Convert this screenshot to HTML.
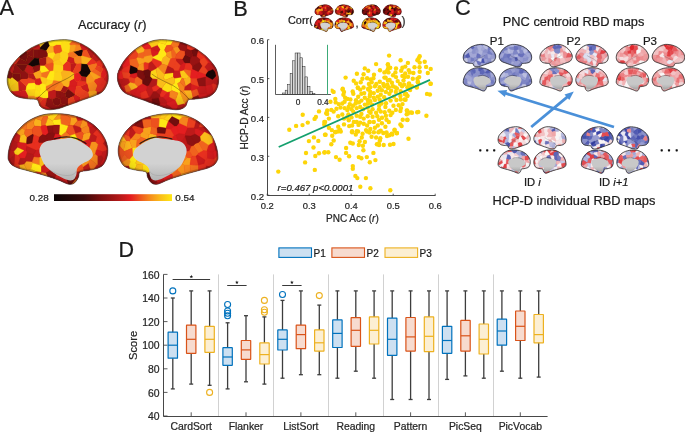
<!DOCTYPE html>
<html><head><meta charset="utf-8"><style>
html,body{margin:0;padding:0;background:#fff;}
svg{display:block;}
text{font-family:"Liberation Sans", sans-serif;stroke-width:0.22px;}
svg{will-change:transform;}
</style></head><body>
<svg width="685" height="432" viewBox="0 0 685 432">
<defs><clipPath id="k1"><path d="M14.4,162.0C14.3,158.7 14.3,156.3 15.2,152.0C16.1,147.7 17.5,140.9 20.0,136.0C22.5,131.1 26.9,126.4 30.2,122.4C33.5,118.4 36.6,115.1 40.0,112.0C43.4,108.9 46.7,106.7 50.4,104.0C54.1,101.3 57.5,98.5 62.0,96.0C66.5,93.5 72.2,90.8 77.2,88.8C82.2,86.8 86.4,85.4 92.0,84.0C97.6,82.6 103.7,81.2 110.8,80.4C117.9,79.6 126.6,78.6 134.4,79.4C142.2,80.2 150.0,82.2 157.8,85.4C165.6,88.6 174.1,93.2 181.4,98.8C188.7,104.4 196.1,112.3 201.4,119.0C206.7,125.7 210.7,133.7 213.2,139.2C215.7,144.7 216.3,147.4 216.6,152.0C216.9,156.6 216.8,161.5 214.8,166.8C212.8,172.1 209.3,179.4 204.8,183.6C200.3,187.8 194.1,189.4 188.0,192.0C181.9,194.6 174.2,196.8 168.0,199.0C161.8,201.2 157.0,203.2 151.0,205.4C145.0,207.6 137.6,210.0 132.0,212.0C126.4,214.0 122.9,215.9 117.6,217.2C112.3,218.5 104.9,219.5 100.0,219.6C95.1,219.7 91.3,218.9 88.0,217.6C84.7,216.3 81.9,214.4 80.0,212.0C78.1,209.6 77.8,205.1 76.6,203.0C75.4,200.9 75.8,200.0 73.0,199.2C70.2,198.4 64.8,198.5 60.0,198.0C55.2,197.5 48.8,197.0 44.0,196.0C39.2,195.0 34.8,194.2 31.0,192.0C27.2,189.8 23.5,186.3 21.0,183.0C18.5,179.7 17.1,175.5 16.0,172.0C14.9,168.5 14.5,165.3 14.4,162.0Z"/></clipPath><radialGradient id="r2" cx="0.5" cy="0.42" r="0.62"><stop offset="0.62" stop-color="#000" stop-opacity="0"/><stop offset="1" stop-color="#000" stop-opacity="0.18"/></radialGradient><clipPath id="k3"><path d="M437.2,162.0C437.3,158.7 437.3,156.3 436.4,152.0C435.5,147.7 434.1,140.9 431.6,136.0C429.1,131.1 424.7,126.4 421.4,122.4C418.1,118.4 415.0,115.1 411.6,112.0C408.2,108.9 404.9,106.7 401.2,104.0C397.5,101.3 394.1,98.5 389.6,96.0C385.1,93.5 379.4,90.8 374.4,88.8C369.4,86.8 365.2,85.4 359.6,84.0C354.0,82.6 347.9,81.2 340.8,80.4C333.7,79.6 325.0,78.6 317.2,79.4C309.4,80.2 301.6,82.2 293.8,85.4C286.0,88.6 277.5,93.2 270.2,98.8C262.9,104.4 255.5,112.3 250.2,119.0C244.9,125.7 240.9,133.7 238.4,139.2C235.9,144.7 235.3,147.4 235.0,152.0C234.7,156.6 234.8,161.5 236.8,166.8C238.8,172.1 242.3,179.4 246.8,183.6C251.3,187.8 257.5,189.4 263.6,192.0C269.7,194.6 277.4,196.8 283.6,199.0C289.8,201.2 294.6,203.2 300.6,205.4C306.6,207.6 314.0,210.0 319.6,212.0C325.2,214.0 328.7,215.9 334.0,217.2C339.3,218.5 346.7,219.5 351.6,219.6C356.5,219.7 360.3,218.9 363.6,217.6C366.9,216.3 369.7,214.4 371.6,212.0C373.5,209.6 373.8,205.1 375.0,203.0C376.2,200.9 375.8,200.0 378.6,199.2C381.4,198.4 386.8,198.5 391.6,198.0C396.4,197.5 402.8,197.0 407.6,196.0C412.4,195.0 416.8,194.2 420.6,192.0C424.4,189.8 428.1,186.3 430.6,183.0C433.1,179.7 434.5,175.5 435.6,172.0C436.7,168.5 437.1,165.3 437.2,162.0Z"/></clipPath><radialGradient id="r4" cx="0.5" cy="0.42" r="0.62"><stop offset="0.62" stop-color="#000" stop-opacity="0"/><stop offset="1" stop-color="#000" stop-opacity="0.18"/></radialGradient><clipPath id="k5"><path d="M16.0,314.0C16.2,309.3 17.0,301.0 19.0,294.0C21.0,287.0 24.2,278.7 28.0,272.0C31.8,265.3 36.7,259.3 42.0,254.0C47.3,248.7 53.0,244.0 60.0,240.0C67.0,236.0 75.7,232.1 84.0,230.0C92.3,227.9 101.3,227.4 110.0,227.2C118.7,227.0 127.7,227.7 136.0,229.0C144.3,230.3 152.3,232.2 160.0,235.0C167.7,237.8 175.7,241.8 182.0,246.0C188.3,250.2 193.3,254.7 198.0,260.0C202.7,265.3 207.1,272.0 210.0,278.0C212.9,284.0 214.7,290.0 215.4,296.0C216.1,302.0 215.6,308.3 214.0,314.0C212.4,319.7 209.3,326.2 206.0,330.0C202.7,333.8 199.0,335.2 194.0,337.0C189.0,338.8 181.7,339.8 176.0,341.0C170.3,342.2 163.2,341.8 160.0,344.0C156.8,346.2 158.7,350.5 157.0,354.0C155.3,357.5 152.8,362.5 150.0,365.0C147.2,367.5 143.7,369.0 140.0,369.0C136.3,369.0 132.3,366.7 128.0,365.0C123.7,363.3 119.3,361.0 114.0,359.0C108.7,357.0 102.3,355.0 96.0,353.0C89.7,351.0 83.0,349.0 76.0,347.0C69.0,345.0 60.7,342.8 54.0,341.0C47.3,339.2 41.0,337.8 36.0,336.0C31.0,334.2 27.0,332.3 24.0,330.0C21.0,327.7 19.3,324.7 18.0,322.0C16.7,319.3 15.8,318.7 16.0,314.0Z"/></clipPath><radialGradient id="r6" cx="0.5" cy="0.42" r="0.62"><stop offset="0.62" stop-color="#000" stop-opacity="0"/><stop offset="1" stop-color="#000" stop-opacity="0.18"/></radialGradient><linearGradient id="g7" x1="0" y1="0" x2="0" y2="1"><stop offset="0" stop-color="#d2d2d2"/><stop offset="0.6" stop-color="#d2d2d2"/><stop offset="1" stop-color="#b4b4b4"/></linearGradient><clipPath id="k8"><path d="M436.0,314.0C435.8,309.3 435.0,301.0 433.0,294.0C431.0,287.0 427.8,278.7 424.0,272.0C420.2,265.3 415.3,259.3 410.0,254.0C404.7,248.7 399.0,244.0 392.0,240.0C385.0,236.0 376.3,232.1 368.0,230.0C359.7,227.9 350.7,227.4 342.0,227.2C333.3,227.0 324.3,227.7 316.0,229.0C307.7,230.3 299.7,232.2 292.0,235.0C284.3,237.8 276.3,241.8 270.0,246.0C263.7,250.2 258.7,254.7 254.0,260.0C249.3,265.3 244.9,272.0 242.0,278.0C239.1,284.0 237.3,290.0 236.6,296.0C235.9,302.0 236.4,308.3 238.0,314.0C239.6,319.7 242.7,326.2 246.0,330.0C249.3,333.8 253.0,335.2 258.0,337.0C263.0,338.8 270.3,339.8 276.0,341.0C281.7,342.2 288.8,341.8 292.0,344.0C295.2,346.2 293.3,350.5 295.0,354.0C296.7,357.5 299.2,362.5 302.0,365.0C304.8,367.5 308.3,369.0 312.0,369.0C315.7,369.0 319.7,366.7 324.0,365.0C328.3,363.3 332.7,361.0 338.0,359.0C343.3,357.0 349.7,355.0 356.0,353.0C362.3,351.0 369.0,349.0 376.0,347.0C383.0,345.0 391.3,342.8 398.0,341.0C404.7,339.2 411.0,337.8 416.0,336.0C421.0,334.2 425.0,332.3 428.0,330.0C431.0,327.7 432.7,324.7 434.0,322.0C435.3,319.3 436.2,318.7 436.0,314.0Z"/></clipPath><radialGradient id="r9" cx="0.5" cy="0.42" r="0.62"><stop offset="0.62" stop-color="#000" stop-opacity="0"/><stop offset="1" stop-color="#000" stop-opacity="0.18"/></radialGradient><linearGradient id="g10" x1="0" y1="0" x2="0" y2="1"><stop offset="0" stop-color="#d2d2d2"/><stop offset="0.6" stop-color="#d2d2d2"/><stop offset="1" stop-color="#b4b4b4"/></linearGradient><linearGradient id="hotbar" x1="0" x2="1" y1="0" y2="0"><stop offset="0.00" stop-color="#0c0505"/><stop offset="0.05" stop-color="#150606"/><stop offset="0.10" stop-color="#1f0707"/><stop offset="0.15" stop-color="#280808"/><stop offset="0.20" stop-color="#320909"/><stop offset="0.25" stop-color="#3c0a0a"/><stop offset="0.30" stop-color="#510b0b"/><stop offset="0.35" stop-color="#670d0d"/><stop offset="0.40" stop-color="#7d0f0f"/><stop offset="0.45" stop-color="#8e1212"/><stop offset="0.50" stop-color="#a01515"/><stop offset="0.55" stop-color="#b21919"/><stop offset="0.60" stop-color="#ca1b1c"/><stop offset="0.65" stop-color="#e41e20"/><stop offset="0.70" stop-color="#ea401f"/><stop offset="0.75" stop-color="#f0631e"/><stop offset="0.80" stop-color="#f5841d"/><stop offset="0.85" stop-color="#f8a11c"/><stop offset="0.90" stop-color="#fabc1a"/><stop offset="0.95" stop-color="#fcd217"/><stop offset="1.00" stop-color="#ffe814"/></linearGradient><clipPath id="k11"><path d="M629.6,23.6C629.6,23.0 629.6,22.6 629.7,21.8C629.9,21.1 630.2,19.9 630.6,19.1C631.1,18.2 631.9,17.4 632.5,16.7C633.1,16.0 633.7,15.4 634.3,14.9C634.9,14.3 635.5,13.9 636.2,13.5C636.9,13.0 637.5,12.5 638.3,12.1C639.1,11.6 640.2,11.2 641.1,10.8C642.0,10.5 642.8,10.2 643.8,10.0C644.8,9.8 645.9,9.5 647.2,9.4C648.5,9.2 650.1,9.1 651.6,9.2C653.0,9.3 654.4,9.7 655.8,10.2C657.3,10.8 658.8,11.6 660.2,12.6C661.5,13.6 662.8,14.9 663.8,16.1C664.8,17.3 665.5,18.7 666.0,19.6C666.4,20.6 666.6,21.0 666.6,21.8C666.6,22.6 666.6,23.5 666.3,24.4C665.9,25.3 665.3,26.6 664.4,27.3C663.6,28.1 662.5,28.3 661.4,28.8C660.2,29.2 658.8,29.6 657.7,30.0C656.6,30.4 655.7,30.8 654.6,31.1C653.5,31.5 652.1,31.9 651.1,32.3C650.1,32.6 649.5,33.0 648.5,33.2C647.5,33.4 646.2,33.6 645.3,33.6C644.4,33.6 643.7,33.5 643.1,33.3C642.5,33.0 642.0,32.7 641.6,32.3C641.3,31.9 641.2,31.1 641.0,30.7C640.8,30.3 640.8,30.2 640.3,30.0C639.8,29.9 638.8,29.9 637.9,29.8C637.1,29.7 635.9,29.7 635.0,29.5C634.1,29.3 633.3,29.2 632.6,28.8C631.9,28.4 631.3,27.8 630.8,27.2C630.4,26.7 630.1,25.9 629.9,25.3C629.7,24.7 629.6,24.2 629.6,23.6Z"/></clipPath><radialGradient id="r12" cx="0.5" cy="0.42" r="0.62"><stop offset="0.62" stop-color="#000" stop-opacity="0"/><stop offset="1" stop-color="#000" stop-opacity="0.12"/></radialGradient><clipPath id="k13"><path d="M628.8,52.3C628.8,51.4 629.0,49.8 629.4,48.4C629.7,47.0 630.3,45.4 631.1,44.0C631.8,42.7 632.7,41.5 633.7,40.5C634.7,39.4 635.8,38.5 637.1,37.7C638.5,36.9 640.1,36.2 641.7,35.8C643.3,35.3 645.0,35.2 646.6,35.2C648.3,35.2 650.0,35.3 651.5,35.6C653.1,35.8 654.6,36.2 656.1,36.7C657.6,37.3 659.1,38.1 660.3,38.9C661.5,39.7 662.4,40.6 663.3,41.7C664.2,42.7 665.0,44.0 665.6,45.2C666.1,46.4 666.5,47.6 666.6,48.8C666.7,50.0 666.6,51.2 666.3,52.3C666.0,53.5 665.4,54.7 664.8,55.5C664.2,56.3 663.5,56.5 662.5,56.9C661.6,57.2 660.2,57.4 659.1,57.7C658.1,57.9 656.7,57.8 656.1,58.3C655.5,58.7 655.8,59.5 655.5,60.2C655.2,60.9 654.7,61.9 654.2,62.4C653.7,62.9 653.0,63.2 652.3,63.2C651.6,63.2 650.9,62.7 650.0,62.4C649.2,62.1 648.4,61.6 647.4,61.2C646.4,60.8 645.2,60.4 644.0,60.0C642.8,59.6 641.5,59.3 640.2,58.9C638.8,58.5 637.3,58.0 636.0,57.7C634.7,57.3 633.5,57.0 632.6,56.7C631.6,56.3 630.9,56.0 630.3,55.5C629.7,55.0 629.4,54.4 629.2,53.9C628.9,53.4 628.8,53.3 628.8,52.3Z"/></clipPath><radialGradient id="r14" cx="0.5" cy="0.42" r="0.62"><stop offset="0.62" stop-color="#000" stop-opacity="0"/><stop offset="1" stop-color="#000" stop-opacity="0.1"/></radialGradient><linearGradient id="g15" x1="0" y1="0" x2="0" y2="1"><stop offset="0" stop-color="#d2d2d2"/><stop offset="0.6" stop-color="#d2d2d2"/><stop offset="1" stop-color="#b4b4b4"/></linearGradient><clipPath id="k16"><path d="M707.2,23.6C707.2,23.0 707.2,22.6 707.1,21.8C706.9,21.1 706.6,19.9 706.2,19.1C705.7,18.2 704.9,17.4 704.3,16.7C703.7,16.0 703.1,15.4 702.5,14.9C701.9,14.3 701.3,13.9 700.6,13.5C699.9,13.0 699.3,12.5 698.5,12.1C697.7,11.6 696.6,11.2 695.7,10.8C694.8,10.5 694.0,10.2 693.0,10.0C692.0,9.8 690.9,9.5 689.6,9.4C688.3,9.2 686.7,9.1 685.2,9.2C683.8,9.3 682.4,9.7 681.0,10.2C679.5,10.8 678.0,11.6 676.6,12.6C675.3,13.6 674.0,14.9 673.0,16.1C672.0,17.3 671.3,18.7 670.8,19.6C670.4,20.6 670.2,21.0 670.2,21.8C670.2,22.6 670.2,23.5 670.5,24.4C670.9,25.3 671.5,26.6 672.4,27.3C673.2,28.1 674.3,28.3 675.4,28.8C676.6,29.2 678.0,29.6 679.1,30.0C680.2,30.4 681.1,30.8 682.2,31.1C683.3,31.5 684.7,31.9 685.7,32.3C686.7,32.6 687.3,33.0 688.3,33.2C689.3,33.4 690.6,33.6 691.5,33.6C692.4,33.6 693.1,33.5 693.7,33.3C694.3,33.0 694.8,32.7 695.2,32.3C695.5,31.9 695.6,31.1 695.8,30.7C696.0,30.3 696.0,30.2 696.5,30.0C697.0,29.9 698.0,29.9 698.9,29.8C699.7,29.7 700.9,29.7 701.8,29.5C702.7,29.3 703.5,29.2 704.2,28.8C704.9,28.4 705.5,27.8 706.0,27.2C706.4,26.7 706.7,25.9 706.9,25.3C707.1,24.7 707.2,24.2 707.2,23.6Z"/></clipPath><radialGradient id="r17" cx="0.5" cy="0.42" r="0.62"><stop offset="0.62" stop-color="#000" stop-opacity="0"/><stop offset="1" stop-color="#000" stop-opacity="0.12"/></radialGradient><clipPath id="k18"><path d="M707.2,52.3C707.2,51.4 707.0,49.8 706.6,48.4C706.3,47.0 705.7,45.4 704.9,44.0C704.2,42.7 703.3,41.5 702.3,40.5C701.3,39.4 700.2,38.5 698.9,37.7C697.5,36.9 695.9,36.2 694.3,35.8C692.7,35.3 691.0,35.2 689.4,35.2C687.7,35.2 686.0,35.3 684.5,35.6C682.9,35.8 681.4,36.2 679.9,36.7C678.4,37.3 676.9,38.1 675.7,38.9C674.5,39.7 673.6,40.6 672.7,41.7C671.8,42.7 671.0,44.0 670.4,45.2C669.9,46.4 669.5,47.6 669.4,48.8C669.3,50.0 669.4,51.2 669.7,52.3C670.0,53.5 670.6,54.7 671.2,55.5C671.8,56.3 672.5,56.5 673.5,56.9C674.4,57.2 675.8,57.4 676.9,57.7C677.9,57.9 679.3,57.8 679.9,58.3C680.5,58.7 680.2,59.5 680.5,60.2C680.8,60.9 681.3,61.9 681.8,62.4C682.3,62.9 683.0,63.2 683.7,63.2C684.4,63.2 685.1,62.7 686.0,62.4C686.8,62.1 687.6,61.6 688.6,61.2C689.6,60.8 690.8,60.4 692.0,60.0C693.2,59.6 694.5,59.3 695.8,58.9C697.2,58.5 698.7,58.0 700.0,57.7C701.3,57.3 702.5,57.0 703.4,56.7C704.4,56.3 705.1,56.0 705.7,55.5C706.3,55.0 706.6,54.4 706.8,53.9C707.1,53.4 707.2,53.3 707.2,52.3Z"/></clipPath><radialGradient id="r19" cx="0.5" cy="0.42" r="0.62"><stop offset="0.62" stop-color="#000" stop-opacity="0"/><stop offset="1" stop-color="#000" stop-opacity="0.1"/></radialGradient><linearGradient id="g20" x1="0" y1="0" x2="0" y2="1"><stop offset="0" stop-color="#d2d2d2"/><stop offset="0.6" stop-color="#d2d2d2"/><stop offset="1" stop-color="#b4b4b4"/></linearGradient><clipPath id="k21"><path d="M724.0,23.6C724.0,23.0 724.0,22.6 724.1,21.8C724.3,21.1 724.6,19.9 725.0,19.1C725.5,18.2 726.3,17.4 726.9,16.7C727.5,16.0 728.1,15.4 728.7,14.9C729.3,14.3 729.9,13.9 730.6,13.5C731.3,13.0 731.9,12.5 732.7,12.1C733.5,11.6 734.6,11.2 735.5,10.8C736.4,10.5 737.2,10.2 738.2,10.0C739.2,9.8 740.3,9.5 741.6,9.4C742.9,9.2 744.5,9.1 746.0,9.2C747.4,9.3 748.8,9.7 750.2,10.2C751.7,10.8 753.2,11.6 754.6,12.6C755.9,13.6 757.2,14.9 758.2,16.1C759.2,17.3 759.9,18.7 760.4,19.6C760.8,20.6 761.0,21.0 761.0,21.8C761.0,22.6 761.0,23.5 760.7,24.4C760.3,25.3 759.7,26.6 758.8,27.3C758.0,28.1 756.9,28.3 755.8,28.8C754.6,29.2 753.2,29.6 752.1,30.0C751.0,30.4 750.1,30.8 749.0,31.1C747.9,31.5 746.5,31.9 745.5,32.3C744.5,32.6 743.9,33.0 742.9,33.2C741.9,33.4 740.6,33.6 739.7,33.6C738.8,33.6 738.1,33.5 737.5,33.3C736.9,33.0 736.4,32.7 736.0,32.3C735.7,31.9 735.6,31.1 735.4,30.7C735.2,30.3 735.2,30.2 734.7,30.0C734.2,29.9 733.2,29.9 732.3,29.8C731.5,29.7 730.3,29.7 729.4,29.5C728.5,29.3 727.7,29.2 727.0,28.8C726.3,28.4 725.7,27.8 725.2,27.2C724.8,26.7 724.5,25.9 724.3,25.3C724.1,24.7 724.0,24.2 724.0,23.6Z"/></clipPath><radialGradient id="r22" cx="0.5" cy="0.42" r="0.62"><stop offset="0.62" stop-color="#000" stop-opacity="0"/><stop offset="1" stop-color="#000" stop-opacity="0.12"/></radialGradient><clipPath id="k23"><path d="M723.2,52.3C723.2,51.4 723.4,49.8 723.8,48.4C724.1,47.0 724.7,45.4 725.5,44.0C726.2,42.7 727.1,41.5 728.1,40.5C729.1,39.4 730.2,38.5 731.5,37.7C732.9,36.9 734.5,36.2 736.1,35.8C737.7,35.3 739.4,35.2 741.0,35.2C742.7,35.2 744.4,35.3 745.9,35.6C747.5,35.8 749.0,36.2 750.5,36.7C752.0,37.3 753.5,38.1 754.7,38.9C755.9,39.7 756.8,40.6 757.7,41.7C758.6,42.7 759.4,44.0 760.0,45.2C760.5,46.4 760.9,47.6 761.0,48.8C761.1,50.0 761.0,51.2 760.7,52.3C760.4,53.5 759.8,54.7 759.2,55.5C758.6,56.3 757.9,56.5 756.9,56.9C756.0,57.2 754.6,57.4 753.5,57.7C752.5,57.9 751.1,57.8 750.5,58.3C749.9,58.7 750.2,59.5 749.9,60.2C749.6,60.9 749.1,61.9 748.6,62.4C748.1,62.9 747.4,63.2 746.7,63.2C746.0,63.2 745.3,62.7 744.4,62.4C743.6,62.1 742.8,61.6 741.8,61.2C740.8,60.8 739.6,60.4 738.4,60.0C737.2,59.6 735.9,59.3 734.6,58.9C733.2,58.5 731.7,58.0 730.4,57.7C729.1,57.3 727.9,57.0 727.0,56.7C726.0,56.3 725.3,56.0 724.7,55.5C724.1,55.0 723.8,54.4 723.6,53.9C723.3,53.4 723.2,53.3 723.2,52.3Z"/></clipPath><radialGradient id="r24" cx="0.5" cy="0.42" r="0.62"><stop offset="0.62" stop-color="#000" stop-opacity="0"/><stop offset="1" stop-color="#000" stop-opacity="0.1"/></radialGradient><linearGradient id="g25" x1="0" y1="0" x2="0" y2="1"><stop offset="0" stop-color="#d2d2d2"/><stop offset="0.6" stop-color="#d2d2d2"/><stop offset="1" stop-color="#b4b4b4"/></linearGradient><clipPath id="k26"><path d="M803.0,23.6C803.0,23.0 803.0,22.6 802.9,21.8C802.7,21.1 802.4,19.9 802.0,19.1C801.5,18.2 800.7,17.4 800.1,16.7C799.5,16.0 798.9,15.4 798.3,14.9C797.7,14.3 797.1,13.9 796.4,13.5C795.7,13.0 795.1,12.5 794.3,12.1C793.5,11.6 792.4,11.2 791.5,10.8C790.6,10.5 789.8,10.2 788.8,10.0C787.8,9.8 786.7,9.5 785.4,9.4C784.1,9.2 782.5,9.1 781.0,9.2C779.6,9.3 778.2,9.7 776.8,10.2C775.3,10.8 773.8,11.6 772.4,12.6C771.1,13.6 769.8,14.9 768.8,16.1C767.8,17.3 767.1,18.7 766.6,19.6C766.2,20.6 766.0,21.0 766.0,21.8C766.0,22.6 766.0,23.5 766.3,24.4C766.7,25.3 767.3,26.6 768.2,27.3C769.0,28.1 770.1,28.3 771.2,28.8C772.4,29.2 773.8,29.6 774.9,30.0C776.0,30.4 776.9,30.8 778.0,31.1C779.1,31.5 780.5,31.9 781.5,32.3C782.5,32.6 783.1,33.0 784.1,33.2C785.1,33.4 786.4,33.6 787.3,33.6C788.2,33.6 788.9,33.5 789.5,33.3C790.1,33.0 790.6,32.7 791.0,32.3C791.3,31.9 791.4,31.1 791.6,30.7C791.8,30.3 791.8,30.2 792.3,30.0C792.8,29.9 793.8,29.9 794.7,29.8C795.5,29.7 796.7,29.7 797.6,29.5C798.5,29.3 799.3,29.2 800.0,28.8C800.7,28.4 801.3,27.8 801.8,27.2C802.2,26.7 802.5,25.9 802.7,25.3C802.9,24.7 803.0,24.2 803.0,23.6Z"/></clipPath><radialGradient id="r27" cx="0.5" cy="0.42" r="0.62"><stop offset="0.62" stop-color="#000" stop-opacity="0"/><stop offset="1" stop-color="#000" stop-opacity="0.12"/></radialGradient><clipPath id="k28"><path d="M803.0,52.3C803.0,51.4 802.8,49.8 802.4,48.4C802.1,47.0 801.5,45.4 800.7,44.0C800.0,42.7 799.1,41.5 798.1,40.5C797.1,39.4 796.0,38.5 794.7,37.7C793.3,36.9 791.7,36.2 790.1,35.8C788.5,35.3 786.8,35.2 785.2,35.2C783.5,35.2 781.8,35.3 780.3,35.6C778.7,35.8 777.2,36.2 775.7,36.7C774.2,37.3 772.7,38.1 771.5,38.9C770.3,39.7 769.4,40.6 768.5,41.7C767.6,42.7 766.8,44.0 766.2,45.2C765.7,46.4 765.3,47.6 765.2,48.8C765.1,50.0 765.2,51.2 765.5,52.3C765.8,53.5 766.4,54.7 767.0,55.5C767.6,56.3 768.3,56.5 769.3,56.9C770.2,57.2 771.6,57.4 772.7,57.7C773.7,57.9 775.1,57.8 775.7,58.3C776.3,58.7 776.0,59.5 776.3,60.2C776.6,60.9 777.1,61.9 777.6,62.4C778.1,62.9 778.8,63.2 779.5,63.2C780.2,63.2 780.9,62.7 781.8,62.4C782.6,62.1 783.4,61.6 784.4,61.2C785.4,60.8 786.6,60.4 787.8,60.0C789.0,59.6 790.3,59.3 791.6,58.9C793.0,58.5 794.5,58.0 795.8,57.7C797.1,57.3 798.3,57.0 799.2,56.7C800.2,56.3 800.9,56.0 801.5,55.5C802.1,55.0 802.4,54.4 802.6,53.9C802.9,53.4 803.0,53.3 803.0,52.3Z"/></clipPath><radialGradient id="r29" cx="0.5" cy="0.42" r="0.62"><stop offset="0.62" stop-color="#000" stop-opacity="0"/><stop offset="1" stop-color="#000" stop-opacity="0.1"/></radialGradient><linearGradient id="g30" x1="0" y1="0" x2="0" y2="1"><stop offset="0" stop-color="#d2d2d2"/><stop offset="0.6" stop-color="#d2d2d2"/><stop offset="1" stop-color="#b4b4b4"/></linearGradient><clipPath id="k31"><path d="M926.4,115.2C926.4,114.1 926.4,113.4 926.7,112.0C927.0,110.6 927.4,108.5 928.2,106.9C929.0,105.3 930.4,103.8 931.5,102.5C932.6,101.3 933.5,100.2 934.6,99.2C935.7,98.2 936.8,97.5 938.0,96.7C939.2,95.8 940.3,94.9 941.7,94.1C943.1,93.3 945.0,92.4 946.6,91.8C948.2,91.2 949.5,90.7 951.3,90.3C953.1,89.8 955.1,89.4 957.4,89.1C959.7,88.9 962.5,88.5 965.0,88.8C967.5,89.1 970.0,89.7 972.5,90.7C975.0,91.8 977.7,93.2 980.1,95.0C982.4,96.8 984.8,99.3 986.5,101.5C988.2,103.6 989.5,106.2 990.3,107.9C991.1,109.7 991.3,110.5 991.4,112.0C991.5,113.5 991.5,115.0 990.8,116.7C990.2,118.4 989.0,120.8 987.6,122.1C986.2,123.4 984.2,124.0 982.2,124.8C980.2,125.6 977.8,126.3 975.8,127.0C973.8,127.7 972.2,128.4 970.3,129.1C968.4,129.8 966.0,130.5 964.2,131.2C962.4,131.8 961.3,132.4 959.6,132.8C957.9,133.2 955.5,133.6 953.9,133.6C952.3,133.6 951.1,133.4 950.1,133.0C949.0,132.6 948.1,131.9 947.5,131.2C946.9,130.4 946.8,129.0 946.4,128.3C946.0,127.6 946.1,127.3 945.2,127.1C944.3,126.8 942.6,126.9 941.1,126.7C939.5,126.5 937.5,126.4 935.9,126.1C934.4,125.7 933.0,125.5 931.7,124.8C930.5,124.1 929.3,123.0 928.5,121.9C927.7,120.8 927.3,119.5 926.9,118.4C926.6,117.3 926.4,116.3 926.4,115.2Z"/></clipPath><radialGradient id="r32" cx="0.5" cy="0.42" r="0.62"><stop offset="0.62" stop-color="#000" stop-opacity="0"/><stop offset="1" stop-color="#000" stop-opacity="0.08"/></radialGradient><clipPath id="k33"><path d="M1063.4,115.2C1063.4,114.1 1063.4,113.4 1063.1,112.0C1062.8,110.6 1062.4,108.5 1061.6,106.9C1060.8,105.3 1059.4,103.8 1058.3,102.5C1057.2,101.3 1056.3,100.2 1055.2,99.2C1054.1,98.2 1053.0,97.5 1051.8,96.7C1050.6,95.8 1049.5,94.9 1048.1,94.1C1046.7,93.3 1044.8,92.4 1043.2,91.8C1041.6,91.2 1040.3,90.7 1038.5,90.3C1036.7,89.8 1034.7,89.4 1032.4,89.1C1030.1,88.9 1027.3,88.5 1024.8,88.8C1022.3,89.1 1019.8,89.7 1017.3,90.7C1014.8,91.8 1012.1,93.2 1009.7,95.0C1007.4,96.8 1005.0,99.3 1003.3,101.5C1001.6,103.6 1000.3,106.2 999.5,107.9C998.7,109.7 998.5,110.5 998.4,112.0C998.3,113.5 998.3,115.0 999.0,116.7C999.6,118.4 1000.8,120.8 1002.2,122.1C1003.6,123.4 1005.6,124.0 1007.6,124.8C1009.6,125.6 1012.0,126.3 1014.0,127.0C1016.0,127.7 1017.6,128.4 1019.5,129.1C1021.4,129.8 1023.8,130.5 1025.6,131.2C1027.4,131.8 1028.5,132.4 1030.2,132.8C1031.9,133.2 1034.3,133.6 1035.9,133.6C1037.5,133.6 1038.7,133.4 1039.7,133.0C1040.8,132.6 1041.7,131.9 1042.3,131.2C1042.9,130.4 1043.0,129.0 1043.4,128.3C1043.8,127.6 1043.7,127.3 1044.6,127.1C1045.5,126.8 1047.2,126.9 1048.7,126.7C1050.3,126.5 1052.3,126.4 1053.9,126.1C1055.4,125.7 1056.8,125.5 1058.1,124.8C1059.3,124.1 1060.5,123.0 1061.3,121.9C1062.1,120.8 1062.5,119.5 1062.9,118.4C1063.2,117.3 1063.4,116.3 1063.4,115.2Z"/></clipPath><radialGradient id="r34" cx="0.5" cy="0.42" r="0.62"><stop offset="0.62" stop-color="#000" stop-opacity="0"/><stop offset="1" stop-color="#000" stop-opacity="0.08"/></radialGradient><clipPath id="k35"><path d="M926.4,164.0C926.5,162.5 926.7,159.8 927.4,157.4C928.0,155.1 929.1,152.4 930.3,150.2C931.6,148.0 933.1,146.0 934.9,144.2C936.6,142.5 938.5,140.9 940.7,139.6C943.0,138.3 945.9,137.0 948.6,136.3C951.3,135.6 954.2,135.5 957.0,135.4C959.9,135.3 962.8,135.6 965.5,136.0C968.2,136.4 970.8,137.0 973.3,138.0C975.8,138.9 978.4,140.2 980.5,141.6C982.6,143.0 984.2,144.5 985.7,146.2C987.2,148.0 988.7,150.2 989.6,152.2C990.6,154.1 991.2,156.1 991.4,158.1C991.6,160.1 991.5,162.2 990.9,164.0C990.4,165.9 989.4,168.1 988.3,169.3C987.2,170.6 986.1,171.0 984.4,171.6C982.8,172.2 980.4,172.6 978.6,173.0C976.7,173.3 974.4,173.2 973.3,173.9C972.3,174.7 972.9,176.1 972.4,177.2C971.8,178.4 971.0,180.1 970.1,180.9C969.2,181.7 968.0,182.2 966.8,182.2C965.6,182.2 964.3,181.4 962.9,180.9C961.5,180.3 960.1,179.6 958.3,178.9C956.6,178.2 954.5,177.6 952.5,176.9C950.4,176.3 948.2,175.6 946.0,174.9C943.7,174.3 941.0,173.6 938.8,173.0C936.6,172.4 934.5,171.9 932.9,171.3C931.3,170.7 930.0,170.1 929.0,169.3C928.0,168.6 927.5,167.6 927.1,166.7C926.6,165.8 926.3,165.6 926.4,164.0Z"/></clipPath><radialGradient id="r36" cx="0.5" cy="0.42" r="0.62"><stop offset="0.62" stop-color="#000" stop-opacity="0"/><stop offset="1" stop-color="#000" stop-opacity="0.08"/></radialGradient><linearGradient id="g37" x1="0" y1="0" x2="0" y2="1"><stop offset="0" stop-color="#c8c8c8"/><stop offset="0.6" stop-color="#c8c8c8"/><stop offset="1" stop-color="#a8a8a8"/></linearGradient><clipPath id="k38"><path d="M1063.4,164.0C1063.3,162.5 1063.1,159.8 1062.4,157.4C1061.8,155.1 1060.7,152.4 1059.5,150.2C1058.2,148.0 1056.7,146.0 1054.9,144.2C1053.2,142.5 1051.3,140.9 1049.1,139.6C1046.8,138.3 1043.9,137.0 1041.2,136.3C1038.5,135.6 1035.6,135.5 1032.8,135.4C1029.9,135.3 1027.0,135.6 1024.3,136.0C1021.6,136.4 1019.0,137.0 1016.5,138.0C1014.0,138.9 1011.4,140.2 1009.3,141.6C1007.2,143.0 1005.6,144.5 1004.1,146.2C1002.6,148.0 1001.1,150.2 1000.2,152.2C999.2,154.1 998.6,156.1 998.4,158.1C998.2,160.1 998.3,162.2 998.9,164.0C999.4,165.9 1000.4,168.1 1001.5,169.3C1002.6,170.6 1003.7,171.0 1005.4,171.6C1007.0,172.2 1009.4,172.6 1011.2,173.0C1013.1,173.3 1015.4,173.2 1016.5,173.9C1017.5,174.7 1016.9,176.1 1017.4,177.2C1018.0,178.4 1018.8,180.1 1019.7,180.9C1020.6,181.7 1021.8,182.2 1023.0,182.2C1024.2,182.2 1025.5,181.4 1026.9,180.9C1028.3,180.3 1029.7,179.6 1031.5,178.9C1033.2,178.2 1035.3,177.6 1037.3,176.9C1039.4,176.3 1041.6,175.6 1043.8,174.9C1046.1,174.3 1048.8,173.6 1051.0,173.0C1053.2,172.4 1055.3,171.9 1056.9,171.3C1058.5,170.7 1059.8,170.1 1060.8,169.3C1061.8,168.6 1062.3,167.6 1062.7,166.7C1063.2,165.8 1063.5,165.6 1063.4,164.0Z"/></clipPath><radialGradient id="r39" cx="0.5" cy="0.42" r="0.62"><stop offset="0.62" stop-color="#000" stop-opacity="0"/><stop offset="1" stop-color="#000" stop-opacity="0.08"/></radialGradient><linearGradient id="g40" x1="0" y1="0" x2="0" y2="1"><stop offset="0" stop-color="#c8c8c8"/><stop offset="0.6" stop-color="#c8c8c8"/><stop offset="1" stop-color="#a8a8a8"/></linearGradient><clipPath id="k41"><path d="M1079.6,115.2C1079.6,114.1 1079.6,113.4 1079.9,112.0C1080.2,110.6 1080.6,108.5 1081.4,106.9C1082.2,105.3 1083.6,103.8 1084.7,102.5C1085.8,101.3 1086.7,100.2 1087.8,99.2C1088.9,98.2 1090.0,97.5 1091.2,96.7C1092.4,95.8 1093.5,94.9 1094.9,94.1C1096.3,93.3 1098.2,92.4 1099.8,91.8C1101.4,91.2 1102.7,90.7 1104.5,90.3C1106.3,89.8 1108.3,89.4 1110.6,89.1C1112.9,88.9 1115.7,88.5 1118.2,88.8C1120.7,89.1 1123.2,89.7 1125.7,90.7C1128.2,91.8 1130.9,93.2 1133.3,95.0C1135.6,96.8 1138.0,99.3 1139.7,101.5C1141.4,103.6 1142.7,106.2 1143.5,107.9C1144.3,109.7 1144.5,110.5 1144.6,112.0C1144.7,113.5 1144.7,115.0 1144.0,116.7C1143.4,118.4 1142.2,120.8 1140.8,122.1C1139.4,123.4 1137.4,124.0 1135.4,124.8C1133.4,125.6 1131.0,126.3 1129.0,127.0C1127.0,127.7 1125.4,128.4 1123.5,129.1C1121.6,129.8 1119.2,130.5 1117.4,131.2C1115.6,131.8 1114.5,132.4 1112.8,132.8C1111.1,133.2 1108.7,133.6 1107.1,133.6C1105.5,133.6 1104.3,133.4 1103.3,133.0C1102.2,132.6 1101.3,131.9 1100.7,131.2C1100.1,130.4 1100.0,129.0 1099.6,128.3C1099.2,127.6 1099.3,127.3 1098.4,127.1C1097.5,126.8 1095.8,126.9 1094.3,126.7C1092.7,126.5 1090.7,126.4 1089.1,126.1C1087.6,125.7 1086.2,125.5 1084.9,124.8C1083.7,124.1 1082.5,123.0 1081.7,121.9C1080.9,120.8 1080.5,119.5 1080.1,118.4C1079.8,117.3 1079.6,116.3 1079.6,115.2Z"/></clipPath><radialGradient id="r42" cx="0.5" cy="0.42" r="0.62"><stop offset="0.62" stop-color="#000" stop-opacity="0"/><stop offset="1" stop-color="#000" stop-opacity="0.08"/></radialGradient><clipPath id="k43"><path d="M1216.6,115.2C1216.6,114.1 1216.6,113.4 1216.3,112.0C1216.0,110.6 1215.6,108.5 1214.8,106.9C1214.0,105.3 1212.6,103.8 1211.5,102.5C1210.4,101.3 1209.5,100.2 1208.4,99.2C1207.3,98.2 1206.2,97.5 1205.0,96.7C1203.8,95.8 1202.7,94.9 1201.3,94.1C1199.9,93.3 1198.0,92.4 1196.4,91.8C1194.8,91.2 1193.5,90.7 1191.7,90.3C1189.9,89.8 1187.9,89.4 1185.6,89.1C1183.3,88.9 1180.5,88.5 1178.0,88.8C1175.5,89.1 1173.0,89.7 1170.5,90.7C1168.0,91.8 1165.3,93.2 1162.9,95.0C1160.6,96.8 1158.2,99.3 1156.5,101.5C1154.8,103.6 1153.5,106.2 1152.7,107.9C1151.9,109.7 1151.7,110.5 1151.6,112.0C1151.5,113.5 1151.5,115.0 1152.2,116.7C1152.8,118.4 1154.0,120.8 1155.4,122.1C1156.8,123.4 1158.8,124.0 1160.8,124.8C1162.8,125.6 1165.2,126.3 1167.2,127.0C1169.2,127.7 1170.8,128.4 1172.7,129.1C1174.6,129.8 1177.0,130.5 1178.8,131.2C1180.6,131.8 1181.7,132.4 1183.4,132.8C1185.1,133.2 1187.5,133.6 1189.1,133.6C1190.7,133.6 1191.9,133.4 1192.9,133.0C1194.0,132.6 1194.9,131.9 1195.5,131.2C1196.1,130.4 1196.2,129.0 1196.6,128.3C1197.0,127.6 1196.9,127.3 1197.8,127.1C1198.7,126.8 1200.4,126.9 1201.9,126.7C1203.5,126.5 1205.5,126.4 1207.1,126.1C1208.6,125.7 1210.0,125.5 1211.3,124.8C1212.5,124.1 1213.7,123.0 1214.5,121.9C1215.3,120.8 1215.7,119.5 1216.1,118.4C1216.4,117.3 1216.6,116.3 1216.6,115.2Z"/></clipPath><radialGradient id="r44" cx="0.5" cy="0.42" r="0.62"><stop offset="0.62" stop-color="#000" stop-opacity="0"/><stop offset="1" stop-color="#000" stop-opacity="0.08"/></radialGradient><clipPath id="k45"><path d="M1079.6,164.0C1079.7,162.5 1079.9,159.8 1080.6,157.4C1081.2,155.1 1082.3,152.4 1083.5,150.2C1084.8,148.0 1086.3,146.0 1088.1,144.2C1089.8,142.5 1091.7,140.9 1093.9,139.6C1096.2,138.3 1099.1,137.0 1101.8,136.3C1104.5,135.6 1107.4,135.5 1110.2,135.4C1113.1,135.3 1116.0,135.6 1118.7,136.0C1121.4,136.4 1124.0,137.0 1126.5,138.0C1129.0,138.9 1131.6,140.2 1133.7,141.6C1135.8,143.0 1137.4,144.5 1138.9,146.2C1140.4,148.0 1141.9,150.2 1142.8,152.2C1143.8,154.1 1144.4,156.1 1144.6,158.1C1144.8,160.1 1144.7,162.2 1144.1,164.0C1143.6,165.9 1142.6,168.1 1141.5,169.3C1140.4,170.6 1139.3,171.0 1137.6,171.6C1136.0,172.2 1133.6,172.6 1131.8,173.0C1129.9,173.3 1127.6,173.2 1126.5,173.9C1125.5,174.7 1126.1,176.1 1125.6,177.2C1125.0,178.4 1124.2,180.1 1123.3,180.9C1122.4,181.7 1121.2,182.2 1120.0,182.2C1118.8,182.2 1117.5,181.4 1116.1,180.9C1114.7,180.3 1113.3,179.6 1111.5,178.9C1109.8,178.2 1107.7,177.6 1105.7,176.9C1103.6,176.3 1101.4,175.6 1099.2,174.9C1096.9,174.3 1094.2,173.6 1092.0,173.0C1089.8,172.4 1087.7,171.9 1086.1,171.3C1084.5,170.7 1083.2,170.1 1082.2,169.3C1081.2,168.6 1080.7,167.6 1080.3,166.7C1079.8,165.8 1079.5,165.6 1079.6,164.0Z"/></clipPath><radialGradient id="r46" cx="0.5" cy="0.42" r="0.62"><stop offset="0.62" stop-color="#000" stop-opacity="0"/><stop offset="1" stop-color="#000" stop-opacity="0.08"/></radialGradient><linearGradient id="g47" x1="0" y1="0" x2="0" y2="1"><stop offset="0" stop-color="#c8c8c8"/><stop offset="0.6" stop-color="#c8c8c8"/><stop offset="1" stop-color="#a8a8a8"/></linearGradient><clipPath id="k48"><path d="M1216.6,164.0C1216.5,162.5 1216.3,159.8 1215.6,157.4C1215.0,155.1 1213.9,152.4 1212.7,150.2C1211.4,148.0 1209.9,146.0 1208.1,144.2C1206.4,142.5 1204.5,140.9 1202.3,139.6C1200.0,138.3 1197.1,137.0 1194.4,136.3C1191.7,135.6 1188.8,135.5 1186.0,135.4C1183.1,135.3 1180.2,135.6 1177.5,136.0C1174.8,136.4 1172.2,137.0 1169.7,138.0C1167.2,138.9 1164.6,140.2 1162.5,141.6C1160.4,143.0 1158.8,144.5 1157.3,146.2C1155.8,148.0 1154.3,150.2 1153.4,152.2C1152.4,154.1 1151.8,156.1 1151.6,158.1C1151.4,160.1 1151.5,162.2 1152.1,164.0C1152.6,165.9 1153.6,168.1 1154.7,169.3C1155.8,170.6 1156.9,171.0 1158.6,171.6C1160.2,172.2 1162.6,172.6 1164.4,173.0C1166.3,173.3 1168.6,173.2 1169.7,173.9C1170.7,174.7 1170.1,176.1 1170.6,177.2C1171.2,178.4 1172.0,180.1 1172.9,180.9C1173.8,181.7 1175.0,182.2 1176.2,182.2C1177.4,182.2 1178.7,181.4 1180.1,180.9C1181.5,180.3 1182.9,179.6 1184.7,178.9C1186.4,178.2 1188.5,177.6 1190.5,176.9C1192.6,176.3 1194.8,175.6 1197.0,174.9C1199.3,174.3 1202.0,173.6 1204.2,173.0C1206.4,172.4 1208.5,171.9 1210.1,171.3C1211.7,170.7 1213.0,170.1 1214.0,169.3C1215.0,168.6 1215.5,167.6 1215.9,166.7C1216.4,165.8 1216.7,165.6 1216.6,164.0Z"/></clipPath><radialGradient id="r49" cx="0.5" cy="0.42" r="0.62"><stop offset="0.62" stop-color="#000" stop-opacity="0"/><stop offset="1" stop-color="#000" stop-opacity="0.08"/></radialGradient><linearGradient id="g50" x1="0" y1="0" x2="0" y2="1"><stop offset="0" stop-color="#c8c8c8"/><stop offset="0.6" stop-color="#c8c8c8"/><stop offset="1" stop-color="#a8a8a8"/></linearGradient><clipPath id="k51"><path d="M1232.4,115.2C1232.4,114.1 1232.4,113.4 1232.7,112.0C1233.0,110.6 1233.4,108.5 1234.2,106.9C1235.0,105.3 1236.4,103.8 1237.5,102.5C1238.6,101.3 1239.5,100.2 1240.6,99.2C1241.7,98.2 1242.8,97.5 1244.0,96.7C1245.2,95.8 1246.3,94.9 1247.7,94.1C1249.1,93.3 1251.0,92.4 1252.6,91.8C1254.2,91.2 1255.5,90.7 1257.3,90.3C1259.1,89.8 1261.1,89.4 1263.4,89.1C1265.7,88.9 1268.5,88.5 1271.0,88.8C1273.5,89.1 1276.0,89.7 1278.5,90.7C1281.0,91.8 1283.7,93.2 1286.1,95.0C1288.4,96.8 1290.8,99.3 1292.5,101.5C1294.2,103.6 1295.5,106.2 1296.3,107.9C1297.1,109.7 1297.3,110.5 1297.4,112.0C1297.5,113.5 1297.5,115.0 1296.8,116.7C1296.2,118.4 1295.0,120.8 1293.6,122.1C1292.2,123.4 1290.2,124.0 1288.2,124.8C1286.2,125.6 1283.8,126.3 1281.8,127.0C1279.8,127.7 1278.2,128.4 1276.3,129.1C1274.4,129.8 1272.0,130.5 1270.2,131.2C1268.4,131.8 1267.3,132.4 1265.6,132.8C1263.9,133.2 1261.5,133.6 1259.9,133.6C1258.3,133.6 1257.1,133.4 1256.1,133.0C1255.0,132.6 1254.1,131.9 1253.5,131.2C1252.9,130.4 1252.8,129.0 1252.4,128.3C1252.0,127.6 1252.1,127.3 1251.2,127.1C1250.3,126.8 1248.6,126.9 1247.1,126.7C1245.5,126.5 1243.5,126.4 1241.9,126.1C1240.4,125.7 1239.0,125.5 1237.7,124.8C1236.5,124.1 1235.3,123.0 1234.5,121.9C1233.7,120.8 1233.3,119.5 1232.9,118.4C1232.6,117.3 1232.4,116.3 1232.4,115.2Z"/></clipPath><radialGradient id="r52" cx="0.5" cy="0.42" r="0.62"><stop offset="0.62" stop-color="#000" stop-opacity="0"/><stop offset="1" stop-color="#000" stop-opacity="0.08"/></radialGradient><clipPath id="k53"><path d="M1369.4,115.2C1369.4,114.1 1369.4,113.4 1369.1,112.0C1368.8,110.6 1368.4,108.5 1367.6,106.9C1366.8,105.3 1365.4,103.8 1364.3,102.5C1363.2,101.3 1362.3,100.2 1361.2,99.2C1360.1,98.2 1359.0,97.5 1357.8,96.7C1356.6,95.8 1355.5,94.9 1354.1,94.1C1352.7,93.3 1350.8,92.4 1349.2,91.8C1347.6,91.2 1346.3,90.7 1344.5,90.3C1342.7,89.8 1340.7,89.4 1338.4,89.1C1336.1,88.9 1333.3,88.5 1330.8,88.8C1328.3,89.1 1325.8,89.7 1323.3,90.7C1320.8,91.8 1318.1,93.2 1315.7,95.0C1313.4,96.8 1311.0,99.3 1309.3,101.5C1307.6,103.6 1306.3,106.2 1305.5,107.9C1304.7,109.7 1304.5,110.5 1304.4,112.0C1304.3,113.5 1304.3,115.0 1305.0,116.7C1305.6,118.4 1306.8,120.8 1308.2,122.1C1309.6,123.4 1311.6,124.0 1313.6,124.8C1315.6,125.6 1318.0,126.3 1320.0,127.0C1322.0,127.7 1323.6,128.4 1325.5,129.1C1327.4,129.8 1329.8,130.5 1331.6,131.2C1333.4,131.8 1334.5,132.4 1336.2,132.8C1337.9,133.2 1340.3,133.6 1341.9,133.6C1343.5,133.6 1344.7,133.4 1345.7,133.0C1346.8,132.6 1347.7,131.9 1348.3,131.2C1348.9,130.4 1349.0,129.0 1349.4,128.3C1349.8,127.6 1349.7,127.3 1350.6,127.1C1351.5,126.8 1353.2,126.9 1354.7,126.7C1356.3,126.5 1358.3,126.4 1359.9,126.1C1361.4,125.7 1362.8,125.5 1364.1,124.8C1365.3,124.1 1366.5,123.0 1367.3,121.9C1368.1,120.8 1368.5,119.5 1368.9,118.4C1369.2,117.3 1369.4,116.3 1369.4,115.2Z"/></clipPath><radialGradient id="r54" cx="0.5" cy="0.42" r="0.62"><stop offset="0.62" stop-color="#000" stop-opacity="0"/><stop offset="1" stop-color="#000" stop-opacity="0.08"/></radialGradient><clipPath id="k55"><path d="M1232.4,164.0C1232.5,162.5 1232.7,159.8 1233.4,157.4C1234.0,155.1 1235.1,152.4 1236.3,150.2C1237.6,148.0 1239.1,146.0 1240.9,144.2C1242.6,142.5 1244.5,140.9 1246.7,139.6C1249.0,138.3 1251.9,137.0 1254.6,136.3C1257.3,135.6 1260.2,135.5 1263.0,135.4C1265.9,135.3 1268.8,135.6 1271.5,136.0C1274.2,136.4 1276.8,137.0 1279.3,138.0C1281.8,138.9 1284.4,140.2 1286.5,141.6C1288.6,143.0 1290.2,144.5 1291.7,146.2C1293.2,148.0 1294.7,150.2 1295.6,152.2C1296.6,154.1 1297.2,156.1 1297.4,158.1C1297.6,160.1 1297.5,162.2 1296.9,164.0C1296.4,165.9 1295.4,168.1 1294.3,169.3C1293.2,170.6 1292.1,171.0 1290.4,171.6C1288.8,172.2 1286.4,172.6 1284.6,173.0C1282.7,173.3 1280.4,173.2 1279.3,173.9C1278.3,174.7 1278.9,176.1 1278.4,177.2C1277.8,178.4 1277.0,180.1 1276.1,180.9C1275.2,181.7 1274.0,182.2 1272.8,182.2C1271.6,182.2 1270.3,181.4 1268.9,180.9C1267.5,180.3 1266.1,179.6 1264.3,178.9C1262.6,178.2 1260.5,177.6 1258.5,176.9C1256.4,176.3 1254.2,175.6 1252.0,174.9C1249.7,174.3 1247.0,173.6 1244.8,173.0C1242.6,172.4 1240.5,171.9 1238.9,171.3C1237.3,170.7 1236.0,170.1 1235.0,169.3C1234.0,168.6 1233.5,167.6 1233.1,166.7C1232.6,165.8 1232.3,165.6 1232.4,164.0Z"/></clipPath><radialGradient id="r56" cx="0.5" cy="0.42" r="0.62"><stop offset="0.62" stop-color="#000" stop-opacity="0"/><stop offset="1" stop-color="#000" stop-opacity="0.08"/></radialGradient><linearGradient id="g57" x1="0" y1="0" x2="0" y2="1"><stop offset="0" stop-color="#c8c8c8"/><stop offset="0.6" stop-color="#c8c8c8"/><stop offset="1" stop-color="#a8a8a8"/></linearGradient><clipPath id="k58"><path d="M1369.4,164.0C1369.3,162.5 1369.1,159.8 1368.4,157.4C1367.8,155.1 1366.7,152.4 1365.5,150.2C1364.2,148.0 1362.7,146.0 1360.9,144.2C1359.2,142.5 1357.3,140.9 1355.1,139.6C1352.8,138.3 1349.9,137.0 1347.2,136.3C1344.5,135.6 1341.6,135.5 1338.8,135.4C1335.9,135.3 1333.0,135.6 1330.3,136.0C1327.6,136.4 1325.0,137.0 1322.5,138.0C1320.0,138.9 1317.4,140.2 1315.3,141.6C1313.2,143.0 1311.6,144.5 1310.1,146.2C1308.6,148.0 1307.1,150.2 1306.2,152.2C1305.2,154.1 1304.6,156.1 1304.4,158.1C1304.2,160.1 1304.3,162.2 1304.9,164.0C1305.4,165.9 1306.4,168.1 1307.5,169.3C1308.6,170.6 1309.7,171.0 1311.4,171.6C1313.0,172.2 1315.4,172.6 1317.2,173.0C1319.1,173.3 1321.4,173.2 1322.5,173.9C1323.5,174.7 1322.9,176.1 1323.4,177.2C1324.0,178.4 1324.8,180.1 1325.7,180.9C1326.6,181.7 1327.8,182.2 1329.0,182.2C1330.2,182.2 1331.5,181.4 1332.9,180.9C1334.3,180.3 1335.7,179.6 1337.5,178.9C1339.2,178.2 1341.3,177.6 1343.3,176.9C1345.4,176.3 1347.6,175.6 1349.8,174.9C1352.1,174.3 1354.8,173.6 1357.0,173.0C1359.2,172.4 1361.3,171.9 1362.9,171.3C1364.5,170.7 1365.8,170.1 1366.8,169.3C1367.8,168.6 1368.3,167.6 1368.7,166.7C1369.2,165.8 1369.5,165.6 1369.4,164.0Z"/></clipPath><radialGradient id="r59" cx="0.5" cy="0.42" r="0.62"><stop offset="0.62" stop-color="#000" stop-opacity="0"/><stop offset="1" stop-color="#000" stop-opacity="0.08"/></radialGradient><linearGradient id="g60" x1="0" y1="0" x2="0" y2="1"><stop offset="0" stop-color="#c8c8c8"/><stop offset="0.6" stop-color="#c8c8c8"/><stop offset="1" stop-color="#a8a8a8"/></linearGradient><clipPath id="k61"><path d="M996.0,279.7C996.0,278.6 996.0,277.9 996.3,276.5C996.6,275.1 997.0,273.0 997.8,271.4C998.6,269.8 1000.0,268.4 1001.0,267.1C1002.1,265.8 1003.1,264.7 1004.2,263.8C1005.3,262.8 1006.3,262.1 1007.5,261.2C1008.7,260.4 1009.8,259.5 1011.2,258.7C1012.6,257.9 1014.5,257.0 1016.1,256.4C1017.7,255.8 1019.0,255.3 1020.8,254.9C1022.6,254.4 1024.5,254.0 1026.8,253.7C1029.1,253.5 1031.8,253.1 1034.3,253.4C1036.8,253.7 1039.3,254.3 1041.8,255.3C1044.3,256.3 1047.0,257.8 1049.4,259.6C1051.7,261.4 1054.1,263.9 1055.7,266.0C1057.4,268.1 1058.7,270.7 1059.5,272.4C1060.3,274.2 1060.5,275.0 1060.6,276.5C1060.7,278.0 1060.7,279.5 1060.0,281.2C1059.4,282.9 1058.3,285.2 1056.8,286.5C1055.4,287.9 1053.4,288.4 1051.5,289.2C1049.5,290.0 1047.0,290.7 1045.1,291.4C1043.1,292.2 1041.6,292.8 1039.6,293.5C1037.7,294.2 1035.3,295.0 1033.6,295.6C1031.8,296.2 1030.7,296.8 1029.0,297.2C1027.3,297.6 1024.9,298.0 1023.3,298.0C1021.8,298.0 1020.6,297.8 1019.5,297.4C1018.4,297.0 1017.6,296.4 1017.0,295.6C1016.4,294.8 1016.2,293.4 1015.9,292.7C1015.5,292.0 1015.6,291.8 1014.7,291.5C1013.8,291.2 1012.1,291.3 1010.6,291.1C1009.0,291.0 1007.0,290.8 1005.5,290.5C1003.9,290.2 1002.5,289.9 1001.3,289.2C1000.1,288.5 998.9,287.4 998.1,286.4C997.3,285.3 996.9,284.0 996.5,282.9C996.2,281.7 996.0,280.7 996.0,279.7Z"/></clipPath><radialGradient id="r62" cx="0.5" cy="0.42" r="0.62"><stop offset="0.62" stop-color="#000" stop-opacity="0"/><stop offset="1" stop-color="#000" stop-opacity="0.08"/></radialGradient><clipPath id="k63"><path d="M1132.2,279.7C1132.2,278.6 1132.2,277.9 1131.9,276.5C1131.6,275.1 1131.2,273.0 1130.4,271.4C1129.6,269.8 1128.2,268.4 1127.2,267.1C1126.1,265.8 1125.1,264.7 1124.0,263.8C1122.9,262.8 1121.9,262.1 1120.7,261.2C1119.5,260.4 1118.4,259.5 1117.0,258.7C1115.6,257.9 1113.7,257.0 1112.1,256.4C1110.5,255.8 1109.2,255.3 1107.4,254.9C1105.6,254.4 1103.7,254.0 1101.4,253.7C1099.1,253.5 1096.4,253.1 1093.9,253.4C1091.4,253.7 1088.9,254.3 1086.4,255.3C1083.9,256.3 1081.2,257.8 1078.8,259.6C1076.5,261.4 1074.1,263.9 1072.5,266.0C1070.8,268.1 1069.5,270.7 1068.7,272.4C1067.9,274.2 1067.7,275.0 1067.6,276.5C1067.5,278.0 1067.5,279.5 1068.2,281.2C1068.8,282.9 1069.9,285.2 1071.4,286.5C1072.8,287.9 1074.8,288.4 1076.7,289.2C1078.7,290.0 1081.2,290.7 1083.1,291.4C1085.1,292.2 1086.6,292.8 1088.6,293.5C1090.5,294.2 1092.9,295.0 1094.6,295.6C1096.4,296.2 1097.5,296.8 1099.2,297.2C1100.9,297.6 1103.3,298.0 1104.9,298.0C1106.4,298.0 1107.6,297.8 1108.7,297.4C1109.8,297.0 1110.6,296.4 1111.2,295.6C1111.8,294.8 1112.0,293.4 1112.3,292.7C1112.7,292.0 1112.6,291.8 1113.5,291.5C1114.4,291.2 1116.1,291.3 1117.6,291.1C1119.2,291.0 1121.2,290.8 1122.7,290.5C1124.3,290.2 1125.7,289.9 1126.9,289.2C1128.1,288.5 1129.3,287.4 1130.1,286.4C1130.9,285.3 1131.3,284.0 1131.7,282.9C1132.0,281.7 1132.2,280.7 1132.2,279.7Z"/></clipPath><radialGradient id="r64" cx="0.5" cy="0.42" r="0.62"><stop offset="0.62" stop-color="#000" stop-opacity="0"/><stop offset="1" stop-color="#000" stop-opacity="0.08"/></radialGradient><clipPath id="k65"><path d="M996.0,328.4C996.1,326.9 996.3,324.2 997.0,321.8C997.6,319.5 998.6,316.8 999.9,314.6C1001.1,312.4 1002.7,310.4 1004.4,308.6C1006.2,306.9 1008.0,305.3 1010.3,304.0C1012.5,302.7 1015.3,301.4 1018.0,300.7C1020.7,300.0 1023.6,299.9 1026.5,299.8C1029.3,299.7 1032.2,300.0 1034.9,300.4C1037.6,300.8 1040.2,301.4 1042.7,302.4C1045.1,303.3 1047.7,304.6 1049.8,306.0C1051.8,307.4 1053.5,308.9 1055.0,310.6C1056.5,312.4 1057.9,314.6 1058.9,316.6C1059.8,318.5 1060.4,320.5 1060.6,322.5C1060.8,324.5 1060.7,326.6 1060.1,328.4C1059.6,330.3 1058.6,332.5 1057.6,333.7C1056.5,335.0 1055.3,335.4 1053.7,336.0C1052.0,336.6 1049.7,337.0 1047.8,337.4C1046.0,337.7 1043.7,337.6 1042.7,338.3C1041.6,339.1 1042.2,340.5 1041.7,341.6C1041.1,342.8 1040.3,344.5 1039.4,345.3C1038.5,346.1 1037.4,346.6 1036.2,346.6C1035.0,346.6 1033.7,345.8 1032.3,345.3C1030.9,344.7 1029.5,344.0 1027.7,343.3C1026.0,342.6 1024.0,342.0 1021.9,341.3C1019.9,340.7 1017.7,340.0 1015.4,339.3C1013.2,338.7 1010.5,338.0 1008.3,337.4C1006.2,336.8 1004.1,336.3 1002.5,335.7C1000.9,335.1 999.6,334.5 998.6,333.7C997.6,333.0 997.1,332.0 996.6,331.1C996.2,330.2 995.9,330.0 996.0,328.4Z"/></clipPath><radialGradient id="r66" cx="0.5" cy="0.42" r="0.62"><stop offset="0.62" stop-color="#000" stop-opacity="0"/><stop offset="1" stop-color="#000" stop-opacity="0.08"/></radialGradient><linearGradient id="g67" x1="0" y1="0" x2="0" y2="1"><stop offset="0" stop-color="#c8c8c8"/><stop offset="0.6" stop-color="#c8c8c8"/><stop offset="1" stop-color="#a8a8a8"/></linearGradient><clipPath id="k68"><path d="M1132.2,328.4C1132.1,326.9 1131.9,324.2 1131.2,321.8C1130.6,319.5 1129.6,316.8 1128.3,314.6C1127.1,312.4 1125.5,310.4 1123.8,308.6C1122.0,306.9 1120.2,305.3 1117.9,304.0C1115.7,302.7 1112.9,301.4 1110.2,300.7C1107.5,300.0 1104.6,299.9 1101.7,299.8C1098.9,299.7 1096.0,300.0 1093.3,300.4C1090.6,300.8 1088.0,301.4 1085.5,302.4C1083.1,303.3 1080.5,304.6 1078.4,306.0C1076.4,307.4 1074.7,308.9 1073.2,310.6C1071.7,312.4 1070.3,314.6 1069.3,316.6C1068.4,318.5 1067.8,320.5 1067.6,322.5C1067.4,324.5 1067.5,326.6 1068.1,328.4C1068.6,330.3 1069.6,332.5 1070.6,333.7C1071.7,335.0 1072.9,335.4 1074.5,336.0C1076.2,336.6 1078.5,337.0 1080.4,337.4C1082.2,337.7 1084.5,337.6 1085.5,338.3C1086.6,339.1 1086.0,340.5 1086.5,341.6C1087.1,342.8 1087.9,344.5 1088.8,345.3C1089.7,346.1 1090.8,346.6 1092.0,346.6C1093.2,346.6 1094.5,345.8 1095.9,345.3C1097.3,344.7 1098.7,344.0 1100.5,343.3C1102.2,342.6 1104.2,342.0 1106.3,341.3C1108.3,340.7 1110.5,340.0 1112.8,339.3C1115.0,338.7 1117.7,338.0 1119.9,337.4C1122.0,336.8 1124.1,336.3 1125.7,335.7C1127.3,335.1 1128.6,334.5 1129.6,333.7C1130.6,333.0 1131.1,332.0 1131.6,331.1C1132.0,330.2 1132.3,330.0 1132.2,328.4Z"/></clipPath><radialGradient id="r69" cx="0.5" cy="0.42" r="0.62"><stop offset="0.62" stop-color="#000" stop-opacity="0"/><stop offset="1" stop-color="#000" stop-opacity="0.08"/></radialGradient><linearGradient id="g70" x1="0" y1="0" x2="0" y2="1"><stop offset="0" stop-color="#c8c8c8"/><stop offset="0.6" stop-color="#c8c8c8"/><stop offset="1" stop-color="#a8a8a8"/></linearGradient><clipPath id="k71"><path d="M1162.6,279.9C1162.6,278.8 1162.6,278.1 1162.9,276.7C1163.1,275.3 1163.6,273.2 1164.4,271.6C1165.2,270.0 1166.5,268.6 1167.6,267.3C1168.7,266.0 1169.6,264.9 1170.7,264.0C1171.8,263.0 1172.8,262.3 1174.0,261.4C1175.2,260.6 1176.3,259.7 1177.7,258.9C1179.1,258.1 1180.9,257.2 1182.5,256.6C1184.1,256.0 1185.4,255.5 1187.2,255.1C1188.9,254.6 1190.9,254.2 1193.1,253.9C1195.3,253.7 1198.1,253.3 1200.6,253.6C1203.1,253.9 1205.5,254.5 1208.0,255.5C1210.5,256.5 1213.2,258.0 1215.5,259.8C1217.8,261.6 1220.1,264.1 1221.8,266.2C1223.5,268.3 1224.7,270.9 1225.5,272.6C1226.3,274.4 1226.5,275.2 1226.6,276.7C1226.7,278.2 1226.7,279.7 1226.0,281.4C1225.4,283.1 1224.3,285.4 1222.9,286.7C1221.5,288.1 1219.5,288.6 1217.5,289.4C1215.6,290.2 1213.2,290.9 1211.2,291.6C1209.3,292.4 1207.7,293.0 1205.8,293.7C1203.9,294.4 1201.6,295.2 1199.8,295.8C1198.1,296.4 1197.0,297.0 1195.3,297.4C1193.6,297.8 1191.3,298.2 1189.7,298.2C1188.1,298.2 1187.0,298.0 1185.9,297.6C1184.8,297.2 1184.0,296.6 1183.4,295.8C1182.8,295.0 1182.7,293.6 1182.3,292.9C1181.9,292.2 1182.0,292.0 1181.1,291.7C1180.3,291.4 1178.6,291.5 1177.0,291.3C1175.5,291.2 1173.5,291.0 1172.0,290.7C1170.4,290.4 1169.1,290.1 1167.9,289.4C1166.6,288.7 1165.5,287.6 1164.7,286.6C1163.9,285.5 1163.5,284.2 1163.1,283.1C1162.8,281.9 1162.6,280.9 1162.6,279.9Z"/></clipPath><radialGradient id="r72" cx="0.5" cy="0.42" r="0.62"><stop offset="0.62" stop-color="#000" stop-opacity="0"/><stop offset="1" stop-color="#000" stop-opacity="0.08"/></radialGradient><clipPath id="k73"><path d="M1297.6,279.9C1297.6,278.8 1297.6,278.1 1297.3,276.7C1297.1,275.3 1296.6,273.2 1295.8,271.6C1295.0,270.0 1293.7,268.6 1292.6,267.3C1291.5,266.0 1290.6,264.9 1289.5,264.0C1288.4,263.0 1287.4,262.3 1286.2,261.4C1285.0,260.6 1283.9,259.7 1282.5,258.9C1281.1,258.1 1279.3,257.2 1277.7,256.6C1276.1,256.0 1274.8,255.5 1273.0,255.1C1271.3,254.6 1269.3,254.2 1267.1,253.9C1264.9,253.7 1262.1,253.3 1259.6,253.6C1257.1,253.9 1254.7,254.5 1252.2,255.5C1249.7,256.5 1247.0,258.0 1244.7,259.8C1242.4,261.6 1240.1,264.1 1238.4,266.2C1236.7,268.3 1235.5,270.9 1234.7,272.6C1233.9,274.4 1233.7,275.2 1233.6,276.7C1233.5,278.2 1233.5,279.7 1234.2,281.4C1234.8,283.1 1235.9,285.4 1237.3,286.7C1238.7,288.1 1240.7,288.6 1242.7,289.4C1244.6,290.2 1247.0,290.9 1249.0,291.6C1250.9,292.4 1252.5,293.0 1254.4,293.7C1256.3,294.4 1258.6,295.2 1260.4,295.8C1262.1,296.4 1263.2,297.0 1264.9,297.4C1266.6,297.8 1268.9,298.2 1270.5,298.2C1272.1,298.2 1273.2,298.0 1274.3,297.6C1275.4,297.2 1276.2,296.6 1276.8,295.8C1277.4,295.0 1277.5,293.6 1277.9,292.9C1278.3,292.2 1278.2,292.0 1279.1,291.7C1279.9,291.4 1281.6,291.5 1283.2,291.3C1284.7,291.2 1286.7,291.0 1288.2,290.7C1289.8,290.4 1291.1,290.1 1292.3,289.4C1293.6,288.7 1294.7,287.6 1295.5,286.6C1296.3,285.5 1296.7,284.2 1297.1,283.1C1297.4,281.9 1297.6,280.9 1297.6,279.9Z"/></clipPath><radialGradient id="r74" cx="0.5" cy="0.42" r="0.62"><stop offset="0.62" stop-color="#000" stop-opacity="0"/><stop offset="1" stop-color="#000" stop-opacity="0.08"/></radialGradient><clipPath id="k75"><path d="M1162.6,328.6C1162.7,327.1 1162.9,324.4 1163.6,322.0C1164.2,319.7 1165.2,317.0 1166.5,314.8C1167.7,312.6 1169.2,310.6 1170.9,308.8C1172.7,307.1 1174.5,305.5 1176.7,304.2C1179.0,302.9 1181.8,301.6 1184.4,300.9C1187.1,300.2 1190.0,300.1 1192.8,300.0C1195.6,299.9 1198.4,300.2 1201.1,300.6C1203.8,301.0 1206.4,301.6 1208.8,302.6C1211.3,303.5 1213.8,304.8 1215.9,306.2C1217.9,307.6 1219.5,309.1 1221.0,310.8C1222.5,312.6 1223.9,314.8 1224.9,316.8C1225.8,318.7 1226.4,320.7 1226.6,322.7C1226.8,324.7 1226.7,326.8 1226.2,328.6C1225.6,330.5 1224.7,332.7 1223.6,333.9C1222.5,335.2 1221.3,335.6 1219.7,336.2C1218.1,336.8 1215.8,337.2 1214.0,337.6C1212.1,337.9 1209.8,337.8 1208.8,338.5C1207.8,339.3 1208.4,340.7 1207.9,341.8C1207.3,343.0 1206.5,344.7 1205.6,345.5C1204.7,346.3 1203.6,346.8 1202.4,346.8C1201.2,346.8 1199.9,346.0 1198.5,345.5C1197.2,344.9 1195.8,344.2 1194.1,343.5C1192.3,342.8 1190.3,342.2 1188.3,341.5C1186.2,340.9 1184.1,340.2 1181.9,339.5C1179.6,338.9 1176.9,338.2 1174.8,337.6C1172.7,337.0 1170.6,336.5 1169.0,335.9C1167.4,335.3 1166.1,334.7 1165.2,333.9C1164.2,333.2 1163.7,332.2 1163.2,331.3C1162.8,330.4 1162.5,330.2 1162.6,328.6Z"/></clipPath><radialGradient id="r76" cx="0.5" cy="0.42" r="0.62"><stop offset="0.62" stop-color="#000" stop-opacity="0"/><stop offset="1" stop-color="#000" stop-opacity="0.08"/></radialGradient><linearGradient id="g77" x1="0" y1="0" x2="0" y2="1"><stop offset="0" stop-color="#c8c8c8"/><stop offset="0.6" stop-color="#c8c8c8"/><stop offset="1" stop-color="#a8a8a8"/></linearGradient><clipPath id="k78"><path d="M1297.6,328.6C1297.5,327.1 1297.3,324.4 1296.6,322.0C1296.0,319.7 1295.0,317.0 1293.7,314.8C1292.5,312.6 1291.0,310.6 1289.3,308.8C1287.5,307.1 1285.7,305.5 1283.5,304.2C1281.2,302.9 1278.4,301.6 1275.8,300.9C1273.1,300.2 1270.2,300.1 1267.4,300.0C1264.6,299.9 1261.8,300.2 1259.1,300.6C1256.4,301.0 1253.8,301.6 1251.4,302.6C1248.9,303.5 1246.4,304.8 1244.3,306.2C1242.3,307.6 1240.7,309.1 1239.2,310.8C1237.7,312.6 1236.3,314.8 1235.3,316.8C1234.4,318.7 1233.8,320.7 1233.6,322.7C1233.4,324.7 1233.5,326.8 1234.0,328.6C1234.6,330.5 1235.5,332.7 1236.6,333.9C1237.7,335.2 1238.9,335.6 1240.5,336.2C1242.1,336.8 1244.4,337.2 1246.2,337.6C1248.1,337.9 1250.4,337.8 1251.4,338.5C1252.4,339.3 1251.8,340.7 1252.3,341.8C1252.9,343.0 1253.7,344.7 1254.6,345.5C1255.5,346.3 1256.6,346.8 1257.8,346.8C1259.0,346.8 1260.3,346.0 1261.7,345.5C1263.0,344.9 1264.4,344.2 1266.1,343.5C1267.9,342.8 1269.9,342.2 1271.9,341.5C1274.0,340.9 1276.1,340.2 1278.3,339.5C1280.6,338.9 1283.3,338.2 1285.4,337.6C1287.5,337.0 1289.6,336.5 1291.2,335.9C1292.8,335.3 1294.1,334.7 1295.0,333.9C1296.0,333.2 1296.5,332.2 1297.0,331.3C1297.4,330.4 1297.7,330.2 1297.6,328.6Z"/></clipPath><radialGradient id="r79" cx="0.5" cy="0.42" r="0.62"><stop offset="0.62" stop-color="#000" stop-opacity="0"/><stop offset="1" stop-color="#000" stop-opacity="0.08"/></radialGradient><linearGradient id="g80" x1="0" y1="0" x2="0" y2="1"><stop offset="0" stop-color="#c8c8c8"/><stop offset="0.6" stop-color="#c8c8c8"/><stop offset="1" stop-color="#a8a8a8"/></linearGradient></defs>
<rect width="685" height="432" fill="#fff"/>
<text x="-0.4" y="15.4" font-size="21.8" text-anchor="start" fill="#1a1a1a" stroke="#1a1a1a" >A</text>
<text x="112.2" y="28.6" font-size="12.7" text-anchor="middle" fill="#1a1a1a" stroke="#1a1a1a" >Accuracy (<tspan font-style="italic">r</tspan>)</text>
<g transform="scale(.5)"><g clip-path="url(#k1)"><rect x="12" y="77" width="206" height="144" fill="#f9b11c"/><path fill="#ca1b1c" stroke="#ca1b1c" stroke-width=".6" d="M23 88l2-6-15-7 0 0 0 54 0 2 0-6 0-6zM23 191l-13 16 0 17 0 0 13-44 3 3zM44 75l-34 0 15 7 14 10 2 0zM54 86l3-11-13 0-3 17 6 1zM40 161l-4 2 1 19 2 1 12-3 1 0 1-7zM41 207l0-8 15-5 1 12-9 5-7-3zM66 98l3-16-12-7-3 11 11 12zM150 126l-9 1-7-5 0-1 3-9 11 4zM163 210l6 14-4 0-21-10 8-4zM166 102l7-2 4-2-3-13-12 0-3 5 4 9zM174 167l-13 6 4 6 9 5 3 0 2-2-4-15zM221 105l0-30 0 0-13 14-3 6-1 7 17 6zM203 103l1-1 17 6-14 13-4-3zM207 123l-4 12 3 3 15-2z"/><path fill="#e72f1f" stroke="#e72f1f" stroke-width=".6" d="M24 99l-1-11-13 31 0-12zM22 113l-12-6 0 12 0 6 0 7 14-6 0-2zM35 108l3 1 2 8-9 12 0 0-2 0-5-3 0-2zM94 196l-3 16-9 4-4-8 9-12zM141 127l-7-5-8 8 0 1 0 10 16 2zM173 164l1 3-13 6-7-1 0-8 6-3zM180 98l8-13 10 17-7 2zM183 117l1 0 9 7 0 3-17 4-3-3zM193 124l10-6 4 3 0 2-4 12-10-4 0-4zM188 163l6 8 10-2 4-9-1-3-5-3 0 0-13 5zM204 169l5 10-3 5-13-1-3-2 4-10zM192 203l1-1 8-5 17 10-5 2-20-4zM221 75l0 0-25 0 12 14zM207 123l0-2 14-13 0-3 0 34 0-3zM208 160l13 13-12 6-5-10z"/><path fill="#be1a1a" stroke="#be1a1a" stroke-width=".6" d="M32 105l-1-2-7-4-14 8 12 6zM29 129l-5-3-14 6 15 15 0 0zM24 213l-14-6 0 17 75 0-5 0-18 0-29 0zM41 207l-14 3-1-13 15 1 0 1zM65 98l-11-12-7 7 3 10 5 2zM67 147l-10 1-8-7 6-12 1 0 9 4 3 13zM67 99l-1-1 3-16 8 3 4 9-1 4-2 1zM78 208l-7-5-8 5 8 16 11-8zM112 195l-7 4-9-4 0-12 13-4 3 2zM154 127l-9 18-1 0-2-2-1-16 9-1zM162 85l-8-10-3 0-11 0 8 0 73 0-25 0-8 0-14 10zM173 154l0 10-13-3 3-9zM191 104l7-2 5 1 0 15-10 6-9-7zM193 202l0-19 13 1 2 5-7 8zM193 205l-1 5 8 12 13-13z"/><path fill="#851010" stroke="#851010" stroke-width=".6" d="M21 158l3-3 1-8-15-15 0-7 0 6 0 24zM67 99l-1-1-1 0-10 7 1 5 11 5zM119 197l2 1 0 9-5 5-9-3-2-10 7-4z"/><path fill="#fddd15" stroke="#fddd15" stroke-width=".6" d="M21 158l-11-3 10 15zM79 170l3 10-2 2-10-3 0-1 1-9zM70 179l-2 13 4 3 7-2 1-11zM111 108l-3-4-13 2 0 7 10 6zM151 75l-11 0-29 0 13 10 15 3zM139 105l2-15-2-2-15-3-3 5 3 12 12 5z"/><path fill="#fbc718" stroke="#fbc718" stroke-width=".6" d="M20 170l2 2 1 8-13 44 0-75 0-20 0 2 0 24zM26 183l-3-3-1-8 12-9 2 0 1 19zM95 81l-14 13-4-9 18-10zM95 159l-2-3-10-3-3 3 4 11 7 2zM126 130l-8-11-11 3-1 3 1 3 19 3z"/><path fill="#d71c1e" stroke="#d71c1e" stroke-width=".6" d="M27 210l-1-13-3-6-13 16 14 6zM31 103l8-11-14-10-2 6 1 11zM26 197l15 1-2-15-2-1-11 1-3 8zM41 199l0-1-2-15 12-3 6 12-1 2zM48 211l18 13 5 0-8-16-6-2zM72 157l8-1 4 11-5 3-8-1-2-3 1-6zM154 164l0 8-1 0-15 0 1-10 9-5zM153 172l-3 17-14-11-1-4 3-2zM136 211l-15 13-6 0-4 0-31 0 5 0 31 0 69 0-20 0-21-10-8-3zM163 209l-3-15-7-4-3-1-4 4 6 17 11 0zM192 203l-12-5-3 2-5 5 12 10 8-5 1-5zM190 77l15 18 3-6-12-14-8 0zM207 157l14-18 0-34 0-30 0 74 0 75 0-51-13-13zM221 204l0 20 0 0 0-51-12 6-3 5 2 5zM218 207l3-3-13-15-7 8z"/><path fill="#670d0d" stroke="#670d0d" stroke-width=".6" d="M32 105l-10 8 2 11 11-16z"/><path fill="#8e1212" stroke="#8e1212" stroke-width=".6" d="M41 147l-16 0 4-18 2 0 14 14zM55 158l-13 1-1-12 4-4 4-2 8 7 0 7zM81 131l-1 10-12 5-3-13 15-4zM121 182l-9-1 0 14 7 2 2-15zM121 182l9 4 2 8-11 4-2-1zM121 198l0 9 15 4 0 0 1-14-5-3z"/><path fill="#7d0f0f" stroke="#7d0f0f" stroke-width=".6" d="M40 161l-4 2-2 0-10-8 1-8 0 0 16 0 1 12zM52 123l-12-6-9 12 24 0zM67 115l-11-5-4 13 3 6 0 0 1 0 13-13zM111 75l-16 0 0 0-18 10-8-3-12-7-13 0-34 0 0 0 105 0 33 0-8 0zM67 99l0 16 2 1 9 1 0-18zM93 114l2-1 0-7-2-5-13-3-2 1 0 18 0 1z"/><path fill="#fcd217" stroke="#fcd217" stroke-width=".6" d="M21 158l3-3 10 8-12 9-2-2zM70 179l-2 13-11 0-6-12 1 0 18-2zM107 161l-12-2-4 10 1 4 13-6zM126 141l-4 4-13-1-3-3 1-13 19 3zM122 145l-13-1-2 17 15 2 3-6zM137 112l-3 9-14-6-1-9 5-4 12 5zM134 122l-8 8-8-11 2-4 14 6z"/><path fill="#e41e20" stroke="#e41e20" stroke-width=".6" d="M41 207l-14 3-3 3 9 11 8-16zM111 224l-31 0-18 0 4 0 5 0 11-8 9-4 3 1zM158 145l5 7-3 9-6 3-6-7 0-10zM163 209l9-4 12 10-15 9-6-14zM198 102l-10-17 2-8 15 18-1 7-1 1zM221 136l0 3-14 18-5-3 0-8 4-8zM218 207l3-3 0 20 0 0-21-2 13-13z"/><path fill="#971313" stroke="#971313" stroke-width=".6" d="M32 105l-1-2 8-11 2 0 6 1 3 10-12 6-3-1zM105 199l2 10-5 5-8-1-3-1 3-16 2-1zM115 224l-13-10-8-1 17 11zM115 224l6 0-5-12-9-3-5 5zM136 211l-15 13-5-12 5-5z"/><path fill="#720e0e" stroke="#720e0e" stroke-width=".6" d="M55 105l-5-2-12 6 2 8 12 6 4-13zM55 129l0 0-24 0 0 0 14 14 4-2zM150 189l0 0-4 4-9 4-5-3-2-8 6-8z"/><path fill="#ea401f" stroke="#ea401f" stroke-width=".6" d="M55 158l-13 1-2 2 13 12 4-6zM41 208l-8 16 29 0 4 0-18-13zM70 160l-13-5-2 3 2 9 12-1zM87 196l-8-3-7 2-1 8 7 5zM152 210l-8 4-8-3 1-14 9-4zM154 127l-9 18 3 2 10-2 4-4 1-14 0-1zM154 172l7 1 4 6-12 11-3-1 0 0 3-17zM165 179l-12 11 7 4 4-2 10-8zM174 184l-10 8 13 8 3-2-3-14zM163 209l9-4 5-5-13-8-4 2zM193 131l10 4 3 3-4 8-13-8z"/><path fill="#b21919" stroke="#b21919" stroke-width=".6" d="M72 157l-5-10-10 1 0 7 13 5zM177 98l3 0 8-13 2-8-2-2-14 10zM181 116l-8-16 4-2 3 0 11 6-7 13-1 0z"/><path fill="#ffe814" stroke="#ffe814" stroke-width=".6" d="M71 169l-1 9-18 2 1-7 4-6 12-1zM81 131l-1 10 3 5 16-4-10-11zM92 173l0 6-10 1-3-10 5-3 7 2zM92 179l-10 1-2 2-1 11 8 3 7 0 2-1 0-12zM107 93l6-3-18-15 0 0 0 6 4 11zM109 144l-3-3-6 1-7 14 2 3 12 2 0 0zM124 85l-13-10-16 0 18 15 8 0z"/><path fill="#f6921d" stroke="#f6921d" stroke-width=".6" d="M57 206l6 2 8-5 1-8-4-3-11 0-1 2zM173 154l0 10 1 3 1 0 13-4 1-4-9-13-1 1z"/><path fill="#150606" stroke="#150606" stroke-width=".6" d="M80 129l-15 4-9-4 13-13 9 1 0 1zM163 127l10 1 3 3 6 12-2 3-1 1-17-6zM162 141l17 6-6 7-10-2-5-7z"/><path fill="#f8a11c" stroke="#f8a11c" stroke-width=".6" d="M72 157l-5-10 1-1 12-5 3 5 0 7-3 3zM147 104l-8 1 2-15 7-1 4 1-3 13zM180 146l2-3 1 0 19 11-13 5zM179 182l-2 2 3 14 12 5 1-1 0-19-3-2zM184 215l8-5 8 12 21 2-36 0-20 0 4 0z"/><path fill="#1a0606" stroke="#1a0606" stroke-width=".6" d="M93 101l-13-3 1-4 14-13 4 11zM156 112l-9-8 2-1 14-4 3 3-2 9-2 2z"/><path fill="#a01515" stroke="#a01515" stroke-width=".6" d="M81 131l8 0 4-3 0-14-15 4 2 11zM127 171l-6 11 0 0 9 4 6-8-1-4z"/><path fill="#f3741e" stroke="#f3741e" stroke-width=".6" d="M83 146l16-4 1 0-7 14-10-3zM107 122l-1 3-13 3 0-14 2-1 10 6zM105 167l-13 6 0 6 4 4 13-4 0 0zM122 163l0 1-13 15-4-12 2-6 0 0zM148 116l-11-4-1-5 3-2 8-1 9 8zM176 131l6 12 1 0 6-5 4-7 0-4z"/><path fill="#f9b11c" stroke="#f9b11c" stroke-width=".6" d="M95 106l13-2-1-11-8-1-6 9zM144 145l-13 13-6-1-3-12 4-4 16 2zM125 157l-3 6 0 1 5 7 8 3 3-2 1-10-8-4zM163 126l0 1 10 1 10-11-2-1-17-5-2 2z"/><path fill="#ed511e" stroke="#ed511e" stroke-width=".6" d="M107 128l-1 13-6 1-1 0-10-11 4-3 13-3zM119 106l-8 2-3-4-1-11 6-3 8 0 3 12zM164 111l17 5-8-16-7 2z"/><path fill="#fabc1a" stroke="#fabc1a" stroke-width=".6" d="M120 115l-1-9-8 2-6 11 2 3 11-3zM145 145l3 2 0 10-9 5-8-4 13-13z"/><path fill="#f5841d" stroke="#f5841d" stroke-width=".6" d="M122 164l-13 15 0 0 3 2 9 1 6-11zM163 99l-4-9-7 0-3 13zM154 127l9-1-1-13-6-1-8 4 2 10zM188 163l6 8-4 10-11 1-4-15z"/><path fill="#f0631e" stroke="#f0631e" stroke-width=".6" d="M148 89l6-14-3 0-12 13 2 2zM159 90l-7 0-4-1 6-14 8 10zM183 143l19 11 0 0 0-8-13-8z"/><rect x="12" y="77" width="206" height="144" fill="url(#r2)"/><path d="M14.4,162.0C14.3,158.7 14.3,156.3 15.2,152.0C16.1,147.7 17.5,140.9 20.0,136.0C22.5,131.1 26.9,126.4 30.2,122.4C33.5,118.4 36.6,115.1 40.0,112.0C43.4,108.9 46.7,106.7 50.4,104.0C54.1,101.3 57.5,98.5 62.0,96.0C66.5,93.5 72.2,90.8 77.2,88.8C82.2,86.8 86.4,85.4 92.0,84.0C97.6,82.6 103.7,81.2 110.8,80.4C117.9,79.6 126.6,78.6 134.4,79.4C142.2,80.2 150.0,82.2 157.8,85.4C165.6,88.6 174.1,93.2 181.4,98.8C188.7,104.4 196.1,112.3 201.4,119.0C206.7,125.7 210.7,133.7 213.2,139.2C215.7,144.7 216.3,147.4 216.6,152.0C216.9,156.6 216.8,161.5 214.8,166.8C212.8,172.1 209.3,179.4 204.8,183.6C200.3,187.8 194.1,189.4 188.0,192.0C181.9,194.6 174.2,196.8 168.0,199.0C161.8,201.2 157.0,203.2 151.0,205.4C145.0,207.6 137.6,210.0 132.0,212.0C126.4,214.0 122.9,215.9 117.6,217.2C112.3,218.5 104.9,219.5 100.0,219.6C95.1,219.7 91.3,218.9 88.0,217.6C84.7,216.3 81.9,214.4 80.0,212.0C78.1,209.6 77.8,205.1 76.6,203.0C75.4,200.9 75.8,200.0 73.0,199.2C70.2,198.4 64.8,198.5 60.0,198.0C55.2,197.5 48.8,197.0 44.0,196.0C39.2,195.0 34.8,194.2 31.0,192.0C27.2,189.8 23.5,186.3 21.0,183.0C18.5,179.7 17.1,175.5 16.0,172.0C14.9,168.5 14.5,165.3 14.4,162.0Z" fill="none" stroke="#000" stroke-opacity="0.18" stroke-width="6.74"/><path d="M74.0,198.0C76.3,195.7 83.0,188.3 88.0,184.0C93.0,179.7 98.7,175.3 104.0,172.0C109.3,168.7 114.7,166.7 120.0,164.0C125.3,161.3 131.3,158.7 136.0,156.0C140.7,153.3 146.0,149.3 148.0,148.0" fill="none" stroke="#000" stroke-opacity="0.35" stroke-width="1.84"/></g><path d="M14.4,162.0C14.3,158.7 14.3,156.3 15.2,152.0C16.1,147.7 17.5,140.9 20.0,136.0C22.5,131.1 26.9,126.4 30.2,122.4C33.5,118.4 36.6,115.1 40.0,112.0C43.4,108.9 46.7,106.7 50.4,104.0C54.1,101.3 57.5,98.5 62.0,96.0C66.5,93.5 72.2,90.8 77.2,88.8C82.2,86.8 86.4,85.4 92.0,84.0C97.6,82.6 103.7,81.2 110.8,80.4C117.9,79.6 126.6,78.6 134.4,79.4C142.2,80.2 150.0,82.2 157.8,85.4C165.6,88.6 174.1,93.2 181.4,98.8C188.7,104.4 196.1,112.3 201.4,119.0C206.7,125.7 210.7,133.7 213.2,139.2C215.7,144.7 216.3,147.4 216.6,152.0C216.9,156.6 216.8,161.5 214.8,166.8C212.8,172.1 209.3,179.4 204.8,183.6C200.3,187.8 194.1,189.4 188.0,192.0C181.9,194.6 174.2,196.8 168.0,199.0C161.8,201.2 157.0,203.2 151.0,205.4C145.0,207.6 137.6,210.0 132.0,212.0C126.4,214.0 122.9,215.9 117.6,217.2C112.3,218.5 104.9,219.5 100.0,219.6C95.1,219.7 91.3,218.9 88.0,217.6C84.7,216.3 81.9,214.4 80.0,212.0C78.1,209.6 77.8,205.1 76.6,203.0C75.4,200.9 75.8,200.0 73.0,199.2C70.2,198.4 64.8,198.5 60.0,198.0C55.2,197.5 48.8,197.0 44.0,196.0C39.2,195.0 34.8,194.2 31.0,192.0C27.2,189.8 23.5,186.3 21.0,183.0C18.5,179.7 17.1,175.5 16.0,172.0C14.9,168.5 14.5,165.3 14.4,162.0Z" fill="none" stroke="#3a3a3a" stroke-width="1.2"/></g>
<g transform="scale(.5)"><g clip-path="url(#k3)"><rect x="233" y="77" width="206" height="144" fill="#ca1b1c"/><path fill="#ca1b1c" stroke="#ca1b1c" stroke-width=".6" d="M254 76l-15 12-8-3 0-10 105 0 4 0-19 0zM245 98l0-4-6-6-8-3 10 20zM249 172l3 12-5 5-14-14 12-5zM245 210l-14 14 89 0-28 0-37 0zM258 212l-3 12-10-14 1-2 8 1zM303 95l12-5 6 9-3 5-17-6zM334 206l-14 1-1 1-1 16 16-15 0-3zM349 157l-3-3 0-8 3-5 8 0 3 2 3 12zM387 90l2 2 9-11-8-6-5 0zM398 81l3 5 0 12-5 2-6-2-1-6zM391 224l8-12-4-5-8-4-4 13zM411 172l1 0 2 15-16 2-4-11 3-5 1-1zM415 196l14 7 4-3-2-14-3 0-14 2z"/><path fill="#be1a1a" stroke="#be1a1a" stroke-width=".6" d="M231 178l0 8 0-36 0-75 0 10 10 20-1 9zM231 156l0 11 2 8 12-5-1-12zM231 172l14 23 2-6-14-14-2-8zM260 165l-3-8-10-1-3 2 1 12 4 2 7-3zM297 171l7 4 3 8-7 12-2 0-6-14 2-9zM296 139l1-13 6-4 11 14-2 2-10 5zM320 193l-3 3 3 11 14-1-1-5-7-7zM361 131l8-6-4-7-13-1 0 5zM356 210l-5 14 8 0 11-13-2-4zM368 181l14 0 1-13-2-3-10 7-2 2zM391 224l-25 0-8 0 83 0-8 0-22-13-1-2-11 3zM409 134l7 9 10-4 4-9-1-1-13-4zM411 172l1 0 12-3 2-2-1-8-13-7-1 2zM411 211l17-2 0 2 5 13zM441 75l0 0 0 0-16 17 0-2zM429 129l1 1 11-33 0-22 0 0 0 31-12 17zM430 130l11-33 0 39-11 8-4-5zM441 173l-15-6-1-8 7-7 9 18zM429 203l-1 6 0 2 13 0-8-11z"/><path fill="#d71c1e" stroke="#d71c1e" stroke-width=".6" d="M231 140l11-14 2-10-4-2-9 64 0-6 0-5 0-11zM257 81l-2 11-10 2-6-6 15-12zM274 145l-13 3-2 6 11 3 5-4zM274 175l0 0-7 22-8-14 4-3zM275 173l10-6 9 5-2 9-11 5-7-11 0 0zM281 186l1 11-15 0 0 0 7-22zM301 98l0 0 2 12 3 4 10-5 2-5zM326 194l7 7 6-7 1-11-5 1zM333 201l1 5 0 0 17-6-12-6zM369 139l-2 2-7 2-3-2 4-10 8-6 2 1zM383 182l11-4 3-5-14-5-1 13zM396 191l4 7 11 4 4-6-1-8 0-1-16 2zM399 212l11-3 1-7-11-4-5 9zM412 172l12-3 4 17-14 2 0-1z"/><path fill="#b21919" stroke="#b21919" stroke-width=".6" d="M243 142l-12-2 11-14 5 10zM271 88l-14-7-2 11 7 8 7-3 3-5zM297 171l7 4 10-5 1-12-10-1zM320 190l-9-7 9-8 4 1 1 3zM349 141l-3 5-17 2 6-17 12 6zM318 224l16-15 7 4 10 11 8 0 7 0-8 0-22 0-16 0-28 0 1 0 12 0z"/><path fill="#e41e20" stroke="#e41e20" stroke-width=".6" d="M244 144l3 12-3 2-13-2 0-16 12 2zM260 130l-1-11-3-4-12 1-2 10 5 10zM282 197l2 2 0 3-2 5-15 5 0-1 0-13 0-1zM303 95l-2-4-11-11-7 12 6 7 12-1 0 0zM351 200l0 0 4 9-14 4-7-4 0-3zM355 209l-14 4 10 11 5-14zM382 141l-2 14 1 2 13 0 2-14-11-5zM411 154l1-2 0-3-15-6-1 0-2 14 0 1zM441 75l-16 15-12-3 28-12zM425 94l0-2 0-2-12-3-1 0-2 16 1 1zM425 113l4 10 0 6-13-4-7-10 3-5zM410 209l1 2 17-2 1-6-14-7-4 6zM432 106l9 0 0-31-16 17 0 2zM425 113l4 10 12-17-9 0zM441 173l-10 13 2 14 8 11 0 13 0-69 0 15zM441 224l0 0 0-13-13 0 5 13z"/><path fill="#e72f1f" stroke="#e72f1f" stroke-width=".6" d="M231 172l14 23 1 2 0 11-1 2-14 14 0-38 0-8zM244 116l12-1 2-8-13-9-4 7-1 9zM244 144l15 1 2-14-1-1-13 6-4 6zM247 189l-2 6 1 2 20 1 1 0 0-1 0 0-8-14-7 1zM246 197l0 11 8 1 12-11zM271 88l-14-7-3-5 67-1-2 0-33 0zM258 212l-3 12 37 0 1 0-15 0-11-12 0-1zM267 212l11 12 4-17zM288 141l-1-15 3-2 7 2-1 13zM281 186l11-5 6 14-14 4-2-2zM305 224l-12 0-15 0 4-17 2-5 18 18zM306 116l17 7 1 5-8 7-2 1-11-14zM307 183l-3-8 10-5 6 5-9 8zM320 193l6 1 9-10-10-5-5 11zM374 90l13 0-2-15-12 14zM374 98l0-8 13 0 2 2 1 6-8 3zM382 141l-13-2 2-13 9 0 5 6 0 6zM384 198l3 5-4 13-13-5-2-4 1 0 9-8zM391 224l-25 0-7 0 11-13 13 5zM398 81l3 5 11 1 1 0 28-12 0 0-51 0zM412 87l-2 16-9-5 0-12zM400 119l9-4 3-5-1-6-1-1-9-5-5 2-3 13zM441 170l0-15 0-5 0-14-11 8 2 8zM441 173l-10 13-3 0-4-17 2-2z"/><path fill="#ea401f" stroke="#ea401f" stroke-width=".6" d="M262 100l-4 7-13-9 0-4 10-2zM244 144l3 12 10 1 2-3 2-6-2-3zM275 115l-2 2-14 2-3-4 2-8 4-7 7-3 7 10zM260 165l-3-8 2-3 11 3-1 10zM266 198l-12 11 4 3 9-1 0-13zM352 122l0-5-1-1-7 0-3 1-6 14 0 0 12 6zM361 131l-4 10-8 0-2-4 5-15zM398 172l-1 1-14-5-2-3 0-8 13 0 0 1zM399 124l5 8 5 2 7-9-7-10-9 4zM404 132l-7 11 15 6 4-6-7-9zM425 113l-13-3-1-6 14-10 7 12z"/><path fill="#f0631e" stroke="#f0631e" stroke-width=".6" d="M256 169l-7 3 3 12 7-1 4-3zM261 131l14 6 3-7-5-13-14 2 1 11zM287 117l-12-2 1-8 11-3 2 9zM275 153l-5 4-1 10 6 6 10-6 0-7zM301 98l-12 1-2 5 2 9 14-3zM346 97l7 11-2 8-7 0-2-15zM382 141l-2 14-1 0-12-14 2-2z"/><path fill="#1a0606" stroke="#1a0606" stroke-width=".6" d="M276 140l-1-3-14-6-2 14 2 3 13-3zM412 152l13 7 7-7-2-8-4-5-10 4-4 6z"/><path fill="#f9b11c" stroke="#f9b11c" stroke-width=".6" d="M275 173l-6-6-9-2-4 4 7 11 11-5zM272 92l-3 5 7 10 11-3 2-5-6-7zM332 111l9 6-6 14-11-3-1-5 3-8zM379 155l1 0 1 2 0 8-10 7-4-15zM367 182l11 17 6-1 2-3-3-13-1-1-14 0z"/><path fill="#f6921d" stroke="#f6921d" stroke-width=".6" d="M271 88l15-13 4 5-7 12-11 0zM276 140l-1-3 3-7 9-4 1 15-2 1zM342 101l2 15-3 1-9-6 0-6zM346 97l7 11 8-7-5-8-10 2zM367 182l11 17-9 8-9-22 1-1z"/><path fill="#f8a11c" stroke="#f8a11c" stroke-width=".6" d="M287 126l-9 4-5-13 2-2 12 2 3 7zM306 114l0 2-3 6-6 4-7-2-3-7 2-4 14-3z"/><path fill="#7d0f0f" stroke="#7d0f0f" stroke-width=".6" d="M276 140l10 2 4 13-5 5-10-7-1-8zM318 224l1-16-14 0-3 12 3 4z"/><path fill="#fbc718" stroke="#fbc718" stroke-width=".6" d="M315 75l11 0-7 0-33 0 4 5 11 11zM303 95l-2-4 14-16 2 10-2 5zM363 155l-3-12 7-2 12 14-12 2-3-1zM360 185l-4 1-5 14 4 9 1 1 12-3 1 0z"/><path fill="#670d0d" stroke="#670d0d" stroke-width=".6" d="M286 142l2-1 8-2 6 4-1 10-11 2zM290 155l11-2 4 4-8 14-3 1-9-5 0-7zM370 109l-5 9 4 7 2 1 9 0 2-11z"/><path fill="#a01515" stroke="#a01515" stroke-width=".6" d="M300 195l-2 0-14 4 0 3 18 18 3-12-1-10z"/><path fill="#fcd217" stroke="#fcd217" stroke-width=".6" d="M302 143l10-5 4 19-1 1-10-1-4-4z"/><path fill="#971313" stroke="#971313" stroke-width=".6" d="M320 193l-3 3-13 2-4-3 7-12 4 0 9 7zM370 103l-9-2-5-8 4-9 13 5 1 1 0 8zM382 115l-2 11 5 6 14-8 1-5-7-6-7-1z"/><path fill="#720e0e" stroke="#720e0e" stroke-width=".6" d="M304 198l1 10 14 0 1-1-3-11zM326 75l-7 0 2 0 19 0 101 0-51 0-5 0-12 14-13-5-10-9-14 0zM382 101l8-3 6 2-3 13-7-1z"/><path fill="#fddd15" stroke="#fddd15" stroke-width=".6" d="M317 85l14 4 5-14-10 0-11 0zM346 154l-15 6-4-4 2-7 0-1 17-2zM335 184l5-1 4-2-1-10-11-6-8 11 1 3z"/><path fill="#ffe814" stroke="#ffe814" stroke-width=".6" d="M315 90l2-5 14 4 2 2-4 9-8-1zM318 104l-2 5 10 6 6-4 0-6-3-5-8-1zM306 114l0 2 17 7 3-8-10-6zM342 90l8-15-14 0-5 14 2 2zM349 157l14-2 1 1-4 8-5 3-6-1zM349 166l-6 5 1 10 12 5 4-1 1-1-6-17z"/><path fill="#f5841d" stroke="#f5841d" stroke-width=".6" d="M329 149l-13-14 8-7 11 3 0 0-6 17zM339 194l12 6 0 0 5-14-12-5-4 2zM355 167l6 17 6-2 1-1 1-7-9-10z"/><path fill="#fabc1a" stroke="#fabc1a" stroke-width=".6" d="M329 149l-13-14-2 1-2 2 4 19 11-1zM314 170l1-12 1-1 11-1 4 4 1 5-8 11-4-1zM349 157l-3-3-15 6 1 5 11 6 6-5z"/><path fill="#ed511e" stroke="#ed511e" stroke-width=".6" d="M346 97l-4 4-10 4-3-5 4-9 9-1 4 5zM370 109l-5 9-13-1-1-1 2-8 8-7 9 2zM386 195l10-4 2-2-4-11-11 4z"/><path fill="#f3741e" stroke="#f3741e" stroke-width=".6" d="M346 95l10-2 4-9-10-9-8 15zM364 156l3 1 4 15-2 2-9-10z"/><path fill="#851010" stroke="#851010" stroke-width=".6" d="M370 109l12 6 4-3-4-11-8-3-4 5zM385 138l11 5 1 0 7-11-5-8-14 8z"/><path fill="#8e1212" stroke="#8e1212" stroke-width=".6" d="M386 195l10-4 4 7-5 9-8-4-3-5zM411 172l0-18-17 4 4 14z"/><rect x="233" y="77" width="206" height="144" fill="url(#r4)"/><path d="M437.2,162.0C437.3,158.7 437.3,156.3 436.4,152.0C435.5,147.7 434.1,140.9 431.6,136.0C429.1,131.1 424.7,126.4 421.4,122.4C418.1,118.4 415.0,115.1 411.6,112.0C408.2,108.9 404.9,106.7 401.2,104.0C397.5,101.3 394.1,98.5 389.6,96.0C385.1,93.5 379.4,90.8 374.4,88.8C369.4,86.8 365.2,85.4 359.6,84.0C354.0,82.6 347.9,81.2 340.8,80.4C333.7,79.6 325.0,78.6 317.2,79.4C309.4,80.2 301.6,82.2 293.8,85.4C286.0,88.6 277.5,93.2 270.2,98.8C262.9,104.4 255.5,112.3 250.2,119.0C244.9,125.7 240.9,133.7 238.4,139.2C235.9,144.7 235.3,147.4 235.0,152.0C234.7,156.6 234.8,161.5 236.8,166.8C238.8,172.1 242.3,179.4 246.8,183.6C251.3,187.8 257.5,189.4 263.6,192.0C269.7,194.6 277.4,196.8 283.6,199.0C289.8,201.2 294.6,203.2 300.6,205.4C306.6,207.6 314.0,210.0 319.6,212.0C325.2,214.0 328.7,215.9 334.0,217.2C339.3,218.5 346.7,219.5 351.6,219.6C356.5,219.7 360.3,218.9 363.6,217.6C366.9,216.3 369.7,214.4 371.6,212.0C373.5,209.6 373.8,205.1 375.0,203.0C376.2,200.9 375.8,200.0 378.6,199.2C381.4,198.4 386.8,198.5 391.6,198.0C396.4,197.5 402.8,197.0 407.6,196.0C412.4,195.0 416.8,194.2 420.6,192.0C424.4,189.8 428.1,186.3 430.6,183.0C433.1,179.7 434.5,175.5 435.6,172.0C436.7,168.5 437.1,165.3 437.2,162.0Z" fill="none" stroke="#000" stroke-opacity="0.18" stroke-width="6.74"/><path d="M377.6,198.0C375.3,195.7 368.6,188.3 363.6,184.0C358.6,179.7 352.9,175.3 347.6,172.0C342.3,168.7 336.9,166.7 331.6,164.0C326.3,161.3 320.3,158.7 315.6,156.0C310.9,153.3 305.6,149.3 303.6,148.0" fill="none" stroke="#000" stroke-opacity="0.35" stroke-width="1.84"/></g><path d="M437.2,162.0C437.3,158.7 437.3,156.3 436.4,152.0C435.5,147.7 434.1,140.9 431.6,136.0C429.1,131.1 424.7,126.4 421.4,122.4C418.1,118.4 415.0,115.1 411.6,112.0C408.2,108.9 404.9,106.7 401.2,104.0C397.5,101.3 394.1,98.5 389.6,96.0C385.1,93.5 379.4,90.8 374.4,88.8C369.4,86.8 365.2,85.4 359.6,84.0C354.0,82.6 347.9,81.2 340.8,80.4C333.7,79.6 325.0,78.6 317.2,79.4C309.4,80.2 301.6,82.2 293.8,85.4C286.0,88.6 277.5,93.2 270.2,98.8C262.9,104.4 255.5,112.3 250.2,119.0C244.9,125.7 240.9,133.7 238.4,139.2C235.9,144.7 235.3,147.4 235.0,152.0C234.7,156.6 234.8,161.5 236.8,166.8C238.8,172.1 242.3,179.4 246.8,183.6C251.3,187.8 257.5,189.4 263.6,192.0C269.7,194.6 277.4,196.8 283.6,199.0C289.8,201.2 294.6,203.2 300.6,205.4C306.6,207.6 314.0,210.0 319.6,212.0C325.2,214.0 328.7,215.9 334.0,217.2C339.3,218.5 346.7,219.5 351.6,219.6C356.5,219.7 360.3,218.9 363.6,217.6C366.9,216.3 369.7,214.4 371.6,212.0C373.5,209.6 373.8,205.1 375.0,203.0C376.2,200.9 375.8,200.0 378.6,199.2C381.4,198.4 386.8,198.5 391.6,198.0C396.4,197.5 402.8,197.0 407.6,196.0C412.4,195.0 416.8,194.2 420.6,192.0C424.4,189.8 428.1,186.3 430.6,183.0C433.1,179.7 434.5,175.5 435.6,172.0C436.7,168.5 437.1,165.3 437.2,162.0Z" fill="none" stroke="#3a3a3a" stroke-width="1.2"/></g>
<g transform="scale(.5)"><g clip-path="url(#k5)"><rect x="14" y="225" width="203" height="146" fill="#971313"/><path fill="#b21919" stroke="#b21919" stroke-width=".6" d="M36 223l16 0-32 0-8 0 0 0 8 12zM27 264l-3-8-12-33 0 0 0 0 13 47zM28 329l1 0 1-20-18 15zM25 346l-6 8-7 19 0-13 0-47 0 11zM28 303l7-8 0-10-8-4-7 18zM36 328l4-12 10 0 3 7-5 6-9 1zM67 309l1 5-4 10-11-1-3-7 4-11zM151 343l-2 2 2 13 9 2 4-4 2-13zM192 242l-12-3 1-16 12 19zM183 344l-1 0-1 9 10 15 8-15-2-2-13-8zM195 329l6 0 6-11-4-7-8 1zM219 270l-13 17 10 12 3 7 0 4 0-11 0-1 0-29zM219 310l0-11 0 74-7-29-6-10 0-2z"/><path fill="#ea401f" stroke="#ea401f" stroke-width=".6" d="M26 243l-6-8-8-12 12 33 2-4zM28 345l6 2 7-6-2-11-3-2-7 1-1 0zM110 326l2-7-7-6-12 2-1 9 13 6zM129 343l-5-7-4 0-9 10 1 5 12 3zM123 297l12 3 7-14-5-5-8-1zM153 301l-18 0 0-1 7-14 12 0 0 14zM152 315l-15-1 0-1-2-12 18 0 4 12zM148 333l-2-2-7-1-4 13 6 4 8-2 2-2zM162 325l-14 8-2-2 6-16 5-2 5 2zM166 343l-2 13 10 7 7-10 1-9-15-2z"/><path fill="#ca1b1c" stroke="#ca1b1c" stroke-width=".6" d="M12 302l13-23 0-9-13-47 0 75 0 62 0-47zM28 345l0-16-16-5 0 0 13 22zM28 345l6 2 7 11-9 4-13-8 6-8zM72 300l7-1 4 14-4 2-11-1-1-5zM102 340l-10 6-9-1-1-1 0-11 6-4 14 9zM113 373l-4-18 3-4 12 3 0 1zM113 373l11-18 10 5 5 13-4 0-23 0zM152 315l-15-1-2 12 4 4 7 1zM165 241l-10 1-3-7 10-12 4 17zM219 269l0 29 0 0 0-75-11 17-1 12zM207 318l12-12-3-7-10 4-3 8z"/><path fill="#d71c1e" stroke="#d71c1e" stroke-width=".6" d="M12 302l13-23 2 2-7 18zM54 292l0-4-1-2-14-2-4 1 0 10 13 6 4 0zM123 275l-12 11-6-4 5-15 8 1 4 3zM120 314l1-16 2-1 12 3 0 1 2 12zM174 244l6-5 1-16-1 0-11 0-7 0 4 17zM183 284l-4 12-9-3-7-10 15-5zM175 251l-1-7 6-5 12 3-1 10-13 3zM206 239l-26-16 1 0 12 19zM203 259l-8-1-4-6 1-10 1 0 13-3 2 1-1 12zM195 312l8-1 3-8-13-4-1 1-2 8zM191 368l8-15 4 1 16 19 0 0-9 0-23 0zM201 329l5 3 13-22 0-4-12 12z"/><path fill="#be1a1a" stroke="#be1a1a" stroke-width=".6" d="M12 324l18-15 0-1-2-5-8-4-8 3 0 11 0 11zM41 271l-10-7-4 0-2 6 0 9 2 2 8 4 4-1zM41 358l2 1-31 14 0 0 20-11zM72 300l-18-8-2 9 2 4 13 4 5-9zM117 318l-5 1-2 7 10 10 4 0 5-9zM135 343l4-13-4-4-6 1-5 9 5 7zM163 257l-3-3-12-4-3 1 6 16 12-4zM177 326l6 18-1 0-15-2-1-8zM179 265l2 3 5 0 9-10-4-6-13 3zM191 284l3-11-8-5-5 0-3 10 5 6zM195 329l6 0 5 3 0 2-9 17-13-8 10-14zM197 351l9-17 6 10-5 9-4 1-4-1zM206 239l-26-16-11 0-18 0 26 0 42 0-11 17zM207 353l12 20 0 0-7-29z"/><path fill="#e41e20" stroke="#e41e20" stroke-width=".6" d="M32 362l-20 11 0 0 7-19zM45 240l-3-3-16 6 0 9 16-4zM67 223l-15 0-16 0 6 14 3 3 6 0zM54 305l-4 11-10 0-4-6 12-9 4 0zM49 357l13 16-26 0-24 0 31-14zM85 269l6 2 6-5-3-14-3-2-8 1-2 2zM79 299l4 14 9 2-1-18-10 0zM111 286l4 10-8 5-13-6 2-10 1-2 8-1zM91 297l3-2 13 6-2 12-12 2-1 0zM219 270l-12 0-4-11 4-7 12 17zM203 354l16 19 0 0-12-20z"/><path fill="#e72f1f" stroke="#e72f1f" stroke-width=".6" d="M42 237l-6-14-16 12 6 8zM29 329l7-1 4-12-4-6-6-2 0 1zM72 300l-6-14-2 0-10 2 0 4zM67 269l-3 17 2 0 11-3 2-9zM72 300l-6-14 11-3 1 2 3 12-2 2-7 1zM60 355l8 6 11-3 4-13-1-1-10-1zM81 297l-3-12 18 0-2 10-3 2zM117 318l-5 1-7-6 2-12 8-5 6 2-1 16zM135 326l-6 1-12-9 3-4 17-1 0 1zM124 355l0-1 5-11 6 0 6 4-3 8-4 5zM187 373l23 0-50-13 4-4 10 7zM207 270l-1 1-12 2-8-5 9-10 8 1zM205 287l1-16-12 2-3 11 5 5zM206 303l-13-4 3-10 9-2 1 0 10 12zM219 270l-13 17-1 0 1-16 1-1z"/><path fill="#f3741e" stroke="#f3741e" stroke-width=".6" d="M42 248l-16 4-2 4 3 8 4 0 13-7zM53 241l-2-1-6 0-3 8 2 9 6 3 4-1zM65 326l-1-2 4-10 11 1 0 15zM68 361l-6 12-26 0 80 0 20 0-53-9-4-6zM123 275l6 5 8 1 4-10-9-8-10 8zM162 223l7 0-18 0-28 0 18 13 11-1zM135 373l84 0 0 0-9 0-50-13-9-2-1 1-11 14zM194 329l-10 14-1 1-6-18 3-8z"/><path fill="#fcd217" stroke="#fcd217" stroke-width=".6" d="M28 303l7-8 13 6-12 9-6-2zM121 223l-26 9 1 4 9 6 3-3z"/><path fill="#f8a11c" stroke="#f8a11c" stroke-width=".6" d="M49 268l1-8-6-3-13 7 10 7zM55 342l-7-13 5-6 11 1 1 2-3 12zM60 355l8 6-6 12-13-16 5-4zM140 250l5 1 3-1 7-8-3-7-11 1-1 11zM167 267l-4 16 0 0 15-5 3-10-2-3z"/><path fill="#fabc1a" stroke="#fabc1a" stroke-width=".6" d="M49 268l5 7-1 11-14-2 2-13zM92 315l1 0-1 9-4 5-6 4-3-3 0-15 4-2z"/><path fill="#f9b11c" stroke="#f9b11c" stroke-width=".6" d="M55 342l-7-13-9 1 2 11 13 3zM81 253l2-2 0-10-13-4-3 9 2 6zM123 223l0 0 28 0 26 0-61 0-96 0 32 0 15 0 3 0 17 10 8-1 26-9zM110 326l10 10-9 10-9-6 0-2 3-8zM191 368l-10-15-7 10 13 10z"/><path fill="#f5841d" stroke="#f5841d" stroke-width=".6" d="M54 353l-5 4-6 2-2-1-7-11 7-6 13 3zM67 246l3-9 0-14-3 0-16 17 2 1zM64 259l-10 0-1-18 14 5 2 6zM70 223l17 10-4 8-13-4zM99 357l-7-11-9-1-4 13 4 6 13-2zM167 314l0-17-13 3-1 1 4 12 5 2zM163 257l12-6 3 4 1 10-12 2-4-4zM195 329l0-17-5-4-12 8 2 2 14 11z"/><path fill="#f0631e" stroke="#f0631e" stroke-width=".6" d="M66 268l-12 7-5-7 1-8 4-1 10 0zM91 250l-8 1 0-10 4-8 8-1 1 4zM123 223l0 0 18 13-1 11-18-20zM122 227l18 20 0 3-4 2-14-4-1-10zM160 254l-12-4 7-8 10-1z"/><path fill="#670d0d" stroke="#670d0d" stroke-width=".6" d="M66 268l-12 7-1 11 1 2 10-2 3-17zM105 330l-3 8-14-9 4-5z"/><path fill="#fbc718" stroke="#fbc718" stroke-width=".6" d="M60 355l12-12-10-5-7 4-1 2 0 9zM94 252l13-1 1-1-3-8-9-6-5 14z"/><path fill="#ed511e" stroke="#ed511e" stroke-width=".6" d="M66 268l-2-9 5-7 12 1 4 16-6 5-12-5zM112 373l-16-11-13 2 53 9 83 0-84 0zM140 250l5 1 6 16-1 1-9 3-9-8 4-11zM163 263l-12 4-1 1 7 15 6 0 4-16zM154 300l0-14 3-3 6 0 0 0 7 10-3 4zM162 325l-14 8 3 10 15 0 1-1-1-8z"/><path fill="#ffe814" stroke="#ffe814" stroke-width=".6" d="M72 343l10 1 0-11-3-3-14-4-3 12zM121 238l1 10-3 2-11 0-3-8 3-3zM122 271l10-8 4-11-14-4-3 2-1 18zM154 286l-12 0-5-5 4-10 9-3 7 15z"/><path fill="#851010" stroke="#851010" stroke-width=".6" d="M79 274l-2 9 1 2 18 0 1-2-6-12-6-2zM110 267l-4-3-9 2-6 5 6 12 8-1zM113 373l-4-18-10 2-3 5 16 11z"/><path fill="#8e1212" stroke="#8e1212" stroke-width=".6" d="M94 252l3 14 9-2 1-13z"/><path fill="#971313" stroke="#971313" stroke-width=".6" d="M109 355l-10 2-7-11 10-6 9 6 1 5zM118 268l1-18-11 0-1 1-1 13 4 3z"/><path fill="#f6921d" stroke="#f6921d" stroke-width=".6" d="M123 223l-1 4-1 11-13 1 13-16zM123 275l6 5-6 17-2 1-6-2-4-10zM163 257l-3-3 5-13 1-1 8 4 1 7zM174 313l5-17 0 0-9-3-3 4 0 17zM180 318l-3 8-11 8-4-9 0-10 5-1 7-1 4 3zM193 299l-1 1-13-4 0 0 4-12 8 0 5 5zM178 316l-4-3 5-17 13 4-2 8z"/><path fill="#720e0e" stroke="#720e0e" stroke-width=".6" d="M141 347l8-2 2 13-1 1-12-4zM139 373l11-14-12-4-4 5z"/><rect x="14" y="225" width="203" height="146" fill="url(#r6)"/><path d="M16.0,314.0C16.2,309.3 17.0,301.0 19.0,294.0C21.0,287.0 24.2,278.7 28.0,272.0C31.8,265.3 36.7,259.3 42.0,254.0C47.3,248.7 53.0,244.0 60.0,240.0C67.0,236.0 75.7,232.1 84.0,230.0C92.3,227.9 101.3,227.4 110.0,227.2C118.7,227.0 127.7,227.7 136.0,229.0C144.3,230.3 152.3,232.2 160.0,235.0C167.7,237.8 175.7,241.8 182.0,246.0C188.3,250.2 193.3,254.7 198.0,260.0C202.7,265.3 207.1,272.0 210.0,278.0C212.9,284.0 214.7,290.0 215.4,296.0C216.1,302.0 215.6,308.3 214.0,314.0C212.4,319.7 209.3,326.2 206.0,330.0C202.7,333.8 199.0,335.2 194.0,337.0C189.0,338.8 181.7,339.8 176.0,341.0C170.3,342.2 163.2,341.8 160.0,344.0C156.8,346.2 158.7,350.5 157.0,354.0C155.3,357.5 152.8,362.5 150.0,365.0C147.2,367.5 143.7,369.0 140.0,369.0C136.3,369.0 132.3,366.7 128.0,365.0C123.7,363.3 119.3,361.0 114.0,359.0C108.7,357.0 102.3,355.0 96.0,353.0C89.7,351.0 83.0,349.0 76.0,347.0C69.0,345.0 60.7,342.8 54.0,341.0C47.3,339.2 41.0,337.8 36.0,336.0C31.0,334.2 27.0,332.3 24.0,330.0C21.0,327.7 19.3,324.7 18.0,322.0C16.7,319.3 15.8,318.7 16.0,314.0Z" fill="none" stroke="#000" stroke-opacity="0.18" stroke-width="6.65"/></g><path d="M78.8,303.0C78.6,299.0 79.6,295.3 81.4,292.2C83.2,289.1 85.6,286.2 89.6,284.2C93.6,282.2 99.3,281.3 105.6,280.2C111.9,279.1 121.4,278.1 127.2,277.4C133.0,276.7 136.1,275.7 140.6,276.2C145.1,276.7 149.5,278.4 154.0,280.2C158.5,282.0 162.9,283.9 167.4,286.8C171.9,289.7 177.9,293.6 181.0,297.6C184.1,301.6 186.3,307.2 185.8,311.0C185.3,314.8 181.3,317.9 178.2,320.4C175.1,322.9 170.5,324.0 167.4,325.8C164.3,327.6 161.6,329.2 159.4,331.2C157.2,333.2 155.1,335.1 154.0,338.0C152.9,340.9 153.7,345.3 152.8,348.6C151.9,351.9 150.6,356.0 148.6,358.0C146.6,360.0 144.2,361.0 140.6,360.8C137.0,360.6 131.7,358.6 127.2,356.8C122.7,355.0 118.3,352.7 113.8,350.0C109.3,347.3 104.4,344.0 100.4,340.6C96.4,337.2 92.5,333.8 89.6,329.8C86.7,325.8 84.6,320.9 82.8,316.4C81.0,311.9 79.0,307.0 78.8,303.0Z" fill="url(#g7)"/><path d="M108.0,278.0C110.0,277.5 115.3,275.7 120.0,275.0C124.7,274.3 131.0,273.8 136.0,274.0C141.0,274.2 145.7,275.2 150.0,276.4C154.3,277.6 158.3,279.2 162.0,281.0C165.7,282.8 170.3,286.0 172.0,287.0" fill="none" stroke="#111" stroke-opacity="0.85" stroke-width="2.49" stroke-linecap="round"/><path d="M100.4,340.6C103.0,341.8 110.7,346.3 116.0,348.0C121.3,349.7 127.0,350.8 132.0,351.0C137.0,351.2 142.5,350.5 146.0,349.0C149.5,347.5 151.8,343.2 153.0,342.0" fill="none" stroke="#888" stroke-opacity="0.6" stroke-width="1.00"/><path d="M16.0,314.0C16.2,309.3 17.0,301.0 19.0,294.0C21.0,287.0 24.2,278.7 28.0,272.0C31.8,265.3 36.7,259.3 42.0,254.0C47.3,248.7 53.0,244.0 60.0,240.0C67.0,236.0 75.7,232.1 84.0,230.0C92.3,227.9 101.3,227.4 110.0,227.2C118.7,227.0 127.7,227.7 136.0,229.0C144.3,230.3 152.3,232.2 160.0,235.0C167.7,237.8 175.7,241.8 182.0,246.0C188.3,250.2 193.3,254.7 198.0,260.0C202.7,265.3 207.1,272.0 210.0,278.0C212.9,284.0 214.7,290.0 215.4,296.0C216.1,302.0 215.6,308.3 214.0,314.0C212.4,319.7 209.3,326.2 206.0,330.0C202.7,333.8 199.0,335.2 194.0,337.0C189.0,338.8 181.7,339.8 176.0,341.0C170.3,342.2 163.2,341.8 160.0,344.0C156.8,346.2 158.7,350.5 157.0,354.0C155.3,357.5 152.8,362.5 150.0,365.0C147.2,367.5 143.7,369.0 140.0,369.0C136.3,369.0 132.3,366.7 128.0,365.0C123.7,363.3 119.3,361.0 114.0,359.0C108.7,357.0 102.3,355.0 96.0,353.0C89.7,351.0 83.0,349.0 76.0,347.0C69.0,345.0 60.7,342.8 54.0,341.0C47.3,339.2 41.0,337.8 36.0,336.0C31.0,334.2 27.0,332.3 24.0,330.0C21.0,327.7 19.3,324.7 18.0,322.0C16.7,319.3 15.8,318.7 16.0,314.0Z" fill="none" stroke="#3a3a3a" stroke-width="1.2"/></g>
<g transform="scale(.5)"><g clip-path="url(#k8)"><rect x="235" y="225" width="203" height="146" fill="#d71c1e"/><path fill="#be1a1a" stroke="#be1a1a" stroke-width=".6" d="M316 223l-66 12-2 1-15-13 82 0 4 0zM262 343l-12-1-3-9 11-2zM257 237l18-3-1-11-19 13zM264 254l4-2 9-14-2-4-18 3 6 17zM264 254l8 12-10 12-1 0-3-6 1-16 4-2zM297 223l-9 16 14 0 1-2zM329 314l4-5 14 0 2 5-14 10zM358 288l12-16 5 16-11 6-3-1-3-5zM390 268l0-11-2-2-13 0-6 14 2 2 10 1zM373 303l6-1 4-10-8-4-11 6zM409 264l1-11-11 1-6 3 15 8zM392 363l15 10 6-12-2-5-11-5zM409 264l16 8 1 0 1-2 1-10-16-9-2 2zM411 338l1-7 15 3-5 11-6 2zM426 233l14-3 0-7-5 0-18 0zM440 373l0-16-12-23 4-4z"/><path fill="#d71c1e" stroke="#d71c1e" stroke-width=".6" d="M247 249l1-13-15-13 0 0 0 9 0 41 0-2zM316 223l-66 12 5 1 19-13 17 0 24 0zM264 344l-2 13-15 2-2-8 5-9 12 1zM262 357l-15 2 0 0 7 14 10-14zM319 317l-2 13 12 6 6-8 0-4-6-10-5 0zM328 363l0 0-13 2-22 8 0 0-4 0 47 0 34 0-15 0-5 0zM332 258l-1-2 5-14 1 0 12 10-8 7zM345 274l-1 13 14 1 0 0-6-18-4 1zM364 310l-6-10 3-7 3 1 9 9-5 6zM392 223l14 12 0 4-5 1-9 0-5-4zM390 268l0-11 3 0 15 8-8 9zM390 363l-13 10-22 0 15 0 65 0-24 0-4 0-15-10zM413 302l4-12 8-5 5 4 1 12-4 3-13-2zM414 302l13 2 2 14-1 1-14-2z"/><path fill="#b21919" stroke="#b21919" stroke-width=".6" d="M254 256l-10 10-1 0-10 5 14-22zM291 223l-17 0 1 11 2 4 7 2 4-1 9-16zM330 288l1 13-15-2-1-1 5-13 2-1zM333 303l-2-2-1-13 12 0 1 8zM393 257l-3 0-2-2 4-15 9 0-2 14zM412 251l0-6 10-3 11 10-5 8zM431 301l-1-12 10-6 0 5 0 18z"/><path fill="#f9b11c" stroke="#f9b11c" stroke-width=".6" d="M233 271l0 2 0 12 18-2 2-1-10-16zM253 282l6 0 6 14 0 0-17 7-1-2 4-18zM319 237l-16 0-6-14-6 0 24 0 11 0zM313 270l2 10-17 2-1-1 0-1 0-10 4-3zM335 328l7 2 2 18-15-7 0-5zM326 223l-11 0 1 0 3 0 63 0-7 12-11-1-20-11zM362 347l-3 8 5 6 8-2-3-12z"/><path fill="#f8a11c" stroke="#f8a11c" stroke-width=".6" d="M251 283l-4 18-14-16zM261 278l-2 4 6 14 8-1 1-15-12-2zM301 267l-4 3-11-7 0-6 1-1 16-3zM297 280l-16-6-1-6 6-5 11 7zM368 330l-4-2 10-13 8 1-2 14 0 0zM370 346l-1 1 3 12 1 1 8-4 3-9-3-3z"/><path fill="#ed511e" stroke="#ed511e" stroke-width=".6" d="M233 285l14 16 1 2 1 6-16 21 0-98 0 41zM243 266l10 16 6 0 2-4-3-6-14-6zM259 319l-3-2-7-8-1-6 17-7 1 15zM319 237l-16 0-1 2 1 14 11 3 4-2 1-17zM368 309l6 6 8 1 3-4-6-10-6 1z"/><path fill="#f0631e" stroke="#f0631e" stroke-width=".6" d="M233 330l4 0 19-13-7-8-16 21zM297 281l-13 6-5-10 2-3 16 6zM280 296l4-9-5-10-5 3-1 15 6 2zM303 253l-1-14-14 0-4 1 3 16 16-3zM315 266l-1-10-11-3 0 0-2 14 12 3zM355 340l-10 9 0 5 14 1 3-8zM364 361l-10 12-10-16 1-3 14 1zM364 361l8-2 1 1 4 13-22 0-5 0 4 0zM395 310l-3 2-7 0-6-10 4-10 4-1 10 15zM401 281l4 1 12 8-4 12-7-1-9-16z"/><path fill="#e72f1f" stroke="#e72f1f" stroke-width=".6" d="M233 330l12 21 5-9-3-9-10-3zM233 330l12 21 2 8 0 0-14 14 0-75 0-75 0 9 0 98zM254 256l5 0 4-2-6-17-2-1-5-1-2 1-1 13zM254 256l5 0-1 16-14-6zM287 317l7-6 8-1 4 5-2 9-9 5-8-1zM319 317l-13-2-4-5 4-9 9-3 1 1 8 15zM307 343l-4-1-8-13 9-5 8 8zM317 330l-5 2-5 11 2 3 5 2 10 0 5-7 0-5zM390 363l-13 10-4-13 8-4zM396 346l-12 1-3 9 9 7 2 0 8-12-3-4zM395 310l15 10 4-3 0-15-1 0-7-1-9 5zM396 346l0-15 1-1 11-3 4 4-1 7-14 9zM426 233l-4 9-10 3-6-6 0-4 11-12zM410 320l-2 7 4 4 15 3 1 0 4-4-4-11-14-2zM413 361l18-2-20 14-4 0zM427 270l13 13 0 5 0-15 0-50 0 7-7 22-5 8zM440 373l0-16-5 0-4 2-20 14 24 0 5 0z"/><path fill="#e41e20" stroke="#e41e20" stroke-width=".6" d="M247 359l-14 14 6 0 15 0zM324 314l-8-15 15 2 2 2 0 6-4 5zM333 309l14 0 2-6-6-7-10 7zM324 348l4 15 0 0 16-6 1-3 0-5-1-1-15-7zM348 271l4-1 6-3-5-15-4 0-8 7zM347 309l2 5 8 6 7-10-6-10-9 3zM358 246l-5 6 5 15 11 2 6-14-1-2zM411 356l2 5 18-2 4-2-13-12-6 2zM426 233l14-3-7 22-11-10zM430 289l10-6-13-13-1 2-1 13zM427 304l2 14 11-12-9-5zM427 334l1 0 12 23-5 0-13-12z"/><path fill="#f6921d" stroke="#f6921d" stroke-width=".6" d="M259 319l-3-2-19 13 10 3 11-2 3-8zM354 373l-4 0-22-10 16-6zM368 330l-4-2-5-1-3 4-1 9 7 7 7 0 1-1z"/><path fill="#f5841d" stroke="#f5841d" stroke-width=".6" d="M262 278l12 2 5-3 2-3-1-6-8-2zM358 240l6-6 11 1 2 2-3 16-16-7zM359 327l-2-7 7-10 4-1 6 6-10 13zM375 235l7-12 10 0-5 13-10 1zM368 330l2 16 11-2-1-14z"/><path fill="#ffe814" stroke="#ffe814" stroke-width=".6" d="M278 312l0 0 1-15-6-2-8 1 0 0 1 15zM259 319l7-8 12 1-7 14-10-3zM261 323l-3 8 4 12 2 1 4-2 6-13-3-3zM285 298l13-6 8 9-4 9-8 1zM319 237l-1 17 13 2 5-14-9-4z"/><path fill="#670d0d" stroke="#670d0d" stroke-width=".6" d="M280 345l-6 14-7 1-3-1-2-2 2-13 4-2zM282 362l10 11 1 0 0 0-26-13 7-1zM309 346l-8 14-2 1-8-10-1-4 13-5 4 1z"/><path fill="#851010" stroke="#851010" stroke-width=".6" d="M264 359l-10 14-15 0 50 0 4 0-26-13zM284 240l-7-2-9 14 18 5 1-1zM286 343l4 4 1 4-9 11-8-3 6-14z"/><path fill="#ea401f" stroke="#ea401f" stroke-width=".6" d="M264 254l4-2 18 5 0 6-6 5-8-2zM331 271l-9 13-2 1-5-5-2-10 2-4 15 1zM345 274l-14-3-1-4 2-9 9 1 7 12zM345 274l-1 13-2 1-12 0-8-4 9-13zM335 324l14-10 8 6 2 7-3 4-14-1-7-2zM377 237l10-1 5 4-4 15-13 0-1-2zM392 312l5 18-1 1-16-1 2-14 3-4zM399 254l2-14 5-1 6 6 0 6-2 2zM397 347l14-9 5 9-5 9-11-5zM429 318l-1 1 4 11 8 43 0 0 0-75 0-25 0 15 0 18z"/><path fill="#fbc718" stroke="#fbc718" stroke-width=".6" d="M278 312l1-15 1-1 5 2 9 13-7 6zM271 326l3 3 11 1 2-2 0-11-9-5 0 0zM297 281l-13 6-4 9 5 2 13-6 0-10zM319 237l7-14 18 0-2 0-15 15-8-1z"/><path fill="#fabc1a" stroke="#fabc1a" stroke-width=".6" d="M274 329l-6 13 12 3 6-2-1-13zM400 274l8-9 1-1 16 8-20 10-4-1zM405 282l12 8 8-5 1-13-1 0z"/><path fill="#fddd15" stroke="#fddd15" stroke-width=".6" d="M285 330l1 13 4 4 13-5-8-13-8-1zM344 223l20 11-6 6-14-7-2-10z"/><path fill="#7d0f0f" stroke="#7d0f0f" stroke-width=".6" d="M291 351l8 10-7 12-10-11z"/><path fill="#ca1b1c" stroke="#ca1b1c" stroke-width=".6" d="M298 282l0 10 8 9 9-3 5-13-5-5zM314 348l-1 14 2 3 13-2-4-15zM358 288l3 5-3 7-9 3-6-7-1-8 2-1zM352 270l6-3 11 2 2 2-1 1-12 16zM382 223l-63 0-4 0 21 0 99 0-18 0-11 12-14-12zM395 310l15 10-2 7-11 3-5-18z"/><path fill="#fcd217" stroke="#fcd217" stroke-width=".6" d="M319 317l-13-2-2 9 8 8 5-2zM327 238l9 4 1 0 7-9-2-10z"/><path fill="#a01515" stroke="#a01515" stroke-width=".6" d="M309 346l-8 14 12 2 1-14z"/><path fill="#971313" stroke="#971313" stroke-width=".6" d="M313 362l2 3-22 8-1 0 7-12 2-1z"/><path fill="#720e0e" stroke="#720e0e" stroke-width=".6" d="M332 258l-1-2-13-2-4 2 1 10 15 1zM358 240l-14-7-7 9 12 10 4 0 5-6z"/><path fill="#f3741e" stroke="#f3741e" stroke-width=".6" d="M356 331l-14-1 2 18 1 1 10-9zM397 285l9 16-9 5-10-15 4-4zM380 330l0 0 16 1 0 15-12 1-3-3z"/><path fill="#8e1212" stroke="#8e1212" stroke-width=".6" d="M381 272l-10-1-1 1 5 16 8 4 4-1 4-4zM390 268l10 6 1 7-4 4-6 2-10-15z"/><rect x="235" y="225" width="203" height="146" fill="url(#r9)"/><path d="M436.0,314.0C435.8,309.3 435.0,301.0 433.0,294.0C431.0,287.0 427.8,278.7 424.0,272.0C420.2,265.3 415.3,259.3 410.0,254.0C404.7,248.7 399.0,244.0 392.0,240.0C385.0,236.0 376.3,232.1 368.0,230.0C359.7,227.9 350.7,227.4 342.0,227.2C333.3,227.0 324.3,227.7 316.0,229.0C307.7,230.3 299.7,232.2 292.0,235.0C284.3,237.8 276.3,241.8 270.0,246.0C263.7,250.2 258.7,254.7 254.0,260.0C249.3,265.3 244.9,272.0 242.0,278.0C239.1,284.0 237.3,290.0 236.6,296.0C235.9,302.0 236.4,308.3 238.0,314.0C239.6,319.7 242.7,326.2 246.0,330.0C249.3,333.8 253.0,335.2 258.0,337.0C263.0,338.8 270.3,339.8 276.0,341.0C281.7,342.2 288.8,341.8 292.0,344.0C295.2,346.2 293.3,350.5 295.0,354.0C296.7,357.5 299.2,362.5 302.0,365.0C304.8,367.5 308.3,369.0 312.0,369.0C315.7,369.0 319.7,366.7 324.0,365.0C328.3,363.3 332.7,361.0 338.0,359.0C343.3,357.0 349.7,355.0 356.0,353.0C362.3,351.0 369.0,349.0 376.0,347.0C383.0,345.0 391.3,342.8 398.0,341.0C404.7,339.2 411.0,337.8 416.0,336.0C421.0,334.2 425.0,332.3 428.0,330.0C431.0,327.7 432.7,324.7 434.0,322.0C435.3,319.3 436.2,318.7 436.0,314.0Z" fill="none" stroke="#000" stroke-opacity="0.18" stroke-width="6.65"/></g><path d="M373.2,303.0C373.4,299.0 372.4,295.3 370.6,292.2C368.8,289.1 366.4,286.2 362.4,284.2C358.4,282.2 352.7,281.3 346.4,280.2C340.1,279.1 330.6,278.1 324.8,277.4C319.0,276.7 315.9,275.7 311.4,276.2C306.9,276.7 302.5,278.4 298.0,280.2C293.5,282.0 289.1,283.9 284.6,286.8C280.1,289.7 274.1,293.6 271.0,297.6C267.9,301.6 265.7,307.2 266.2,311.0C266.7,314.8 270.7,317.9 273.8,320.4C276.9,322.9 281.5,324.0 284.6,325.8C287.7,327.6 290.4,329.2 292.6,331.2C294.8,333.2 296.9,335.1 298.0,338.0C299.1,340.9 298.3,345.3 299.2,348.6C300.1,351.9 301.4,356.0 303.4,358.0C305.4,360.0 307.8,361.0 311.4,360.8C315.0,360.6 320.3,358.6 324.8,356.8C329.3,355.0 333.7,352.7 338.2,350.0C342.7,347.3 347.6,344.0 351.6,340.6C355.6,337.2 359.5,333.8 362.4,329.8C365.3,325.8 367.4,320.9 369.2,316.4C371.0,311.9 373.0,307.0 373.2,303.0Z" fill="url(#g10)"/><path d="M344.0,278.0C342.0,277.5 336.7,275.7 332.0,275.0C327.3,274.3 321.0,273.8 316.0,274.0C311.0,274.2 306.3,275.2 302.0,276.4C297.7,277.6 293.7,279.2 290.0,281.0C286.3,282.8 281.7,286.0 280.0,287.0" fill="none" stroke="#111" stroke-opacity="0.85" stroke-width="2.49" stroke-linecap="round"/><path d="M351.6,340.6C349.0,341.8 341.3,346.3 336.0,348.0C330.7,349.7 325.0,350.8 320.0,351.0C315.0,351.2 309.5,350.5 306.0,349.0C302.5,347.5 300.2,343.2 299.0,342.0" fill="none" stroke="#888" stroke-opacity="0.6" stroke-width="1.00"/><path d="M436.0,314.0C435.8,309.3 435.0,301.0 433.0,294.0C431.0,287.0 427.8,278.7 424.0,272.0C420.2,265.3 415.3,259.3 410.0,254.0C404.7,248.7 399.0,244.0 392.0,240.0C385.0,236.0 376.3,232.1 368.0,230.0C359.7,227.9 350.7,227.4 342.0,227.2C333.3,227.0 324.3,227.7 316.0,229.0C307.7,230.3 299.7,232.2 292.0,235.0C284.3,237.8 276.3,241.8 270.0,246.0C263.7,250.2 258.7,254.7 254.0,260.0C249.3,265.3 244.9,272.0 242.0,278.0C239.1,284.0 237.3,290.0 236.6,296.0C235.9,302.0 236.4,308.3 238.0,314.0C239.6,319.7 242.7,326.2 246.0,330.0C249.3,333.8 253.0,335.2 258.0,337.0C263.0,338.8 270.3,339.8 276.0,341.0C281.7,342.2 288.8,341.8 292.0,344.0C295.2,346.2 293.3,350.5 295.0,354.0C296.7,357.5 299.2,362.5 302.0,365.0C304.8,367.5 308.3,369.0 312.0,369.0C315.7,369.0 319.7,366.7 324.0,365.0C328.3,363.3 332.7,361.0 338.0,359.0C343.3,357.0 349.7,355.0 356.0,353.0C362.3,351.0 369.0,349.0 376.0,347.0C383.0,345.0 391.3,342.8 398.0,341.0C404.7,339.2 411.0,337.8 416.0,336.0C421.0,334.2 425.0,332.3 428.0,330.0C431.0,327.7 432.7,324.7 434.0,322.0C435.3,319.3 436.2,318.7 436.0,314.0Z" fill="none" stroke="#3a3a3a" stroke-width="1.2"/></g>
<rect x="54" y="194.2" width="118" height="6.8" fill="url(#hotbar)"/>
<text x="29.5" y="200.6" font-size="9.9" text-anchor="start" fill="#1a1a1a" stroke="#1a1a1a" >0.28</text>
<text x="175.3" y="201" font-size="9.9" text-anchor="start" fill="#1a1a1a" stroke="#1a1a1a" >0.54</text>
<text x="233.3" y="15.5" font-size="21.8" text-anchor="start" fill="#1a1a1a" stroke="#1a1a1a" >B</text>
<text x="288" y="24.4" font-size="10.9" text-anchor="start" fill="#1a1a1a" stroke="#1a1a1a" >Corr(</text>
<g transform="scale(.5)"><g clip-path="url(#k11)"><rect x="628" y="7" width="41" height="28" fill="#ca1b1c"/><path fill="#670d0d" stroke="#670d0d" stroke-width=".6" d="M632 6l0-1-3 0-3 0 2 3zM626 32l4 4 11 2-4 0-11-17 0-15 0 21zM638 31l3 0 0 1 0 0-2 3-2-2z"/><path fill="#8e1212" stroke="#8e1212" stroke-width=".6" d="M628 8l-2-3 0 1 0 9 1-2 3-2zM640 5l-4 3-3 0-1-2 0-1 7 0 2 0zM643 22l-1 3 4 1 1 0 0-5-1 0zM645 17l4-1 1 2-2 3-1 0-1 0zM647 21l0 5 2 1 2-1-1-4-2-1zM655 24l0 0-2 2-2 0-1-4 4-1zM655 24l4-3-2-3-3 1 0 2zM661 10l3-2 3 1-1 3-4 1z"/><path fill="#460a0a" stroke="#460a0a" stroke-width=".6" d="M629 19l1-4-3-2-1 2 3 4zM633 33l5 5 4 0 1 0-2 0-11-2 2-3 1 0zM638 17l0-3 0-1-4 0-1 2 0 2 2 2zM652 32l3-2 3 1 0 0-2 4z"/><path fill="#510b0b" stroke="#510b0b" stroke-width=".6" d="M629 19l-3-4 0-9 0 0 0 21 0-2 4-5zM630 20l-4 5 3 1 2-5zM643 13l-1-4 0-1 4 1 1 4-2 1zM641 32l4 1 1-3-1-1-3 0-1 2z"/><path fill="#851010" stroke="#851010" stroke-width=".6" d="M629 26l-3-1 0 2 0 5 2-1 2-2-1-3zM633 8l-1 3-2 0-2-3 4-2zM632 11l2 2-1 2-3 0-3-2 3-2zM643 17l-2-3-3 0 0 3 0 1 3 1zM654 38l-11 0-1 0 3 0 1-4 4-1 1 0zM661 15l1-2-1-3-3 0 1 5 0 0 1 0zM659 25l-1 1 1 4 2 0 2-3zM669 33l-3 5-3-2 1-4 2 0zM670 32l-3-4-2 0 1 4 3 1z"/><path fill="#f0631e" stroke="#f0631e" stroke-width=".6" d="M626 32l4 4 2-3-4-2zM638 12l-2-4-3 0-1 3 2 2 4 0zM649 16l0-3 4 1 0 4-3 0z"/><path fill="#f3741e" stroke="#f3741e" stroke-width=".6" d="M629 19l1-4 3 0 0 2zM634 29l-1-3 1-1 3 0 1 1-1 3zM633 33l4 0 1-2-1-2-3 0-1 1 0 3zM655 24l0 0 3 2 1-1 2-3-1-1 0 0-1 0zM667 12l-1 0 1-3 0 0 4-3 0 11 0 0z"/><path fill="#5c0c0c" stroke="#5c0c0c" stroke-width=".6" d="M635 19l-2-2-4 2 0 0 1 1 1 1 1 0 2-2z"/><path fill="#d71c1e" stroke="#d71c1e" stroke-width=".6" d="M631 21l-2 5 0 0 4 0 1-1-2-4zM633 30l-3-1-1-3 4 0 1 3zM642 21l-4 1 0 1-1 2 1 1 3 0 1-1 1-3zM645 17l0-3-2-1-2 1 2 3zM641 32l4 1 1 1-1 4-4-6zM649 13l4 1 1-1 0-3-2-1 0 0-3 4zM658 10l0-1 1-4 5 3-3 2zM661 22l3 3-1 2 0 0-4-2zM667 23l2 3 2 4 0-1 0-8 0-15 0 0 0 11-4 5z"/><path fill="#e41e20" stroke="#e41e20" stroke-width=".6" d="M633 33l-1 0-4-2 2-2 3 1zM646 9l2-1-7-3-1 0 2 3zM645 17l0-3 2-1 2 0 0 0 0 3-4 1zM655 38l1-3-4-3-1 1 3 5zM659 15l-5-2 0-3 4-1 0 1zM655 24l3 2 1 4-1 1-3-1-1-2-1-2zM655 38l5-4-2-3-2 4zM665 16l2-4-1 0-4 1-1 2zM665 16l2-4 4 5-6 0z"/><path fill="#f6921d" stroke="#f6921d" stroke-width=".6" d="M638 18l0 4 0 1-4-4 1 0 3-2zM634 19l-2 2 2 4 3 0 1-2zM643 13l-1-4-4 3 0 1 0 1 3 0zM642 21l-1-2 2-2 2 0 0 0 1 4-3 1z"/><path fill="#f5841d" stroke="#f5841d" stroke-width=".6" d="M633 33l5 5 1-3-2-2zM642 9l-4 3-2-4 4-3 2 3zM645 33l1 1 4-1 0-3-1-1-3 1z"/><path fill="#fbc718" stroke="#fbc718" stroke-width=".6" d="M642 21l-4 1 0-4 3 1zM665 18l1 3-6 0 0 0 2-2zM665 17l6 0 0 0-4 5-1-1-1-3z"/><path fill="#ca1b1c" stroke="#ca1b1c" stroke-width=".6" d="M638 31l3 0 1-2-1-3-3 0-1 3zM642 29l-1-3 1-1 4 1-1 3zM648 21l2 1 4-1 0-2-1-1-3 0zM658 9l1-4-2 0-5 4 2 1z"/><path fill="#370909" stroke="#370909" stroke-width=".6" d="M641 32l4 6-3 0-4 0 1-3zM667 9l0 0 4-4-13 0-1 0 2 0 5 3z"/><path fill="#a01515" stroke="#a01515" stroke-width=".6" d="M641 5l-2 0 11 3-2 0zM647 13l2 0 3-4-2-1-2 0-2 1zM653 26l1 2-4 2-1-1 0-2 2-1zM663 27l2 1 1 4-2 0-3-2 2-3z"/><path fill="#7d0f0f" stroke="#7d0f0f" stroke-width=".6" d="M645 29l1-3 1 0 2 1 0 2-3 1zM652 32l3-2-1-2-4 2 0 3 1 0zM665 16l-4-1-1 0 2 4 3-1 0-1zM663 27l2 1 2 0 2-2-2-3-3 2z"/><path fill="#fabc1a" stroke="#fabc1a" stroke-width=".6" d="M650 8l2 1 0 0 5-4 1 0-10 0-19 0 3 0 7 0z"/><path fill="#971313" stroke="#971313" stroke-width=".6" d="M659 15l-5-2-1 1 0 4 1 1 3-1 2-3zM660 15l-1 0-2 3 2 3 1 0 2-2zM661 22l-1-1 6 0 1 1 0 1-3 2z"/><path fill="#320909" stroke="#320909" stroke-width=".6" d="M658 31l0 0 1-1 2 0 3 2-1 4-3-2z"/><path fill="#e72f1f" stroke="#e72f1f" stroke-width=".6" d="M655 38l5-4 3 2 3 2 5 0-23 0-11 0 4 0 2 0 11 0zM670 32l1-2-2-4-2 2zM670 32l1-2 0-1 0 9-5 0 3-5z"/><path fill="#fcd217" stroke="#fcd217" stroke-width=".6" d="M671 6l0 0 0-1-4 4z"/><rect x="628" y="7" width="41" height="28" fill="url(#r12)"/><path d="M629.6,23.6C629.6,23.0 629.6,22.6 629.7,21.8C629.9,21.1 630.2,19.9 630.6,19.1C631.1,18.2 631.9,17.4 632.5,16.7C633.1,16.0 633.7,15.4 634.3,14.9C634.9,14.3 635.5,13.9 636.2,13.5C636.9,13.0 637.5,12.5 638.3,12.1C639.1,11.6 640.2,11.2 641.1,10.8C642.0,10.5 642.8,10.2 643.8,10.0C644.8,9.8 645.9,9.5 647.2,9.4C648.5,9.2 650.1,9.1 651.6,9.2C653.0,9.3 654.4,9.7 655.8,10.2C657.3,10.8 658.8,11.6 660.2,12.6C661.5,13.6 662.8,14.9 663.8,16.1C664.8,17.3 665.5,18.7 666.0,19.6C666.4,20.6 666.6,21.0 666.6,21.8C666.6,22.6 666.6,23.5 666.3,24.4C665.9,25.3 665.3,26.6 664.4,27.3C663.6,28.1 662.5,28.3 661.4,28.8C660.2,29.2 658.8,29.6 657.7,30.0C656.6,30.4 655.7,30.8 654.6,31.1C653.5,31.5 652.1,31.9 651.1,32.3C650.1,32.6 649.5,33.0 648.5,33.2C647.5,33.4 646.2,33.6 645.3,33.6C644.4,33.6 643.7,33.5 643.1,33.3C642.5,33.0 642.0,32.7 641.6,32.3C641.3,31.9 641.2,31.1 641.0,30.7C640.8,30.3 640.8,30.2 640.3,30.0C639.8,29.9 638.8,29.9 637.9,29.8C637.1,29.7 635.9,29.7 635.0,29.5C634.1,29.3 633.3,29.2 632.6,28.8C631.9,28.4 631.3,27.8 630.8,27.2C630.4,26.7 630.1,25.9 629.9,25.3C629.7,24.7 629.6,24.2 629.6,23.6Z" fill="none" stroke="#000" stroke-opacity="0.18" stroke-width="2.40"/></g><path d="M629.6,23.6C629.6,23.0 629.6,22.6 629.7,21.8C629.9,21.1 630.2,19.9 630.6,19.1C631.1,18.2 631.9,17.4 632.5,16.7C633.1,16.0 633.7,15.4 634.3,14.9C634.9,14.3 635.5,13.9 636.2,13.5C636.9,13.0 637.5,12.5 638.3,12.1C639.1,11.6 640.2,11.2 641.1,10.8C642.0,10.5 642.8,10.2 643.8,10.0C644.8,9.8 645.9,9.5 647.2,9.4C648.5,9.2 650.1,9.1 651.6,9.2C653.0,9.3 654.4,9.7 655.8,10.2C657.3,10.8 658.8,11.6 660.2,12.6C661.5,13.6 662.8,14.9 663.8,16.1C664.8,17.3 665.5,18.7 666.0,19.6C666.4,20.6 666.6,21.0 666.6,21.8C666.6,22.6 666.6,23.5 666.3,24.4C665.9,25.3 665.3,26.6 664.4,27.3C663.6,28.1 662.5,28.3 661.4,28.8C660.2,29.2 658.8,29.6 657.7,30.0C656.6,30.4 655.7,30.8 654.6,31.1C653.5,31.5 652.1,31.9 651.1,32.3C650.1,32.6 649.5,33.0 648.5,33.2C647.5,33.4 646.2,33.6 645.3,33.6C644.4,33.6 643.7,33.5 643.1,33.3C642.5,33.0 642.0,32.7 641.6,32.3C641.3,31.9 641.2,31.1 641.0,30.7C640.8,30.3 640.8,30.2 640.3,30.0C639.8,29.9 638.8,29.9 637.9,29.8C637.1,29.7 635.9,29.7 635.0,29.5C634.1,29.3 633.3,29.2 632.6,28.8C631.9,28.4 631.3,27.8 630.8,27.2C630.4,26.7 630.1,25.9 629.9,25.3C629.7,24.7 629.6,24.2 629.6,23.6Z" fill="none" stroke="#3a3a3a" stroke-width="0.7"/></g>
<g transform="scale(.5)"><g clip-path="url(#k13)"><rect x="627" y="33" width="42" height="32" fill="#460a0a"/><path fill="#d71c1e" stroke="#d71c1e" stroke-width=".6" d="M625 36l0-5 3 3-3 5zM629 43l-2-3-2-1 0-3 0 13 0 4 0-3 0-2zM629 43l-4 5 4 1 0 0 1-5zM629 56l0-2 0-1-4-3 0 3 1 5zM637 35l-4 1 1 3 2 0zM633 43l-1 1 2 4 2 0 2-2-1-2zM635 53l3-3-2-2-2 0 0 2 0 1zM633 62l5-1 0 1 1 5-2 0-4-5zM663 59l-1 1 1 4 4-2-2-3-1 0z"/><path fill="#370909" stroke="#370909" stroke-width=".6" d="M627 40l-2-1 3-5 2 1-3 5zM634 51l0-1-5-1 0 0 0 4 0 1zM666 55l5 0 0 0 0-2-5-3-2 3z"/><path fill="#510b0b" stroke="#510b0b" stroke-width=".6" d="M629 49l0 4-4-3 0-2zM666 31l5 0 0 17 0 1 0-5 0-2-3-6zM671 44l0 5 0 4-5-3-1-2 1-3z"/><path fill="#8e1212" stroke="#8e1212" stroke-width=".6" d="M627 61l-1-3-1-5 0-4 0 0 0 18 0 0zM635 31l10 0 4 0-1 0-23 0 3 3 2 1 2 0zM639 59l-1 2-5 1 0-3 4-2zM651 36l2-5-5 0-1 0-2 5 1 0zM656 50l2-2 0-2-4-2-2 4 2 2z"/><path fill="#ca1b1c" stroke="#ca1b1c" stroke-width=".6" d="M631 63l-6 4 2-6zM634 39l0 0-7 1 3-5 2 0 1 1zM631 63l2-1 0 0 0-3-1-2-3-1-3 2 1 3zM639 59l-2-2-1-3 5-1 0 5zM650 53l-2-2 0 0-4 2 1 1 4 0zM646 63l2 1 4 3-22 0-5 0 13 0 8-4zM653 54l1 4 4-1 1-2-2-2z"/><path fill="#e41e20" stroke="#e41e20" stroke-width=".6" d="M633 43l-1 1-2 0-1-1-2-3 0 0 7-1zM634 50l-5-1 1-5 2 0 2 4zM637 35l-4 1-1-1 3-4 3 4zM639 40l-2 4-4-1 1-4 0 0 2 0zM639 40l3 4-2 2-2 0-1-2 2-4zM645 49l3 2 0 0 2-4-1-2-3 0zM651 36l-1 4 3 2 1-5zM655 63l-2 2-1 2-22 0 18 0 23 0-14-3-1-1zM668 62l3-7 0-2 0-4 0-1 0 1 0 18-3 0z"/><path fill="#f5841d" stroke="#f5841d" stroke-width=".6" d="M629 56l0-2 5-3 1 2 1 0-4 4z"/><path fill="#460a0a" stroke="#460a0a" stroke-width=".6" d="M631 63l2-1 4 5 1 0-13 0 0 0 0 0zM655 31l0 6 2 0 2-2zM664 59l1 0 6-4-5 0z"/><path fill="#5c0c0c" stroke="#5c0c0c" stroke-width=".6" d="M636 54l0-1-4 4 1 2 4-2zM641 58l0 0 5-1-1-3-1-1-2-1-1 1zM651 36l0 0-5 0-1 3 3 2 2-1zM650 64l3 1-1 2-4-3zM667 62l-2-3 6-4 0 0-3 7z"/><path fill="#971313" stroke="#971313" stroke-width=".6" d="M638 35l-3-4 10 0 3 0-1 0-7 4zM641 50l-3 0-2-2 2-2 2 0zM641 53l1-1 0-2-1 0-3 0-3 3 1 0 0 1zM640 36l5 0 1 0-1 3 0 1-5-1zM639 40l3 4 2-1 1-3-5-1zM654 44l-1-1-4 2 0 0 1 2 2 1zM668 67l3 0 0 0-14-3 5 1zM663 38l3 3-1 2-5-2z"/><path fill="#3c0a0a" stroke="#3c0a0a" stroke-width=".6" d="M639 40l1-1 0-3 0-1-2 0-1 0-1 4 3 1z"/><path fill="#f6921d" stroke="#f6921d" stroke-width=".6" d="M639 59l-1 2 0 1 3 2 2-2-2-4 0 0zM640 36l5 0 2-5-7 4zM644 43l2 2-1 4-3 1-1 0-1-4 2-2zM651 59l-1 5-2 0-2-1 2-4 1-1zM651 59l-1 5 3 1 2-2-2-4zM663 59l-3-4 2-2 2 0 2 2-2 4zM666 41l0 0 5 1 0 2-5 1-1-1 0-1z"/><path fill="#ed511e" stroke="#ed511e" stroke-width=".6" d="M639 67l-1-5 3 2z"/><path fill="#f3741e" stroke="#f3741e" stroke-width=".6" d="M642 50l0 2 2 1 4-2-3-2zM652 53l-2 0-2-2 2-4 2 1 2 2zM663 37l0 1-3 3 0 0-1 0-2-4 2-2 2-1z"/><path fill="#ffe814" stroke="#ffe814" stroke-width=".6" d="M646 63l2-4-2-2-5 1 2 4 3 1zM648 41l1 4 0 0-3 0-2-2 1-3 0-1z"/><path fill="#e72f1f" stroke="#e72f1f" stroke-width=".6" d="M646 63l-8 4-1 0 2 0 2-3 2-2zM654 37l1 0 2 0 2 4-6 1 0 0z"/><path fill="#851010" stroke="#851010" stroke-width=".6" d="M649 54l-4 0 1 3 2 2 1-1zM653 54l1 4-1 1-2 0-2-1 0-4 1-1 2 0zM661 34l-2 1-4-4-2 0-5 0-3 0 4 0 22 0-5 0z"/><path fill="#670d0d" stroke="#670d0d" stroke-width=".6" d="M651 36l0 0 2-5 2 0 0 6-1 0zM663 37l4 0 1-1-2-5-5 3z"/><path fill="#fabc1a" stroke="#fabc1a" stroke-width=".6" d="M650 40l-2 1 1 4 4-2 0-1 0 0zM663 37l0 1 3 3 0 0 1-4zM667 62l-4 2-1 1 6 2 0-5z"/><path fill="#f8a11c" stroke="#f8a11c" stroke-width=".6" d="M658 46l1-4 1-1-1 0-6 1 0 1 1 1zM658 48l2 1 1-1 1-3-3-3-1 4zM656 63l1 1 5 1 1-1-1-4-3 0zM666 45l-1 3-4 0 1-3 3-1zM665 48l1 2-2 3-2 0-2-4 1-1z"/><path fill="#fcd217" stroke="#fcd217" stroke-width=".6" d="M653 54l4-1-1-3-2 0-2 3zM658 57l1 3-3 3-1 0-2-4 1-1z"/><path fill="#7d0f0f" stroke="#7d0f0f" stroke-width=".6" d="M660 41l0 0-1 1 3 3 3-1 0-1zM667 37l-1 4 5 1-3-6z"/><path fill="#f0631e" stroke="#f0631e" stroke-width=".6" d="M656 50l2-2 2 1 2 4-2 2-1 0-2-2z"/><path fill="#f9b11c" stroke="#f9b11c" stroke-width=".6" d="M658 57l1 3 3 0 1-1-3-4-1 0z"/><rect x="627" y="33" width="42" height="32" fill="url(#r14)"/><path d="M628.8,52.3C628.8,51.4 629.0,49.8 629.4,48.4C629.7,47.0 630.3,45.4 631.1,44.0C631.8,42.7 632.7,41.5 633.7,40.5C634.7,39.4 635.8,38.5 637.1,37.7C638.5,36.9 640.1,36.2 641.7,35.8C643.3,35.3 645.0,35.2 646.6,35.2C648.3,35.2 650.0,35.3 651.5,35.6C653.1,35.8 654.6,36.2 656.1,36.7C657.6,37.3 659.1,38.1 660.3,38.9C661.5,39.7 662.4,40.6 663.3,41.7C664.2,42.7 665.0,44.0 665.6,45.2C666.1,46.4 666.5,47.6 666.6,48.8C666.7,50.0 666.6,51.2 666.3,52.3C666.0,53.5 665.4,54.7 664.8,55.5C664.2,56.3 663.5,56.5 662.5,56.9C661.6,57.2 660.2,57.4 659.1,57.7C658.1,57.9 656.7,57.8 656.1,58.3C655.5,58.7 655.8,59.5 655.5,60.2C655.2,60.9 654.7,61.9 654.2,62.4C653.7,62.9 653.0,63.2 652.3,63.2C651.6,63.2 650.9,62.7 650.0,62.4C649.2,62.1 648.4,61.6 647.4,61.2C646.4,60.8 645.2,60.4 644.0,60.0C642.8,59.6 641.5,59.3 640.2,58.9C638.8,58.5 637.3,58.0 636.0,57.7C634.7,57.3 633.5,57.0 632.6,56.7C631.6,56.3 630.9,56.0 630.3,55.5C629.7,55.0 629.4,54.4 629.2,53.9C628.9,53.4 628.8,53.3 628.8,52.3Z" fill="none" stroke="#000" stroke-opacity="0.18" stroke-width="2.40"/></g><path d="M640.7,50.2C640.7,49.4 640.9,48.7 641.2,48.0C641.5,47.4 642.0,46.9 642.8,46.5C643.5,46.1 644.6,45.9 645.8,45.7C647.0,45.4 648.8,45.2 649.9,45.1C651.0,45.0 651.6,44.8 652.4,44.9C653.3,45.0 654.1,45.3 655.0,45.7C655.8,46.0 656.6,46.4 657.5,47.0C658.4,47.5 659.5,48.3 660.1,49.1C660.7,49.9 661.1,51.0 661.0,51.7C660.9,52.5 660.1,53.1 659.5,53.6C659.0,54.1 658.1,54.3 657.5,54.7C656.9,55.0 656.4,55.3 656.0,55.7C655.6,56.1 655.2,56.5 655.0,57.1C654.8,57.7 654.9,58.5 654.7,59.2C654.6,59.8 654.3,60.6 653.9,61.0C653.6,61.4 653.1,61.6 652.4,61.6C651.7,61.5 650.7,61.1 649.9,60.8C649.0,60.4 648.2,60.0 647.3,59.4C646.5,58.9 645.6,58.3 644.8,57.6C644.0,56.9 643.3,56.3 642.8,55.5C642.2,54.7 641.8,53.7 641.5,52.8C641.1,51.9 640.7,51.0 640.7,50.2Z" fill="url(#g15)"/><path d="M646.2,45.2C646.6,45.1 647.6,44.8 648.5,44.6C649.4,44.5 650.6,44.4 651.5,44.4C652.5,44.5 653.4,44.7 654.2,44.9C655.0,45.1 655.8,45.5 656.5,45.8C657.2,46.2 658.1,46.8 658.4,47.0" fill="none" stroke="#111" stroke-opacity="0.85" stroke-width="0.80" stroke-linecap="round"/><path d="M644.8,57.6C645.3,57.8 646.8,58.7 647.8,59.1C648.8,59.4 649.8,59.6 650.8,59.6C651.7,59.7 652.8,59.5 653.4,59.3C654.1,59.0 654.5,58.1 654.8,57.9" fill="none" stroke="#888" stroke-opacity="0.6" stroke-width="0.60"/><path d="M628.8,52.3C628.8,51.4 629.0,49.8 629.4,48.4C629.7,47.0 630.3,45.4 631.1,44.0C631.8,42.7 632.7,41.5 633.7,40.5C634.7,39.4 635.8,38.5 637.1,37.7C638.5,36.9 640.1,36.2 641.7,35.8C643.3,35.3 645.0,35.2 646.6,35.2C648.3,35.2 650.0,35.3 651.5,35.6C653.1,35.8 654.6,36.2 656.1,36.7C657.6,37.3 659.1,38.1 660.3,38.9C661.5,39.7 662.4,40.6 663.3,41.7C664.2,42.7 665.0,44.0 665.6,45.2C666.1,46.4 666.5,47.6 666.6,48.8C666.7,50.0 666.6,51.2 666.3,52.3C666.0,53.5 665.4,54.7 664.8,55.5C664.2,56.3 663.5,56.5 662.5,56.9C661.6,57.2 660.2,57.4 659.1,57.7C658.1,57.9 656.7,57.8 656.1,58.3C655.5,58.7 655.8,59.5 655.5,60.2C655.2,60.9 654.7,61.9 654.2,62.4C653.7,62.9 653.0,63.2 652.3,63.2C651.6,63.2 650.9,62.7 650.0,62.4C649.2,62.1 648.4,61.6 647.4,61.2C646.4,60.8 645.2,60.4 644.0,60.0C642.8,59.6 641.5,59.3 640.2,58.9C638.8,58.5 637.3,58.0 636.0,57.7C634.7,57.3 633.5,57.0 632.6,56.7C631.6,56.3 630.9,56.0 630.3,55.5C629.7,55.0 629.4,54.4 629.2,53.9C628.9,53.4 628.8,53.3 628.8,52.3Z" fill="none" stroke="#3a3a3a" stroke-width="0.7"/></g>
<g transform="scale(.5)"><g clip-path="url(#k16)"><rect x="668" y="7" width="41" height="28" fill="#f3741e"/><path fill="#510b0b" stroke="#510b0b" stroke-width=".6" d="M689 5l-2 0-14 0-3 5-4-5 0 0 23 0 1 0zM670 10l1 2-1 2-4-9 4 5zM677 34l2 4 4 0-17 0 7-4 2 0zM683 12l-1 0 0-1-1-6 3 0 2 1-3 6zM711 5l0 0-3 5-1-2z"/><path fill="#370909" stroke="#370909" stroke-width=".6" d="M666 5l0 0 0 16 0 7 0-4 0-5 3-3 1-2zM674 21l-1 1-2 0 0-5 2 1zM694 29l-2-1-2 2 2 4 1 0 1-1 0-4zM705 17l1-1 1-2-4-2-2 2z"/><path fill="#e41e20" stroke="#e41e20" stroke-width=".6" d="M671 17l-2-1-3 3 4 3 1 0zM676 8l-6 2 0 0 3-5 3 3zM688 16l2 1 1 2-2 3-3 0-2-1 2-4zM687 27l-1-1 0-4 3 0 2 3zM700 15l-3-3-2 0-1 1 2 3 2 1 2-2zM706 17l0-1 1-2 0 0 4 3 0 2zM706 21l0-4 5 2-4 2z"/><path fill="#d71c1e" stroke="#d71c1e" stroke-width=".6" d="M666 27l0-3 0-5 4 3-1 3zM669 30l2-2 0-1-2-2-3 2zM676 27l0-1 2-1 2 1-2 4zM681 17l3-1-1-4-1 0-1 0-2 4zM687 30l0 1-5-2 0-2 0 0 4-1 1 1zM682 32l0-3 5 2-1 3-1 0zM711 38l-6 0-7 0-8-3-3 0 15 3zM694 5l-4 4 0 0 4 0 1-1z"/><path fill="#7d0f0f" stroke="#7d0f0f" stroke-width=".6" d="M669 30l1 3-4 5 0-10 0-4 0 3zM678 33l4-1 0-3 0-2-4 4zM686 12l2-4-2-2-3 6zM688 16l2 1 1 0 2-3-3-2-3 1zM703 18l0 3 1 0 2 0 0-4 0-1-1 1z"/><path fill="#971313" stroke="#971313" stroke-width=".6" d="M670 33l-4 5 0 0 6-4zM674 29l-3-1 0-1 3-3 2 2 0 1zM679 12l-2-4-1 0 0 0 0 5zM682 21l-5-1 0-3 2-1 2 1 1 4zM693 34l4 4 2-2-2-3-3 0zM703 18l0 3-3 0-1-1-1-3 2-2zM700 21l3 0 1 0 0 5-2 1-2-2zM707 31l4-5 0-6 0-2-3 17z"/><path fill="#a01515" stroke="#a01515" stroke-width=".6" d="M676 13l-1 0-4-1-1-2 6-2zM694 9l1 3-1 1-1 1-3-2 0-3zM707 14l-4-2 0-2 1-2 3 0 1 2-1 4z"/><path fill="#f6921d" stroke="#f6921d" stroke-width=".6" d="M673 18l-2-1-2-1 1-2 1-2 4 1 0 3zM694 20l-3-1-1-2 1 0 4 0z"/><path fill="#8e1212" stroke="#8e1212" stroke-width=".6" d="M669 25l1-3 1 0 2 0 1 2-3 3zM673 34l-7 4 0 0 6-4zM694 5l-7 0 0 0 2 0 11 3 0 0-5 0zM699 20l-1-3-2-1-1 1-1 3 1 1zM707 31l-1-1-4 0 0 4 1 0 4 1 1 0zM708 35l-1 0 4 3 0-17 0-9 0 6z"/><path fill="#f5841d" stroke="#f5841d" stroke-width=".6" d="M674 29l-3-1-2 2 1 3 2 1 1 0 2 0zM685 34l1 0 1 1 15 3-13 0-6 0-4 0zM694 5l-7 0-3 0 2 1 2 2 2 1zM697 26l-3-2-2 1 0 3 2 1z"/><path fill="#851010" stroke="#851010" stroke-width=".6" d="M687 5l0 0-14 0 3 3 1 0 1-1 3-2 3 0zM682 11l-1-6-3 2zM687 30l3 0 2-2 0-3-1 0-4 2zM695 21l-1-1-3-1-2 3 2 3 1 0 2-1zM700 8l-11-3 1 0 21 0-7 3-1 2zM701 14l2-2 0-2-3-2 0 0-3 4 3 3zM702 30l0 0 0 4-3 2-2-3 2-3zM711 20l0-3-4-3 1-4 3-5 0 7 0 6z"/><path fill="#ed511e" stroke="#ed511e" stroke-width=".6" d="M677 17l-2-1 0-3 1 0 3-1 2 0-2 4z"/><path fill="#fbc718" stroke="#fbc718" stroke-width=".6" d="M677 20l0 0-3 1-1-3 2-2 2 1zM688 16l-1-3-1-1-3 0 0 0 1 4 2 1zM698 38l-1 0-4-4-1 0-2 1z"/><path fill="#ca1b1c" stroke="#ca1b1c" stroke-width=".6" d="M677 20l1 5-2 1-2-2-1-2 1-1zM682 21l-2 5 0 0-2-1-1-5 0 0zM707 21l2 4 2 1 0-6 0-3 0 2z"/><path fill="#f3741e" stroke="#f3741e" stroke-width=".6" d="M674 29l1 5 2 0 1-1 0-2 0-1-2-3zM678 30l2-4 0 0 2 1 0 0-4 4zM695 17l-4 0 2-3 1-1 2 3z"/><path fill="#5c0c0c" stroke="#5c0c0c" stroke-width=".6" d="M682 11l0 1-1 0-2 0-2-4 1-1zM682 21l-2 5 2 1 4-1 0-4-2-1-2 0z"/><path fill="#fabc1a" stroke="#fabc1a" stroke-width=".6" d="M677 34l2 4 6-4-3-2-4 1zM702 34l-3 2-2 2 1 0 7 0-2-4zM707 31l-1-1 0-4 3-1 2 1z"/><path fill="#e72f1f" stroke="#e72f1f" stroke-width=".6" d="M682 21l2 0 2-4-2-1-3 1zM690 9l-2-1-2 4 1 1 3-1 0-3zM695 8l5 0-3 4-2 0-1-3zM703 34l2 4 6 0 0 0-4-3z"/><path fill="#f0631e" stroke="#f0631e" stroke-width=".6" d="M687 30l0 1-1 3 1 1 3 0 2-1-2-4z"/><path fill="#3c0a0a" stroke="#3c0a0a" stroke-width=".6" d="M698 26l2-1 0-4-1-1-4 1-1 3 3 2zM711 5l-7 3 3 0 4-3zM706 21l-2 0 0 5 2 0 3-1-2-4z"/><path fill="#fcd217" stroke="#fcd217" stroke-width=".6" d="M698 26l0 3-4 0 0 0 3-3zM703 18l-3-3 0 0 1-1 4 3z"/><path fill="#320909" stroke="#320909" stroke-width=".6" d="M694 29l0 4 3 0 2-3-1-1zM702 27l2-1 2 0 0 4-4 0 0 0z"/><path fill="#f9b11c" stroke="#f9b11c" stroke-width=".6" d="M698 26l2-1 2 2 0 3-3 0-1-1z"/><rect x="668" y="7" width="41" height="28" fill="url(#r17)"/><path d="M707.2,23.6C707.2,23.0 707.2,22.6 707.1,21.8C706.9,21.1 706.6,19.9 706.2,19.1C705.7,18.2 704.9,17.4 704.3,16.7C703.7,16.0 703.1,15.4 702.5,14.9C701.9,14.3 701.3,13.9 700.6,13.5C699.9,13.0 699.3,12.5 698.5,12.1C697.7,11.6 696.6,11.2 695.7,10.8C694.8,10.5 694.0,10.2 693.0,10.0C692.0,9.8 690.9,9.5 689.6,9.4C688.3,9.2 686.7,9.1 685.2,9.2C683.8,9.3 682.4,9.7 681.0,10.2C679.5,10.8 678.0,11.6 676.6,12.6C675.3,13.6 674.0,14.9 673.0,16.1C672.0,17.3 671.3,18.7 670.8,19.6C670.4,20.6 670.2,21.0 670.2,21.8C670.2,22.6 670.2,23.5 670.5,24.4C670.9,25.3 671.5,26.6 672.4,27.3C673.2,28.1 674.3,28.3 675.4,28.8C676.6,29.2 678.0,29.6 679.1,30.0C680.2,30.4 681.1,30.8 682.2,31.1C683.3,31.5 684.7,31.9 685.7,32.3C686.7,32.6 687.3,33.0 688.3,33.2C689.3,33.4 690.6,33.6 691.5,33.6C692.4,33.6 693.1,33.5 693.7,33.3C694.3,33.0 694.8,32.7 695.2,32.3C695.5,31.9 695.6,31.1 695.8,30.7C696.0,30.3 696.0,30.2 696.5,30.0C697.0,29.9 698.0,29.9 698.9,29.8C699.7,29.7 700.9,29.7 701.8,29.5C702.7,29.3 703.5,29.2 704.2,28.8C704.9,28.4 705.5,27.8 706.0,27.2C706.4,26.7 706.7,25.9 706.9,25.3C707.1,24.7 707.2,24.2 707.2,23.6Z" fill="none" stroke="#000" stroke-opacity="0.18" stroke-width="2.40"/></g><path d="M707.2,23.6C707.2,23.0 707.2,22.6 707.1,21.8C706.9,21.1 706.6,19.9 706.2,19.1C705.7,18.2 704.9,17.4 704.3,16.7C703.7,16.0 703.1,15.4 702.5,14.9C701.9,14.3 701.3,13.9 700.6,13.5C699.9,13.0 699.3,12.5 698.5,12.1C697.7,11.6 696.6,11.2 695.7,10.8C694.8,10.5 694.0,10.2 693.0,10.0C692.0,9.8 690.9,9.5 689.6,9.4C688.3,9.2 686.7,9.1 685.2,9.2C683.8,9.3 682.4,9.7 681.0,10.2C679.5,10.8 678.0,11.6 676.6,12.6C675.3,13.6 674.0,14.9 673.0,16.1C672.0,17.3 671.3,18.7 670.8,19.6C670.4,20.6 670.2,21.0 670.2,21.8C670.2,22.6 670.2,23.5 670.5,24.4C670.9,25.3 671.5,26.6 672.4,27.3C673.2,28.1 674.3,28.3 675.4,28.8C676.6,29.2 678.0,29.6 679.1,30.0C680.2,30.4 681.1,30.8 682.2,31.1C683.3,31.5 684.7,31.9 685.7,32.3C686.7,32.6 687.3,33.0 688.3,33.2C689.3,33.4 690.6,33.6 691.5,33.6C692.4,33.6 693.1,33.5 693.7,33.3C694.3,33.0 694.8,32.7 695.2,32.3C695.5,31.9 695.6,31.1 695.8,30.7C696.0,30.3 696.0,30.2 696.5,30.0C697.0,29.9 698.0,29.9 698.9,29.8C699.7,29.7 700.9,29.7 701.8,29.5C702.7,29.3 703.5,29.2 704.2,28.8C704.9,28.4 705.5,27.8 706.0,27.2C706.4,26.7 706.7,25.9 706.9,25.3C707.1,24.7 707.2,24.2 707.2,23.6Z" fill="none" stroke="#3a3a3a" stroke-width="0.7"/></g>
<g transform="scale(.5)"><g clip-path="url(#k18)"><rect x="667" y="33" width="42" height="32" fill="#e41e20"/><path fill="#d71c1e" stroke="#d71c1e" stroke-width=".6" d="M677 31l5 0-5 0-12 0 0 5 3 0 2-1zM692 43l-1 0-4 4 0 1 0 0 4-1 1-3zM704 59l2 1 3-2-1-4-1-1-2 1z"/><path fill="#f3741e" stroke="#f3741e" stroke-width=".6" d="M669 42l-4-6 3 0 2 4zM691 58l-2-3 0-1-3 2 1 4 3-1z"/><path fill="#fbc718" stroke="#fbc718" stroke-width=".6" d="M669 42l-4-6 0-5 0 0 0 15 3-2 2-1zM690 36l-1-5-1 0-3 5 2 1z"/><path fill="#510b0b" stroke="#510b0b" stroke-width=".6" d="M671 50l-3-6-3 2 4 5zM689 54l-1-1-7 1 2 2 3 0zM693 67l-5 0-3-4-1-1-3 2-4 3-12 0 23 0 6 0 0 0zM700 37l3-3 1 1-2 4-1 0z"/><path fill="#ca1b1c" stroke="#ca1b1c" stroke-width=".6" d="M665 58l0 0 0 3 0-12 0-18 0 15 4 5 0 1zM670 58l2 4-3 2-4-6 0 0zM676 67l-3-5-1 0-3 2-4 3 0 0 12 0zM691 58l4 0 1-3-3-2-4 2zM697 35l1 0 4-4 2 0 7 0-23 0-11 0 5 0 2 0 4 0 1 0 6 3zM697 35l1 0 2 2 1 2-1 2-2 1-2-1-1-2zM697 62l-2 0 0 0 0-4 5 2-1 1zM701 67l-7 0 0 0 17 0-4-3-5 0 0 0zM711 61l-2-3-1-4 3-11 0 6 0 18z"/><path fill="#971313" stroke="#971313" stroke-width=".6" d="M670 53l-1-1-4 6 5 0 0-1zM675 35l2-4-7 4 2 0zM674 40l-4 0-1 2 1 1 1 1 2-1 1-3zM687 48l0 1-5 1-1-1 2-5 3-1 1 4zM695 34l-6-3 1 5 2 1zM706 36l-2-1-2 4 4 1 0 0z"/><path fill="#a01515" stroke="#a01515" stroke-width=".6" d="M669 64l-4 3 0-6 0-3zM678 36l-3-1 2-4 5 0 2 0-4 0zM683 36l-1-1-2-4 4 0 4 0-3 5zM692 44l-1 3 2 2 2 0 1-3z"/><path fill="#5c0c0c" stroke="#5c0c0c" stroke-width=".6" d="M674 40l-4 0-2-4 2-1 2 0zM696 46l-1 3 4 3 0-4-2-2zM698 35l4-4 1 3-3 3zM698 42l0 1 6 4 0-2-4-4zM707 48l1 0 3-3-4-3zM707 63l4-2-2-3-3 2z"/><path fill="#370909" stroke="#370909" stroke-width=".6" d="M670 43l-2 1 3 6 2-1-2-5zM676 67l-3-5 2-1 3 0zM690 59l2 3-1 1-4-2 0-1zM704 59l2 1 1 3 0 1-5 0 2-5z"/><path fill="#f6921d" stroke="#f6921d" stroke-width=".6" d="M674 54l1-1 0-3 0-1-2 0-2 1-2 1 0 1 1 1zM678 61l-3 0 0-3 2-1 2 2-1 2zM682 43l-1-4-3 0 0 5zM695 58l0 0-4 0-1 1 2 3 3 0zM698 43l6 4 0 0 0 0-5 1-2-2z"/><path fill="#f9b11c" stroke="#f9b11c" stroke-width=".6" d="M674 54l-1 3-3 0 0-4zM696 41l-4 2 0 1 4 2 1 0 1-3 0-1zM699 52l0 1 0 1-3 1-3-2 0-1 0-3 2 0z"/><path fill="#fabc1a" stroke="#fabc1a" stroke-width=".6" d="M673 57l2 1 0 3-2 1-1 0-2-4 0-1zM673 43l5 2 0 1-3 3-2 0-2-5zM681 49l-3-3 0-1 0-1 4-1 1 1zM699 48l5-1-1 6-4 0 0-1z"/><path fill="#851010" stroke="#851010" stroke-width=".6" d="M678 37l0 1-4 2 0 0-2-5 3 0 3 1zM677 57l2-2 2-1 0 0 2 2-1 3-3 0zM687 37l-2-1-2 0-1 3 5 2 0 0zM687 49l1 4-7 1 0 0 0-2 1-2zM692 39l-2 2-3 0 0-4 3-1 2 1zM687 48l6 4 0 1-4 2 0-1-1-1-1-4 0-1zM695 62l-2 5-5 0 3-4 1-1 3 0zM701 67l-7 0-1 0 2-5 2 0zM701 59l3 0 0 0 1-5-2-1-4 0 0 1zM701 67l-4-5 2-1 3 3z"/><path fill="#e41e20" stroke="#e41e20" stroke-width=".6" d="M678 44l0 1-5-2 1-3 4-2 0 1zM678 37l4-2-2-4-2 5zM697 35l-2 4-3 0 0-2 3-3zM687 48l6 4 0-3-2-2zM703 34l1 1 2 1 1-1-3-4-2 0zM704 47l0 0 3 1 0-6-1 0-2 3z"/><path fill="#670d0d" stroke="#670d0d" stroke-width=".6" d="M679 55l-4-2 0-3 6 2 0 2zM706 36l0 4 5-4-4-1z"/><path fill="#f8a11c" stroke="#f8a11c" stroke-width=".6" d="M674 54l1-1 4 2-2 2-2 1-2-1zM682 39l-1 0 1 4 1 1 3-1 1-2z"/><path fill="#3c0a0a" stroke="#3c0a0a" stroke-width=".6" d="M682 39l-1 0-3 0 0-1 0-1 4-2 1 1z"/><path fill="#460a0a" stroke="#460a0a" stroke-width=".6" d="M682 50l-1 2-6-2 0-1 3-3 3 3zM681 64l3-2-2-3-3 0-1 2zM676 67l2-6 0 0 3 3-4 3zM701 39l1 0 4 1 0 2-2 3-4-4zM711 45l0-14 0 0 0 12-3 11-1-1 1-5zM707 64l4 3 0 0 0-6-4 2z"/><path fill="#7d0f0f" stroke="#7d0f0f" stroke-width=".6" d="M687 60l0 1-2 2-1-1-2-3 1-3 3 0zM707 35l-3-4 7 0 0 0 0 0 0 5z"/><path fill="#ffe814" stroke="#ffe814" stroke-width=".6" d="M690 41l1 2-4 4-1-4 1-2 0 0zM700 60l1-1-2-5-3 1-1 3 0 0z"/><path fill="#fddd15" stroke="#fddd15" stroke-width=".6" d="M685 63l3 4 3-4-4-2z"/><path fill="#8e1212" stroke="#8e1212" stroke-width=".6" d="M692 39l-2 2 1 2 1 0 4-2-1-2z"/><path fill="#f0631e" stroke="#f0631e" stroke-width=".6" d="M702 64l0 0 2-5-3 0-1 1-1 1zM703 53l2 1 2-1 1-5-1 0-3-1 0 0z"/><path fill="#f5841d" stroke="#f5841d" stroke-width=".6" d="M707 42l4 3 0-14 0 5-5 4 0 0 0 2z"/><rect x="667" y="33" width="42" height="32" fill="url(#r19)"/><path d="M707.2,52.3C707.2,51.4 707.0,49.8 706.6,48.4C706.3,47.0 705.7,45.4 704.9,44.0C704.2,42.7 703.3,41.5 702.3,40.5C701.3,39.4 700.2,38.5 698.9,37.7C697.5,36.9 695.9,36.2 694.3,35.8C692.7,35.3 691.0,35.2 689.4,35.2C687.7,35.2 686.0,35.3 684.5,35.6C682.9,35.8 681.4,36.2 679.9,36.7C678.4,37.3 676.9,38.1 675.7,38.9C674.5,39.7 673.6,40.6 672.7,41.7C671.8,42.7 671.0,44.0 670.4,45.2C669.9,46.4 669.5,47.6 669.4,48.8C669.3,50.0 669.4,51.2 669.7,52.3C670.0,53.5 670.6,54.7 671.2,55.5C671.8,56.3 672.5,56.5 673.5,56.9C674.4,57.2 675.8,57.4 676.9,57.7C677.9,57.9 679.3,57.8 679.9,58.3C680.5,58.7 680.2,59.5 680.5,60.2C680.8,60.9 681.3,61.9 681.8,62.4C682.3,62.9 683.0,63.2 683.7,63.2C684.4,63.2 685.1,62.7 686.0,62.4C686.8,62.1 687.6,61.6 688.6,61.2C689.6,60.8 690.8,60.4 692.0,60.0C693.2,59.6 694.5,59.3 695.8,58.9C697.2,58.5 698.7,58.0 700.0,57.7C701.3,57.3 702.5,57.0 703.4,56.7C704.4,56.3 705.1,56.0 705.7,55.5C706.3,55.0 706.6,54.4 706.8,53.9C707.1,53.4 707.2,53.3 707.2,52.3Z" fill="none" stroke="#000" stroke-opacity="0.18" stroke-width="2.40"/></g><path d="M695.3,50.2C695.3,49.4 695.1,48.7 694.8,48.0C694.5,47.4 694.0,46.9 693.2,46.5C692.5,46.1 691.4,45.9 690.2,45.7C689.0,45.4 687.2,45.2 686.1,45.1C685.0,45.0 684.4,44.8 683.6,44.9C682.7,45.0 681.9,45.3 681.0,45.7C680.2,46.0 679.4,46.4 678.5,47.0C677.6,47.5 676.5,48.3 675.9,49.1C675.3,49.9 674.9,51.0 675.0,51.7C675.1,52.5 675.9,53.1 676.5,53.6C677.0,54.1 677.9,54.3 678.5,54.7C679.1,55.0 679.6,55.3 680.0,55.7C680.4,56.1 680.8,56.5 681.0,57.1C681.2,57.7 681.1,58.5 681.3,59.2C681.4,59.8 681.7,60.6 682.1,61.0C682.4,61.4 682.9,61.6 683.6,61.6C684.3,61.5 685.3,61.1 686.1,60.8C687.0,60.4 687.8,60.0 688.7,59.4C689.5,58.9 690.4,58.3 691.2,57.6C692.0,56.9 692.7,56.3 693.2,55.5C693.8,54.7 694.2,53.7 694.5,52.8C694.9,51.9 695.3,51.0 695.3,50.2Z" fill="url(#g20)"/><path d="M689.8,45.2C689.4,45.1 688.4,44.8 687.5,44.6C686.6,44.5 685.4,44.4 684.5,44.4C683.5,44.5 682.6,44.7 681.8,44.9C681.0,45.1 680.2,45.5 679.5,45.8C678.8,46.2 677.9,46.8 677.6,47.0" fill="none" stroke="#111" stroke-opacity="0.85" stroke-width="0.80" stroke-linecap="round"/><path d="M691.2,57.6C690.7,57.8 689.2,58.7 688.2,59.1C687.2,59.4 686.2,59.6 685.2,59.6C684.3,59.7 683.2,59.5 682.6,59.3C681.9,59.0 681.5,58.1 681.2,57.9" fill="none" stroke="#888" stroke-opacity="0.6" stroke-width="0.60"/><path d="M707.2,52.3C707.2,51.4 707.0,49.8 706.6,48.4C706.3,47.0 705.7,45.4 704.9,44.0C704.2,42.7 703.3,41.5 702.3,40.5C701.3,39.4 700.2,38.5 698.9,37.7C697.5,36.9 695.9,36.2 694.3,35.8C692.7,35.3 691.0,35.2 689.4,35.2C687.7,35.2 686.0,35.3 684.5,35.6C682.9,35.8 681.4,36.2 679.9,36.7C678.4,37.3 676.9,38.1 675.7,38.9C674.5,39.7 673.6,40.6 672.7,41.7C671.8,42.7 671.0,44.0 670.4,45.2C669.9,46.4 669.5,47.6 669.4,48.8C669.3,50.0 669.4,51.2 669.7,52.3C670.0,53.5 670.6,54.7 671.2,55.5C671.8,56.3 672.5,56.5 673.5,56.9C674.4,57.2 675.8,57.4 676.9,57.7C677.9,57.9 679.3,57.8 679.9,58.3C680.5,58.7 680.2,59.5 680.5,60.2C680.8,60.9 681.3,61.9 681.8,62.4C682.3,62.9 683.0,63.2 683.7,63.2C684.4,63.2 685.1,62.7 686.0,62.4C686.8,62.1 687.6,61.6 688.6,61.2C689.6,60.8 690.8,60.4 692.0,60.0C693.2,59.6 694.5,59.3 695.8,58.9C697.2,58.5 698.7,58.0 700.0,57.7C701.3,57.3 702.5,57.0 703.4,56.7C704.4,56.3 705.1,56.0 705.7,55.5C706.3,55.0 706.6,54.4 706.8,53.9C707.1,53.4 707.2,53.3 707.2,52.3Z" fill="none" stroke="#3a3a3a" stroke-width="0.7"/></g>
<g transform="scale(.5)"><g clip-path="url(#k21)"><rect x="722" y="7" width="41" height="28" fill="#670d0d"/><path fill="#670d0d" stroke="#670d0d" stroke-width=".6" d="M720 13l0-8 7 0-4 3zM727 22l-4 2 0 0 5 3zM744 11l0 0-2-1-4 2 0 1 3 2 3-2 1 0zM753 12l0 1 5 0 0 0-1-3-1 0-2 1z"/><path fill="#8e1212" stroke="#8e1212" stroke-width=".6" d="M725 10l-2-2-3 5 0 3 4-5zM724 11l-4 5 0 2 4-1 1-2zM728 29l1-1-1-1-5-3 0 1 0 3 2 2zM744 18l-3 0 0-3 3-2 2 3zM750 12l-1 1 1 4 1 1 3-1-1-4 0-1zM747 34l2 1 3-2-1-3-4 1zM751 21l0-3 3-1 2 1 0 3-5 1zM756 18l0 3 0 1 5 0-2-4-2-1z"/><path fill="#d71c1e" stroke="#d71c1e" stroke-width=".6" d="M725 18l-1-1-4 1 3 6zM736 18l-3-1 0-1 4-4 0 0 1 0 0 1zM742 10l2 1 1-6-1 0-5 1 1 2zM744 29l3 2 0 3-2 1-3-1zM749 9l0 0-4-4-1 0 3 0 7 0-3 4zM747 24l-2 2 0 0 6 3 1-4 0-1zM756 10l1 0 3-2 0 0 5-3-17 0-1 0 7 0zM760 29l0 0 0 3-1 1-2 0-2-3 2-2zM765 13l0 1 0-8 0-1-5 3z"/><path fill="#fabc1a" stroke="#fabc1a" stroke-width=".6" d="M723 24l0 0-3-6 0-2 0-3 0-8 0 16 0 17 3-13 0-1zM720 35l3-7 0-3-3 13 0 0zM747 20l0 2 4-1 0-3-1-1-1 1z"/><path fill="#851010" stroke="#851010" stroke-width=".6" d="M724 33l0 1-4 1 3-7 2 2zM727 20l2-3 3-1 1 0 0 1-1 5-4-1zM747 20l2-2-3-2-2 2 1 2zM747 20l0 2 0 2-2 2-3-4 0 0 3-2zM765 38l0 0 0 0-6-5 1-1z"/><path fill="#e72f1f" stroke="#e72f1f" stroke-width=".6" d="M731 38l-4 0-3-4-4 1 0 3 15 0 0 0-2 0z"/><path fill="#f5841d" stroke="#f5841d" stroke-width=".6" d="M726 10l5-5 16 0-5 0-15 0-4 3 2 2zM727 15l2 2-2 3-2-2-1-1 1-2zM741 15l-3-2-2 5 2 1 2-1 1 0z"/><path fill="#a01515" stroke="#a01515" stroke-width=".6" d="M726 10l2 0 0 4-1 1-2 0-1-4 1-1zM737 33l-5 1 0 0 0-3 2-1 1 0zM752 24l0 1 4-1 0-2 0-1-5 1zM761 24l-1 5 0 0 5-2-4-3z"/><path fill="#370909" stroke="#370909" stroke-width=".6" d="M727 22l1-1-1-1-2-2-2 6 0 0z"/><path fill="#e41e20" stroke="#e41e20" stroke-width=".6" d="M729 30l0 3-5 0 1-3 3-1zM726 10l5-5 2 4-2 2-3-1zM728 10l3 1 0 3-3 0zM728 14l3 0 1 2-3 1-2-2zM732 34l-3 0-2 4 4 0 2 0-1-4zM739 29l0 5-2-1 0 0-2-3 3-2 1 0zM745 20l-3 2-2-4 1 0 3 0zM745 26l-3-4-3 1 2 3 4 1 0-1zM739 29l5 0 1-2-4-1-2 2zM739 29l5 0 0 0-2 5-2 0-1 0zM733 38l2 0 13 0-3-3-3-1-2 0zM746 16l-2-3 1 0 4 0 1 4-1 1zM747 34l2 1 2 3-3 0-3-3zM747 22l4-1 0 1 1 2-5 0zM760 18l3-5 0 0 2 0 0 1-1 5z"/><path fill="#ca1b1c" stroke="#ca1b1c" stroke-width=".6" d="M724 33l0 1 3 4 2-4 0-1zM738 28l-1-1-3-2-1 0 1 5 1 0zM738 19l0 1 0 3 1 0 0 0 3-1 0 0-2-4zM749 9l0 0-5 2 1 2 4 0 1-1zM754 17l2 1 1-1 1-4-5 0zM763 13l-3-5 0 0 5 5zM765 38l-5-6 0-3 5-2 0 11z"/><path fill="#7d0f0f" stroke="#7d0f0f" stroke-width=".6" d="M729 28l-1-1-1-5 1-1 4 1 0 0 1 3zM754 35l-3 3-2-3 3-2z"/><path fill="#3c0a0a" stroke="#3c0a0a" stroke-width=".6" d="M734 30l-1-5 0 0-4 3-1 1 1 1 3 1zM757 10l3-2 3 5 0 0-5 0z"/><path fill="#5c0c0c" stroke="#5c0c0c" stroke-width=".6" d="M732 31l-3-1 0 3 0 1 3 0zM733 25l0 0-1-3 6-2 0 3-4 2zM756 24l1 2 0 2-2 2-3-1-1 0 1-4zM754 35l-2-2-1-3 1-1 3 1 2 3-2 2zM761 24l-1 5-3-1 0-2zM761 22l-2-4 1 0 4 1-3 4z"/><path fill="#971313" stroke="#971313" stroke-width=".6" d="M739 6l-5 4-1-1-2-4 16 0 1 0-1 0-3 0zM738 19l0 1-6 2 0 0 1-5 3 1zM734 25l4-2 1 0-2 4zM737 33l-4 5-2 0 2 0 7-4-1 0zM751 9l3-4 2 5-2 1zM756 22l5 0 0 1 0 1 0 0-4 2-1-2z"/><path fill="#f3741e" stroke="#f3741e" stroke-width=".6" d="M731 11l0 3 1 2 1 0 4-4-3-2-1-1zM737 12l0 0-3-2 5-4 1 2z"/><path fill="#320909" stroke="#320909" stroke-width=".6" d="M737 33l-5 1 1 4 4-5zM749 9l1 3 3 0 1-1-3-2z"/><path fill="#ed511e" stroke="#ed511e" stroke-width=".6" d="M738 12l4-2-2-2-3 4z"/><path fill="#f6921d" stroke="#f6921d" stroke-width=".6" d="M739 28l2-2-2-3 0 0-2 4 1 1zM754 35l-3 3-3 0-13 0 0 0 7 0 23 0 0 0-10-3z"/><path fill="#fddd15" stroke="#fddd15" stroke-width=".6" d="M749 9l-4-4-1 6 0 0z"/><path fill="#510b0b" stroke="#510b0b" stroke-width=".6" d="M744 29l1-2 0-1 6 3 1 0-1 1-4 1-3-2z"/><path fill="#f0631e" stroke="#f0631e" stroke-width=".6" d="M757 17l2 1 1 0 3-5-5 0 0 0zM761 24l4 3 0 11 0-17 0-15 0 8-1 5-3 4z"/><path fill="#fcd217" stroke="#fcd217" stroke-width=".6" d="M755 35l10 3-6-5-2 0z"/><rect x="722" y="7" width="41" height="28" fill="url(#r22)"/><path d="M724.0,23.6C724.0,23.0 724.0,22.6 724.1,21.8C724.3,21.1 724.6,19.9 725.0,19.1C725.5,18.2 726.3,17.4 726.9,16.7C727.5,16.0 728.1,15.4 728.7,14.9C729.3,14.3 729.9,13.9 730.6,13.5C731.3,13.0 731.9,12.5 732.7,12.1C733.5,11.6 734.6,11.2 735.5,10.8C736.4,10.5 737.2,10.2 738.2,10.0C739.2,9.8 740.3,9.5 741.6,9.4C742.9,9.2 744.5,9.1 746.0,9.2C747.4,9.3 748.8,9.7 750.2,10.2C751.7,10.8 753.2,11.6 754.6,12.6C755.9,13.6 757.2,14.9 758.2,16.1C759.2,17.3 759.9,18.7 760.4,19.6C760.8,20.6 761.0,21.0 761.0,21.8C761.0,22.6 761.0,23.5 760.7,24.4C760.3,25.3 759.7,26.6 758.8,27.3C758.0,28.1 756.9,28.3 755.8,28.8C754.6,29.2 753.2,29.6 752.1,30.0C751.0,30.4 750.1,30.8 749.0,31.1C747.9,31.5 746.5,31.9 745.5,32.3C744.5,32.6 743.9,33.0 742.9,33.2C741.9,33.4 740.6,33.6 739.7,33.6C738.8,33.6 738.1,33.5 737.5,33.3C736.9,33.0 736.4,32.7 736.0,32.3C735.7,31.9 735.6,31.1 735.4,30.7C735.2,30.3 735.2,30.2 734.7,30.0C734.2,29.9 733.2,29.9 732.3,29.8C731.5,29.7 730.3,29.7 729.4,29.5C728.5,29.3 727.7,29.2 727.0,28.8C726.3,28.4 725.7,27.8 725.2,27.2C724.8,26.7 724.5,25.9 724.3,25.3C724.1,24.7 724.0,24.2 724.0,23.6Z" fill="none" stroke="#000" stroke-opacity="0.18" stroke-width="2.40"/></g><path d="M724.0,23.6C724.0,23.0 724.0,22.6 724.1,21.8C724.3,21.1 724.6,19.9 725.0,19.1C725.5,18.2 726.3,17.4 726.9,16.7C727.5,16.0 728.1,15.4 728.7,14.9C729.3,14.3 729.9,13.9 730.6,13.5C731.3,13.0 731.9,12.5 732.7,12.1C733.5,11.6 734.6,11.2 735.5,10.8C736.4,10.5 737.2,10.2 738.2,10.0C739.2,9.8 740.3,9.5 741.6,9.4C742.9,9.2 744.5,9.1 746.0,9.2C747.4,9.3 748.8,9.7 750.2,10.2C751.7,10.8 753.2,11.6 754.6,12.6C755.9,13.6 757.2,14.9 758.2,16.1C759.2,17.3 759.9,18.7 760.4,19.6C760.8,20.6 761.0,21.0 761.0,21.8C761.0,22.6 761.0,23.5 760.7,24.4C760.3,25.3 759.7,26.6 758.8,27.3C758.0,28.1 756.9,28.3 755.8,28.8C754.6,29.2 753.2,29.6 752.1,30.0C751.0,30.4 750.1,30.8 749.0,31.1C747.9,31.5 746.5,31.9 745.5,32.3C744.5,32.6 743.9,33.0 742.9,33.2C741.9,33.4 740.6,33.6 739.7,33.6C738.8,33.6 738.1,33.5 737.5,33.3C736.9,33.0 736.4,32.7 736.0,32.3C735.7,31.9 735.6,31.1 735.4,30.7C735.2,30.3 735.2,30.2 734.7,30.0C734.2,29.9 733.2,29.9 732.3,29.8C731.5,29.7 730.3,29.7 729.4,29.5C728.5,29.3 727.7,29.2 727.0,28.8C726.3,28.4 725.7,27.8 725.2,27.2C724.8,26.7 724.5,25.9 724.3,25.3C724.1,24.7 724.0,24.2 724.0,23.6Z" fill="none" stroke="#3a3a3a" stroke-width="0.7"/></g>
<g transform="scale(.5)"><g clip-path="url(#k23)"><rect x="721" y="33" width="42" height="32" fill="#370909"/><path fill="#851010" stroke="#851010" stroke-width=".6" d="M722 36l0 1-3 3 0-3 0-6 7 0 0 0zM727 36l-5 0 4-5 2 2zM732 38l5-2 0 5-1 0-4 0 0-1zM747 37l1-1-3-5-1 4zM761 45l-1 3 1 2 4 4 0 1 0 0-3-11z"/><path fill="#7d0f0f" stroke="#7d0f0f" stroke-width=".6" d="M724 40l-2-3-3 3 0 3 3-1zM733 57l-2 2 1 4 2-1 2-4 0 0zM758 53l2 0 5 1 0 1-4 3-3-3z"/><path fill="#f3741e" stroke="#f3741e" stroke-width=".6" d="M723 47l0 0-4-4 3-1 3 3zM725 49l-2 4-4-1 4-5 0 0zM730 49l-1 0-4 0-2 4 1 1 5 0zM728 33l4 4 2-6-8 0 0 0zM732 38l5-2 0-1-3-4-2 6z"/><path fill="#e41e20" stroke="#e41e20" stroke-width=".6" d="M719 37l0 3 0 3 4 4-4 5 0 3 0 12 0-18zM722 59l-3-4 0 12 0 0 4-6zM724 40l-2-3 0-1 5 0 0 3-1 1zM724 63l-5 4 0 0 10 0-3-4zM744 51l0-5-3-1-1 0 0 4 4 2zM748 50l-4 1 0-5 2 0 2 1 1 1zM747 39l2 2 2 0 1-1 0-5-4 1-1 1zM753 53l-4-1-1-2 1-2 4 0 0 0 1 5zM760 36l2-5-8 4 1 0zM765 54l-4-4-1 3zM761 62l4 5 0 0-4 0z"/><path fill="#d71c1e" stroke="#d71c1e" stroke-width=".6" d="M724 58l0-4-1-1-4-1 0 3 3 4zM728 63l3 1 2 3-4 0-3-4zM735 63l4 4 0 0-6 0-2-3 1-1 2-1zM735 63l4 4 2-4zM762 44l3 11 0 12 0-18 0-18-1 7-3 4z"/><path fill="#510b0b" stroke="#510b0b" stroke-width=".6" d="M723 61l-4 6 0 0 5-4zM755 43l1-2 1-1 2 0 2 2 1 2-1 1-4 0z"/><path fill="#fddd15" stroke="#fddd15" stroke-width=".6" d="M725 45l-3-3 2-2 2 0 0 4z"/><path fill="#fbc718" stroke="#fbc718" stroke-width=".6" d="M729 49l-4 0-2-2 2-2 1-1 2 1zM728 45l-2-1 0-4 1-1 5 1 0 1 0 1zM730 49l3-4 2 1 0 3-3 1zM732 50l3-1 2 1-1 3-3 0zM744 40l2 5 0 1-2 0-3-1-1-3 1-2 2 0zM753 48l2 0 2-3-2-2-2 1 0 4zM755 48l3 2 2-2 1-3-4 0zM760 37l4 1-3 4-2-2z"/><path fill="#8e1212" stroke="#8e1212" stroke-width=".6" d="M729 55l-1 3-4 0 0-4 5 0zM728 59l0 4 3 1 1-1-1-4zM744 36l-4-1 0 1 1 4 2 0zM743 53l5 1 0 4 0 1-1-1-3-2z"/><path fill="#460a0a" stroke="#460a0a" stroke-width=".6" d="M728 59l0 4-2 0-2 0-1-2-1-2 2-1 4 0zM737 35l-3-4-8 0-7 0 10 0 17 0-1 0-5 4 0 1z"/><path fill="#fcd217" stroke="#fcd217" stroke-width=".6" d="M727 36l0 3 5 1 0-2 0-1-4-4zM737 50l1 0 2-1 0-4-4 1-1 0 0 3zM737 55l-1 3 0 0 4 3 1-4-3-2zM749 48l-1-1 3-4 2 1 0 4zM753 35l-7-4-17 0 13 0 23 0-3 0-8 4zM753 44l-2-1 0-2 1-1 4 1-1 2z"/><path fill="#320909" stroke="#320909" stroke-width=".6" d="M730 49l3-4-1-3-4 3 1 4 1 0z"/><path fill="#f6921d" stroke="#f6921d" stroke-width=".6" d="M730 49l2 1 1 3-2 2-2 0 0-1 1-5zM738 50l2-1 4 2-1 2-2 0zM748 58l3 0 3 5 0 1-1 1-5-5 0-1z"/><path fill="#ca1b1c" stroke="#ca1b1c" stroke-width=".6" d="M731 55l2 2-2 2-3 0 0-1 1-3zM736 53l1 2 1 0 3-2-3-3-1 0zM741 53l2 0 0 0 1 3-3 1-3-2zM757 64l4 3 0-5-2-1zM760 60l-1 1 2 1 4 5 0 0 0-12 0 0-4 3z"/><path fill="#f8a11c" stroke="#f8a11c" stroke-width=".6" d="M733 45l2 1 1 0 0-5-4 0 0 1zM747 58l-6 4 5 2 2-4 0-1zM748 60l-2 4 0 0 6 3 1-2zM755 57l1 2 4 1 1-2-3-3z"/><path fill="#fabc1a" stroke="#fabc1a" stroke-width=".6" d="M731 55l2 2 3 1 1-3-1-2-3 0zM751 43l-3 4-2-1 0-1 3-4 2 0zM758 52l0-2-3-2-2 0 1 5zM754 64l3 0 4 3 4 0-15 0 2 0 1-2z"/><path fill="#f5841d" stroke="#f5841d" stroke-width=".6" d="M741 40l-1-4-3-1 0 1 0 5 3 1zM752 35l1 0-7-4-1 0 0 0 3 5zM760 37l-1 3-2 0-2-5 5 1zM758 52l0-2 2-2 1 2-1 3-2 0z"/><path fill="#f9b11c" stroke="#f9b11c" stroke-width=".6" d="M740 42l-3-1-1 0 0 5 4-1 1 0zM747 39l2 2-3 4-2-5z"/><path fill="#971313" stroke="#971313" stroke-width=".6" d="M735 63l6 0 0-1-1-1-4-3-2 4zM747 39l-3 1-1 0 1-4 0-1 3 2zM748 54l1-2 4 1 0 3-2 2-3 0zM760 37l4 1 1-7 0 0-3 0-2 5z"/><path fill="#a01515" stroke="#a01515" stroke-width=".6" d="M744 36l-4-1 5-4 0 0-1 4zM746 64l-7 3-6 0-4 0-10 0 23 0 8 0 2 0z"/><path fill="#3c0a0a" stroke="#3c0a0a" stroke-width=".6" d="M744 56l-3 1-1 4 1 1 0 0 6-4z"/><path fill="#e72f1f" stroke="#e72f1f" stroke-width=".6" d="M741 63l-2 4 0 0 7-3 0 0-5-2 0 0z"/><path fill="#5c0c0c" stroke="#5c0c0c" stroke-width=".6" d="M743 53l0 0 1-2 0 0 4-1 1 2-1 2z"/><path fill="#370909" stroke="#370909" stroke-width=".6" d="M752 40l0-5 1 0 1 0 1 0 2 5-1 1z"/><path fill="#ffe814" stroke="#ffe814" stroke-width=".6" d="M758 52l-4 1-1 0 0 3 2 1 3-2 0-2zM753 56l-2 2 3 5 2-4-1-2z"/><path fill="#f0631e" stroke="#f0631e" stroke-width=".6" d="M756 59l-2 4 0 1 3 0 2-3 1-1z"/><rect x="721" y="33" width="42" height="32" fill="url(#r24)"/><path d="M723.2,52.3C723.2,51.4 723.4,49.8 723.8,48.4C724.1,47.0 724.7,45.4 725.5,44.0C726.2,42.7 727.1,41.5 728.1,40.5C729.1,39.4 730.2,38.5 731.5,37.7C732.9,36.9 734.5,36.2 736.1,35.8C737.7,35.3 739.4,35.2 741.0,35.2C742.7,35.2 744.4,35.3 745.9,35.6C747.5,35.8 749.0,36.2 750.5,36.7C752.0,37.3 753.5,38.1 754.7,38.9C755.9,39.7 756.8,40.6 757.7,41.7C758.6,42.7 759.4,44.0 760.0,45.2C760.5,46.4 760.9,47.6 761.0,48.8C761.1,50.0 761.0,51.2 760.7,52.3C760.4,53.5 759.8,54.7 759.2,55.5C758.6,56.3 757.9,56.5 756.9,56.9C756.0,57.2 754.6,57.4 753.5,57.7C752.5,57.9 751.1,57.8 750.5,58.3C749.9,58.7 750.2,59.5 749.9,60.2C749.6,60.9 749.1,61.9 748.6,62.4C748.1,62.9 747.4,63.2 746.7,63.2C746.0,63.2 745.3,62.7 744.4,62.4C743.6,62.1 742.8,61.6 741.8,61.2C740.8,60.8 739.6,60.4 738.4,60.0C737.2,59.6 735.9,59.3 734.6,58.9C733.2,58.5 731.7,58.0 730.4,57.7C729.1,57.3 727.9,57.0 727.0,56.7C726.0,56.3 725.3,56.0 724.7,55.5C724.1,55.0 723.8,54.4 723.6,53.9C723.3,53.4 723.2,53.3 723.2,52.3Z" fill="none" stroke="#000" stroke-opacity="0.18" stroke-width="2.40"/></g><path d="M735.1,50.2C735.1,49.4 735.3,48.7 735.6,48.0C735.9,47.4 736.4,46.9 737.2,46.5C737.9,46.1 739.0,45.9 740.2,45.7C741.4,45.4 743.2,45.2 744.3,45.1C745.4,45.0 746.0,44.8 746.8,44.9C747.7,45.0 748.5,45.3 749.4,45.7C750.2,46.0 751.0,46.4 751.9,47.0C752.8,47.5 753.9,48.3 754.5,49.1C755.1,49.9 755.5,51.0 755.4,51.7C755.3,52.5 754.5,53.1 753.9,53.6C753.4,54.1 752.5,54.3 751.9,54.7C751.3,55.0 750.8,55.3 750.4,55.7C750.0,56.1 749.6,56.5 749.4,57.1C749.2,57.7 749.3,58.5 749.1,59.2C749.0,59.8 748.7,60.6 748.3,61.0C748.0,61.4 747.5,61.6 746.8,61.6C746.1,61.5 745.1,61.1 744.3,60.8C743.4,60.4 742.6,60.0 741.7,59.4C740.9,58.9 740.0,58.3 739.2,57.6C738.4,56.9 737.7,56.3 737.2,55.5C736.6,54.7 736.2,53.7 735.9,52.8C735.5,51.9 735.1,51.0 735.1,50.2Z" fill="url(#g25)"/><path d="M740.6,45.2C741.0,45.1 742.0,44.8 742.9,44.6C743.8,44.5 745.0,44.4 745.9,44.4C746.9,44.5 747.8,44.7 748.6,44.9C749.4,45.1 750.2,45.5 750.9,45.8C751.6,46.2 752.5,46.8 752.8,47.0" fill="none" stroke="#111" stroke-opacity="0.85" stroke-width="0.80" stroke-linecap="round"/><path d="M739.2,57.6C739.7,57.8 741.2,58.7 742.2,59.1C743.2,59.4 744.2,59.6 745.2,59.6C746.1,59.7 747.2,59.5 747.8,59.3C748.5,59.0 748.9,58.1 749.2,57.9" fill="none" stroke="#888" stroke-opacity="0.6" stroke-width="0.60"/><path d="M723.2,52.3C723.2,51.4 723.4,49.8 723.8,48.4C724.1,47.0 724.7,45.4 725.5,44.0C726.2,42.7 727.1,41.5 728.1,40.5C729.1,39.4 730.2,38.5 731.5,37.7C732.9,36.9 734.5,36.2 736.1,35.8C737.7,35.3 739.4,35.2 741.0,35.2C742.7,35.2 744.4,35.3 745.9,35.6C747.5,35.8 749.0,36.2 750.5,36.7C752.0,37.3 753.5,38.1 754.7,38.9C755.9,39.7 756.8,40.6 757.7,41.7C758.6,42.7 759.4,44.0 760.0,45.2C760.5,46.4 760.9,47.6 761.0,48.8C761.1,50.0 761.0,51.2 760.7,52.3C760.4,53.5 759.8,54.7 759.2,55.5C758.6,56.3 757.9,56.5 756.9,56.9C756.0,57.2 754.6,57.4 753.5,57.7C752.5,57.9 751.1,57.8 750.5,58.3C749.9,58.7 750.2,59.5 749.9,60.2C749.6,60.9 749.1,61.9 748.6,62.4C748.1,62.9 747.4,63.2 746.7,63.2C746.0,63.2 745.3,62.7 744.4,62.4C743.6,62.1 742.8,61.6 741.8,61.2C740.8,60.8 739.6,60.4 738.4,60.0C737.2,59.6 735.9,59.3 734.6,58.9C733.2,58.5 731.7,58.0 730.4,57.7C729.1,57.3 727.9,57.0 727.0,56.7C726.0,56.3 725.3,56.0 724.7,55.5C724.1,55.0 723.8,54.4 723.6,53.9C723.3,53.4 723.2,53.3 723.2,52.3Z" fill="none" stroke="#3a3a3a" stroke-width="0.7"/></g>
<g transform="scale(.5)"><g clip-path="url(#k26)"><rect x="764" y="7" width="41" height="28" fill="#e41e20"/><path fill="#851010" stroke="#851010" stroke-width=".6" d="M767 9l-3 1-2-5 0 0 6 0zM773 14l2-1-1-5-2 0-2 2 0 2zM774 21l0-4 0-1-4 3 2 2zM778 24l0-4 0 0-4 1 2 3zM799 38l-8-5-3 2-3 3 21 0zM794 29l1-4-3 0-1 1 1 4zM799 38l-1-6 0 0-3 1-1 1zM799 38l0 0 5-4 0-1 3 5 0 0-1 0z"/><path fill="#e41e20" stroke="#e41e20" stroke-width=".6" d="M762 19l0 1 0 1 0-16 2 5 0 0-2 8zM765 27l1 1-4 3 0 7 0-17 0 0 0-1zM766 33l-4-2 4-3 0 0 1 0zM772 8l-4-3-1 4 3 1zM767 18l6-3 0-1-3-2-3 3-1 2zM780 32l0-1-2-3-3 2 2 3 0 0zM788 22l-1 5 0 0-5-2 0 0 0-2 5-2zM791 33l0 0 0-2-3-1-2 3 2 2zM791 8l-2 2 2 3 0 1 2 0 1-4 0-1zM799 30l-1 2-3 1 0-4zM802 29l-2 0-1 1-1 2 0 0 6 2 0-1 0-3z"/><path fill="#ed511e" stroke="#ed511e" stroke-width=".6" d="M766 17l1-2-3-5-2 8z"/><path fill="#460a0a" stroke="#460a0a" stroke-width=".6" d="M767 18l-1-1-4 1 0 1 3 4 2-1 0-4zM762 38l0 0 0 0 0-7 4 2 1 1zM774 29l-4 2 0 2 1 2 4 0 2-2-2-3zM774 21l0-4 4 1 0 2-4 1zM779 25l3 0 0-2 0-2-4-1 0 4z"/><path fill="#f3741e" stroke="#f3741e" stroke-width=".6" d="M762 19l0 1 3 7 0-4zM778 18l0 0 4-1 1 1-1 3-4-1 0 0zM783 11l4-2-2-4-3 3zM790 16l1-2 0-1-5 0-1 1 2 3zM807 27l-3 3-2-1 3-4z"/><path fill="#971313" stroke="#971313" stroke-width=".6" d="M767 15l-3-5 0 0 3-1 3 1 0 2zM774 17l4 1 0 0 0-5-3 0-2 1 0 1 1 1zM782 8l-2 0-3-3 28 0 0 0-17 0-3 0zM783 11l0 3 0 0-4-2 0 0 1-4 2 0zM787 9l1 1 1 0 2-2-3-3-3 0zM792 20l-2 2 2 3 3 0 0-1 1-1-3-3zM795 18l1-1 0 0 3 4 0 0-3 2-3-3z"/><path fill="#370909" stroke="#370909" stroke-width=".6" d="M772 21l-2-2-3-1 0 4 2 2 1-1zM779 25l-1 3-3 2-1-1-1-3 3-2 2 0zM787 19l-4-1-1-1 1-3 0 0 2 0 2 3zM792 30l-1 1-3-1-1-1 0-2 0 0 4-1z"/><path fill="#5c0c0c" stroke="#5c0c0c" stroke-width=".6" d="M767 22l2 2-3 4 0 0-1-1 0-4zM799 21l2 0 1-3-6-1 0 0z"/><path fill="#510b0b" stroke="#510b0b" stroke-width=".6" d="M770 23l-1 1-3 4 1 0 1 0 4-2zM791 17l-1-1 1-2 2 0 0 0 3 3-1 1zM794 29l1 0 0 4-1 1-3-1 0-2 1-1zM799 38l-1-6 6 2-5 4z"/><path fill="#a01515" stroke="#a01515" stroke-width=".6" d="M767 34l-1-1 1-5 1 0 2 3 0 2zM783 11l0 3 2 0 1-1 2-3-1-1z"/><path fill="#f6921d" stroke="#f6921d" stroke-width=".6" d="M762 38l9-3-1-2-3 1zM796 17l0 0 3-4-1-1-5 2 3 3zM799 21l0 6-4-3 1-1zM796 17l6 1 1-1-1-3-3-1z"/><path fill="#fcd217" stroke="#fcd217" stroke-width=".6" d="M777 5l28 0-21 0-22 0 6 0 4 3 2 0 1-1zM779 12l-1 1 0 5 4-1 1-3zM799 38l0 0 0 0-5-4-3-1 0 0z"/><path fill="#3c0a0a" stroke="#3c0a0a" stroke-width=".6" d="M767 18l6-3 1 1-4 3-3-1zM783 33l1-3 3-1 1 1-2 3-3 0zM791 17l-1-1-3 1 0 2 0 2 1 1 2 0 2-2z"/><path fill="#7d0f0f" stroke="#7d0f0f" stroke-width=".6" d="M776 24l-2-3 0 0-2 0-2 2 2 3 1 0zM791 17l4 1-2 2-1 0zM802 14l2-3 3 7-4-1z"/><path fill="#8e1212" stroke="#8e1212" stroke-width=".6" d="M774 29l-4 2-2-3 4-2 1 0zM762 38l0 0 20 0-7-3-4 0zM783 33l-3-1-3 1 6 5 0-5zM792 25l-2-3-2 0-1 5 4-1zM798 5l0 6 0 1-4-2 0-1zM793 14l1-4 4 2 0 0-5 2z"/><path fill="#f0631e" stroke="#f0631e" stroke-width=".6" d="M777 5l3 3-1 4-4-5zM788 10l-2 3 5 0-2-3z"/><path fill="#670d0d" stroke="#670d0d" stroke-width=".6" d="M775 7l-1 1 1 5 3 0 1-1 0 0zM805 25l-3 4-2 0-1-1 3-5 1 0z"/><path fill="#d71c1e" stroke="#d71c1e" stroke-width=".6" d="M777 33l0 0-2 2 7 3 2 0 23 0-1 0-21 0-2 0zM787 21l-5 2 0-2 1-3 4 1zM783 33l3 0 2 2-3 3-2 0zM807 18l0 0-4-1-1 1-1 3 1 2 1 0zM807 30l0-3-2-2-2-2 4-5 0 8z"/><path fill="#ca1b1c" stroke="#ca1b1c" stroke-width=".6" d="M780 31l-2-3 1-3 3 0 0 0 0 3zM784 30l-2-2 0-3 5 2 0 2zM805 5l-17 0 3 3 3 1 4-4 2 0 7 0zM794 29l1 0 4 1 1-1-1-1 0-1-4-3 0 1zM798 5l0 6 5-3-3-3zM799 21l0 6 0 1 3-5-1-2-2 0z"/><path fill="#fddd15" stroke="#fddd15" stroke-width=".6" d="M783 33l1-3-2-2-2 3 0 1z"/><path fill="#e72f1f" stroke="#e72f1f" stroke-width=".6" d="M799 13l-1-1 0 0 0-1 5-3 1 2 0 1-2 3z"/><path fill="#fabc1a" stroke="#fabc1a" stroke-width=".6" d="M807 5l0 0-3 5-1-2-3-3zM807 30l0 8-3-5 0-3 3-3z"/><path fill="#320909" stroke="#320909" stroke-width=".6" d="M807 26l0-5 0-16-3 5 0 1 3 7 0 0z"/><rect x="764" y="7" width="41" height="28" fill="url(#r27)"/><path d="M803.0,23.6C803.0,23.0 803.0,22.6 802.9,21.8C802.7,21.1 802.4,19.9 802.0,19.1C801.5,18.2 800.7,17.4 800.1,16.7C799.5,16.0 798.9,15.4 798.3,14.9C797.7,14.3 797.1,13.9 796.4,13.5C795.7,13.0 795.1,12.5 794.3,12.1C793.5,11.6 792.4,11.2 791.5,10.8C790.6,10.5 789.8,10.2 788.8,10.0C787.8,9.8 786.7,9.5 785.4,9.4C784.1,9.2 782.5,9.1 781.0,9.2C779.6,9.3 778.2,9.7 776.8,10.2C775.3,10.8 773.8,11.6 772.4,12.6C771.1,13.6 769.8,14.9 768.8,16.1C767.8,17.3 767.1,18.7 766.6,19.6C766.2,20.6 766.0,21.0 766.0,21.8C766.0,22.6 766.0,23.5 766.3,24.4C766.7,25.3 767.3,26.6 768.2,27.3C769.0,28.1 770.1,28.3 771.2,28.8C772.4,29.2 773.8,29.6 774.9,30.0C776.0,30.4 776.9,30.8 778.0,31.1C779.1,31.5 780.5,31.9 781.5,32.3C782.5,32.6 783.1,33.0 784.1,33.2C785.1,33.4 786.4,33.6 787.3,33.6C788.2,33.6 788.9,33.5 789.5,33.3C790.1,33.0 790.6,32.7 791.0,32.3C791.3,31.9 791.4,31.1 791.6,30.7C791.8,30.3 791.8,30.2 792.3,30.0C792.8,29.9 793.8,29.9 794.7,29.8C795.5,29.7 796.7,29.7 797.6,29.5C798.5,29.3 799.3,29.2 800.0,28.8C800.7,28.4 801.3,27.8 801.8,27.2C802.2,26.7 802.5,25.9 802.7,25.3C802.9,24.7 803.0,24.2 803.0,23.6Z" fill="none" stroke="#000" stroke-opacity="0.18" stroke-width="2.40"/></g><path d="M803.0,23.6C803.0,23.0 803.0,22.6 802.9,21.8C802.7,21.1 802.4,19.9 802.0,19.1C801.5,18.2 800.7,17.4 800.1,16.7C799.5,16.0 798.9,15.4 798.3,14.9C797.7,14.3 797.1,13.9 796.4,13.5C795.7,13.0 795.1,12.5 794.3,12.1C793.5,11.6 792.4,11.2 791.5,10.8C790.6,10.5 789.8,10.2 788.8,10.0C787.8,9.8 786.7,9.5 785.4,9.4C784.1,9.2 782.5,9.1 781.0,9.2C779.6,9.3 778.2,9.7 776.8,10.2C775.3,10.8 773.8,11.6 772.4,12.6C771.1,13.6 769.8,14.9 768.8,16.1C767.8,17.3 767.1,18.7 766.6,19.6C766.2,20.6 766.0,21.0 766.0,21.8C766.0,22.6 766.0,23.5 766.3,24.4C766.7,25.3 767.3,26.6 768.2,27.3C769.0,28.1 770.1,28.3 771.2,28.8C772.4,29.2 773.8,29.6 774.9,30.0C776.0,30.4 776.9,30.8 778.0,31.1C779.1,31.5 780.5,31.9 781.5,32.3C782.5,32.6 783.1,33.0 784.1,33.2C785.1,33.4 786.4,33.6 787.3,33.6C788.2,33.6 788.9,33.5 789.5,33.3C790.1,33.0 790.6,32.7 791.0,32.3C791.3,31.9 791.4,31.1 791.6,30.7C791.8,30.3 791.8,30.2 792.3,30.0C792.8,29.9 793.8,29.9 794.7,29.8C795.5,29.7 796.7,29.7 797.6,29.5C798.5,29.3 799.3,29.2 800.0,28.8C800.7,28.4 801.3,27.8 801.8,27.2C802.2,26.7 802.5,25.9 802.7,25.3C802.9,24.7 803.0,24.2 803.0,23.6Z" fill="none" stroke="#3a3a3a" stroke-width="0.7"/></g>
<g transform="scale(.5)"><g clip-path="url(#k28)"><rect x="763" y="33" width="42" height="32" fill="#e41e20"/><path fill="#e41e20" stroke="#e41e20" stroke-width=".6" d="M779 31l-12 0-3 4-1 1-2 1 0 5 0-2 17-9 1 0zM766 53l0-4-5-2 0 1 4 6zM771 62l-1-3-4 1-1 3 1 1 2 0zM777 59l4-1 1-2 0-1-3-1-3 5zM781 34l1 2 5 0 0 0 0-5-4 0-2 0zM786 61l5 2 0 0 1 4-1 0-6-4zM794 34l-2 0-1 3 1 3 2 0 1-1zM796 34l-17-3-1 0 6 0 23 0-7 3 0 1-1 0zM796 64l-4 3-1 0 5 0 11 0 0 0-3 0-7-3zM801 62l2-4 1 0 3-1-4 7-2-1z"/><path fill="#460a0a" stroke="#460a0a" stroke-width=".6" d="M763 36l3 5-1 1-4-5zM766 60l-1 3-4 4 4-10zM769 41l5-2 1 5 0 0-4 0-1-2zM779 49l0-5 0 0 1 0 3 2-2 2-1 1z"/><path fill="#fddd15" stroke="#fddd15" stroke-width=".6" d="M761 37l0 5 0 6 0-1 3-3 1-2zM771 44l-1 4 1 1 2-1 1 0 1-4zM788 59l4 1-1 3-5-2 0 0 1-2z"/><path fill="#851010" stroke="#851010" stroke-width=".6" d="M761 47l3-3 3 2 0 2-1 1zM791 37l1-3-5-3 0 5zM802 45l1-4-4 0-3 3 3 2 2-1z"/><path fill="#e72f1f" stroke="#e72f1f" stroke-width=".6" d="M765 54l-4-6 0-6 0-2 0 9 0 18 0 0 4-10z"/><path fill="#971313" stroke="#971313" stroke-width=".6" d="M761 67l0 0 0 0 4-4 1 1zM785 46l-2 0-2 2 4 1zM781 63l4 0 6 4 5 0-15-4zM796 64l-4 3-1-4 5-1zM802 37l5-6 0 0-7 3 0 1zM802 45l1-4 0 0 4 5 0 2zM802 45l5 3-4 2-2-5zM807 48l0-2 0 1 0 10-5-5 0 0 1-2zM802 52l5 5 0 0-3 1-2-6z"/><path fill="#510b0b" stroke="#510b0b" stroke-width=".6" d="M771 35l-4-4-3 4 4 2zM774 67l-6-3 3-2 2 1 2 4zM779 36l0 4-5-1 0-2 2-2zM786 53l4 2 2-1 0-5-1-1-5 3zM801 45l-2 1-1 2 4 4 1-2z"/><path fill="#8e1212" stroke="#8e1212" stroke-width=".6" d="M768 41l-2 0-3-5 1-1 4 2zM786 44l-2-2 0-1 3-3 3 4-1 2zM794 34l-2 0-5-3-4 0-1 0-3 0 0 0 17 3zM795 39l-1 1 2 4 0 0 3-3-2-2z"/><path fill="#ca1b1c" stroke="#ca1b1c" stroke-width=".6" d="M769 41l-1 0-2 0-1 1-1 2 3 2 3-4zM770 54l-4-1 0-4 1-1 3 0 1 1-1 5zM775 54l3-1 0-4-4-1-1 0 2 6zM781 63l4 0 1-2 0 0-4-5-1 2zM786 51l-1-2 0-3 1-2 3 0 2 1 0 3zM797 49l0 3-3 2 1-5zM797 52l3 1-1 3-3 2 0 0-1 0-1-3 0-1z"/><path fill="#f9b11c" stroke="#f9b11c" stroke-width=".6" d="M770 42l-3 4 0 2 3 0 1-4zM775 44l4 0 0 0 0-4 0 0-5-1 0 0zM790 55l-2 4 4 1 3-2-1-3-2-1z"/><path fill="#fbc718" stroke="#fbc718" stroke-width=".6" d="M770 58l0 1-4 1-1-3 0-3 1-1 4 1zM791 48l0-3 4 0 0 4-3 0zM797 49l1-1 1-2-3-2 0 0-1 1 0 4 0 0zM801 62l-5-4 3-2 4 2z"/><path fill="#fcd217" stroke="#fcd217" stroke-width=".6" d="M774 67l-13 0 0 0 5-3 2 0zM778 63l-1-4-1 0-1 0-2 3zM778 63l1 1 2-1 0 0 0-5-4 1z"/><path fill="#f6921d" stroke="#f6921d" stroke-width=".6" d="M773 36l9-5-3 0-12 0 4 4zM786 44l-2-2-4 2 3 2 2 0zM786 53l-1 0-1 0-4-4 1-1 4 1 1 2z"/><path fill="#370909" stroke="#370909" stroke-width=".6" d="M769 41l-1 0 0-4 3-2 2 1 1 1 0 2 0 0zM787 59l-1 2-4-5 0-1 2-2 1 0z"/><path fill="#a01515" stroke="#a01515" stroke-width=".6" d="M775 54l-2-6-2 1-1 5zM775 54l3-1 1 1-3 5-1 0 0 0zM807 46l-4-5-1-4 5-6 0 7 0 9z"/><path fill="#fabc1a" stroke="#fabc1a" stroke-width=".6" d="M775 54l0 5-5-1 0-4 0 0 5 0zM775 59l0 0-2 3 0 1-2-1-1-3 0-1zM775 67l4-3-1-1-5-1 0 1zM784 41l-3-2-2 1 0 4 1 0 4-2z"/><path fill="#f5841d" stroke="#f5841d" stroke-width=".6" d="M781 31l2 0-1 0-9 5 1 1 2-2zM781 34l-2 2-3-1 5-4zM779 49l-1 0 0 4 1 1 3 1 2-2-4-4z"/><path fill="#670d0d" stroke="#670d0d" stroke-width=".6" d="M775 44l4 0 0 5-1 0-4-1 1-4zM796 58l-1 0-3 2-1 3 0 0 5-1zM807 47l0-9 0 11 0 18-3 0-1-3 4-7 0 0z"/><path fill="#3c0a0a" stroke="#3c0a0a" stroke-width=".6" d="M781 34l1 2-1 3-2 1 0 0 0-4zM794 34l1 5 2 0 2-4-3-1z"/><path fill="#f3741e" stroke="#f3741e" stroke-width=".6" d="M774 67l-13 0 23 0 23 0-11 0-15-4-2 1-4 3z"/><path fill="#d71c1e" stroke="#d71c1e" stroke-width=".6" d="M787 38l-3 3-3-2 1-3 5 0zM790 42l-3-4 0-2 0 0 4 1 1 3zM801 62l-5-4 0 0 0 4 0 2 1 0 4-1zM800 34l7-3 0 0zM801 63l-4 1 7 3-1-3z"/><path fill="#5c0c0c" stroke="#5c0c0c" stroke-width=".6" d="M786 53l-1 0 2 6 1 0 2-4zM791 45l-2-1 1-2 2-2 2 0 2 4-1 1z"/><path fill="#ffe814" stroke="#ffe814" stroke-width=".6" d="M792 54l2 1 0-1 1-5 0 0-3 0z"/><path fill="#7d0f0f" stroke="#7d0f0f" stroke-width=".6" d="M799 35l1 0 2 2 1 4 0 0-4 0-2-2zM797 49l1-1 4 4 0 0 0 0-2 1-3-1zM802 52l2 6-1 0-4-2 1-3z"/><rect x="763" y="33" width="42" height="32" fill="url(#r29)"/><path d="M803.0,52.3C803.0,51.4 802.8,49.8 802.4,48.4C802.1,47.0 801.5,45.4 800.7,44.0C800.0,42.7 799.1,41.5 798.1,40.5C797.1,39.4 796.0,38.5 794.7,37.7C793.3,36.9 791.7,36.2 790.1,35.8C788.5,35.3 786.8,35.2 785.2,35.2C783.5,35.2 781.8,35.3 780.3,35.6C778.7,35.8 777.2,36.2 775.7,36.7C774.2,37.3 772.7,38.1 771.5,38.9C770.3,39.7 769.4,40.6 768.5,41.7C767.6,42.7 766.8,44.0 766.2,45.2C765.7,46.4 765.3,47.6 765.2,48.8C765.1,50.0 765.2,51.2 765.5,52.3C765.8,53.5 766.4,54.7 767.0,55.5C767.6,56.3 768.3,56.5 769.3,56.9C770.2,57.2 771.6,57.4 772.7,57.7C773.7,57.9 775.1,57.8 775.7,58.3C776.3,58.7 776.0,59.5 776.3,60.2C776.6,60.9 777.1,61.9 777.6,62.4C778.1,62.9 778.8,63.2 779.5,63.2C780.2,63.2 780.9,62.7 781.8,62.4C782.6,62.1 783.4,61.6 784.4,61.2C785.4,60.8 786.6,60.4 787.8,60.0C789.0,59.6 790.3,59.3 791.6,58.9C793.0,58.5 794.5,58.0 795.8,57.7C797.1,57.3 798.3,57.0 799.2,56.7C800.2,56.3 800.9,56.0 801.5,55.5C802.1,55.0 802.4,54.4 802.6,53.9C802.9,53.4 803.0,53.3 803.0,52.3Z" fill="none" stroke="#000" stroke-opacity="0.18" stroke-width="2.40"/></g><path d="M791.1,50.2C791.1,49.4 790.9,48.7 790.6,48.0C790.3,47.4 789.8,46.9 789.0,46.5C788.3,46.1 787.2,45.9 786.0,45.7C784.8,45.4 783.0,45.2 781.9,45.1C780.8,45.0 780.2,44.8 779.4,44.9C778.5,45.0 777.7,45.3 776.8,45.7C776.0,46.0 775.2,46.4 774.3,47.0C773.4,47.5 772.3,48.3 771.7,49.1C771.1,49.9 770.7,51.0 770.8,51.7C770.9,52.5 771.7,53.1 772.3,53.6C772.8,54.1 773.7,54.3 774.3,54.7C774.9,55.0 775.4,55.3 775.8,55.7C776.2,56.1 776.6,56.5 776.8,57.1C777.0,57.7 776.9,58.5 777.1,59.2C777.2,59.8 777.5,60.6 777.9,61.0C778.2,61.4 778.7,61.6 779.4,61.6C780.1,61.5 781.1,61.1 781.9,60.8C782.8,60.4 783.6,60.0 784.5,59.4C785.3,58.9 786.2,58.3 787.0,57.6C787.8,56.9 788.5,56.3 789.0,55.5C789.6,54.7 790.0,53.7 790.3,52.8C790.7,51.9 791.1,51.0 791.1,50.2Z" fill="url(#g30)"/><path d="M785.6,45.2C785.2,45.1 784.2,44.8 783.3,44.6C782.4,44.5 781.2,44.4 780.3,44.4C779.3,44.5 778.4,44.7 777.6,44.9C776.8,45.1 776.0,45.5 775.3,45.8C774.6,46.2 773.7,46.8 773.4,47.0" fill="none" stroke="#111" stroke-opacity="0.85" stroke-width="0.80" stroke-linecap="round"/><path d="M787.0,57.6C786.5,57.8 785.0,58.7 784.0,59.1C783.0,59.4 782.0,59.6 781.0,59.6C780.1,59.7 779.0,59.5 778.4,59.3C777.7,59.0 777.3,58.1 777.0,57.9" fill="none" stroke="#888" stroke-opacity="0.6" stroke-width="0.60"/><path d="M803.0,52.3C803.0,51.4 802.8,49.8 802.4,48.4C802.1,47.0 801.5,45.4 800.7,44.0C800.0,42.7 799.1,41.5 798.1,40.5C797.1,39.4 796.0,38.5 794.7,37.7C793.3,36.9 791.7,36.2 790.1,35.8C788.5,35.3 786.8,35.2 785.2,35.2C783.5,35.2 781.8,35.3 780.3,35.6C778.7,35.8 777.2,36.2 775.7,36.7C774.2,37.3 772.7,38.1 771.5,38.9C770.3,39.7 769.4,40.6 768.5,41.7C767.6,42.7 766.8,44.0 766.2,45.2C765.7,46.4 765.3,47.6 765.2,48.8C765.1,50.0 765.2,51.2 765.5,52.3C765.8,53.5 766.4,54.7 767.0,55.5C767.6,56.3 768.3,56.5 769.3,56.9C770.2,57.2 771.6,57.4 772.7,57.7C773.7,57.9 775.1,57.8 775.7,58.3C776.3,58.7 776.0,59.5 776.3,60.2C776.6,60.9 777.1,61.9 777.6,62.4C778.1,62.9 778.8,63.2 779.5,63.2C780.2,63.2 780.9,62.7 781.8,62.4C782.6,62.1 783.4,61.6 784.4,61.2C785.4,60.8 786.6,60.4 787.8,60.0C789.0,59.6 790.3,59.3 791.6,58.9C793.0,58.5 794.5,58.0 795.8,57.7C797.1,57.3 798.3,57.0 799.2,56.7C800.2,56.3 800.9,56.0 801.5,55.5C802.1,55.0 802.4,54.4 802.6,53.9C802.9,53.4 803.0,53.3 803.0,52.3Z" fill="none" stroke="#3a3a3a" stroke-width="0.7"/></g>
<text x="355.5" y="27" font-size="10.9" text-anchor="start" fill="#1a1a1a" stroke="#1a1a1a" >,</text>
<text x="401.6" y="24.9" font-size="12.2" text-anchor="start" fill="#333" stroke="#333" >)</text>
<path d="M267.5,39.7 V195.5 H435.5" fill="none" stroke="#333" stroke-width="0.9"/>
<line x1="267.2" y1="195.5" x2="267.2" y2="193.7" stroke="#333" stroke-width="0.8"/>
<line x1="267.5" y1="195.2" x2="269.3" y2="195.2" stroke="#333" stroke-width="0.8"/>
<text x="267.2" y="208.8" font-size="9.4" text-anchor="middle" fill="#262626" stroke="#262626" >0.2</text>
<text x="264.2" y="199.6" font-size="9.6" text-anchor="end" fill="#262626" stroke="#262626" >0.2</text>
<line x1="309.2" y1="195.5" x2="309.2" y2="193.7" stroke="#333" stroke-width="0.8"/>
<line x1="267.5" y1="156.3" x2="269.3" y2="156.3" stroke="#333" stroke-width="0.8"/>
<text x="309.2" y="208.8" font-size="9.4" text-anchor="middle" fill="#262626" stroke="#262626" >0.3</text>
<text x="264.2" y="160.7" font-size="9.6" text-anchor="end" fill="#262626" stroke="#262626" >0.3</text>
<line x1="351.2" y1="195.5" x2="351.2" y2="193.7" stroke="#333" stroke-width="0.8"/>
<line x1="267.5" y1="117.4" x2="269.3" y2="117.4" stroke="#333" stroke-width="0.8"/>
<text x="351.2" y="208.8" font-size="9.4" text-anchor="middle" fill="#262626" stroke="#262626" >0.4</text>
<text x="264.2" y="121.8" font-size="9.6" text-anchor="end" fill="#262626" stroke="#262626" >0.4</text>
<line x1="393.2" y1="195.5" x2="393.2" y2="193.7" stroke="#333" stroke-width="0.8"/>
<line x1="267.5" y1="78.6" x2="269.3" y2="78.6" stroke="#333" stroke-width="0.8"/>
<text x="393.2" y="208.8" font-size="9.4" text-anchor="middle" fill="#262626" stroke="#262626" >0.5</text>
<text x="264.2" y="83.0" font-size="9.6" text-anchor="end" fill="#262626" stroke="#262626" >0.5</text>
<line x1="435.2" y1="195.5" x2="435.2" y2="193.7" stroke="#333" stroke-width="0.8"/>
<line x1="267.5" y1="39.7" x2="269.3" y2="39.7" stroke="#333" stroke-width="0.8"/>
<text x="435.2" y="208.8" font-size="9.4" text-anchor="middle" fill="#262626" stroke="#262626" >0.6</text>
<text x="264.2" y="44.1" font-size="9.6" text-anchor="end" fill="#262626" stroke="#262626" >0.6</text>
<text x="352.4" y="222" font-size="10" text-anchor="middle" fill="#262626" stroke="#262626" >PNC Acc (<tspan font-style="italic">r</tspan>)</text>
<text x="0" y="0" font-size="10.1" text-anchor="middle" fill="#262626" stroke="#262626" transform="translate(247.8,117.5) rotate(-90)">HCP-D Acc (<tspan font-style="italic">r</tspan>)</text>
<g fill="#fdd508"><circle cx="278.3" cy="171.6" r="2.2"/><circle cx="289.3" cy="129.7" r="2.2"/><circle cx="296.1" cy="125.9" r="2.2"/><circle cx="302.5" cy="125.1" r="2.2"/><circle cx="302.7" cy="114.7" r="2.2"/><circle cx="307.8" cy="122.6" r="2.2"/><circle cx="308.9" cy="141.1" r="2.2"/><circle cx="313.9" cy="137.4" r="2.2"/><circle cx="313.5" cy="147.5" r="2.2"/><circle cx="318.3" cy="140.9" r="2.2"/><circle cx="306.0" cy="153.0" r="2.2"/><circle cx="305.1" cy="162.4" r="2.2"/><circle cx="314.8" cy="169.9" r="2.2"/><circle cx="315.3" cy="156.0" r="2.2"/><circle cx="319.0" cy="153.2" r="2.2"/><circle cx="324.7" cy="152.3" r="2.2"/><circle cx="314.6" cy="118.9" r="2.2"/><circle cx="315.9" cy="116.9" r="2.2"/><circle cx="319.0" cy="111.4" r="2.2"/><circle cx="325.1" cy="122.0" r="2.2"/><circle cx="325.6" cy="134.7" r="2.2"/><circle cx="326.2" cy="113.2" r="2.2"/><circle cx="325.0" cy="134.8" r="2.2"/><circle cx="324.3" cy="152.6" r="2.2"/><circle cx="328.3" cy="152.3" r="2.2"/><circle cx="331.3" cy="144.3" r="2.2"/><circle cx="333.7" cy="140.5" r="2.2"/><circle cx="332.2" cy="135.7" r="2.2"/><circle cx="335.2" cy="132.3" r="2.2"/><circle cx="337.8" cy="131.5" r="2.2"/><circle cx="340.8" cy="131.5" r="2.2"/><circle cx="336.0" cy="157.1" r="2.2"/><circle cx="339.6" cy="159.8" r="2.2"/><circle cx="346.1" cy="148.0" r="2.2"/><circle cx="346.1" cy="152.9" r="2.2"/><circle cx="349.1" cy="156.3" r="2.2"/><circle cx="350.3" cy="142.8" r="2.2"/><circle cx="352.8" cy="143.5" r="2.2"/><circle cx="352.1" cy="132.3" r="2.2"/><circle cx="355.8" cy="134.5" r="2.2"/><circle cx="358.1" cy="131.5" r="2.2"/><circle cx="352.8" cy="166.1" r="2.2"/><circle cx="352.8" cy="168.8" r="2.2"/><circle cx="355.4" cy="175.9" r="2.2"/><circle cx="357.3" cy="178.1" r="2.2"/><circle cx="358.8" cy="157.1" r="2.2"/><circle cx="361.4" cy="158.3" r="2.2"/><circle cx="358.8" cy="145.0" r="2.2"/><circle cx="359.6" cy="141.3" r="2.2"/><circle cx="361.8" cy="137.5" r="2.2"/><circle cx="362.6" cy="133.8" r="2.2"/><circle cx="362.9" cy="145.8" r="2.2"/><circle cx="363.4" cy="150.3" r="2.2"/><circle cx="364.9" cy="142.0" r="2.2"/><circle cx="366.8" cy="157.1" r="2.2"/><circle cx="369.8" cy="162.3" r="2.2"/><circle cx="365.9" cy="178.1" r="2.2"/><circle cx="360.3" cy="186.7" r="2.2"/><circle cx="370.4" cy="188.3" r="2.2"/><circle cx="373.4" cy="152.9" r="2.2"/><circle cx="375.4" cy="160.1" r="2.2"/><circle cx="371.6" cy="136.8" r="2.2"/><circle cx="376.1" cy="137.5" r="2.2"/><circle cx="376.9" cy="144.3" r="2.2"/><circle cx="379.1" cy="145.0" r="2.2"/><circle cx="379.9" cy="140.5" r="2.2"/><circle cx="367.1" cy="131.5" r="2.2"/><circle cx="373.9" cy="132.3" r="2.2"/><circle cx="378.4" cy="132.3" r="2.2"/><circle cx="379.5" cy="131.5" r="2.2"/><circle cx="383.3" cy="133.0" r="2.2"/><circle cx="380.3" cy="138.3" r="2.2"/><circle cx="378.8" cy="143.5" r="2.2"/><circle cx="383.7" cy="145.0" r="2.2"/><circle cx="387.0" cy="136.0" r="2.2"/><circle cx="389.3" cy="135.3" r="2.2"/><circle cx="392.3" cy="134.5" r="2.2"/><circle cx="396.8" cy="133.3" r="2.2"/><circle cx="394.5" cy="130.8" r="2.2"/><circle cx="390.0" cy="144.7" r="2.2"/><circle cx="393.5" cy="144.0" r="2.2"/><circle cx="408.5" cy="138.7" r="2.2"/><circle cx="390.3" cy="190.2" r="2.2"/><circle cx="330.5" cy="101.8" r="2.2"/><circle cx="331.8" cy="90.6" r="2.2"/><circle cx="333.6" cy="91.9" r="2.2"/><circle cx="342.6" cy="89.6" r="2.2"/><circle cx="344.0" cy="91.9" r="2.2"/><circle cx="343.4" cy="94.8" r="2.2"/><circle cx="352.7" cy="91.4" r="2.2"/><circle cx="353.3" cy="93.7" r="2.2"/><circle cx="357.9" cy="87.9" r="2.2"/><circle cx="360.2" cy="89.6" r="2.2"/><circle cx="361.4" cy="93.7" r="2.2"/><circle cx="364.2" cy="93.1" r="2.2"/><circle cx="368.3" cy="89.6" r="2.2"/><circle cx="370.0" cy="94.8" r="2.2"/><circle cx="364.8" cy="97.7" r="2.2"/><circle cx="367.7" cy="100.0" r="2.2"/><circle cx="345.1" cy="97.7" r="2.2"/><circle cx="347.5" cy="98.9" r="2.2"/><circle cx="350.4" cy="99.5" r="2.2"/><circle cx="335.3" cy="98.9" r="2.2"/><circle cx="335.7" cy="102.4" r="2.2"/><circle cx="338.8" cy="104.1" r="2.2"/><circle cx="342.3" cy="103.5" r="2.2"/><circle cx="344.6" cy="101.8" r="2.2"/><circle cx="349.8" cy="104.1" r="2.2"/><circle cx="355.6" cy="103.5" r="2.2"/><circle cx="359.0" cy="102.4" r="2.2"/><circle cx="361.4" cy="100.6" r="2.2"/><circle cx="331.3" cy="109.9" r="2.2"/><circle cx="333.6" cy="111.6" r="2.2"/><circle cx="336.5" cy="108.7" r="2.2"/><circle cx="340.5" cy="107.6" r="2.2"/><circle cx="344.6" cy="108.1" r="2.2"/><circle cx="348.6" cy="107.0" r="2.2"/><circle cx="351.5" cy="109.3" r="2.2"/><circle cx="353.3" cy="111.6" r="2.2"/><circle cx="356.7" cy="108.1" r="2.2"/><circle cx="360.2" cy="107.0" r="2.2"/><circle cx="363.1" cy="109.3" r="2.2"/><circle cx="367.7" cy="107.6" r="2.2"/><circle cx="327.2" cy="110.5" r="2.2"/><circle cx="327.2" cy="113.9" r="2.2"/><circle cx="328.9" cy="118.6" r="2.2"/><circle cx="324.3" cy="122.0" r="2.2"/><circle cx="324.3" cy="124.4" r="2.2"/><circle cx="338.2" cy="116.3" r="2.2"/><circle cx="342.3" cy="114.5" r="2.2"/><circle cx="344.0" cy="118.6" r="2.2"/><circle cx="346.9" cy="117.4" r="2.2"/><circle cx="351.5" cy="117.4" r="2.2"/><circle cx="356.7" cy="115.7" r="2.2"/><circle cx="360.2" cy="116.8" r="2.2"/><circle cx="361.4" cy="113.9" r="2.2"/><circle cx="363.7" cy="118.6" r="2.2"/><circle cx="367.7" cy="116.3" r="2.2"/><circle cx="370.6" cy="112.8" r="2.2"/><circle cx="328.9" cy="127.8" r="2.2"/><circle cx="331.8" cy="130.1" r="2.2"/><circle cx="335.3" cy="131.9" r="2.2"/><circle cx="338.2" cy="126.7" r="2.2"/><circle cx="339.9" cy="129.6" r="2.2"/><circle cx="344.0" cy="124.4" r="2.2"/><circle cx="349.2" cy="126.1" r="2.2"/><circle cx="352.1" cy="125.5" r="2.2"/><circle cx="353.8" cy="122.0" r="2.2"/><circle cx="356.7" cy="122.0" r="2.2"/><circle cx="358.5" cy="124.9" r="2.2"/><circle cx="360.2" cy="122.6" r="2.2"/><circle cx="363.7" cy="123.8" r="2.2"/><circle cx="367.1" cy="125.5" r="2.2"/><circle cx="369.5" cy="122.0" r="2.2"/><circle cx="352.1" cy="131.3" r="2.2"/><circle cx="356.7" cy="131.3" r="2.2"/><circle cx="366.0" cy="130.1" r="2.2"/><circle cx="369.5" cy="132.5" r="2.2"/><circle cx="370.3" cy="87.3" r="2.2"/><circle cx="374.9" cy="86.2" r="2.2"/><circle cx="379.6" cy="87.3" r="2.2"/><circle cx="384.2" cy="86.2" r="2.2"/><circle cx="388.8" cy="87.3" r="2.2"/><circle cx="392.9" cy="86.2" r="2.2"/><circle cx="396.9" cy="88.5" r="2.2"/><circle cx="402.1" cy="86.2" r="2.2"/><circle cx="407.4" cy="87.3" r="2.2"/><circle cx="412.0" cy="86.2" r="2.2"/><circle cx="370.3" cy="91.9" r="2.2"/><circle cx="373.8" cy="93.1" r="2.2"/><circle cx="377.8" cy="90.8" r="2.2"/><circle cx="381.9" cy="90.2" r="2.2"/><circle cx="385.9" cy="91.9" r="2.2"/><circle cx="391.1" cy="90.8" r="2.2"/><circle cx="395.8" cy="91.9" r="2.2"/><circle cx="369.7" cy="96.6" r="2.2"/><circle cx="373.8" cy="97.7" r="2.2"/><circle cx="377.8" cy="96.6" r="2.2"/><circle cx="380.7" cy="94.8" r="2.2"/><circle cx="384.2" cy="97.2" r="2.2"/><circle cx="400.4" cy="96.0" r="2.2"/><circle cx="405.0" cy="94.3" r="2.2"/><circle cx="407.4" cy="96.0" r="2.2"/><circle cx="370.3" cy="101.2" r="2.2"/><circle cx="374.9" cy="100.0" r="2.2"/><circle cx="379.6" cy="99.5" r="2.2"/><circle cx="390.6" cy="100.6" r="2.2"/><circle cx="396.4" cy="100.0" r="2.2"/><circle cx="404.5" cy="99.5" r="2.2"/><circle cx="385.4" cy="107.0" r="2.2"/><circle cx="393.5" cy="105.8" r="2.2"/><circle cx="398.7" cy="105.3" r="2.2"/><circle cx="401.0" cy="108.1" r="2.2"/><circle cx="369.2" cy="111.6" r="2.2"/><circle cx="372.6" cy="109.3" r="2.2"/><circle cx="376.1" cy="112.8" r="2.2"/><circle cx="379.0" cy="109.3" r="2.2"/><circle cx="380.7" cy="111.6" r="2.2"/><circle cx="392.3" cy="112.8" r="2.2"/><circle cx="395.8" cy="109.9" r="2.2"/><circle cx="400.4" cy="111.0" r="2.2"/><circle cx="406.8" cy="110.5" r="2.2"/><circle cx="407.9" cy="113.4" r="2.2"/><circle cx="412.0" cy="112.8" r="2.2"/><circle cx="417.2" cy="112.2" r="2.2"/><circle cx="372.6" cy="116.8" r="2.2"/><circle cx="377.3" cy="116.3" r="2.2"/><circle cx="385.9" cy="115.7" r="2.2"/><circle cx="390.6" cy="115.1" r="2.2"/><circle cx="402.7" cy="119.7" r="2.2"/><circle cx="407.4" cy="119.7" r="2.2"/><circle cx="369.7" cy="122.0" r="2.2"/><circle cx="373.8" cy="122.0" r="2.2"/><circle cx="379.0" cy="119.7" r="2.2"/><circle cx="381.9" cy="123.2" r="2.2"/><circle cx="386.5" cy="119.7" r="2.2"/><circle cx="388.8" cy="122.0" r="2.2"/><circle cx="400.4" cy="124.4" r="2.2"/><circle cx="401.6" cy="126.1" r="2.2"/><circle cx="370.3" cy="129.0" r="2.2"/><circle cx="374.9" cy="127.8" r="2.2"/><circle cx="377.8" cy="125.5" r="2.2"/><circle cx="380.7" cy="130.7" r="2.2"/><circle cx="385.4" cy="126.7" r="2.2"/><circle cx="386.5" cy="132.5" r="2.2"/><circle cx="394.6" cy="129.6" r="2.2"/><circle cx="391.7" cy="133.6" r="2.2"/><circle cx="396.9" cy="133.0" r="2.2"/><circle cx="345.6" cy="77.6" r="2.2"/><circle cx="356.9" cy="73.8" r="2.2"/><circle cx="353.7" cy="80.8" r="2.2"/><circle cx="356.1" cy="83.4" r="2.2"/><circle cx="364.8" cy="68.4" r="2.2"/><circle cx="368.2" cy="70.7" r="2.2"/><circle cx="363.6" cy="74.2" r="2.2"/><circle cx="362.4" cy="78.8" r="2.2"/><circle cx="360.7" cy="82.3" r="2.2"/><circle cx="367.1" cy="78.2" r="2.2"/><circle cx="370.5" cy="79.4" r="2.2"/><circle cx="374.0" cy="74.8" r="2.2"/><circle cx="373.4" cy="78.2" r="2.2"/><circle cx="371.7" cy="82.3" r="2.2"/><circle cx="376.1" cy="64.1" r="2.2"/><circle cx="380.0" cy="70.3" r="2.2"/><circle cx="384.4" cy="72.4" r="2.2"/><circle cx="387.9" cy="64.3" r="2.2"/><circle cx="387.9" cy="69.0" r="2.2"/><circle cx="389.1" cy="55.6" r="2.2"/><circle cx="384.4" cy="77.6" r="2.2"/><circle cx="379.8" cy="81.7" r="2.2"/><circle cx="376.3" cy="84.0" r="2.2"/><circle cx="383.3" cy="84.0" r="2.2"/><circle cx="387.9" cy="80.5" r="2.2"/><circle cx="342.7" cy="88.7" r="2.2"/><circle cx="357.8" cy="87.5" r="2.2"/><circle cx="363.6" cy="87.5" r="2.2"/><circle cx="368.2" cy="88.7" r="2.2"/><circle cx="400.6" cy="60.3" r="2.2"/><circle cx="407.9" cy="62.9" r="2.2"/><circle cx="419.7" cy="56.2" r="2.2"/><circle cx="418.6" cy="58.5" r="2.2"/><circle cx="417.4" cy="60.3" r="2.2"/><circle cx="419.7" cy="62.6" r="2.2"/><circle cx="424.7" cy="61.7" r="2.2"/><circle cx="414.5" cy="67.2" r="2.2"/><circle cx="419.5" cy="67.2" r="2.2"/><circle cx="426.1" cy="66.9" r="2.2"/><circle cx="430.7" cy="68.9" r="2.2"/><circle cx="427.8" cy="73.0" r="2.2"/><circle cx="419.7" cy="71.8" r="2.2"/><circle cx="387.9" cy="64.9" r="2.2"/><circle cx="390.2" cy="67.8" r="2.2"/><circle cx="386.7" cy="71.3" r="2.2"/><circle cx="388.5" cy="72.4" r="2.2"/><circle cx="396.0" cy="68.4" r="2.2"/><circle cx="395.4" cy="72.4" r="2.2"/><circle cx="401.2" cy="70.7" r="2.2"/><circle cx="402.4" cy="67.8" r="2.2"/><circle cx="405.3" cy="66.6" r="2.2"/><circle cx="408.7" cy="70.1" r="2.2"/><circle cx="409.9" cy="72.4" r="2.2"/><circle cx="413.4" cy="73.0" r="2.2"/><circle cx="393.1" cy="75.3" r="2.2"/><circle cx="396.0" cy="77.1" r="2.2"/><circle cx="402.4" cy="75.9" r="2.2"/><circle cx="404.7" cy="77.1" r="2.2"/><circle cx="403.5" cy="80.5" r="2.2"/><circle cx="385.6" cy="77.6" r="2.2"/><circle cx="389.6" cy="80.0" r="2.2"/><circle cx="391.9" cy="82.8" r="2.2"/><circle cx="387.3" cy="84.6" r="2.2"/><circle cx="397.7" cy="81.1" r="2.2"/><circle cx="400.1" cy="84.0" r="2.2"/><circle cx="404.1" cy="84.6" r="2.2"/><circle cx="408.7" cy="84.0" r="2.2"/><circle cx="419.2" cy="77.1" r="2.2"/><circle cx="417.4" cy="78.8" r="2.2"/><circle cx="418.0" cy="82.3" r="2.2"/><circle cx="430.7" cy="83.8" r="2.2"/><circle cx="395.4" cy="87.5" r="2.2"/><circle cx="387.9" cy="88.1" r="2.2"/><circle cx="416.8" cy="87.5" r="2.2"/><circle cx="430.5" cy="83.7" r="2.2"/><circle cx="417.7" cy="81.7" r="2.2"/><circle cx="409.1" cy="83.5" r="2.2"/><circle cx="409.6" cy="86.4" r="2.2"/><circle cx="416.6" cy="87.0" r="2.2"/><circle cx="427.0" cy="93.9" r="2.2"/><circle cx="429.9" cy="94.5" r="2.2"/><circle cx="406.2" cy="93.9" r="2.2"/><circle cx="407.3" cy="95.6" r="2.2"/><circle cx="405.6" cy="99.7" r="2.2"/><circle cx="407.3" cy="110.7" r="2.2"/><circle cx="410.8" cy="112.4" r="2.2"/><circle cx="406.7" cy="114.2" r="2.2"/><circle cx="418.3" cy="111.9" r="2.2"/><circle cx="426.4" cy="115.7" r="2.2"/><circle cx="407.3" cy="120.0" r="2.2"/><circle cx="348.4" cy="114.4" r="2.2"/><circle cx="358.2" cy="96.8" r="2.2"/><circle cx="412.8" cy="78.7" r="2.2"/><circle cx="379.2" cy="105.8" r="2.2"/><circle cx="400.7" cy="99.6" r="2.2"/><circle cx="384.7" cy="112.2" r="2.2"/><circle cx="368.0" cy="103.5" r="2.2"/><circle cx="364.9" cy="104.6" r="2.2"/><circle cx="382.0" cy="117.7" r="2.2"/><circle cx="410.1" cy="90.0" r="2.2"/><circle cx="368.9" cy="84.0" r="2.2"/><circle cx="356.0" cy="100.2" r="2.2"/><circle cx="400.6" cy="91.1" r="2.2"/><circle cx="408.0" cy="76.7" r="2.2"/><circle cx="393.9" cy="96.6" r="2.2"/><circle cx="381.5" cy="103.5" r="2.2"/><circle cx="353.0" cy="105.8" r="2.2"/><circle cx="386.0" cy="103.3" r="2.2"/><circle cx="402.5" cy="104.1" r="2.2"/><circle cx="389.3" cy="110.8" r="2.2"/><circle cx="347.3" cy="110.1" r="2.2"/><circle cx="405.2" cy="73.5" r="2.2"/><circle cx="389.4" cy="93.7" r="2.2"/><circle cx="372.1" cy="104.6" r="2.2"/><circle cx="348.8" cy="120.2" r="2.2"/></g>
<line x1="278.7" y1="147" x2="430" y2="79.8" stroke="#14a06e" stroke-width="1.9"/>
<text x="277.6" y="190.8" font-size="9.6" text-anchor="start" fill="#1a1a1a" stroke="#1a1a1a" font-style="italic" >r=0.467 p&lt;0.0001</text>
<rect x="275.7" y="44.8" width="55" height="50" fill="#fff"/>
<rect x="282.70" y="93.00" width="2.48" height="1.50" fill="#d8d8d8" stroke="#222" stroke-width="0.5"/><rect x="285.18" y="90.20" width="2.48" height="4.30" fill="#d8d8d8" stroke="#222" stroke-width="0.5"/><rect x="287.66" y="84.70" width="2.48" height="9.80" fill="#d8d8d8" stroke="#222" stroke-width="0.5"/><rect x="290.14" y="73.30" width="2.48" height="21.20" fill="#d8d8d8" stroke="#222" stroke-width="0.5"/><rect x="292.62" y="60.80" width="2.48" height="33.70" fill="#d8d8d8" stroke="#222" stroke-width="0.5"/><rect x="295.10" y="53.00" width="2.48" height="41.50" fill="#d8d8d8" stroke="#222" stroke-width="0.5"/><rect x="297.58" y="53.00" width="2.48" height="41.50" fill="#d8d8d8" stroke="#222" stroke-width="0.5"/><rect x="300.06" y="57.80" width="2.48" height="36.70" fill="#d8d8d8" stroke="#222" stroke-width="0.5"/><rect x="302.54" y="66.70" width="2.48" height="27.80" fill="#d8d8d8" stroke="#222" stroke-width="0.5"/><rect x="305.02" y="76.90" width="2.48" height="17.60" fill="#d8d8d8" stroke="#222" stroke-width="0.5"/><rect x="307.50" y="86.70" width="2.48" height="7.80" fill="#d8d8d8" stroke="#222" stroke-width="0.5"/><rect x="309.98" y="91.30" width="2.48" height="3.20" fill="#d8d8d8" stroke="#222" stroke-width="0.5"/><rect x="312.46" y="93.60" width="2.48" height="0.90" fill="#d8d8d8" stroke="#222" stroke-width="0.5"/>
<path d="M275.5,44.8 V94.5 H330.8" fill="none" stroke="#333" stroke-width="0.8"/>
<line x1="327.5" y1="44.8" x2="327.5" y2="94.5" stroke="#3caa78" stroke-width="1"/>
<text x="298.1" y="104.9" font-size="8.3" text-anchor="middle" fill="#262626" stroke="#262626" >0</text>
<text x="322.9" y="104.9" font-size="8.3" text-anchor="middle" fill="#262626" stroke="#262626" >0.4</text>
<text x="455" y="15.2" font-size="21.8" text-anchor="start" fill="#1a1a1a" stroke="#1a1a1a" >C</text>
<text x="573.6" y="25.6" font-size="12.8" text-anchor="middle" fill="#1a1a1a" stroke="#1a1a1a" >PNC centroid RBD maps</text>
<text x="496.8" y="44.5" font-size="11.5" text-anchor="middle" fill="#1a1a1a" stroke="#1a1a1a" >P1</text>
<text x="573.6" y="44.5" font-size="11.5" text-anchor="middle" fill="#1a1a1a" stroke="#1a1a1a" >P2</text>
<text x="650" y="44.5" font-size="11.5" text-anchor="middle" fill="#1a1a1a" stroke="#1a1a1a" >P3</text>
<g transform="scale(.5)"><g clip-path="url(#k31)"><rect x="924" y="87" width="69" height="49" fill="#747cc1"/><path fill="#8c92cb" stroke="#8c92cb" stroke-width=".6" d="M932 86l6-1 3 0-9 0-10 0 4 9zM935 132l7-1 0-1-1-5-3-1-4 7zM950 101l1 6-4 1-2 0-2-4 2-4zM954 93l0 0-12-8-4 0 3 0 16 0-3 7zM945 99l0 1 5 1 6-2-2-6 0 0-5 1zM955 121l1-4-3-3-4 0-2 2 1 6 2 1 3-1zM965 102l0 2 10 2 2-5-2-2-4-1zM976 124l6-2 1-4-3-2-4 0-2 2 1 5zM995 96l-5 4-3 8 8-12z"/><path fill="#8087c6" stroke="#8087c6" stroke-width=".6" d="M928 101l-1-6-1-1-4-9 0 26 0 21 0-21zM933 95l2-3-3-6-6 8 1 1zM974 118l-6-1 0-6 7-4 0 1 1 8zM976 124l2 4-3 4-5 0 0-1 0-5 5-3zM976 94l0-2 5-7 4 5-2 2zM976 124l2 4 5 2 1-1 1-4-3-3zM983 130l-4 8-4-6 3-4zM985 125l4-4 2 3 0 7-1 0-6-2zM995 96l-6-6 6-5 0 0 0 4 0 5 0 2zM987 109l0-1 8-12 0-2-4 21zM991 131l4 7 0-27 0-26 0 4-4 35z"/><path fill="#5d66b7" stroke="#5d66b7" stroke-width=".6" d="M930 102l-1 7-7 3 0-1 6-10zM942 88l7 6-4 5-4-3-1-4zM970 88l4-3 7 0-5 7z"/><path fill="#747cc1" stroke="#747cc1" stroke-width=".6" d="M933 116l-2-5-2-2-7 3 5 6zM934 131l-5-2 0-3 7-3 2 1zM935 132l-2 6-5-8 1-1 5 2zM935 132l-2 6 1 0 8-7zM941 124l0-10 6 2 1 6zM965 92l-1 0-7-7-16 0-9 0 6 0 36 0-4 3-5 4zM979 101l-2 0-2-2 1-5 7-2-1 8zM975 107l0 1 8 2 3-1-7-8-2 0-2 5zM985 90l-4-5-7 0-36 0 21 0 36 0-6 5-2 1zM984 129l-1 1-4 8 1 0 10-7zM990 131l-10 7-10 0-23 0-9 0 21 0 36 0-4-7z"/><path fill="#989dd1" stroke="#989dd1" stroke-width=".6" d="M928 124l-6 14 0-6 0-21 0 1 5 6zM930 102l5 1 1-4-3-4-6 0 1 6zM940 92l-5 0-2 3 3 4 5-3zM938 124l-2-1-2-7 6-2 1 0 0 0 0 10 0 1zM957 100l-1-1-6 2 1 6 3 1 2-1zM960 130l-1 0-7 8-5 0 23 0-3 0-6-7zM965 104l10 2 0 1-7 4-4-2zM964 109l-3 1-1 6 4 2 3-1 1 0 0-6zM970 131l0 1-3 6-6-7zM975 123l-5 3-1 0-2-9 1 0 6 1zM979 138l1 0-10 0-3 0 3-6 5 0zM979 101l7 8 1 0 0-1 3-8-1 0-7 0zM983 118l6-1 2-2-4-6-1 0-3 1-3 6zM987 91l2-1 6 6-5 4-1 0zM989 121l0-4 2-2 4-21 0-5-4 35z"/><path fill="#a3a8d6" stroke="#a3a8d6" stroke-width=".6" d="M928 130l-6 8 0 0 6-14 1 2 0 3zM942 88l0-3-4 0-6 1 3 6 5 0zM940 114l1 0 4-6-2-4-6 1 0 1zM942 88l0-3 12 8-5 1zM941 114l0 0 4-6 2 0 2 6-2 2zM942 130l6 2 2-9-2-1-7 2 0 1zM942 131l-8 7-12 0 16 0 9 0 5 0-4-6 0 0-6-2zM951 107l-4 1 2 6 4 0 1-6zM964 92l-7-7-3 7zM965 92l-3 8 3 2 6-4-6-6zM969 126l-6-1-3 5 1 1 9 0 0-5zM976 116l-1-8 8 2-3 6z"/><path fill="#bbbee0" stroke="#bbbee0" stroke-width=".6" d="M928 130l-6 8 0 0 12 0-1 0zM959 130l-7 8-4-6 8-3zM965 92l5-4 6 4 0 2-1 5-4-1zM982 122l3 3 4-4 0-4-6 1z"/><path fill="#afb3db" stroke="#afb3db" stroke-width=".6" d="M937 106l0-1-2-2-5-1-1 7 2 2zM941 96l-5 3-1 4 2 2 6-1 2-4 0-1zM965 92l-1 0-10 0 0 1 2 6 1 1 5 0zM962 100l-5 0-1 7 5 3 3-1 1-5 0-2z"/><path fill="#515bb2" stroke="#515bb2" stroke-width=".6" d="M934 116l6-2-3-8-6 5 2 5z"/><path fill="#c7c9e5" stroke="#c7c9e5" stroke-width=".6" d="M929 126l7-3-2-7-1 0-6 2 1 6zM956 129l-8 3 0 0 2-9 3-1zM982 100l7 0-2-9-2-1-2 2z"/><path fill="#6971bc" stroke="#6971bc" stroke-width=".6" d="M956 107l-2 1-1 6 3 3 4-1 1-6zM963 125l0-1-8-3-2 1 3 7 3 1 1 0z"/><path fill="#d2d4ea" stroke="#d2d4ea" stroke-width=".6" d="M963 124l-8-3 1-4 4-1 4 2z"/><path fill="#4550ad" stroke="#4550ad" stroke-width=".6" d="M969 126l-2-9-3 1-1 6 0 1z"/><rect x="924" y="87" width="69" height="49" fill="url(#r32)"/><path d="M926.4,115.2C926.4,114.1 926.4,113.4 926.7,112.0C927.0,110.6 927.4,108.5 928.2,106.9C929.0,105.3 930.4,103.8 931.5,102.5C932.6,101.3 933.5,100.2 934.6,99.2C935.7,98.2 936.8,97.5 938.0,96.7C939.2,95.8 940.3,94.9 941.7,94.1C943.1,93.3 945.0,92.4 946.6,91.8C948.2,91.2 949.5,90.7 951.3,90.3C953.1,89.8 955.1,89.4 957.4,89.1C959.7,88.9 962.5,88.5 965.0,88.8C967.5,89.1 970.0,89.7 972.5,90.7C975.0,91.8 977.7,93.2 980.1,95.0C982.4,96.8 984.8,99.3 986.5,101.5C988.2,103.6 989.5,106.2 990.3,107.9C991.1,109.7 991.3,110.5 991.4,112.0C991.5,113.5 991.5,115.0 990.8,116.7C990.2,118.4 989.0,120.8 987.6,122.1C986.2,123.4 984.2,124.0 982.2,124.8C980.2,125.6 977.8,126.3 975.8,127.0C973.8,127.7 972.2,128.4 970.3,129.1C968.4,129.8 966.0,130.5 964.2,131.2C962.4,131.8 961.3,132.4 959.6,132.8C957.9,133.2 955.5,133.6 953.9,133.6C952.3,133.6 951.1,133.4 950.1,133.0C949.0,132.6 948.1,131.9 947.5,131.2C946.9,130.4 946.8,129.0 946.4,128.3C946.0,127.6 946.1,127.3 945.2,127.1C944.3,126.8 942.6,126.9 941.1,126.7C939.5,126.5 937.5,126.4 935.9,126.1C934.4,125.7 933.0,125.5 931.7,124.8C930.5,124.1 929.3,123.0 928.5,121.9C927.7,120.8 927.3,119.5 926.9,118.4C926.6,117.3 926.4,116.3 926.4,115.2Z" fill="none" stroke="#000" stroke-opacity="0.18" stroke-width="2.40"/><path d="M945.6,126.7C946.3,126.0 948.5,123.6 950.1,122.2C951.7,120.8 953.5,119.5 955.2,118.4C956.9,117.3 958.6,116.7 960.3,115.8C962.1,115.0 964.0,114.1 965.5,113.3C967.0,112.4 968.7,111.1 969.3,110.7" fill="none" stroke="#000" stroke-opacity="0.45" stroke-width="0.80"/></g><path d="M926.4,115.2C926.4,114.1 926.4,113.4 926.7,112.0C927.0,110.6 927.4,108.5 928.2,106.9C929.0,105.3 930.4,103.8 931.5,102.5C932.6,101.3 933.5,100.2 934.6,99.2C935.7,98.2 936.8,97.5 938.0,96.7C939.2,95.8 940.3,94.9 941.7,94.1C943.1,93.3 945.0,92.4 946.6,91.8C948.2,91.2 949.5,90.7 951.3,90.3C953.1,89.8 955.1,89.4 957.4,89.1C959.7,88.9 962.5,88.5 965.0,88.8C967.5,89.1 970.0,89.7 972.5,90.7C975.0,91.8 977.7,93.2 980.1,95.0C982.4,96.8 984.8,99.3 986.5,101.5C988.2,103.6 989.5,106.2 990.3,107.9C991.1,109.7 991.3,110.5 991.4,112.0C991.5,113.5 991.5,115.0 990.8,116.7C990.2,118.4 989.0,120.8 987.6,122.1C986.2,123.4 984.2,124.0 982.2,124.8C980.2,125.6 977.8,126.3 975.8,127.0C973.8,127.7 972.2,128.4 970.3,129.1C968.4,129.8 966.0,130.5 964.2,131.2C962.4,131.8 961.3,132.4 959.6,132.8C957.9,133.2 955.5,133.6 953.9,133.6C952.3,133.6 951.1,133.4 950.1,133.0C949.0,132.6 948.1,131.9 947.5,131.2C946.9,130.4 946.8,129.0 946.4,128.3C946.0,127.6 946.1,127.3 945.2,127.1C944.3,126.8 942.6,126.9 941.1,126.7C939.5,126.5 937.5,126.4 935.9,126.1C934.4,125.7 933.0,125.5 931.7,124.8C930.5,124.1 929.3,123.0 928.5,121.9C927.7,120.8 927.3,119.5 926.9,118.4C926.6,117.3 926.4,116.3 926.4,115.2Z" fill="none" stroke="#3a3a3a" stroke-width="1.6"/></g>
<g transform="scale(.5)"><g clip-path="url(#k33)"><rect x="996" y="87" width="69" height="49" fill="#747cc1"/><path fill="#747cc1" stroke="#747cc1" stroke-width=".6" d="M994 102l8-11-8-6 0 5 0 3 0 10zM1007 123l1-2 0-4-3-2-2 0-3 3-1 4 4 3zM1009 130l-2-7-4 2-1 6 2 1zM1004 132l-2-1-2 1-6 6 13 0 4 0zM1015 100l-7 2-1-2 2-7 7 5zM1008 117l-3-2 4-9 6 2-1 7zM1017 90l-1 0-10-5-12 0 36 0-3 0-1 0zM1024 117l-1 4-6-1-1-4 3-1zM1047 128l-1 3-7 2-3-2 0-1 6-6 3 0zM1054 129l0 9 9-7-7-3zM1057 92l-1 1 6 7 0 0 5-1 0 0-6-9-4 2zM1061 109l0 5 1 1 5-13 0-3 0 0z"/><path fill="#6971bc" stroke="#6971bc" stroke-width=".6" d="M994 102l8-11 1 1-4 8-1 1-4 2zM1023 107l-1 0-5 0-2 1-1 7 2 1 3-1zM1015 131l2-1 1 0 6 8 3 0-4 0-16 0 4 0zM1033 101l-5 0 0-1-1-6 1-3 7 1 2 7zM1040 106l1 2-2 5-2 0-2-5 1-1zM1041 108l-2 5 1 1 5 1 5-7-1-1-1-1zM1055 103l7-3 0 0-2 7-6-3zM1062 115l5-13 0-8 0 17 0 27-4-16zM1063 124l2 6 2 8 0 0-4-16z"/><path fill="#515bb2" stroke="#515bb2" stroke-width=".6" d="M1000 111l-6-8 4-2 5 5zM1029 114l1 8 3 1 3-2-1-7-6 0z"/><path fill="#a3a8d6" stroke="#a3a8d6" stroke-width=".6" d="M1003 115l-3 3-6-15 0-1 0 1 6 8zM1007 100l-8 0 4-8 6 1 0 0zM1003 115l-3-4 3-5 5 0 1 0-4 9zM1008 106l0-4 7-2 2 7-2 1-6-2zM1027 129l2-6-6-1-2 7zM1035 114l2-1 2 0 1 1 0 7-4 0zM1047 92l3 5-4 4-5-2 2-6zM1047 92l1-2 9 2-1 1-3 3-3 1zM1055 120l1 4 0 4-2 1-7-1-2-4 1-1zM1057 115l4-1 0-5-1-2-6-3-5 3 1 1 6 7zM1067 99l0 3 0-8 0-9-6 5z"/><path fill="#afb3db" stroke="#afb3db" stroke-width=".6" d="M994 103l0-10 0 35 5-6 1-4zM1003 125l-4-3-5 6 6 4 2-1zM1028 91l-2-6-9 5 2 5 8-1zM1026 107l2-6 0-1-9-2 3 9 1 0zM1035 92l-7-1-2-6 1 0 10 5zM1029 114l-2-5 8-1 2 5-2 1zM1040 106l-1-7-2 0-4 2 3 6zM1057 115l4-1 1 1 1 7 0 2-7 0-1-4z"/><path fill="#5d66b7" stroke="#5d66b7" stroke-width=".6" d="M994 138l0-27 0-21 0 3 0 35 6 4zM1048 85l-7 0 26 0-6 5-4 2z"/><path fill="#989dd1" stroke="#989dd1" stroke-width=".6" d="M1009 92l0 1-6-1-1-1-8-6 0 0 12 0zM1019 95l-1 2-2 1-7-5 0 0 0-1 7-2 1 0zM1029 114l-5 3-5-2 4-8 3 0 1 2 2 5zM1033 132l3-1 0-1-3-7-3-1-1 1-2 6 2 2zM1036 121l4 0 2 3-6 6-3-7zM1046 123l-1 1-3 0-2-3 0-7 5 1 1 2zM1056 115l-6-7-5 7 1 2zM1054 129l0 9-1 0-7-7 1-3zM1056 128l7 3 2-1-2-6-7 0zM1060 107l1 2 6-10-5 1z"/><path fill="#8087c6" stroke="#8087c6" stroke-width=".6" d="M1008 106l0-4-1-2-8 0-1 1 5 5zM1009 92l7-2-10-5zM1015 125l2-5-1-4-2-1-6 2 0 4zM1009 130l-2-7 1-2 7 4 2 5-2 1zM1021 129l-3 1-1 0-2-5 2-5 6 1 0 1zM1027 94l-8 1-1 2 1 1 9 2zM1036 107l-1 1-8 1-1-2 2-6 5 0zM1027 138l6-6-4-1-5 7zM1046 85l2 0-7 0-10 0-1 0-3 0 10 5 4-1zM1039 99l2 0 2-6-2-4-4 1-2 2 2 7zM1027 138l-4 0 8 0 36 0-15 0-13-5-3-2-3 1zM1040 106l1 2 7-2-2-5-5-2-2 0zM1052 138l1 0-7-7-7 2zM1055 103l-2-7 3-3 6 7z"/><path fill="#c7c9e5" stroke="#c7c9e5" stroke-width=".6" d="M1009 130l6 1-4 7-7-6z"/><path fill="#bbbee0" stroke="#bbbee0" stroke-width=".6" d="M1022 107l-3-9-1-1-2 1-1 2 2 7zM1046 101l2 5 1 1 5-3 1-1-2-7-3 1z"/><path fill="#8c92cb" stroke="#8c92cb" stroke-width=".6" d="M1029 114l-5 3-1 4 0 1 6 1 1-1zM1024 138l-6-8 3-1 6 0 2 2zM1047 92l1-2-2-5-5 4 2 4zM1048 90l9 2 0 0-9-7-2 0zM1057 115l-2 5-9 3 0-6 10-2zM1067 138l0 0-2-8-2 1-9 7-1 0-1 0z"/><rect x="996" y="87" width="69" height="49" fill="url(#r34)"/><path d="M1063.4,115.2C1063.4,114.1 1063.4,113.4 1063.1,112.0C1062.8,110.6 1062.4,108.5 1061.6,106.9C1060.8,105.3 1059.4,103.8 1058.3,102.5C1057.2,101.3 1056.3,100.2 1055.2,99.2C1054.1,98.2 1053.0,97.5 1051.8,96.7C1050.6,95.8 1049.5,94.9 1048.1,94.1C1046.7,93.3 1044.8,92.4 1043.2,91.8C1041.6,91.2 1040.3,90.7 1038.5,90.3C1036.7,89.8 1034.7,89.4 1032.4,89.1C1030.1,88.9 1027.3,88.5 1024.8,88.8C1022.3,89.1 1019.8,89.7 1017.3,90.7C1014.8,91.8 1012.1,93.2 1009.7,95.0C1007.4,96.8 1005.0,99.3 1003.3,101.5C1001.6,103.6 1000.3,106.2 999.5,107.9C998.7,109.7 998.5,110.5 998.4,112.0C998.3,113.5 998.3,115.0 999.0,116.7C999.6,118.4 1000.8,120.8 1002.2,122.1C1003.6,123.4 1005.6,124.0 1007.6,124.8C1009.6,125.6 1012.0,126.3 1014.0,127.0C1016.0,127.7 1017.6,128.4 1019.5,129.1C1021.4,129.8 1023.8,130.5 1025.6,131.2C1027.4,131.8 1028.5,132.4 1030.2,132.8C1031.9,133.2 1034.3,133.6 1035.9,133.6C1037.5,133.6 1038.7,133.4 1039.7,133.0C1040.8,132.6 1041.7,131.9 1042.3,131.2C1042.9,130.4 1043.0,129.0 1043.4,128.3C1043.8,127.6 1043.7,127.3 1044.6,127.1C1045.5,126.8 1047.2,126.9 1048.7,126.7C1050.3,126.5 1052.3,126.4 1053.9,126.1C1055.4,125.7 1056.8,125.5 1058.1,124.8C1059.3,124.1 1060.5,123.0 1061.3,121.9C1062.1,120.8 1062.5,119.5 1062.9,118.4C1063.2,117.3 1063.4,116.3 1063.4,115.2Z" fill="none" stroke="#000" stroke-opacity="0.18" stroke-width="2.40"/><path d="M1044.2,126.7C1043.5,126.0 1041.3,123.6 1039.7,122.2C1038.1,120.8 1036.3,119.5 1034.6,118.4C1032.9,117.3 1031.2,116.7 1029.5,115.8C1027.7,115.0 1025.8,114.1 1024.3,113.3C1022.8,112.4 1021.1,111.1 1020.5,110.7" fill="none" stroke="#000" stroke-opacity="0.45" stroke-width="0.80"/></g><path d="M1063.4,115.2C1063.4,114.1 1063.4,113.4 1063.1,112.0C1062.8,110.6 1062.4,108.5 1061.6,106.9C1060.8,105.3 1059.4,103.8 1058.3,102.5C1057.2,101.3 1056.3,100.2 1055.2,99.2C1054.1,98.2 1053.0,97.5 1051.8,96.7C1050.6,95.8 1049.5,94.9 1048.1,94.1C1046.7,93.3 1044.8,92.4 1043.2,91.8C1041.6,91.2 1040.3,90.7 1038.5,90.3C1036.7,89.8 1034.7,89.4 1032.4,89.1C1030.1,88.9 1027.3,88.5 1024.8,88.8C1022.3,89.1 1019.8,89.7 1017.3,90.7C1014.8,91.8 1012.1,93.2 1009.7,95.0C1007.4,96.8 1005.0,99.3 1003.3,101.5C1001.6,103.6 1000.3,106.2 999.5,107.9C998.7,109.7 998.5,110.5 998.4,112.0C998.3,113.5 998.3,115.0 999.0,116.7C999.6,118.4 1000.8,120.8 1002.2,122.1C1003.6,123.4 1005.6,124.0 1007.6,124.8C1009.6,125.6 1012.0,126.3 1014.0,127.0C1016.0,127.7 1017.6,128.4 1019.5,129.1C1021.4,129.8 1023.8,130.5 1025.6,131.2C1027.4,131.8 1028.5,132.4 1030.2,132.8C1031.9,133.2 1034.3,133.6 1035.9,133.6C1037.5,133.6 1038.7,133.4 1039.7,133.0C1040.8,132.6 1041.7,131.9 1042.3,131.2C1042.9,130.4 1043.0,129.0 1043.4,128.3C1043.8,127.6 1043.7,127.3 1044.6,127.1C1045.5,126.8 1047.2,126.9 1048.7,126.7C1050.3,126.5 1052.3,126.4 1053.9,126.1C1055.4,125.7 1056.8,125.5 1058.1,124.8C1059.3,124.1 1060.5,123.0 1061.3,121.9C1062.1,120.8 1062.5,119.5 1062.9,118.4C1063.2,117.3 1063.4,116.3 1063.4,115.2Z" fill="none" stroke="#3a3a3a" stroke-width="1.6"/></g>
<g transform="scale(.5)"><g clip-path="url(#k35)"><rect x="924" y="133" width="69" height="51" fill="#a3a8d6"/><path fill="#bbbee0" stroke="#bbbee0" stroke-width=".6" d="M932 139l-4 3-6-11 0 0 6 0 4 0zM935 162l-1 2 1 3 5 3 1 0 3-7zM951 164l-1 7 9 0-2-8-3-1z"/><path fill="#6971bc" stroke="#6971bc" stroke-width=".6" d="M922 153l0-10 0-12 6 11 0 7zM938 186l-5-9-2 0-4 4 10 5zM944 154l-4-11 2-2 0 0 6 6-4 7z"/><path fill="#989dd1" stroke="#989dd1" stroke-width=".6" d="M930 155l0-5-2-1-6 4 0 5 5 0zM929 173l2 4-4 4-5 5 0 0 2-16zM935 167l-6 6 2 4 2 0 4-2 3-5zM942 141l-10-10-4 0 17 8-3 2zM938 186l6-5-7-6-4 2zM949 138l8-7 1 0-30 0-6 0 6 0 17 8zM943 155l1-1 0 0 7 1 3 7-3 2-7-2zM944 162l7 2-1 7-2 2-1 0-6-3 3-7zM954 162l3 1 3-2-1-7-1-3-4 2-3 2zM959 171l1 1 6-2-2-9-4 0-3 2zM978 179l0 0-11 7-1-5 2-2zM950 186l-2 0 11 0 36 0 0 0-17-7-11 7-7 0zM988 139l1 1 6 3 0-12 0 0 0 0zM988 162l7 9 0 5 0-2-6-4-2-2z"/><path fill="#8c92cb" stroke="#8c92cb" stroke-width=".6" d="M928 166l-6-8 5 0 4 6zM943 155l1-1-4-11-4 1-2 5 8 5zM944 154l4-7 2-1 4 7-3 2zM938 186l6-5 2-2 7 4 1 2 6 1-10 0-13 0zM951 141l-2-3 8-7 0 10zM960 148l0-5-3-2-6 0 0 4 8 5zM958 151l-4 2-4-7 1-1 8 5zM955 177l4-3 3 5-8 6-1-2zM968 153l-2-4-6-1-1 2-1 1 1 3 7 2zM966 138l0-1 6-1 4 3-6 6zM968 153l4 1 1 8 0 0-7-2 0-4zM972 136l4 3 3 0 1-1 1-7zM972 154l1 8 7-1 1-2 1-4-8-3zM981 159l7 2 3-5-3-3-6 2 0 0zM980 170l2-3 5 1 2 2-6 8-4-1zM987 145l2-5 6 3-6 7z"/><path fill="#4550ad" stroke="#4550ad" stroke-width=".6" d="M924 170l-2 16 0-27 0-16 0 10 0 5 6 8zM995 174l0 2 0 10 0 0 0 0-10-7z"/><path fill="#c7c9e5" stroke="#c7c9e5" stroke-width=".6" d="M937 186l13 0-2 0-26 0 5-5zM948 173l7 4-2 6-7-4 1-6z"/><path fill="#747cc1" stroke="#747cc1" stroke-width=".6" d="M940 143l-4 1-4-5 0-8 10 10zM941 170l6 3-1 6-2 2-7-6 3-5zM948 173l7 4 4-3 1-2-1-1-9 0zM954 185l6 1 7 0-1-5-4-2zM972 136l-6 1-8-6-30 0 31 0 36 0 0 0-14 0zM970 171l-1 0-3-1-2-9 2-1 7 2-1 6zM974 147l6-2 1 1 1 9 0 0-8-3zM981 159l7 2 0 1-1 6-5-1-2-6z"/><path fill="#8087c6" stroke="#8087c6" stroke-width=".6" d="M930 150l4-1 2-5-4-5-4 3 0 7zM935 162l-1 2-3 0-4-6 3-3 5 3zM934 164l-3 0-3 2-4 4 5 3 6-6zM968 153l4 1 2-2 0-5-4-2-4 4zM970 171l9 6 0 0 1-7-8-2zM981 146l-1-1-1-6 1-1 8 1 1 1-2 5z"/><path fill="#a3a8d6" stroke="#a3a8d6" stroke-width=".6" d="M942 154l-8-5-4 1 0 5 5 3zM943 155l1 7 0 1-9-1 0-4 7-4zM970 171l-1 0-1 8 10 0 1-2zM972 168l1-6 0 0 7-1 2 6-2 3zM981 131l14 0-7 8-8-1zM981 146l1 9 6-2 1-3-2-5zM988 153l3 3 4 15 0 5 0 10 0-27 0-28 0 12-6 7zM988 161l3-5 4 15-7-9z"/><path fill="#5d66b7" stroke="#5d66b7" stroke-width=".6" d="M951 145l0-4-2-3-4 1-3 2 6 6 2-1zM966 149l4-4 0 0-4-7-6 5 0 5zM989 170l-6 8 2 1 10-5z"/><path fill="#515bb2" stroke="#515bb2" stroke-width=".6" d="M960 143l-3-2 0-10 1 0 8 6 0 1zM966 156l0 4-2 1-4 0-1-7zM970 145l0 0 6-6 3 0 1 6-6 2z"/><path fill="#afb3db" stroke="#afb3db" stroke-width=".6" d="M959 174l1-2 6-2 3 1-1 8-2 2-4-2zM979 177l-1 2 0 0 17 7-10-7-2-1-4-1z"/><rect x="924" y="133" width="69" height="51" fill="url(#r36)"/><path d="M926.4,164.0C926.5,162.5 926.7,159.8 927.4,157.4C928.0,155.1 929.1,152.4 930.3,150.2C931.6,148.0 933.1,146.0 934.9,144.2C936.6,142.5 938.5,140.9 940.7,139.6C943.0,138.3 945.9,137.0 948.6,136.3C951.3,135.6 954.2,135.5 957.0,135.4C959.9,135.3 962.8,135.6 965.5,136.0C968.2,136.4 970.8,137.0 973.3,138.0C975.8,138.9 978.4,140.2 980.5,141.6C982.6,143.0 984.2,144.5 985.7,146.2C987.2,148.0 988.7,150.2 989.6,152.2C990.6,154.1 991.2,156.1 991.4,158.1C991.6,160.1 991.5,162.2 990.9,164.0C990.4,165.9 989.4,168.1 988.3,169.3C987.2,170.6 986.1,171.0 984.4,171.6C982.8,172.2 980.4,172.6 978.6,173.0C976.7,173.3 974.4,173.2 973.3,173.9C972.3,174.7 972.9,176.1 972.4,177.2C971.8,178.4 971.0,180.1 970.1,180.9C969.2,181.7 968.0,182.2 966.8,182.2C965.6,182.2 964.3,181.4 962.9,180.9C961.5,180.3 960.1,179.6 958.3,178.9C956.6,178.2 954.5,177.6 952.5,176.9C950.4,176.3 948.2,175.6 946.0,174.9C943.7,174.3 941.0,173.6 938.8,173.0C936.6,172.4 934.5,171.9 932.9,171.3C931.3,170.7 930.0,170.1 929.0,169.3C928.0,168.6 927.5,167.6 927.1,166.7C926.6,165.8 926.3,165.6 926.4,164.0Z" fill="none" stroke="#000" stroke-opacity="0.18" stroke-width="2.40"/></g><path d="M946.9,160.4C946.8,159.1 947.1,157.9 947.7,156.9C948.3,155.8 949.1,154.9 950.4,154.2C951.7,153.6 953.6,153.3 955.6,152.9C957.7,152.5 960.7,152.2 962.6,152.0C964.6,151.7 965.6,151.4 967.0,151.6C968.5,151.7 969.9,152.3 971.4,152.9C972.8,153.5 974.3,154.1 975.8,155.1C977.2,156.0 979.2,157.3 980.2,158.6C981.2,160.0 981.9,161.8 981.8,163.1C981.6,164.3 980.3,165.3 979.3,166.2C978.3,167.0 976.8,167.3 975.8,167.9C974.7,168.5 973.9,169.1 973.1,169.7C972.4,170.4 971.7,171.0 971.4,172.0C971.0,172.9 971.3,174.4 971.0,175.5C970.7,176.6 970.3,177.9 969.6,178.6C969.0,179.2 968.2,179.6 967.0,179.5C965.9,179.4 964.1,178.8 962.6,178.2C961.2,177.6 959.7,176.8 958.3,175.9C956.8,175.0 955.2,173.9 953.9,172.8C952.6,171.7 951.3,170.6 950.4,169.3C949.4,167.9 948.8,166.3 948.2,164.8C947.6,163.4 946.9,161.7 946.9,160.4Z" fill="url(#g37)"/><path d="M956.4,152.2C957.0,152.0 958.8,151.4 960.3,151.2C961.8,151.0 963.9,150.8 965.5,150.8C967.1,150.9 968.7,151.3 970.1,151.6C971.5,152.0 972.8,152.6 974.0,153.2C975.2,153.7 976.7,154.8 977.3,155.1" fill="none" stroke="#111" stroke-opacity="0.85" stroke-width="0.81" stroke-linecap="round"/><path d="M953.9,172.8C954.8,173.2 957.3,174.7 959.0,175.3C960.7,175.8 962.6,176.2 964.2,176.3C965.8,176.3 967.6,176.1 968.8,175.6C969.9,175.1 970.7,173.7 971.1,173.3" fill="none" stroke="#888" stroke-opacity="0.6" stroke-width="0.60"/><path d="M926.4,164.0C926.5,162.5 926.7,159.8 927.4,157.4C928.0,155.1 929.1,152.4 930.3,150.2C931.6,148.0 933.1,146.0 934.9,144.2C936.6,142.5 938.5,140.9 940.7,139.6C943.0,138.3 945.9,137.0 948.6,136.3C951.3,135.6 954.2,135.5 957.0,135.4C959.9,135.3 962.8,135.6 965.5,136.0C968.2,136.4 970.8,137.0 973.3,138.0C975.8,138.9 978.4,140.2 980.5,141.6C982.6,143.0 984.2,144.5 985.7,146.2C987.2,148.0 988.7,150.2 989.6,152.2C990.6,154.1 991.2,156.1 991.4,158.1C991.6,160.1 991.5,162.2 990.9,164.0C990.4,165.9 989.4,168.1 988.3,169.3C987.2,170.6 986.1,171.0 984.4,171.6C982.8,172.2 980.4,172.6 978.6,173.0C976.7,173.3 974.4,173.2 973.3,173.9C972.3,174.7 972.9,176.1 972.4,177.2C971.8,178.4 971.0,180.1 970.1,180.9C969.2,181.7 968.0,182.2 966.8,182.2C965.6,182.2 964.3,181.4 962.9,180.9C961.5,180.3 960.1,179.6 958.3,178.9C956.6,178.2 954.5,177.6 952.5,176.9C950.4,176.3 948.2,175.6 946.0,174.9C943.7,174.3 941.0,173.6 938.8,173.0C936.6,172.4 934.5,171.9 932.9,171.3C931.3,170.7 930.0,170.1 929.0,169.3C928.0,168.6 927.5,167.6 927.1,166.7C926.6,165.8 926.3,165.6 926.4,164.0Z" fill="none" stroke="#3a3a3a" stroke-width="1.6"/></g>
<g transform="scale(.5)"><g clip-path="url(#k38)"><rect x="996" y="133" width="69" height="51" fill="#afb3db"/><path fill="#8c92cb" stroke="#8c92cb" stroke-width=".6" d="M999 139l7-8-5 0-7 0 0 10zM1001 154l-7 6 6 4 3-9zM1003 155l-3 9 1 1 7-5-3-5zM1009 178l0 7-10-7 4-3 6 2zM1015 160l-1-5-6-2-3 2 3 5 1 2zM1019 161l-2 8-6 1-2-2 0-6 6-2zM1024 148l-7-3-2 1 2 5 8 5 0-1zM1025 168l-5-7 3-3 6 9-3 1zM1038 145l1-5-6-4-5 2 2 6zM1040 157l-2-6-8 2-2 2 7 7 3-1zM1061 149l-7-2 2-6 5-1 0 0 4 8zM1061 140l6 33 0-14 0-28 0 0-6 9zM1059 177l8 9 0 0-10-5z"/><path fill="#8087c6" stroke="#8087c6" stroke-width=".6" d="M1003 140l-3 11-6-10 5-2zM1017 145l-2 1-4 1-4-3-2-3 10-4 3 3zM1026 146l-5-8-3 2-1 5 7 3zM1029 167l3-1 2-2 1-2-7-7-3 0 0 1-2 2zM1026 168l3-1 3-1 1 6-6 4-1 0zM1040 147l-2 4-8 2 0-9 0 0 8 1zM1041 172l-7-8-2 2 1 6 4 3zM1032 181l-4-2-1-3 6-4 4 3 0 1zM1044 165l-6-4 2-4 3-1 7 4 0 1zM1046 146l2-6 2-2 1 0 5 3-2 6 0 0zM1044 165l6-4 3 3-2 5-6 0zM1052 155l6 2 3-8-7-2 0 0zM1050 161l0-1 2-4 0-1 6 2 1 1-2 6-4 0zM1059 173l8-12 0 0 0 25 0 0-8-9z"/><path fill="#afb3db" stroke="#afb3db" stroke-width=".6" d="M1000 151l1 1 0 2-7 6 0 26 0-27 0-28 0 10zM1008 153l6 2 3-4-2-5-4 1zM1017 169l1 1 2 5-1 2-10 1 0-1 2-7zM1019 161l1 0 3-3 2-2-8-5-3 4 1 5zM1033 131l7 0-7 5-5 2-4-2-3-5 10 0z"/><path fill="#989dd1" stroke="#989dd1" stroke-width=".6" d="M994 186l7-16 1-2-1-3-1-1-6-4 0 26 0 0zM994 186l7-16 2 5-4 3zM1004 140l6-9 5 6-10 4zM1021 131l-20 0 5 0 4 0 5 6 3 3 3-2 3-2zM1030 144l-4 2-5-8 3-2 4 2 2 6zM1032 181l5-5 3 4-5 6zM1050 138l-8-7-2 7 8 2zM1044 147l-4 0-2 4 2 6 3-1 4-3zM1035 186l4 0 8 0-2-6-5 0zM1047 153l-4 3 7 4 2-4zM1054 181l-7 5-8 0-33 0 25 0 36 0-10-5zM1067 161l0 0 0 0-2-13-4 1-3 8 1 1zM1058 165l1 7 0 1 8-12 0 0z"/><path fill="#747cc1" stroke="#747cc1" stroke-width=".6" d="M1009 185l-10-7-5 8 0 0 0 0 17 0zM1019 161l1 0 5 7-7 2-1-1zM1020 175l6 1 0-8-1 0-7 2zM1020 175l6 1 1 0 1 3-9 7 0-9zM1030 153l-2 2-3 0-1-7 2-2 4-2zM1032 181l-4-2-9 7-8 0-17 0 12 0 33 0-4 0zM1040 131l2 0-2 7-1 2-6-4zM1044 165l-6-4-3 1-1 2 7 8 2 0 2-3zM1054 181l-7 5-2-6 2-3 3 0zM1051 169l2 3 6 0-1-7-1-1-4 0zM1059 172l-6 0-3 5 4 4 3 0 2-4 0-4z"/><path fill="#6971bc" stroke="#6971bc" stroke-width=".6" d="M1003 140l1 0 6-9-4 0-7 8zM1003 140l1 0 1 1 2 3-6 8-1-1zM1058 165l9-4-8-3-2 6z"/><path fill="#bbbee0" stroke="#bbbee0" stroke-width=".6" d="M1001 154l2 1 2 0 3-2 3-6-4-3-6 8zM1019 177l0 9-8 0-2-1 0-7zM1046 146l8 1-2 8 0 1-5-3-3-6zM1051 138l16-7-6 9-5 1z"/><path fill="#a3a8d6" stroke="#a3a8d6" stroke-width=".6" d="M1009 162l-1-2-7 5 1 3 7 0zM1037 176l0-1 4-3 2 0 4 5-2 3-5 0zM1050 138l-8-7-2 0-7 0 34 0 0 0-16 7z"/><path fill="#5d66b7" stroke="#5d66b7" stroke-width=".6" d="M1011 170l-2 7-6-2-2-5 1-2 7 0zM1046 146l2-6-8-2-1 2-1 5 2 2 4 0zM1065 148l-4-8 6 33 0 13 0-25z"/><path fill="#c7c9e5" stroke="#c7c9e5" stroke-width=".6" d="M1045 169l-2 3 4 5 3 0 3-5-2-3z"/><rect x="996" y="133" width="69" height="51" fill="url(#r39)"/><path d="M1063.4,164.0C1063.3,162.5 1063.1,159.8 1062.4,157.4C1061.8,155.1 1060.7,152.4 1059.5,150.2C1058.2,148.0 1056.7,146.0 1054.9,144.2C1053.2,142.5 1051.3,140.9 1049.1,139.6C1046.8,138.3 1043.9,137.0 1041.2,136.3C1038.5,135.6 1035.6,135.5 1032.8,135.4C1029.9,135.3 1027.0,135.6 1024.3,136.0C1021.6,136.4 1019.0,137.0 1016.5,138.0C1014.0,138.9 1011.4,140.2 1009.3,141.6C1007.2,143.0 1005.6,144.5 1004.1,146.2C1002.6,148.0 1001.1,150.2 1000.2,152.2C999.2,154.1 998.6,156.1 998.4,158.1C998.2,160.1 998.3,162.2 998.9,164.0C999.4,165.9 1000.4,168.1 1001.5,169.3C1002.6,170.6 1003.7,171.0 1005.4,171.6C1007.0,172.2 1009.4,172.6 1011.2,173.0C1013.1,173.3 1015.4,173.2 1016.5,173.9C1017.5,174.7 1016.9,176.1 1017.4,177.2C1018.0,178.4 1018.8,180.1 1019.7,180.9C1020.6,181.7 1021.8,182.2 1023.0,182.2C1024.2,182.2 1025.5,181.4 1026.9,180.9C1028.3,180.3 1029.7,179.6 1031.5,178.9C1033.2,178.2 1035.3,177.6 1037.3,176.9C1039.4,176.3 1041.6,175.6 1043.8,174.9C1046.1,174.3 1048.8,173.6 1051.0,173.0C1053.2,172.4 1055.3,171.9 1056.9,171.3C1058.5,170.7 1059.8,170.1 1060.8,169.3C1061.8,168.6 1062.3,167.6 1062.7,166.7C1063.2,165.8 1063.5,165.6 1063.4,164.0Z" fill="none" stroke="#000" stroke-opacity="0.18" stroke-width="2.40"/></g><path d="M1042.9,160.4C1043.0,159.1 1042.7,157.9 1042.1,156.9C1041.5,155.8 1040.7,154.9 1039.4,154.2C1038.1,153.6 1036.2,153.3 1034.2,152.9C1032.1,152.5 1029.1,152.2 1027.2,152.0C1025.2,151.7 1024.2,151.4 1022.8,151.6C1021.3,151.7 1019.9,152.3 1018.4,152.9C1017.0,153.5 1015.5,154.1 1014.0,155.1C1012.6,156.0 1010.6,157.3 1009.6,158.6C1008.6,160.0 1007.9,161.8 1008.0,163.1C1008.2,164.3 1009.5,165.3 1010.5,166.2C1011.5,167.0 1013.0,167.3 1014.0,167.9C1015.1,168.5 1015.9,169.1 1016.7,169.7C1017.4,170.4 1018.1,171.0 1018.4,172.0C1018.8,172.9 1018.5,174.4 1018.8,175.5C1019.1,176.6 1019.5,177.9 1020.2,178.6C1020.8,179.2 1021.6,179.6 1022.8,179.5C1023.9,179.4 1025.7,178.8 1027.2,178.2C1028.6,177.6 1030.1,176.8 1031.5,175.9C1033.0,175.0 1034.6,173.9 1035.9,172.8C1037.2,171.7 1038.5,170.6 1039.4,169.3C1040.4,167.9 1041.0,166.3 1041.6,164.8C1042.2,163.4 1042.9,161.7 1042.9,160.4Z" fill="url(#g40)"/><path d="M1033.4,152.2C1032.8,152.0 1031.0,151.4 1029.5,151.2C1028.0,151.0 1025.9,150.8 1024.3,150.8C1022.7,150.9 1021.1,151.3 1019.7,151.6C1018.3,152.0 1017.0,152.6 1015.8,153.2C1014.6,153.7 1013.1,154.8 1012.5,155.1" fill="none" stroke="#111" stroke-opacity="0.85" stroke-width="0.81" stroke-linecap="round"/><path d="M1035.9,172.8C1035.0,173.2 1032.5,174.7 1030.8,175.3C1029.1,175.8 1027.2,176.2 1025.6,176.3C1024.0,176.3 1022.2,176.1 1021.0,175.6C1019.9,175.1 1019.1,173.7 1018.7,173.3" fill="none" stroke="#888" stroke-opacity="0.6" stroke-width="0.60"/><path d="M1063.4,164.0C1063.3,162.5 1063.1,159.8 1062.4,157.4C1061.8,155.1 1060.7,152.4 1059.5,150.2C1058.2,148.0 1056.7,146.0 1054.9,144.2C1053.2,142.5 1051.3,140.9 1049.1,139.6C1046.8,138.3 1043.9,137.0 1041.2,136.3C1038.5,135.6 1035.6,135.5 1032.8,135.4C1029.9,135.3 1027.0,135.6 1024.3,136.0C1021.6,136.4 1019.0,137.0 1016.5,138.0C1014.0,138.9 1011.4,140.2 1009.3,141.6C1007.2,143.0 1005.6,144.5 1004.1,146.2C1002.6,148.0 1001.1,150.2 1000.2,152.2C999.2,154.1 998.6,156.1 998.4,158.1C998.2,160.1 998.3,162.2 998.9,164.0C999.4,165.9 1000.4,168.1 1001.5,169.3C1002.6,170.6 1003.7,171.0 1005.4,171.6C1007.0,172.2 1009.4,172.6 1011.2,173.0C1013.1,173.3 1015.4,173.2 1016.5,173.9C1017.5,174.7 1016.9,176.1 1017.4,177.2C1018.0,178.4 1018.8,180.1 1019.7,180.9C1020.6,181.7 1021.8,182.2 1023.0,182.2C1024.2,182.2 1025.5,181.4 1026.9,180.9C1028.3,180.3 1029.7,179.6 1031.5,178.9C1033.2,178.2 1035.3,177.6 1037.3,176.9C1039.4,176.3 1041.6,175.6 1043.8,174.9C1046.1,174.3 1048.8,173.6 1051.0,173.0C1053.2,172.4 1055.3,171.9 1056.9,171.3C1058.5,170.7 1059.8,170.1 1060.8,169.3C1061.8,168.6 1062.3,167.6 1062.7,166.7C1063.2,165.8 1063.5,165.6 1063.4,164.0Z" fill="none" stroke="#3a3a3a" stroke-width="1.6"/></g>
<g transform="scale(.5)"><g clip-path="url(#k41)"><rect x="1078" y="87" width="69" height="49" fill="#bbbee0"/><path fill="#f6dbdc" stroke="#f6dbdc" stroke-width=".6" d="M1083 92l-7-7 0 0 0 0zM1085 102l4 0 1 3-1 2-5 3-3-5zM1100 101l2 3-1 3-4 2-3-2 3-8zM1141 94l1-1-6-8-3 0 4 8zM1139 101l0 0 1 0 9-5-7-3-1 1z"/><path fill="#f0a7a9" stroke="#f0a7a9" stroke-width=".6" d="M1083 97l1-4-1-1-7-7 0 21 0 0 0-3zM1099 133l5-4-2-4-5 0-1 1-1 5 3 2zM1100 101l5-6 4 4-1 3-6 2zM1115 128l-4 0-1-5 3-3 5 5zM1122 129l0-4-2-1-2 1-3 3 3 3zM1132 115l-3 1 0 4 6 6 4-3-6-8zM1143 121l-2 2-2 0-6-8 9-1z"/><path fill="#f3c1c3" stroke="#f3c1c3" stroke-width=".6" d="M1085 102l-4 3-5-2 7-6zM1096 93l-20-8 0 0 15 4zM1097 109l-1 6-3 1-3-1-1-8 1-2 4 2zM1097 125l0-8-1-2-3 1-5 6 1 2 7 2zM1108 114l1 1 5 0 2-8-5-1-3 3zM1120 124l0-7 6-2 1 0 2 1 0 4-3 5-4 0zM1133 95l-1 0-4-3 5-7 4 8zM1129 120l-3 5 3 5 1 1 5-2 0-3zM1142 93l-6-8 13 0 0 0 0 12 0-1z"/><path fill="#eb8083" stroke="#eb8083" stroke-width=".6" d="M1081 105l3 5-2 4-6-8 0-3zM1090 115l-1-8-5 3-2 4 1 0zM1097 93l-1 0-5-4-5 4 6 5 3-1zM1100 101l5-6 0 0-5-3-3 1-2 4 2 2zM1124 94l0-1-11-8 4 4zM1139 101l-6-6 4-2 4 1zM1124 138l3 0 12-5 1 0-20 5-2 0 3 0zM1140 101l7 6 2-10 0-1zM1149 124l0 14 0-27 0-26 0 12-2 10-3 2-1 4z"/><path fill="#f5cecf" stroke="#f5cecf" stroke-width=".6" d="M1083 122l0 0-7-16 0 0 6 8 1 0zM1084 93l2 0 5-4-15-4 0 0 7 7zM1100 92l6-7 4 0-10 0-24 0 20 8 1 0zM1099 133l10 5 0-7-5-2zM1130 103l-3 0-4-8 1-1 0-1 4-1 4 3-1 6zM1127 115l-1-11-6 1-2 1 8 9z"/><path fill="#f1b4b6" stroke="#f1b4b6" stroke-width=".6" d="M1083 122l-7-16 0-21 0 0 0 26 0 27 5-10zM1097 99l-2-2-3 1-3 4 1 3 4 2zM1097 109l-1 6 1 2 4 0 3-2-2-6-1-2zM1133 85l-5 7-4 1-11-8-3 0-10 0 12 0 37 0-13 0zM1122 129l0-4 4 0 3 5-6 0zM1123 130l6 0 1 1-3 7-3 0zM1139 123l2 0 3 9-4 1-1 0-4-4 0-3z"/><path fill="#e97376" stroke="#e97376" stroke-width=".6" d="M1084 131l-8 7 0 0 5-10zM1105 95l4-6-3-4-6 7zM1107 122l2-7 5 0 1 1-2 4-3 3zM1127 138l12-5-4-4-5 2z"/><path fill="#faf6f6" stroke="#faf6f6" stroke-width=".6" d="M1085 102l4 0 3-4-6-5-2 0-1 4zM1099 133l10 5 9 0 2 0-3 0-5 0-36 0 22-5zM1104 115l-3 2 4 5 2 0 2-7-1-1zM1126 115l-6 2-5-1-1-1 2-8 1 0 1-1zM1131 101l1-6 1 0 6 6 0 0 0 0zM1137 106l2-5-8 0-1 2 5 4z"/><path fill="#ee9a9c" stroke="#ee9a9c" stroke-width=".6" d="M1090 115l-7-1 0 8 5 0 5-6zM1076 138l0 0 8-7 4 0 4 2zM1095 131l-3 2-4-2 1-7 7 2zM1104 129l5 2 2-3-1-5-3-1-2 0-3 3zM1121 138l-3 0-9 0 0-7 2-3 4 0 3 3zM1120 124l0-7-5-1-2 4 5 5zM1120 105l0-8 3-2 4 8-1 1z"/><path fill="#f8e8e9" stroke="#f8e8e9" stroke-width=".6" d="M1088 122l1 2-1 7-4 0-3-3 2-6 0 0zM1102 104l6-2 3 4-3 3-6 0-1-2zM1137 106l7 3 3-2-7-6-1 0 0 0zM1143 121l-1-7 1-1 6 11z"/><path fill="#e86669" stroke="#e86669" stroke-width=".6" d="M1098 133l-22 5 0 0 16-5 3-2z"/><path fill="#ed8d90" stroke="#ed8d90" stroke-width=".6" d="M1097 125l0-8 4 0 4 5-3 3zM1135 107l-3 8-3 1-2-1-1-11 1-1 3 0z"/><path fill="#eaeaf4" stroke="#eaeaf4" stroke-width=".6" d="M1104 115l-2-6 6 0 0 5zM1122 129l-4 2 3 7 3 0-1-8zM1140 133l-20 5-3 0 32 0-5-6z"/><path fill="#8087c6" stroke="#8087c6" stroke-width=".6" d="M1113 93l-4-4-3-4 4 0 3 0 4 4zM1117 107l-1 0-5-1-3-4 1-3 5-2 1 0zM1120 105l0-8-5 0 2 10 1-1z"/><path fill="#5d66b7" stroke="#5d66b7" stroke-width=".6" d="M1114 97l-5 2-4-4 0 0 4-6 4 4zM1120 97l3-2 1-1-7-5-4 4 1 4 1 0z"/><path fill="#e6595d" stroke="#e6595d" stroke-width=".6" d="M1137 106l7 3-1 4-1 1-9 1-1 0 3-8z"/><path fill="#c7c9e5" stroke="#c7c9e5" stroke-width=".6" d="M1143 121l-2 2 3 9 5 6 0 0 0-14z"/><rect x="1078" y="87" width="69" height="49" fill="url(#r42)"/><path d="M1079.6,115.2C1079.6,114.1 1079.6,113.4 1079.9,112.0C1080.2,110.6 1080.6,108.5 1081.4,106.9C1082.2,105.3 1083.6,103.8 1084.7,102.5C1085.8,101.3 1086.7,100.2 1087.8,99.2C1088.9,98.2 1090.0,97.5 1091.2,96.7C1092.4,95.8 1093.5,94.9 1094.9,94.1C1096.3,93.3 1098.2,92.4 1099.8,91.8C1101.4,91.2 1102.7,90.7 1104.5,90.3C1106.3,89.8 1108.3,89.4 1110.6,89.1C1112.9,88.9 1115.7,88.5 1118.2,88.8C1120.7,89.1 1123.2,89.7 1125.7,90.7C1128.2,91.8 1130.9,93.2 1133.3,95.0C1135.6,96.8 1138.0,99.3 1139.7,101.5C1141.4,103.6 1142.7,106.2 1143.5,107.9C1144.3,109.7 1144.5,110.5 1144.6,112.0C1144.7,113.5 1144.7,115.0 1144.0,116.7C1143.4,118.4 1142.2,120.8 1140.8,122.1C1139.4,123.4 1137.4,124.0 1135.4,124.8C1133.4,125.6 1131.0,126.3 1129.0,127.0C1127.0,127.7 1125.4,128.4 1123.5,129.1C1121.6,129.8 1119.2,130.5 1117.4,131.2C1115.6,131.8 1114.5,132.4 1112.8,132.8C1111.1,133.2 1108.7,133.6 1107.1,133.6C1105.5,133.6 1104.3,133.4 1103.3,133.0C1102.2,132.6 1101.3,131.9 1100.7,131.2C1100.1,130.4 1100.0,129.0 1099.6,128.3C1099.2,127.6 1099.3,127.3 1098.4,127.1C1097.5,126.8 1095.8,126.9 1094.3,126.7C1092.7,126.5 1090.7,126.4 1089.1,126.1C1087.6,125.7 1086.2,125.5 1084.9,124.8C1083.7,124.1 1082.5,123.0 1081.7,121.9C1080.9,120.8 1080.5,119.5 1080.1,118.4C1079.8,117.3 1079.6,116.3 1079.6,115.2Z" fill="none" stroke="#000" stroke-opacity="0.18" stroke-width="2.40"/><path d="M1098.8,126.7C1099.5,126.0 1101.7,123.6 1103.3,122.2C1104.9,120.8 1106.7,119.5 1108.4,118.4C1110.1,117.3 1111.8,116.7 1113.5,115.8C1115.3,115.0 1117.2,114.1 1118.7,113.3C1120.2,112.4 1121.9,111.1 1122.5,110.7" fill="none" stroke="#000" stroke-opacity="0.45" stroke-width="0.80"/></g><path d="M1079.6,115.2C1079.6,114.1 1079.6,113.4 1079.9,112.0C1080.2,110.6 1080.6,108.5 1081.4,106.9C1082.2,105.3 1083.6,103.8 1084.7,102.5C1085.8,101.3 1086.7,100.2 1087.8,99.2C1088.9,98.2 1090.0,97.5 1091.2,96.7C1092.4,95.8 1093.5,94.9 1094.9,94.1C1096.3,93.3 1098.2,92.4 1099.8,91.8C1101.4,91.2 1102.7,90.7 1104.5,90.3C1106.3,89.8 1108.3,89.4 1110.6,89.1C1112.9,88.9 1115.7,88.5 1118.2,88.8C1120.7,89.1 1123.2,89.7 1125.7,90.7C1128.2,91.8 1130.9,93.2 1133.3,95.0C1135.6,96.8 1138.0,99.3 1139.7,101.5C1141.4,103.6 1142.7,106.2 1143.5,107.9C1144.3,109.7 1144.5,110.5 1144.6,112.0C1144.7,113.5 1144.7,115.0 1144.0,116.7C1143.4,118.4 1142.2,120.8 1140.8,122.1C1139.4,123.4 1137.4,124.0 1135.4,124.8C1133.4,125.6 1131.0,126.3 1129.0,127.0C1127.0,127.7 1125.4,128.4 1123.5,129.1C1121.6,129.8 1119.2,130.5 1117.4,131.2C1115.6,131.8 1114.5,132.4 1112.8,132.8C1111.1,133.2 1108.7,133.6 1107.1,133.6C1105.5,133.6 1104.3,133.4 1103.3,133.0C1102.2,132.6 1101.3,131.9 1100.7,131.2C1100.1,130.4 1100.0,129.0 1099.6,128.3C1099.2,127.6 1099.3,127.3 1098.4,127.1C1097.5,126.8 1095.8,126.9 1094.3,126.7C1092.7,126.5 1090.7,126.4 1089.1,126.1C1087.6,125.7 1086.2,125.5 1084.9,124.8C1083.7,124.1 1082.5,123.0 1081.7,121.9C1080.9,120.8 1080.5,119.5 1080.1,118.4C1079.8,117.3 1079.6,116.3 1079.6,115.2Z" fill="none" stroke="#3a3a3a" stroke-width="1.6"/></g>
<g transform="scale(.5)"><g clip-path="url(#k43)"><rect x="1150" y="87" width="69" height="49" fill="#8c92cb"/><path fill="#ee9a9c" stroke="#ee9a9c" stroke-width=".6" d="M1155 92l0 0-7-7 0 0 0 12zM1153 119l-5 7 4 2 4-1 0-1zM1181 128l-4 10-4-6 7-5zM1211 116l-7 0-2 2 0 6 3 1 6-9zM1211 116l-3-9 2-2 0 0 5 4-4 7 0 0zM1215 135l-7 3-14 0-28 0-1 0 19 0 37-27 0-18 0 11 0 21z"/><path fill="#f3c1c3" stroke="#f3c1c3" stroke-width=".6" d="M1155 101l0-9-7 5 4 6zM1159 92l-4 0-7-7 0 0 18 0zM1178 100l1-6-5-3 0 0-1 8zM1180 115l8 0 2-2-5-4-5 0-1 5zM1180 115l8 0-2 6-1 1-2-1zM1186 131l-7 7-2 0 4-10z"/><path fill="#f5cecf" stroke="#f5cecf" stroke-width=".6" d="M1152 107l0-4-4-6 0-12 0 26 0 25 0-24zM1158 102l-3-1-3 2 0 4 6 2 2-4zM1160 99l0-5 6 1 1 3-1 1zM1163 129l-2 1-2 8 11-8 0-1-1 0zM1206 126l-4 7 3 5 3-8-1-4zM1215 109l6-4-2-4-9 4z"/><path fill="#f0a7a9" stroke="#f0a7a9" stroke-width=".6" d="M1158 109l0 0-6-2-4 5 5 2zM1184 90l11-5 2 0 5 0 12 0-30 0-32 0 27 0zM1211 116l-7 0-2-8 6-1zM1221 103l-5-13-1 0-11-5-2 0 12 0 7 8 0 11zM1216 123l5 2-6 10-2-4 1-6z"/><path fill="#ed8d90" stroke="#ed8d90" stroke-width=".6" d="M1153 114l-5-2 0 24 0 2 0-12 5-7 1-2zM1159 118l2 3-5 5-3-7 1-2zM1160 105l-2 4 0 0 5 5 3-1 3-5 0 0-4-3zM1163 114l3-1 2 3-1 5-4 1-2-1-2-3zM1196 107l-1 1-7-3-2-4 5-2 4 4zM1201 94l-4-9-2 0-4 8 1 1 8 1zM1203 100l-3 7-4 0-1-4 5-8 1-1 0 0zM1193 123l0 0-2 7 2 2 5-1 2-6zM1211 116l1 0 9-11 0 0-6 4z"/><path fill="#e6595d" stroke="#e6595d" stroke-width=".6" d="M1158 138l-10 0 0 0 0-12 4 2zM1158 109l-5 5 1 3 5 1 4-4z"/><path fill="#f1b4b6" stroke="#f1b4b6" stroke-width=".6" d="M1160 99l0-5-1-2-4 0 0 0 0 9 3 1zM1159 138l2-8-5-3-4 1 6 10zM1160 99l6 0-1 6-5 0-2-3zM1172 106l-3 2-4-3 1-6 1-1 6 2zM1174 118l-6-2-1 5 1 1 7 0zM1175 123l-5 6 0 1 3 2 7-5-1-2zM1203 100l6 2 2-4-4-4-6 0zM1215 90l-11-5 4 7zM1207 94l1-2 7-2 1 0-2 7-3 1zM1208 130l5 1 2 4-7 3-3 0zM1219 101l2 4 0 0 0-2-5-13-2 7z"/><path fill="#e97376" stroke="#e97376" stroke-width=".6" d="M1163 122l-2-1-5 5 0 1 5 3 2-1zM1195 116l7 2 0 6-2 1-7-2z"/><path fill="#faf6f6" stroke="#faf6f6" stroke-width=".6" d="M1166 95l-6-1-1-2 7-7 4 6zM1173 99l1-8-4 0-4 4 1 3 6 2z"/><path fill="#eb8083" stroke="#eb8083" stroke-width=".6" d="M1168 122l1 7-6 0 0-7 4-1zM1175 123l-5 6-1 0-1-7 7 0zM1183 121l2 1 2 8-1 1-5-3-1-1-1-2zM1202 124l3 1 1 1-4 7-4-2 2-6zM1207 126l1 4 5 1 1-6z"/><path fill="#f8e8e9" stroke="#f8e8e9" stroke-width=".6" d="M1174 91l5-6-27 0-4 0 18 0 4 6 4 0zM1159 138l11-8 3 2 4 6 2 0-13 0-1 0-17 0 10 0zM1185 122l2 8 4 0 2-7-7-2zM1187 130l-1 1-7 7-13 0 28 0-1-6-2-2zM1200 95l-8-1-1 5 4 4zM1201 94l0 0-4-9 5 0 2 0 4 7-1 2zM1211 116l-6 9 1 1 1 0 7-1 2-2-4-7-1 0zM1212 116l9-11 0-2 0 1 0 21-5-2z"/><path fill="#dedfef" stroke="#dedfef" stroke-width=".6" d="M1178 115l-9-7-3 5 2 3 6 2zM1179 107l1 2-1 5-1 1-9-7 0 0 3-2zM1180 115l3 6-4 4-4-2 0-1-1-4 4-3 1-1z"/><path fill="#747cc1" stroke="#747cc1" stroke-width=".6" d="M1179 94l5-1 0-1 0-2-5-5-5 6z"/><path fill="#f6dbdc" stroke="#f6dbdc" stroke-width=".6" d="M1180 102l-2-2-5-1 0 1-1 6 7 1zM1195 116l-2-3-3 0-2 2-2 6 7 2 0 0z"/><path fill="#515bb2" stroke="#515bb2" stroke-width=".6" d="M1180 102l5-1-1-8-5 1-1 6z"/><path fill="#8c92cb" stroke="#8c92cb" stroke-width=".6" d="M1180 102l5-1 1 0 2 4-3 4-5 0-1-2z"/><path fill="#6971bc" stroke="#6971bc" stroke-width=".6" d="M1184 92l7 1 4-8-11 5zM1184 93l0-1 7 1 1 1-1 5-5 2-1 0z"/><path fill="#eaeaf4" stroke="#eaeaf4" stroke-width=".6" d="M1188 105l7 3-2 5-3 0-5-4z"/><path fill="#e86669" stroke="#e86669" stroke-width=".6" d="M1195 116l-2-3 2-5 1-1 4 0 2 1 2 8-2 2zM1202 133l-4-2-5 1 1 6 14 0-3 0z"/><path fill="#e33f43" stroke="#e33f43" stroke-width=".6" d="M1203 100l-3 7 2 1 6-1 2-2-1-3zM1209 102l1 3 0 0 9-4-5-4-3 1z"/><rect x="1150" y="87" width="69" height="49" fill="url(#r44)"/><path d="M1216.6,115.2C1216.6,114.1 1216.6,113.4 1216.3,112.0C1216.0,110.6 1215.6,108.5 1214.8,106.9C1214.0,105.3 1212.6,103.8 1211.5,102.5C1210.4,101.3 1209.5,100.2 1208.4,99.2C1207.3,98.2 1206.2,97.5 1205.0,96.7C1203.8,95.8 1202.7,94.9 1201.3,94.1C1199.9,93.3 1198.0,92.4 1196.4,91.8C1194.8,91.2 1193.5,90.7 1191.7,90.3C1189.9,89.8 1187.9,89.4 1185.6,89.1C1183.3,88.9 1180.5,88.5 1178.0,88.8C1175.5,89.1 1173.0,89.7 1170.5,90.7C1168.0,91.8 1165.3,93.2 1162.9,95.0C1160.6,96.8 1158.2,99.3 1156.5,101.5C1154.8,103.6 1153.5,106.2 1152.7,107.9C1151.9,109.7 1151.7,110.5 1151.6,112.0C1151.5,113.5 1151.5,115.0 1152.2,116.7C1152.8,118.4 1154.0,120.8 1155.4,122.1C1156.8,123.4 1158.8,124.0 1160.8,124.8C1162.8,125.6 1165.2,126.3 1167.2,127.0C1169.2,127.7 1170.8,128.4 1172.7,129.1C1174.6,129.8 1177.0,130.5 1178.8,131.2C1180.6,131.8 1181.7,132.4 1183.4,132.8C1185.1,133.2 1187.5,133.6 1189.1,133.6C1190.7,133.6 1191.9,133.4 1192.9,133.0C1194.0,132.6 1194.9,131.9 1195.5,131.2C1196.1,130.4 1196.2,129.0 1196.6,128.3C1197.0,127.6 1196.9,127.3 1197.8,127.1C1198.7,126.8 1200.4,126.9 1201.9,126.7C1203.5,126.5 1205.5,126.4 1207.1,126.1C1208.6,125.7 1210.0,125.5 1211.3,124.8C1212.5,124.1 1213.7,123.0 1214.5,121.9C1215.3,120.8 1215.7,119.5 1216.1,118.4C1216.4,117.3 1216.6,116.3 1216.6,115.2Z" fill="none" stroke="#000" stroke-opacity="0.18" stroke-width="2.40"/><path d="M1197.4,126.7C1196.7,126.0 1194.5,123.6 1192.9,122.2C1191.3,120.8 1189.5,119.5 1187.8,118.4C1186.1,117.3 1184.4,116.7 1182.7,115.8C1180.9,115.0 1179.0,114.1 1177.5,113.3C1176.0,112.4 1174.3,111.1 1173.7,110.7" fill="none" stroke="#000" stroke-opacity="0.45" stroke-width="0.80"/></g><path d="M1216.6,115.2C1216.6,114.1 1216.6,113.4 1216.3,112.0C1216.0,110.6 1215.6,108.5 1214.8,106.9C1214.0,105.3 1212.6,103.8 1211.5,102.5C1210.4,101.3 1209.5,100.2 1208.4,99.2C1207.3,98.2 1206.2,97.5 1205.0,96.7C1203.8,95.8 1202.7,94.9 1201.3,94.1C1199.9,93.3 1198.0,92.4 1196.4,91.8C1194.8,91.2 1193.5,90.7 1191.7,90.3C1189.9,89.8 1187.9,89.4 1185.6,89.1C1183.3,88.9 1180.5,88.5 1178.0,88.8C1175.5,89.1 1173.0,89.7 1170.5,90.7C1168.0,91.8 1165.3,93.2 1162.9,95.0C1160.6,96.8 1158.2,99.3 1156.5,101.5C1154.8,103.6 1153.5,106.2 1152.7,107.9C1151.9,109.7 1151.7,110.5 1151.6,112.0C1151.5,113.5 1151.5,115.0 1152.2,116.7C1152.8,118.4 1154.0,120.8 1155.4,122.1C1156.8,123.4 1158.8,124.0 1160.8,124.8C1162.8,125.6 1165.2,126.3 1167.2,127.0C1169.2,127.7 1170.8,128.4 1172.7,129.1C1174.6,129.8 1177.0,130.5 1178.8,131.2C1180.6,131.8 1181.7,132.4 1183.4,132.8C1185.1,133.2 1187.5,133.6 1189.1,133.6C1190.7,133.6 1191.9,133.4 1192.9,133.0C1194.0,132.6 1194.9,131.9 1195.5,131.2C1196.1,130.4 1196.2,129.0 1196.6,128.3C1197.0,127.6 1196.9,127.3 1197.8,127.1C1198.7,126.8 1200.4,126.9 1201.9,126.7C1203.5,126.5 1205.5,126.4 1207.1,126.1C1208.6,125.7 1210.0,125.5 1211.3,124.8C1212.5,124.1 1213.7,123.0 1214.5,121.9C1215.3,120.8 1215.7,119.5 1216.1,118.4C1216.4,117.3 1216.6,116.3 1216.6,115.2Z" fill="none" stroke="#3a3a3a" stroke-width="1.6"/></g>
<g transform="scale(.5)"><g clip-path="url(#k45)"><rect x="1078" y="133" width="69" height="51" fill="#f8e8e9"/><path fill="#f0a7a9" stroke="#f0a7a9" stroke-width=".6" d="M1082 145l-6-14 12 9zM1081 146l3 6-3 4-5-6 5-4zM1076 180l0-8 6-13-1-3-5-6 0 36 0 0zM1081 146l3 6 2 0 7-4zM1090 176l-4 2-10-7 8-3 6 3zM1092 169l0-8 4-2 3 4-2 6zM1105 148l0-5-6-4 0 0-4 9 1 2zM1103 162l2-2 7 5-3 5-4 1 0 0zM1124 171l1 0 1-8-5-1-4 3 2 3z"/><path fill="#f8e8e9" stroke="#f8e8e9" stroke-width=".6" d="M1081 146l-5 4 0 36 0-27 0-28 0 0 6 14z"/><path fill="#dedfef" stroke="#dedfef" stroke-width=".6" d="M1076 172l6-13 3 2-1 7-8 3z"/><path fill="#ee9a9c" stroke="#ee9a9c" stroke-width=".6" d="M1076 180l0-8 0-1 10 7-4 4zM1105 157l0 3 7 5 2-1 0-9-8 0zM1111 186l-2 0-4-7 1-1 8-1zM1118 140l-5-3 5-6 3 0-1 7zM1114 155l0 0 0 9 3 1 4-3 0-8zM1118 144l9 2 1-7-8-1-2 2zM1141 153l8 9 0 24 0-27 0-28 0 0-7 20z"/><path fill="#f1b4b6" stroke="#f1b4b6" stroke-width=".6" d="M1076 180l6 2 7 4-1 0-12 0zM1094 148l1 0 1 2 0 2-7 3-3-3 7-4zM1093 180l-3-4 0-5 2-2 5 0 3 2-4 8-2 1zM1135 155l-1 1-6 2-5-5 5-6 3 1zM1125 171l1-8 2-1 6 4-7 6zM1127 172l7-6 0 0 3 5-2 4-5 2zM1149 186l0 0 0-7-8 2-3 5z"/><path fill="#f5cecf" stroke="#f5cecf" stroke-width=".6" d="M1088 140l0 0 10-9 0 0-3 0-19 0 0 0 12 9zM1093 180l-4 6-7-4 4-4 4-2zM1094 148l1 0 4-9-11 1 0 0zM1113 148l-8 0 1 7 8 0 0 0zM1120 138l1-7 8 8-1 0zM1122 154l1-1 5 5 0 4-2 1-5-1 0-8zM1128 180l-7 1-2-4 5-6 1 0 2 1 3 5-1 1zM1143 138l-7-7-3 6 2 2zM1142 171l2 2 5 6 0 7 0 0 0-24-5 2z"/><path fill="#f6dbdc" stroke="#f6dbdc" stroke-width=".6" d="M1081 146l12 2 1 0-6-8 0 0-6 5-1 1zM1096 179l9 0 1-1-1-7 0 0-5 0zM1114 146l-1 2 1 7 7-1 1 0-5-9zM1141 153l-6 2-4-7 7-3 2 0 2 6-1 2zM1137 171l-2 4 5 3 4-5-2-2zM1140 178l1 3 8-2-5-6z"/><path fill="#f3c1c3" stroke="#f3c1c3" stroke-width=".6" d="M1089 155l0 5-4 1-3-2-1-3 3-4 2 0zM1100 171l5 0-2-9-4 1-2 6zM1111 186l10-5-2-4-4-1-1 1-3 9zM1138 186l-7 0-20 0 10-5 7-1zM1134 156l3 7-3 3 0 0-6-4 0-4zM1138 186l-10-6 1-2 9 8 11 0zM1141 153l0 10-4 0-3-7 1-1zM1146 140l3-9 0 0 0 0-13 0 7 7zM1142 151l7-20-3 9-6 5z"/><path fill="#e6595d" stroke="#e6595d" stroke-width=".6" d="M1092 169l0-8-3-1-4 1-1 7 6 3zM1096 152l-7 3 0 5 3 1 4-2 1-4zM1117 145l1-1 9 2 1 1-5 6-1 1zM1138 145l-3-6-2-2-4 2-1 0-1 7 1 1 3 1z"/><path fill="#eb8083" stroke="#eb8083" stroke-width=".6" d="M1088 140l10-9 2 0-1 8 0 0zM1094 180l15 6-4-7-9 0zM1141 153l0 10 3 1 5-2-8-9z"/><path fill="#e44c50" stroke="#e44c50" stroke-width=".6" d="M1093 180l-4 6-1 0 24 0 19 0-20 0 0 0-2 0-15-6zM1137 171l-3-5 3-3 4 0 3 1-2 7z"/><path fill="#8087c6" stroke="#8087c6" stroke-width=".6" d="M1105 143l-6-4 1-8 9 7-1 2z"/><path fill="#e86669" stroke="#e86669" stroke-width=".6" d="M1105 157l-8-2-1-3 0-2 9-2 0 0 1 7zM1103 162l2-2 0-3-8-2-1 4 3 4zM1115 176l0-1 4-7 5 3-5 6z"/><path fill="#5d66b7" stroke="#5d66b7" stroke-width=".6" d="M1113 137l5-6-20 0 0 0 2 0 9 7z"/><path fill="#6971bc" stroke="#6971bc" stroke-width=".6" d="M1114 146l-6-6-3 3 0 5 0 0 8 0z"/><path fill="#bbbee0" stroke="#bbbee0" stroke-width=".6" d="M1115 176l0-1-6-5-4 1 1 7 8-1z"/><path fill="#8c92cb" stroke="#8c92cb" stroke-width=".6" d="M1114 146l-6-6 1-2 4-1 5 3 0 4-1 1z"/><path fill="#c7c9e5" stroke="#c7c9e5" stroke-width=".6" d="M1119 168l-2-3-3-1-2 1-3 5 6 5z"/><path fill="#ed8d90" stroke="#ed8d90" stroke-width=".6" d="M1133 137l-4 2-8-8-3 0-20 0-3 0 17 0 37 0-13 0z"/><path fill="#faf6f6" stroke="#faf6f6" stroke-width=".6" d="M1140 145l6-5-3-2-8 1 3 6z"/><path fill="#e97376" stroke="#e97376" stroke-width=".6" d="M1138 186l3-5-1-3-5-3-5 2-1 1z"/><rect x="1078" y="133" width="69" height="51" fill="url(#r46)"/><path d="M1079.6,164.0C1079.7,162.5 1079.9,159.8 1080.6,157.4C1081.2,155.1 1082.3,152.4 1083.5,150.2C1084.8,148.0 1086.3,146.0 1088.1,144.2C1089.8,142.5 1091.7,140.9 1093.9,139.6C1096.2,138.3 1099.1,137.0 1101.8,136.3C1104.5,135.6 1107.4,135.5 1110.2,135.4C1113.1,135.3 1116.0,135.6 1118.7,136.0C1121.4,136.4 1124.0,137.0 1126.5,138.0C1129.0,138.9 1131.6,140.2 1133.7,141.6C1135.8,143.0 1137.4,144.5 1138.9,146.2C1140.4,148.0 1141.9,150.2 1142.8,152.2C1143.8,154.1 1144.4,156.1 1144.6,158.1C1144.8,160.1 1144.7,162.2 1144.1,164.0C1143.6,165.9 1142.6,168.1 1141.5,169.3C1140.4,170.6 1139.3,171.0 1137.6,171.6C1136.0,172.2 1133.6,172.6 1131.8,173.0C1129.9,173.3 1127.6,173.2 1126.5,173.9C1125.5,174.7 1126.1,176.1 1125.6,177.2C1125.0,178.4 1124.2,180.1 1123.3,180.9C1122.4,181.7 1121.2,182.2 1120.0,182.2C1118.8,182.2 1117.5,181.4 1116.1,180.9C1114.7,180.3 1113.3,179.6 1111.5,178.9C1109.8,178.2 1107.7,177.6 1105.7,176.9C1103.6,176.3 1101.4,175.6 1099.2,174.9C1096.9,174.3 1094.2,173.6 1092.0,173.0C1089.8,172.4 1087.7,171.9 1086.1,171.3C1084.5,170.7 1083.2,170.1 1082.2,169.3C1081.2,168.6 1080.7,167.6 1080.3,166.7C1079.8,165.8 1079.5,165.6 1079.6,164.0Z" fill="none" stroke="#000" stroke-opacity="0.18" stroke-width="2.40"/></g><path d="M1100.1,160.4C1100.0,159.1 1100.3,157.9 1100.9,156.9C1101.5,155.8 1102.3,154.9 1103.6,154.2C1104.9,153.6 1106.8,153.3 1108.8,152.9C1110.9,152.5 1113.9,152.2 1115.8,152.0C1117.8,151.7 1118.8,151.4 1120.2,151.6C1121.7,151.7 1123.1,152.3 1124.6,152.9C1126.0,153.5 1127.5,154.1 1129.0,155.1C1130.4,156.0 1132.4,157.3 1133.4,158.6C1134.4,160.0 1135.1,161.8 1135.0,163.1C1134.8,164.3 1133.5,165.3 1132.5,166.2C1131.5,167.0 1130.0,167.3 1129.0,167.9C1127.9,168.5 1127.1,169.1 1126.3,169.7C1125.6,170.4 1124.9,171.0 1124.6,172.0C1124.2,172.9 1124.5,174.4 1124.2,175.5C1123.9,176.6 1123.5,177.9 1122.8,178.6C1122.2,179.2 1121.4,179.6 1120.2,179.5C1119.1,179.4 1117.3,178.8 1115.8,178.2C1114.4,177.6 1112.9,176.8 1111.5,175.9C1110.0,175.0 1108.4,173.9 1107.1,172.8C1105.8,171.7 1104.5,170.6 1103.6,169.3C1102.6,167.9 1102.0,166.3 1101.4,164.8C1100.8,163.4 1100.1,161.7 1100.1,160.4Z" fill="url(#g47)"/><path d="M1109.6,152.2C1110.2,152.0 1112.0,151.4 1113.5,151.2C1115.0,151.0 1117.1,150.8 1118.7,150.8C1120.3,150.9 1121.9,151.3 1123.3,151.6C1124.7,152.0 1126.0,152.6 1127.2,153.2C1128.4,153.7 1129.9,154.8 1130.5,155.1" fill="none" stroke="#111" stroke-opacity="0.85" stroke-width="0.81" stroke-linecap="round"/><path d="M1107.1,172.8C1108.0,173.2 1110.5,174.7 1112.2,175.3C1113.9,175.8 1115.8,176.2 1117.4,176.3C1119.0,176.3 1120.8,176.1 1122.0,175.6C1123.1,175.1 1123.9,173.7 1124.3,173.3" fill="none" stroke="#888" stroke-opacity="0.6" stroke-width="0.60"/><path d="M1079.6,164.0C1079.7,162.5 1079.9,159.8 1080.6,157.4C1081.2,155.1 1082.3,152.4 1083.5,150.2C1084.8,148.0 1086.3,146.0 1088.1,144.2C1089.8,142.5 1091.7,140.9 1093.9,139.6C1096.2,138.3 1099.1,137.0 1101.8,136.3C1104.5,135.6 1107.4,135.5 1110.2,135.4C1113.1,135.3 1116.0,135.6 1118.7,136.0C1121.4,136.4 1124.0,137.0 1126.5,138.0C1129.0,138.9 1131.6,140.2 1133.7,141.6C1135.8,143.0 1137.4,144.5 1138.9,146.2C1140.4,148.0 1141.9,150.2 1142.8,152.2C1143.8,154.1 1144.4,156.1 1144.6,158.1C1144.8,160.1 1144.7,162.2 1144.1,164.0C1143.6,165.9 1142.6,168.1 1141.5,169.3C1140.4,170.6 1139.3,171.0 1137.6,171.6C1136.0,172.2 1133.6,172.6 1131.8,173.0C1129.9,173.3 1127.6,173.2 1126.5,173.9C1125.5,174.7 1126.1,176.1 1125.6,177.2C1125.0,178.4 1124.2,180.1 1123.3,180.9C1122.4,181.7 1121.2,182.2 1120.0,182.2C1118.8,182.2 1117.5,181.4 1116.1,180.9C1114.7,180.3 1113.3,179.6 1111.5,178.9C1109.8,178.2 1107.7,177.6 1105.7,176.9C1103.6,176.3 1101.4,175.6 1099.2,174.9C1096.9,174.3 1094.2,173.6 1092.0,173.0C1089.8,172.4 1087.7,171.9 1086.1,171.3C1084.5,170.7 1083.2,170.1 1082.2,169.3C1081.2,168.6 1080.7,167.6 1080.3,166.7C1079.8,165.8 1079.5,165.6 1079.6,164.0Z" fill="none" stroke="#3a3a3a" stroke-width="1.6"/></g>
<g transform="scale(.5)"><g clip-path="url(#k48)"><rect x="1150" y="133" width="69" height="51" fill="#e86669"/><path fill="#f5cecf" stroke="#f5cecf" stroke-width=".6" d="M1154 137l-6 7 0 3 25-16 5 0-5 0-1 0-2 0-7 0zM1163 149l-4-1-3 8 5 3 2 0 4-3zM1177 140l0-1-4-8-3 10zM1185 169l0-4-4-4-7 8 3 1 7-1zM1214 164l-1-1-8-1 2 9 4 1 2-2zM1207 171l4 1 1 9-8 0-4-3 6-6zM1215 136l6 13-8-2-1-2z"/><path fill="#eb8083" stroke="#eb8083" stroke-width=".6" d="M1157 146l-9 3 0-5 6-7 2 3zM1176 148l0 0 0 3 0 0-7 2 0-7 0-1zM1182 154l-2 7-5-2 1-8 0 0zM1182 180l-5-3 0-7 7-1-1 10zM1185 169l0-4 4-3 6 8-1 2-2 0zM1182 180l1-1 6-1 3 3-5 5-5-6z"/><path fill="#ed8d90" stroke="#ed8d90" stroke-width=".6" d="M1158 146l1 2-3 8-1 1-7-8 9-3zM1174 169l3 1 0 7-7 1-1-2 0 0 5-7zM1189 178l3-6 2 0 5 6-1 2-6 1z"/><path fill="#f8e8e9" stroke="#f8e8e9" stroke-width=".6" d="M1155 157l-4 4-3 7 0 0 0-3 0-6 0-12 0-3 0 5zM1165 139l-2-8-9 6 2 3zM1167 156l6 4 2-1 1-8-7 2zM1221 155l0-6-7 8-1 6 1 1z"/><path fill="#ee9a9c" stroke="#ee9a9c" stroke-width=".6" d="M1157 169l0-3-6-5-3 7 7 2zM1157 169l0-3 4-7 2 0 3 6-1 2-6 3zM1167 156l6 4-2 6-5-1-3-6 4-3zM1174 169l-3-3-5-1-1 2 4 9zM1182 145l-6 3 0 3 6 3 3-1 0-5zM1183 179l1-10 1 0 7 3-3 6zM1199 137l-7 2-19-8 5 0 28 0-3 0zM1205 144l-1 2-5 3-4-2 6-7 4 3zM1198 168l-3 2-1 2 5 6 1 0 6-6zM1209 155l2 0 2-8-1-2-7-1-1 2 3 7zM1214 157l7-8 0 0-8-2-2 8z"/><path fill="#f1b4b6" stroke="#f1b4b6" stroke-width=".6" d="M1152 178l-4-10 0 0 7 2zM1161 176l-2-6-2-1-2 1-3 8 2 2 6-3zM1160 177l7 9-19 0 6-6zM1189 162l-4 3-4-4-1 0 2-7 3-1 5 2 1 1-1 4zM1199 155l0 0 0-6 5-3 3 7zM1221 173l-9 13-9 0 4 0 6-4 8-6z"/><path fill="#f3c1c3" stroke="#f3c1c3" stroke-width=".6" d="M1154 180l-6 6 0 0 0-21 0 3 4 10zM1161 176l8 0 0 0-4-9-6 3zM1185 148l5-5 3 3-3 9-5-2zM1187 186l7 0 4-6-6 1zM1221 172l0-13-37-28-11 0 5 0 28 0 8 4 1 1 6 13 0 0 0 6zM1221 173l0 3-8-6 1-6 7-9 0 17z"/><path fill="#f0a7a9" stroke="#f0a7a9" stroke-width=".6" d="M1165 139l-9 1 1 6 1 0 8-5zM1176 148l0 0 6-3-1-5-4-1 0 1zM1205 144l7 1 3-9-1-1-7 4-2 4z"/><path fill="#d2d4ea" stroke="#d2d4ea" stroke-width=".6" d="M1157 166l-6-5 4-4 1-1 5 3z"/><path fill="#faf6f6" stroke="#faf6f6" stroke-width=".6" d="M1170 141l3-10-3 0-7 0 2 8 1 2 2 1zM1182 180l-5-3-7 1-2 8 14-6zM1212 181l-8 0 3 5 6-4z"/><path fill="#f6dbdc" stroke="#f6dbdc" stroke-width=".6" d="M1169 145l0 1-6 3-4-1-1-2 8-5 2 1zM1169 146l0 7-2 3 0 0-4-7zM1174 169l7-8-1 0-5-2-2 1-2 6 3 3zM1205 143l-4-3-2-3 4-6 4 8zM1221 176l-8 6-1-1-1-9 2-2z"/><path fill="#e0252a" stroke="#e0252a" stroke-width=".6" d="M1161 176l8 0 1 2-2 8-1 0-7-9z"/><path fill="#eaeaf4" stroke="#eaeaf4" stroke-width=".6" d="M1176 148l-7-3-1-3 2-1 7-1zM1204 162l1 0 8 1 1-6-3-2-2 0z"/><path fill="#8c92cb" stroke="#8c92cb" stroke-width=".6" d="M1181 140l-4-1-4-8-3 0 2 0 13 8zM1190 141l2-2-19-8-1 0 13 8z"/><path fill="#dedfef" stroke="#dedfef" stroke-width=".6" d="M1182 180l-14 6-1 0-19 0 0 0 36 0 28 0-9 0-9 0-7 0zM1190 143l3 3 2 1 6-7-2-3-7 2-2 2z"/><path fill="#5d66b7" stroke="#5d66b7" stroke-width=".6" d="M1182 145l-1-5 4-1 5 2 0 2-5 5z"/><path fill="#e97376" stroke="#e97376" stroke-width=".6" d="M1199 155l-8 1-1-1 3-9 2 1 4 2z"/><path fill="#e33f43" stroke="#e33f43" stroke-width=".6" d="M1201 161l-3 3-8-4 1-4 8-1 0 0z"/><path fill="#e86669" stroke="#e86669" stroke-width=".6" d="M1198 164l-8-4-1 2 6 8 3-2zM1204 162l1 0 2 9-1 1-8-4 0-4 3-3zM1204 181l-4-3-1 0-1 2-4 6 9 0 4 0z"/><path fill="#e6595d" stroke="#e6595d" stroke-width=".6" d="M1204 162l5-7-2-2-8 2 2 6zM1214 135l-8-4-3 0 4 8z"/><rect x="1150" y="133" width="69" height="51" fill="url(#r49)"/><path d="M1216.6,164.0C1216.5,162.5 1216.3,159.8 1215.6,157.4C1215.0,155.1 1213.9,152.4 1212.7,150.2C1211.4,148.0 1209.9,146.0 1208.1,144.2C1206.4,142.5 1204.5,140.9 1202.3,139.6C1200.0,138.3 1197.1,137.0 1194.4,136.3C1191.7,135.6 1188.8,135.5 1186.0,135.4C1183.1,135.3 1180.2,135.6 1177.5,136.0C1174.8,136.4 1172.2,137.0 1169.7,138.0C1167.2,138.9 1164.6,140.2 1162.5,141.6C1160.4,143.0 1158.8,144.5 1157.3,146.2C1155.8,148.0 1154.3,150.2 1153.4,152.2C1152.4,154.1 1151.8,156.1 1151.6,158.1C1151.4,160.1 1151.5,162.2 1152.1,164.0C1152.6,165.9 1153.6,168.1 1154.7,169.3C1155.8,170.6 1156.9,171.0 1158.6,171.6C1160.2,172.2 1162.6,172.6 1164.4,173.0C1166.3,173.3 1168.6,173.2 1169.7,173.9C1170.7,174.7 1170.1,176.1 1170.6,177.2C1171.2,178.4 1172.0,180.1 1172.9,180.9C1173.8,181.7 1175.0,182.2 1176.2,182.2C1177.4,182.2 1178.7,181.4 1180.1,180.9C1181.5,180.3 1182.9,179.6 1184.7,178.9C1186.4,178.2 1188.5,177.6 1190.5,176.9C1192.6,176.3 1194.8,175.6 1197.0,174.9C1199.3,174.3 1202.0,173.6 1204.2,173.0C1206.4,172.4 1208.5,171.9 1210.1,171.3C1211.7,170.7 1213.0,170.1 1214.0,169.3C1215.0,168.6 1215.5,167.6 1215.9,166.7C1216.4,165.8 1216.7,165.6 1216.6,164.0Z" fill="none" stroke="#000" stroke-opacity="0.18" stroke-width="2.40"/></g><path d="M1196.1,160.4C1196.2,159.1 1195.9,157.9 1195.3,156.9C1194.7,155.8 1193.9,154.9 1192.6,154.2C1191.3,153.6 1189.4,153.3 1187.4,152.9C1185.3,152.5 1182.3,152.2 1180.4,152.0C1178.4,151.7 1177.4,151.4 1176.0,151.6C1174.5,151.7 1173.1,152.3 1171.6,152.9C1170.2,153.5 1168.7,154.1 1167.2,155.1C1165.8,156.0 1163.8,157.3 1162.8,158.6C1161.8,160.0 1161.1,161.8 1161.2,163.1C1161.4,164.3 1162.7,165.3 1163.7,166.2C1164.7,167.0 1166.2,167.3 1167.2,167.9C1168.3,168.5 1169.1,169.1 1169.9,169.7C1170.6,170.4 1171.3,171.0 1171.6,172.0C1172.0,172.9 1171.7,174.4 1172.0,175.5C1172.3,176.6 1172.7,177.9 1173.4,178.6C1174.0,179.2 1174.8,179.6 1176.0,179.5C1177.1,179.4 1178.9,178.8 1180.4,178.2C1181.8,177.6 1183.3,176.8 1184.7,175.9C1186.2,175.0 1187.8,173.9 1189.1,172.8C1190.4,171.7 1191.7,170.6 1192.6,169.3C1193.6,167.9 1194.2,166.3 1194.8,164.8C1195.4,163.4 1196.1,161.7 1196.1,160.4Z" fill="url(#g50)"/><path d="M1186.6,152.2C1186.0,152.0 1184.2,151.4 1182.7,151.2C1181.2,151.0 1179.1,150.8 1177.5,150.8C1175.9,150.9 1174.3,151.3 1172.9,151.6C1171.5,152.0 1170.2,152.6 1169.0,153.2C1167.8,153.7 1166.3,154.8 1165.7,155.1" fill="none" stroke="#111" stroke-opacity="0.85" stroke-width="0.81" stroke-linecap="round"/><path d="M1189.1,172.8C1188.2,173.2 1185.7,174.7 1184.0,175.3C1182.3,175.8 1180.4,176.2 1178.8,176.3C1177.2,176.3 1175.4,176.1 1174.2,175.6C1173.1,175.1 1172.3,173.7 1171.9,173.3" fill="none" stroke="#888" stroke-opacity="0.6" stroke-width="0.60"/><path d="M1216.6,164.0C1216.5,162.5 1216.3,159.8 1215.6,157.4C1215.0,155.1 1213.9,152.4 1212.7,150.2C1211.4,148.0 1209.9,146.0 1208.1,144.2C1206.4,142.5 1204.5,140.9 1202.3,139.6C1200.0,138.3 1197.1,137.0 1194.4,136.3C1191.7,135.6 1188.8,135.5 1186.0,135.4C1183.1,135.3 1180.2,135.6 1177.5,136.0C1174.8,136.4 1172.2,137.0 1169.7,138.0C1167.2,138.9 1164.6,140.2 1162.5,141.6C1160.4,143.0 1158.8,144.5 1157.3,146.2C1155.8,148.0 1154.3,150.2 1153.4,152.2C1152.4,154.1 1151.8,156.1 1151.6,158.1C1151.4,160.1 1151.5,162.2 1152.1,164.0C1152.6,165.9 1153.6,168.1 1154.7,169.3C1155.8,170.6 1156.9,171.0 1158.6,171.6C1160.2,172.2 1162.6,172.6 1164.4,173.0C1166.3,173.3 1168.6,173.2 1169.7,173.9C1170.7,174.7 1170.1,176.1 1170.6,177.2C1171.2,178.4 1172.0,180.1 1172.9,180.9C1173.8,181.7 1175.0,182.2 1176.2,182.2C1177.4,182.2 1178.7,181.4 1180.1,180.9C1181.5,180.3 1182.9,179.6 1184.7,178.9C1186.4,178.2 1188.5,177.6 1190.5,176.9C1192.6,176.3 1194.8,175.6 1197.0,174.9C1199.3,174.3 1202.0,173.6 1204.2,173.0C1206.4,172.4 1208.5,171.9 1210.1,171.3C1211.7,170.7 1213.0,170.1 1214.0,169.3C1215.0,168.6 1215.5,167.6 1215.9,166.7C1216.4,165.8 1216.7,165.6 1216.6,164.0Z" fill="none" stroke="#3a3a3a" stroke-width="1.6"/></g>
<g transform="scale(.5)"><g clip-path="url(#k51)"><rect x="1230" y="87" width="69" height="49" fill="#f3c1c3"/><path fill="#e6595d" stroke="#e6595d" stroke-width=".6" d="M1228 114l0-10 0-5 3-7 2-2 3-5-8 0 0 26 0 9zM1263 138l0 0 17-7-6 0-8 7z"/><path fill="#f1b4b6" stroke="#f1b4b6" stroke-width=".6" d="M1231 92l6 6-1 3-8-2zM1240 106l3-1-2-9-4 2-1 3 1 4zM1240 114l0-8-3-1-6 4 3 3 4 4zM1251 85l5 0 6 0-34 0 8 0 7 7 3 0zM1255 113l0-1-8-5-1 7 1 2zM1265 136l1 2-3 0-1 0-5-6 3-2zM1267 128l0-4-4-5-2 6 1 1zM1282 113l-2-8 1-1 6 5 0 3-1 0zM1295 107l1-5 3-2 2-3 0 1-5 11zM1293 122l8 3-5 3z"/><path fill="#ee9a9c" stroke="#ee9a9c" stroke-width=".6" d="M1231 109l-3-5 0-5 8 2 1 4zM1240 114l0-8 3-1 4 1 0 1-1 7zM1250 102l1-7 4-1-1 9zM1254 122l4 3-3 5-7-1 2-6zM1264 115l-1 0 0 0 0 4 4 5 2-3zM1265 114l3-6 1-1 4 0 1 1 1 4-3 3zM1296 114l0-5-1-2-7 0-1 2 0 3zM1286 112l1 0 9 2 0 1-4 6-4 2 0-1zM1289 129l5 1 7 8-16 0 2-8zM1296 115l5 6 0 4-8-3-1-1z"/><path fill="#f3c1c3" stroke="#f3c1c3" stroke-width=".6" d="M1228 114l0-10 3 5 3 3-6 8 0 2zM1247 106l-4-1-2-9 1-1 7 8zM1267 128l-5-2-2 4 5 6 2-8zM1265 114l7 1 1 6-4 0-5-6zM1276 123l2 0 3 7-1 1-6 0-3-3zM1282 91l0 9 6-1 2-6-4-2zM1290 93l-2 6 1 2 7 1 3-2-8-7zM1296 114l0-5 5-11 0-4 0 17 0 27 0-17-5-6z"/><path fill="#f5cecf" stroke="#f5cecf" stroke-width=".6" d="M1232 120l-4 0 6-8 4 4 0 0zM1250 102l-1 1-7-8 0-2 1-1 3 0 5 3zM1263 138l0 0 0 0-23-6 4-2 3 0 15 8zM1262 126l-1-1-3 0-3 5 2 2 3-2zM1286 91l4 2 1 0 4-4-3-4zM1292 121l1 1 3 6-2 2-5-1-1-6zM1295 89l6 8-2 3-8-7zM1296 128l-2 2 7 8 0 0 0-17 0 4z"/><path fill="#f0a7a9" stroke="#f0a7a9" stroke-width=".6" d="M1236 125l-2 5-6-8 0-2 4 0zM1228 138l0-18 0-6 0 8 6 8 1 1zM1236 125l4-2 1-2-3-5-6 4zM1257 115l6 0 0 0-1-8-6 0-1 5 0 1zM1261 125l-3 0-4-3 3-7 6 0 0 4zM1295 85l6 0-36 0-3 0-6 0 7 5 5 1 0 0zM1274 108l6-3 2 8-2 1-5-2zM1282 91l4 0 6-6 0 0-14 0 4 6zM1281 101l0 3 6 5 1-2 1-6-1-2-6 1zM1273 138l12 0 2-8-6 0-1 1-17 7 0 0zM1295 107l1-5-7-1-1 6z"/><path fill="#e97376" stroke="#e97376" stroke-width=".6" d="M1233 90l9 3 1-1-7-7zM1273 138l-10 0-23-6-5-1-7 7 37 0zM1250 102l-1 1-2 3 0 1 8 5 1-5-1-4-1 0z"/><path fill="#f6dbdc" stroke="#f6dbdc" stroke-width=".6" d="M1231 92l2-2 9 3 0 2-1 1-4 2zM1247 116l-1-2-6 0-2 2 0 0 3 5 6 0zM1257 115l-3 7-4 1-3-2 0-5 8-3zM1262 138l-15-8 1-1 7 1 2 2z"/><path fill="#eb8083" stroke="#eb8083" stroke-width=".6" d="M1240 132l4-2-4-7-4 2-2 5 1 1zM1261 100l-6 3-1 0 1-9 2-1 2 1zM1267 128l0-4 2-3 4 0 3 2-5 5-4 0zM1273 121l3 2 2 0 2-2 0-7-5-2-3 3z"/><path fill="#e33f43" stroke="#e33f43" stroke-width=".6" d="M1250 123l-2 6-1 1-3 0-4-7 1-2 6 0zM1263 101l0 5-1 1-6 0-1-4 6-3z"/><path fill="#ed8d90" stroke="#ed8d90" stroke-width=".6" d="M1251 95l-5-3 5-7 6 8-2 1zM1282 91l-7 2-2-2 5-6zM1282 113l4-1 2 10-8-1 0-7zM1292 85l3 4 6 8 0 1 0-4 0-9-6 0-3 0z"/><path fill="#f8e8e9" stroke="#f8e8e9" stroke-width=".6" d="M1259 94l-2-1-6-8 5 0 7 5zM1267 128l4 0 3 3-8 7-1-2zM1282 91l0 9-1 1-5-2-1-6 7-2z"/><path fill="#e0252a" stroke="#e0252a" stroke-width=".6" d="M1263 101l2 0 3-2 0-8-5-1-4 4 2 6z"/><path fill="#e86669" stroke="#e86669" stroke-width=".6" d="M1269 107l-4-6-2 0 0 5 5 2zM1265 114l3-6-5-2-1 1 1 8 1 0z"/><path fill="#eaeaf4" stroke="#eaeaf4" stroke-width=".6" d="M1278 85l-5 6-5 0 27-6-3 0z"/><path fill="#e44c50" stroke="#e44c50" stroke-width=".6" d="M1275 93l-2-2-5 0 0 0 0 8 5 2 3-2zM1273 107l0-6-5-2-3 2 4 6z"/><path fill="#faf6f6" stroke="#faf6f6" stroke-width=".6" d="M1274 108l6-3 1-1 0-3-5-2-3 2 0 6zM1288 122l0 1 1 6-2 1-6 0-3-7 2-2z"/><rect x="1230" y="87" width="69" height="49" fill="url(#r52)"/><path d="M1232.4,115.2C1232.4,114.1 1232.4,113.4 1232.7,112.0C1233.0,110.6 1233.4,108.5 1234.2,106.9C1235.0,105.3 1236.4,103.8 1237.5,102.5C1238.6,101.3 1239.5,100.2 1240.6,99.2C1241.7,98.2 1242.8,97.5 1244.0,96.7C1245.2,95.8 1246.3,94.9 1247.7,94.1C1249.1,93.3 1251.0,92.4 1252.6,91.8C1254.2,91.2 1255.5,90.7 1257.3,90.3C1259.1,89.8 1261.1,89.4 1263.4,89.1C1265.7,88.9 1268.5,88.5 1271.0,88.8C1273.5,89.1 1276.0,89.7 1278.5,90.7C1281.0,91.8 1283.7,93.2 1286.1,95.0C1288.4,96.8 1290.8,99.3 1292.5,101.5C1294.2,103.6 1295.5,106.2 1296.3,107.9C1297.1,109.7 1297.3,110.5 1297.4,112.0C1297.5,113.5 1297.5,115.0 1296.8,116.7C1296.2,118.4 1295.0,120.8 1293.6,122.1C1292.2,123.4 1290.2,124.0 1288.2,124.8C1286.2,125.6 1283.8,126.3 1281.8,127.0C1279.8,127.7 1278.2,128.4 1276.3,129.1C1274.4,129.8 1272.0,130.5 1270.2,131.2C1268.4,131.8 1267.3,132.4 1265.6,132.8C1263.9,133.2 1261.5,133.6 1259.9,133.6C1258.3,133.6 1257.1,133.4 1256.1,133.0C1255.0,132.6 1254.1,131.9 1253.5,131.2C1252.9,130.4 1252.8,129.0 1252.4,128.3C1252.0,127.6 1252.1,127.3 1251.2,127.1C1250.3,126.8 1248.6,126.9 1247.1,126.7C1245.5,126.5 1243.5,126.4 1241.9,126.1C1240.4,125.7 1239.0,125.5 1237.7,124.8C1236.5,124.1 1235.3,123.0 1234.5,121.9C1233.7,120.8 1233.3,119.5 1232.9,118.4C1232.6,117.3 1232.4,116.3 1232.4,115.2Z" fill="none" stroke="#000" stroke-opacity="0.18" stroke-width="2.40"/><path d="M1251.6,126.7C1252.3,126.0 1254.5,123.6 1256.1,122.2C1257.7,120.8 1259.5,119.5 1261.2,118.4C1262.9,117.3 1264.6,116.7 1266.3,115.8C1268.1,115.0 1270.0,114.1 1271.5,113.3C1273.0,112.4 1274.7,111.1 1275.3,110.7" fill="none" stroke="#000" stroke-opacity="0.45" stroke-width="0.80"/></g><path d="M1232.4,115.2C1232.4,114.1 1232.4,113.4 1232.7,112.0C1233.0,110.6 1233.4,108.5 1234.2,106.9C1235.0,105.3 1236.4,103.8 1237.5,102.5C1238.6,101.3 1239.5,100.2 1240.6,99.2C1241.7,98.2 1242.8,97.5 1244.0,96.7C1245.2,95.8 1246.3,94.9 1247.7,94.1C1249.1,93.3 1251.0,92.4 1252.6,91.8C1254.2,91.2 1255.5,90.7 1257.3,90.3C1259.1,89.8 1261.1,89.4 1263.4,89.1C1265.7,88.9 1268.5,88.5 1271.0,88.8C1273.5,89.1 1276.0,89.7 1278.5,90.7C1281.0,91.8 1283.7,93.2 1286.1,95.0C1288.4,96.8 1290.8,99.3 1292.5,101.5C1294.2,103.6 1295.5,106.2 1296.3,107.9C1297.1,109.7 1297.3,110.5 1297.4,112.0C1297.5,113.5 1297.5,115.0 1296.8,116.7C1296.2,118.4 1295.0,120.8 1293.6,122.1C1292.2,123.4 1290.2,124.0 1288.2,124.8C1286.2,125.6 1283.8,126.3 1281.8,127.0C1279.8,127.7 1278.2,128.4 1276.3,129.1C1274.4,129.8 1272.0,130.5 1270.2,131.2C1268.4,131.8 1267.3,132.4 1265.6,132.8C1263.9,133.2 1261.5,133.6 1259.9,133.6C1258.3,133.6 1257.1,133.4 1256.1,133.0C1255.0,132.6 1254.1,131.9 1253.5,131.2C1252.9,130.4 1252.8,129.0 1252.4,128.3C1252.0,127.6 1252.1,127.3 1251.2,127.1C1250.3,126.8 1248.6,126.9 1247.1,126.7C1245.5,126.5 1243.5,126.4 1241.9,126.1C1240.4,125.7 1239.0,125.5 1237.7,124.8C1236.5,124.1 1235.3,123.0 1234.5,121.9C1233.7,120.8 1233.3,119.5 1232.9,118.4C1232.6,117.3 1232.4,116.3 1232.4,115.2Z" fill="none" stroke="#3a3a3a" stroke-width="1.6"/></g>
<g transform="scale(.5)"><g clip-path="url(#k53)"><rect x="1302" y="87" width="69" height="49" fill="#f1b4b6"/><path fill="#f0a7a9" stroke="#f0a7a9" stroke-width=".6" d="M1300 101l0 1 0-17 0 0 0 0 0 0 7 8 0 0zM1307 133l3 5 5-6-1-3-6 0zM1325 138l6 0-21 0-1 0 1 0 5-6 3 0zM1329 124l-4-4-6 3 3 5 3 1 0-1zM1322 128l-4 4 7 6 0-9zM1337 100l-6-3-4 2-1 4 0 1 9 2 0-1zM1349 112l5 0-2-4-5-2-1 2zM1359 115l4-5-2-10-1 0-2 1-3 12 2 2zM1373 94l-6-4 0 0 1 8z"/><path fill="#f6dbdc" stroke="#f6dbdc" stroke-width=".6" d="M1300 102l6-2 1-7-7 8zM1346 117l3-5 5 0 1 1 2 2-9 8 0 0-1 0-1-2zM1357 130l3-1 2-3-3-4-5 4zM1367 132l0 0-1 6 7 0 0 0 0-16 0 3z"/><path fill="#ee9a9c" stroke="#ee9a9c" stroke-width=".6" d="M1300 102l5 4 4-5-3-1zM1312 116l1-6-3-1-3 0-3 6 1 2zM1319 115l0 8-4 0 0 0-2-7zM1322 128l-4 4-3 0-1-3 1-6 4 0 0 0zM1327 115l-7-2-1 2 0 8 0 0 6-3zM1325 128l0 1 0 9 6 0 3 0-2-6zM1339 128l8-5 1 0 0 6-3 4-3 1zM1360 129l7 3 0 0-3-6-2 0z"/><path fill="#f1b4b6" stroke="#f1b4b6" stroke-width=".6" d="M1300 102l5 4 2 3-3 6-4-13 0-1zM1307 133l-7-3 6-7 2 6zM1334 123l0 0-4-9-1 0-2 1-2 5 4 4zM1334 123l-5 1-4 4 7 4 3-5zM1341 112l1-2 4-2 3 4-3 5zM1357 130l-3-4-6-3 0 0 0 6 6 5 3-3zM1350 93l2-1 8 1 0 7-2 1-2 0zM1358 85l-4 0 19 0 0 0-6 5 0 0-6 0zM1360 100l1 0 5 0 2-2-1-8-6 0-1 3zM1359 115l4-5 6 0 1 4-4 4-7-2zM1357 130l3-1 7 3-1 6-9-7zM1370 114l3 8 0 3-6-3-1-4z"/><path fill="#e13236" stroke="#e13236" stroke-width=".6" d="M1300 130l0 8 0-27 0-26 0 17 4 13 1 2 2 6-1 0zM1334 91l5 2 1 6-3 1-6-3 0-2zM1348 93l-2-4-3 1-4 3 1 6 2 1 2 0z"/><path fill="#f5cecf" stroke="#f5cecf" stroke-width=".6" d="M1307 133l-7-3 0 8 9 0 1 0zM1306 100l3 1 2 0 2-1-1-6-5-1 0 0zM1309 101l-4 5 2 3 3 0 1-8zM1327 99l-1 4-8-1-1-1 3-8 1-1 1 1zM1350 93l2-1 6-7-4 0-8 4 2 4zM1359 122l0-6 7 2 1 4-3 4-2 0z"/><path fill="#f3c1c3" stroke="#f3c1c3" stroke-width=".6" d="M1307 93l-7-8 14 8-2 1zM1312 94l2-1 6 0-3 8-4-1zM1313 100l4 1 1 1-1 8-4 0-3-1 1-8zM1331 95l0 2-4 2-5-6 6-2zM1352 92l6-7 3 5-1 3zM1354 126l5-4 0-6 0-1-2 0-9 8zM1357 131l9 7 7 0 0 0-21 0 2-4zM1373 94l-5 4-2 2 5 6 2-21z"/><path fill="#ed8d90" stroke="#ed8d90" stroke-width=".6" d="M1313 116l-1 0-7 1 2 6 8 0zM1315 123l-1 6-6 0-2-6 1 0 8 0zM1314 93l-14-8 0 0 24 0-3 7-1 1zM1326 104l0 1-7 6-2-1 1-8 8 1zM1330 114l4-2 1-6-9-2 0 1 3 9zM1330 114l4-2 4 1 0 7-4 3zM1335 127l4 1 3 6-8 4-2-6zM1356 101l2 0-3 12-1-1-2-4 1-6zM1369 110l2-4-5-6-5 0 2 10zM1373 94l-6-4 6-5 0 0 0 0zM1370 114l3 8 0 16 0-27 0-26 0 0-2 21-2 4z"/><path fill="#eb8083" stroke="#eb8083" stroke-width=".6" d="M1319 115l1-2-1-2-2-1-4 0-1 6 1 0zM1330 85l-6 0-3 7 1 1 6-2zM1333 85l10 5 3-1 8-4 19 0-36 0-37 0 0 0 24 0 6 0zM1338 113l0 7 8 1 0-4-5-5zM1347 103l0 3 5 2 1-6zM1354 134l-2 4-7-5 3-4z"/><path fill="#f8e8e9" stroke="#f8e8e9" stroke-width=".6" d="M1329 114l-3-9-7 6 1 2 7 2zM1364 126l3 6 6-7-6-3z"/><path fill="#e0252a" stroke="#e0252a" stroke-width=".6" d="M1333 85l1 6-3 4-3-4 2-6z"/><path fill="#e44c50" stroke="#e44c50" stroke-width=".6" d="M1333 85l10 5-4 3-5-2zM1346 108l1-2 0-3-3-3-2 0-2 7 2 3z"/><path fill="#e33f43" stroke="#e33f43" stroke-width=".6" d="M1340 99l-3 1-2 5 5 2 2-7zM1338 113l-4-1 1-6 0-1 5 2 2 3-1 2z"/><path fill="#eaeaf4" stroke="#eaeaf4" stroke-width=".6" d="M1334 123l0 0 4-3 8 1 1 2-8 5-4-1z"/><path fill="#e86669" stroke="#e86669" stroke-width=".6" d="M1334 138l-3 0-21 0 27 0 36 0-21 0-7-5-3 1z"/><path fill="#e6595d" stroke="#e6595d" stroke-width=".6" d="M1350 93l6 8-3 1-6 1-3-3 4-7z"/><rect x="1302" y="87" width="69" height="49" fill="url(#r54)"/><path d="M1369.4,115.2C1369.4,114.1 1369.4,113.4 1369.1,112.0C1368.8,110.6 1368.4,108.5 1367.6,106.9C1366.8,105.3 1365.4,103.8 1364.3,102.5C1363.2,101.3 1362.3,100.2 1361.2,99.2C1360.1,98.2 1359.0,97.5 1357.8,96.7C1356.6,95.8 1355.5,94.9 1354.1,94.1C1352.7,93.3 1350.8,92.4 1349.2,91.8C1347.6,91.2 1346.3,90.7 1344.5,90.3C1342.7,89.8 1340.7,89.4 1338.4,89.1C1336.1,88.9 1333.3,88.5 1330.8,88.8C1328.3,89.1 1325.8,89.7 1323.3,90.7C1320.8,91.8 1318.1,93.2 1315.7,95.0C1313.4,96.8 1311.0,99.3 1309.3,101.5C1307.6,103.6 1306.3,106.2 1305.5,107.9C1304.7,109.7 1304.5,110.5 1304.4,112.0C1304.3,113.5 1304.3,115.0 1305.0,116.7C1305.6,118.4 1306.8,120.8 1308.2,122.1C1309.6,123.4 1311.6,124.0 1313.6,124.8C1315.6,125.6 1318.0,126.3 1320.0,127.0C1322.0,127.7 1323.6,128.4 1325.5,129.1C1327.4,129.8 1329.8,130.5 1331.6,131.2C1333.4,131.8 1334.5,132.4 1336.2,132.8C1337.9,133.2 1340.3,133.6 1341.9,133.6C1343.5,133.6 1344.7,133.4 1345.7,133.0C1346.8,132.6 1347.7,131.9 1348.3,131.2C1348.9,130.4 1349.0,129.0 1349.4,128.3C1349.8,127.6 1349.7,127.3 1350.6,127.1C1351.5,126.8 1353.2,126.9 1354.7,126.7C1356.3,126.5 1358.3,126.4 1359.9,126.1C1361.4,125.7 1362.8,125.5 1364.1,124.8C1365.3,124.1 1366.5,123.0 1367.3,121.9C1368.1,120.8 1368.5,119.5 1368.9,118.4C1369.2,117.3 1369.4,116.3 1369.4,115.2Z" fill="none" stroke="#000" stroke-opacity="0.18" stroke-width="2.40"/><path d="M1350.2,126.7C1349.5,126.0 1347.3,123.6 1345.7,122.2C1344.1,120.8 1342.3,119.5 1340.6,118.4C1338.9,117.3 1337.2,116.7 1335.5,115.8C1333.7,115.0 1331.8,114.1 1330.3,113.3C1328.8,112.4 1327.1,111.1 1326.5,110.7" fill="none" stroke="#000" stroke-opacity="0.45" stroke-width="0.80"/></g><path d="M1369.4,115.2C1369.4,114.1 1369.4,113.4 1369.1,112.0C1368.8,110.6 1368.4,108.5 1367.6,106.9C1366.8,105.3 1365.4,103.8 1364.3,102.5C1363.2,101.3 1362.3,100.2 1361.2,99.2C1360.1,98.2 1359.0,97.5 1357.8,96.7C1356.6,95.8 1355.5,94.9 1354.1,94.1C1352.7,93.3 1350.8,92.4 1349.2,91.8C1347.6,91.2 1346.3,90.7 1344.5,90.3C1342.7,89.8 1340.7,89.4 1338.4,89.1C1336.1,88.9 1333.3,88.5 1330.8,88.8C1328.3,89.1 1325.8,89.7 1323.3,90.7C1320.8,91.8 1318.1,93.2 1315.7,95.0C1313.4,96.8 1311.0,99.3 1309.3,101.5C1307.6,103.6 1306.3,106.2 1305.5,107.9C1304.7,109.7 1304.5,110.5 1304.4,112.0C1304.3,113.5 1304.3,115.0 1305.0,116.7C1305.6,118.4 1306.8,120.8 1308.2,122.1C1309.6,123.4 1311.6,124.0 1313.6,124.8C1315.6,125.6 1318.0,126.3 1320.0,127.0C1322.0,127.7 1323.6,128.4 1325.5,129.1C1327.4,129.8 1329.8,130.5 1331.6,131.2C1333.4,131.8 1334.5,132.4 1336.2,132.8C1337.9,133.2 1340.3,133.6 1341.9,133.6C1343.5,133.6 1344.7,133.4 1345.7,133.0C1346.8,132.6 1347.7,131.9 1348.3,131.2C1348.9,130.4 1349.0,129.0 1349.4,128.3C1349.8,127.6 1349.7,127.3 1350.6,127.1C1351.5,126.8 1353.2,126.9 1354.7,126.7C1356.3,126.5 1358.3,126.4 1359.9,126.1C1361.4,125.7 1362.8,125.5 1364.1,124.8C1365.3,124.1 1366.5,123.0 1367.3,121.9C1368.1,120.8 1368.5,119.5 1368.9,118.4C1369.2,117.3 1369.4,116.3 1369.4,115.2Z" fill="none" stroke="#3a3a3a" stroke-width="1.6"/></g>
<g transform="scale(.5)"><g clip-path="url(#k55)"><rect x="1230" y="133" width="69" height="51" fill="#faf6f6"/><path fill="#ed8d90" stroke="#ed8d90" stroke-width=".6" d="M1233 140l-5 4 0-10 0-3 7 6zM1250 149l6 0 0 4-7 3-2-2zM1256 149l0 4 2 3 6 1 2-2-1-7-8 1zM1267 140l3-1 9-8-11 0-3 0-37 0 23 0 5 0 10 8zM1284 146l0-2-7-3-3 1 0 2 6 4zM1276 179l6 7 5-8-8-2zM1294 178l7 8 0 0 0-9-6-1z"/><path fill="#eb8083" stroke="#eb8083" stroke-width=".6" d="M1233 140l-5 4 0 9 5-4 3-3zM1230 169l-2 5 0 10 0-25 0-25 0 10 0 9 5 5zM1236 170l2 6-3 5-7-7 2-5zM1246 180l-4 6-7-5 3-5 2 0zM1250 149l-3 5-4 0-1-1-2-6 2-1 6 0zM1255 180l-12 6 5 0 17 0 33 0-19 0-13 0-7-5-3-2zM1257 139l-1-8 10 8z"/><path fill="#f5cecf" stroke="#f5cecf" stroke-width=".6" d="M1234 158l1-2-2-7-5 4 5 5zM1250 149l6 0 1 0-1-9-3 0-2 1-3 5zM1278 161l2 1 1 7-2 1-7-1 0 0-1-4 2-3zM1282 186l5-8 0 0 7 0 7 8-3 0-19 0z"/><path fill="#f0a7a9" stroke="#f0a7a9" stroke-width=".6" d="M1237 169l2-7-5-4-1 0-3 11 6 1zM1244 137l2-6 5 0-23 0 0 0 7 6zM1248 146l3-5-7-3-2 8zM1248 177l-1-5-7 4 6 4zM1257 139l-1-8-5 0-5 0 7 9 3 0zM1274 152l-1-3-8-1 0 0 1 7 5 1zM1266 178l0 0-3-6 9-3 0 0-1 8zM1277 153l3-5-6-4-1 5 1 3zM1279 154l6 0 1 1-1 5-5 2-2-1zM1286 155l6-1 1 1 0 9-4 0-4-4zM1295 170l0 0 0 6-1 2-7 0 0-6z"/><path fill="#f3c1c3" stroke="#f3c1c3" stroke-width=".6" d="M1242 186l-7-5-7-7 0 10 20 2-5 0zM1248 177l7 3-12 6-1 0 4-6zM1256 153l-7 3 1 5 3 1 1 0 4-6zM1257 174l4-3 2 1 3 6-7 3-3-2zM1285 142l-3-9 1-2 8 6 0 2z"/><path fill="#ee9a9c" stroke="#ee9a9c" stroke-width=".6" d="M1240 147l-4-1-3-6 2-3 9 0 0 1-2 8zM1283 131l8 6 10-6-33 0 11 0zM1284 146l10 1 0-1 0-5-3-2-6 3-1 2 0 2zM1295 165l-2-1-4 0-4 5 2 3 8-2zM1291 139l0-2 10-6 0 0-7 10zM1295 176l6 1-6-7z"/><path fill="#e6595d" stroke="#e6595d" stroke-width=".6" d="M1240 147l-4-1-3 3 2 7 7-3zM1257 149l-1-9 1-1 9 0 1 1-2 8 0 0zM1274 179l2 0 3-3 0-6-7-1-1 8zM1284 146l10 1-2 7-6 1-1-1z"/><path fill="#e33f43" stroke="#e33f43" stroke-width=".6" d="M1242 153l-7 3-1 2 5 4 4-1 0-7z"/><path fill="#f6dbdc" stroke="#f6dbdc" stroke-width=".6" d="M1237 169l7 0 1-7-2-1-4 1zM1244 138l7 3 2-1-7-9-2 6zM1280 162l1 7 4 0 4-5-4-4z"/><path fill="#eaeaf4" stroke="#eaeaf4" stroke-width=".6" d="M1247 172l0 0-3-3-7 0-1 1 2 6 2 0z"/><path fill="#e86669" stroke="#e86669" stroke-width=".6" d="M1243 154l0 7 2 1 5-1-1-5-2-2zM1273 149l-8-1 2-8 3-1 4 3 0 2zM1295 165l6-7-8-3 0 9z"/><path fill="#f1b4b6" stroke="#f1b4b6" stroke-width=".6" d="M1247 172l-3-3 1-7 5-1 3 1-3 8zM1268 186l-2 0-7-5 7-3 0 0zM1266 164l5 1 1 4-9 3-2-1 0-3zM1268 186l6-7-3-2-5 1zM1279 154l-1 7-5 1-2-6 3-4 3 1zM1268 186l-2 0 13 0 3 0-6-7-2 0z"/><path fill="#faf6f6" stroke="#faf6f6" stroke-width=".6" d="M1250 170l3-8 1 0 4 2 3 4 0 3-4 3zM1248 177l7 3 1-1 1-5-7-4-3 2 0 0zM1294 147l-2 7 1 1 8 3 0-3-7-9zM1295 165l6-7 0-3 0-18 0 22 0 27 0-9-6-7 0 0z"/><path fill="#e97376" stroke="#e97376" stroke-width=".6" d="M1258 156l-4 6 4 2 6-4 0-3zM1264 160l-6 4 3 4 5-4zM1271 156l-5-1-2 2 0 3 2 4 5 1 2-3zM1282 133l-5 8-3 1-4-3 9-8 4 0zM1279 154l6 0-1-8 0 0-4 2-3 5z"/><path fill="#f8e8e9" stroke="#f8e8e9" stroke-width=".6" d="M1284 144l-7-3 5-8 3 9zM1294 141l7-10 0 6 0 18-7-9z"/><path fill="#e44c50" stroke="#e44c50" stroke-width=".6" d="M1285 169l-4 0-2 1 0 6 8 2 0 0 0-6z"/><rect x="1230" y="133" width="69" height="51" fill="url(#r56)"/><path d="M1232.4,164.0C1232.5,162.5 1232.7,159.8 1233.4,157.4C1234.0,155.1 1235.1,152.4 1236.3,150.2C1237.6,148.0 1239.1,146.0 1240.9,144.2C1242.6,142.5 1244.5,140.9 1246.7,139.6C1249.0,138.3 1251.9,137.0 1254.6,136.3C1257.3,135.6 1260.2,135.5 1263.0,135.4C1265.9,135.3 1268.8,135.6 1271.5,136.0C1274.2,136.4 1276.8,137.0 1279.3,138.0C1281.8,138.9 1284.4,140.2 1286.5,141.6C1288.6,143.0 1290.2,144.5 1291.7,146.2C1293.2,148.0 1294.7,150.2 1295.6,152.2C1296.6,154.1 1297.2,156.1 1297.4,158.1C1297.6,160.1 1297.5,162.2 1296.9,164.0C1296.4,165.9 1295.4,168.1 1294.3,169.3C1293.2,170.6 1292.1,171.0 1290.4,171.6C1288.8,172.2 1286.4,172.6 1284.6,173.0C1282.7,173.3 1280.4,173.2 1279.3,173.9C1278.3,174.7 1278.9,176.1 1278.4,177.2C1277.8,178.4 1277.0,180.1 1276.1,180.9C1275.2,181.7 1274.0,182.2 1272.8,182.2C1271.6,182.2 1270.3,181.4 1268.9,180.9C1267.5,180.3 1266.1,179.6 1264.3,178.9C1262.6,178.2 1260.5,177.6 1258.5,176.9C1256.4,176.3 1254.2,175.6 1252.0,174.9C1249.7,174.3 1247.0,173.6 1244.8,173.0C1242.6,172.4 1240.5,171.9 1238.9,171.3C1237.3,170.7 1236.0,170.1 1235.0,169.3C1234.0,168.6 1233.5,167.6 1233.1,166.7C1232.6,165.8 1232.3,165.6 1232.4,164.0Z" fill="none" stroke="#000" stroke-opacity="0.18" stroke-width="2.40"/></g><path d="M1252.9,160.4C1252.8,159.1 1253.1,157.9 1253.7,156.9C1254.3,155.8 1255.1,154.9 1256.4,154.2C1257.7,153.6 1259.6,153.3 1261.6,152.9C1263.7,152.5 1266.7,152.2 1268.6,152.0C1270.6,151.7 1271.6,151.4 1273.0,151.6C1274.5,151.7 1275.9,152.3 1277.4,152.9C1278.8,153.5 1280.3,154.1 1281.8,155.1C1283.2,156.0 1285.2,157.3 1286.2,158.6C1287.2,160.0 1287.9,161.8 1287.8,163.1C1287.6,164.3 1286.3,165.3 1285.3,166.2C1284.3,167.0 1282.8,167.3 1281.8,167.9C1280.7,168.5 1279.9,169.1 1279.1,169.7C1278.4,170.4 1277.7,171.0 1277.4,172.0C1277.0,172.9 1277.3,174.4 1277.0,175.5C1276.7,176.6 1276.3,177.9 1275.6,178.6C1275.0,179.2 1274.2,179.6 1273.0,179.5C1271.9,179.4 1270.1,178.8 1268.6,178.2C1267.2,177.6 1265.7,176.8 1264.3,175.9C1262.8,175.0 1261.2,173.9 1259.9,172.8C1258.6,171.7 1257.3,170.6 1256.4,169.3C1255.4,167.9 1254.8,166.3 1254.2,164.8C1253.6,163.4 1252.9,161.7 1252.9,160.4Z" fill="url(#g57)"/><path d="M1262.4,152.2C1263.0,152.0 1264.8,151.4 1266.3,151.2C1267.8,151.0 1269.9,150.8 1271.5,150.8C1273.1,150.9 1274.7,151.3 1276.1,151.6C1277.5,152.0 1278.8,152.6 1280.0,153.2C1281.2,153.7 1282.7,154.8 1283.3,155.1" fill="none" stroke="#111" stroke-opacity="0.85" stroke-width="0.81" stroke-linecap="round"/><path d="M1259.9,172.8C1260.8,173.2 1263.3,174.7 1265.0,175.3C1266.7,175.8 1268.6,176.2 1270.2,176.3C1271.8,176.3 1273.6,176.1 1274.8,175.6C1275.9,175.1 1276.7,173.7 1277.1,173.3" fill="none" stroke="#888" stroke-opacity="0.6" stroke-width="0.60"/><path d="M1232.4,164.0C1232.5,162.5 1232.7,159.8 1233.4,157.4C1234.0,155.1 1235.1,152.4 1236.3,150.2C1237.6,148.0 1239.1,146.0 1240.9,144.2C1242.6,142.5 1244.5,140.9 1246.7,139.6C1249.0,138.3 1251.9,137.0 1254.6,136.3C1257.3,135.6 1260.2,135.5 1263.0,135.4C1265.9,135.3 1268.8,135.6 1271.5,136.0C1274.2,136.4 1276.8,137.0 1279.3,138.0C1281.8,138.9 1284.4,140.2 1286.5,141.6C1288.6,143.0 1290.2,144.5 1291.7,146.2C1293.2,148.0 1294.7,150.2 1295.6,152.2C1296.6,154.1 1297.2,156.1 1297.4,158.1C1297.6,160.1 1297.5,162.2 1296.9,164.0C1296.4,165.9 1295.4,168.1 1294.3,169.3C1293.2,170.6 1292.1,171.0 1290.4,171.6C1288.8,172.2 1286.4,172.6 1284.6,173.0C1282.7,173.3 1280.4,173.2 1279.3,173.9C1278.3,174.7 1278.9,176.1 1278.4,177.2C1277.8,178.4 1277.0,180.1 1276.1,180.9C1275.2,181.7 1274.0,182.2 1272.8,182.2C1271.6,182.2 1270.3,181.4 1268.9,180.9C1267.5,180.3 1266.1,179.6 1264.3,178.9C1262.6,178.2 1260.5,177.6 1258.5,176.9C1256.4,176.3 1254.2,175.6 1252.0,174.9C1249.7,174.3 1247.0,173.6 1244.8,173.0C1242.6,172.4 1240.5,171.9 1238.9,171.3C1237.3,170.7 1236.0,170.1 1235.0,169.3C1234.0,168.6 1233.5,167.6 1233.1,166.7C1232.6,165.8 1232.3,165.6 1232.4,164.0Z" fill="none" stroke="#3a3a3a" stroke-width="1.6"/></g>
<g transform="scale(.5)"><g clip-path="url(#k58)"><rect x="1302" y="133" width="69" height="51" fill="#f5cecf"/><path fill="#eb8083" stroke="#eb8083" stroke-width=".6" d="M1300 168l0 3 0-12 5-28 9 0-8 6-6 19 0 9zM1337 159l6 3 3-2 0-3-3-2-5 1zM1357 140l0-1-7-8-4 3 9 6z"/><path fill="#ed8d90" stroke="#ed8d90" stroke-width=".6" d="M1303 148l-3 3 0 5 6-19 1 3zM1303 148l4-8 8 3 1 2-9 4zM1324 180l4 0 17 6 1 0-5 0-22 0zM1337 138l13-7 2 0 0 0-22 7 1 1 5-1zM1338 156l-1 0 1-9 2-1 1 0 3 4-1 5zM1358 177l-6 2-3-3 3-4 6 0 1 4zM1358 177l-10 9 0 0 4-7zM1364 158l5-3 3 1-4 11-3-3zM1366 179l3-1 4 8-32 0 0 0 5 0 2 0z"/><path fill="#f1b4b6" stroke="#f1b4b6" stroke-width=".6" d="M1303 148l-3 3 5 7 6-4-4-5zM1300 169l0-4 0-9 0-5 5 7 2 4zM1313 170l1 6-1 3-5 2-1 0-4-10 8-1zM1316 165l0 2 8 3 1-1 0-1-4-7zM1313 170l1 6 7 0 3-6-8-3zM1321 158l3-4 5-3 1 3-2 6-6-1zM1324 170l1-1 6 3-2 7-1 1-4 0-3-4zM1348 186l0 0-2 0-1 0-8-5 2-5 5 1 1 0 3 9zM1357 140l2 9-1 1-7-3 0-4 4-3zM1349 150l2-3 7 3-1 5-3 1-2-1zM1359 157l-1 9 7-2-1-6z"/><path fill="#ee9a9c" stroke="#ee9a9c" stroke-width=".6" d="M1311 170l-8 1-3-2 7-7 1 1zM1316 142l-1 1-8-3-1-3 8-6 2 0zM1313 160l-5 3 3 7 2 0 3-3 0-2zM1315 155l3-8 6 7-3 4zM1321 176l3 4-5 6-6-7 1-3zM1330 138l-7-3-7-4-2 0-9 0 32 0 25 0-10 0zM1338 147l-9 0 0 4 1 3 7 2zM1335 171l4 5-2 5-8-2 2-7zM1350 131l0 0-13 7 8-1 1-3zM1351 164l-2 4 3 4 6 0 0-1 0-5-6-2zM1359 176l7 3 3-1-1-9-10 2 0 1z"/><path fill="#f0a7a9" stroke="#f0a7a9" stroke-width=".6" d="M1303 171l4 10-7-13 0-3 0 4zM1315 155l3-8 0 0-2-2-9 4 4 5 3 1zM1319 186l22 0 0 0-4 0-37 0 8-5 5-2zM1331 139l-3 7-3 0-3-7 1-4 7 3zM1334 163l-5-2-4 7 0 1 6 3 4-1 1-2zM1343 155l1-5 5 0 3 5-6 2zM1346 157l6-2 2 1-2 8-1 0-5-4zM1364 139l-7 0 0 1 2 9 6-1z"/><path fill="#f3c1c3" stroke="#f3c1c3" stroke-width=".6" d="M1307 181l-7-13 0 3 0 15 8-5zM1322 139l-6 3 0-11 7 4zM1329 179l8 2 8 5-17-6zM1337 159l-3 4 2 6 6-2 1-5zM1344 150l-3-4 5-5 5 2 0 4-2 3zM1373 141l0-10 0 23-1 2-3-1-3-7z"/><path fill="#e97376" stroke="#e97376" stroke-width=".6" d="M1314 155l-3-1-6 4 2 4 1 1 5-3zM1342 167l3 1-1 9-5-1-4-5 1-2zM1354 156l3-1 2 2-1 9 0 0-6-2zM1359 157l-2-2 1-5 1-1 6-1 1 0 3 7-5 3zM1368 167l0 1 5-14-1 2z"/><path fill="#f5cecf" stroke="#f5cecf" stroke-width=".6" d="M1322 139l-6 3-1 1 1 2 2 2 7-1zM1315 155l6 3 1 1-1 2-5 4-3-5 1-5zM1322 159l6 1 1 1-4 7-4-7zM1343 162l-1 5 3 1 4 0 2-4-5-4zM1352 179l-4 7-3-9 4-1zM1364 139l-7 0-7-8 0 0 2 0 14 7zM1366 138l-14-7 0 0 10 0 11 0 0 0 0 10zM1364 139l1 9 1 0 7-7-7-3z"/><path fill="#faf6f6" stroke="#faf6f6" stroke-width=".6" d="M1329 151l-5 3-6-7 0 0 7-1 3 0 1 1z"/><path fill="#e86669" stroke="#e86669" stroke-width=".6" d="M1340 146l-4-8-5 1-3 7 1 1 9 0zM1368 169l0-1 5-14 0-23 0 0 0 28 0 27-4-8z"/><path fill="#f8e8e9" stroke="#f8e8e9" stroke-width=".6" d="M1337 159l-3 4-5-2-1-1 2-6 7 2 1 0zM1349 168l3 4-3 4-4 1-1 0 1-9zM1358 177l-10 9 0 0 18-7-7-3z"/><path fill="#e33f43" stroke="#e33f43" stroke-width=".6" d="M1341 146l5-5-1-4-8 1-1 0 4 8z"/><path fill="#e6595d" stroke="#e6595d" stroke-width=".6" d="M1355 140l-9-6-1 3 1 4 5 2z"/><path fill="#f6dbdc" stroke="#f6dbdc" stroke-width=".6" d="M1358 166l0 0 0 5 10-2 0-1 0-1-3-3z"/><rect x="1302" y="133" width="69" height="51" fill="url(#r59)"/><path d="M1369.4,164.0C1369.3,162.5 1369.1,159.8 1368.4,157.4C1367.8,155.1 1366.7,152.4 1365.5,150.2C1364.2,148.0 1362.7,146.0 1360.9,144.2C1359.2,142.5 1357.3,140.9 1355.1,139.6C1352.8,138.3 1349.9,137.0 1347.2,136.3C1344.5,135.6 1341.6,135.5 1338.8,135.4C1335.9,135.3 1333.0,135.6 1330.3,136.0C1327.6,136.4 1325.0,137.0 1322.5,138.0C1320.0,138.9 1317.4,140.2 1315.3,141.6C1313.2,143.0 1311.6,144.5 1310.1,146.2C1308.6,148.0 1307.1,150.2 1306.2,152.2C1305.2,154.1 1304.6,156.1 1304.4,158.1C1304.2,160.1 1304.3,162.2 1304.9,164.0C1305.4,165.9 1306.4,168.1 1307.5,169.3C1308.6,170.6 1309.7,171.0 1311.4,171.6C1313.0,172.2 1315.4,172.6 1317.2,173.0C1319.1,173.3 1321.4,173.2 1322.5,173.9C1323.5,174.7 1322.9,176.1 1323.4,177.2C1324.0,178.4 1324.8,180.1 1325.7,180.9C1326.6,181.7 1327.8,182.2 1329.0,182.2C1330.2,182.2 1331.5,181.4 1332.9,180.9C1334.3,180.3 1335.7,179.6 1337.5,178.9C1339.2,178.2 1341.3,177.6 1343.3,176.9C1345.4,176.3 1347.6,175.6 1349.8,174.9C1352.1,174.3 1354.8,173.6 1357.0,173.0C1359.2,172.4 1361.3,171.9 1362.9,171.3C1364.5,170.7 1365.8,170.1 1366.8,169.3C1367.8,168.6 1368.3,167.6 1368.7,166.7C1369.2,165.8 1369.5,165.6 1369.4,164.0Z" fill="none" stroke="#000" stroke-opacity="0.18" stroke-width="2.40"/></g><path d="M1348.9,160.4C1349.0,159.1 1348.7,157.9 1348.1,156.9C1347.5,155.8 1346.7,154.9 1345.4,154.2C1344.1,153.6 1342.2,153.3 1340.2,152.9C1338.1,152.5 1335.1,152.2 1333.2,152.0C1331.2,151.7 1330.2,151.4 1328.8,151.6C1327.3,151.7 1325.9,152.3 1324.4,152.9C1323.0,153.5 1321.5,154.1 1320.0,155.1C1318.6,156.0 1316.6,157.3 1315.6,158.6C1314.6,160.0 1313.9,161.8 1314.0,163.1C1314.2,164.3 1315.5,165.3 1316.5,166.2C1317.5,167.0 1319.0,167.3 1320.0,167.9C1321.1,168.5 1321.9,169.1 1322.7,169.7C1323.4,170.4 1324.1,171.0 1324.4,172.0C1324.8,172.9 1324.5,174.4 1324.8,175.5C1325.1,176.6 1325.5,177.9 1326.2,178.6C1326.8,179.2 1327.6,179.6 1328.8,179.5C1329.9,179.4 1331.7,178.8 1333.2,178.2C1334.6,177.6 1336.1,176.8 1337.5,175.9C1339.0,175.0 1340.6,173.9 1341.9,172.8C1343.2,171.7 1344.5,170.6 1345.4,169.3C1346.4,167.9 1347.0,166.3 1347.6,164.8C1348.2,163.4 1348.9,161.7 1348.9,160.4Z" fill="url(#g60)"/><path d="M1339.4,152.2C1338.8,152.0 1337.0,151.4 1335.5,151.2C1334.0,151.0 1331.9,150.8 1330.3,150.8C1328.7,150.9 1327.1,151.3 1325.7,151.6C1324.3,152.0 1323.0,152.6 1321.8,153.2C1320.6,153.7 1319.1,154.8 1318.5,155.1" fill="none" stroke="#111" stroke-opacity="0.85" stroke-width="0.81" stroke-linecap="round"/><path d="M1341.9,172.8C1341.0,173.2 1338.5,174.7 1336.8,175.3C1335.1,175.8 1333.2,176.2 1331.6,176.3C1330.0,176.3 1328.2,176.1 1327.0,175.6C1325.9,175.1 1325.1,173.7 1324.7,173.3" fill="none" stroke="#888" stroke-opacity="0.6" stroke-width="0.60"/><path d="M1369.4,164.0C1369.3,162.5 1369.1,159.8 1368.4,157.4C1367.8,155.1 1366.7,152.4 1365.5,150.2C1364.2,148.0 1362.7,146.0 1360.9,144.2C1359.2,142.5 1357.3,140.9 1355.1,139.6C1352.8,138.3 1349.9,137.0 1347.2,136.3C1344.5,135.6 1341.6,135.5 1338.8,135.4C1335.9,135.3 1333.0,135.6 1330.3,136.0C1327.6,136.4 1325.0,137.0 1322.5,138.0C1320.0,138.9 1317.4,140.2 1315.3,141.6C1313.2,143.0 1311.6,144.5 1310.1,146.2C1308.6,148.0 1307.1,150.2 1306.2,152.2C1305.2,154.1 1304.6,156.1 1304.4,158.1C1304.2,160.1 1304.3,162.2 1304.9,164.0C1305.4,165.9 1306.4,168.1 1307.5,169.3C1308.6,170.6 1309.7,171.0 1311.4,171.6C1313.0,172.2 1315.4,172.6 1317.2,173.0C1319.1,173.3 1321.4,173.2 1322.5,173.9C1323.5,174.7 1322.9,176.1 1323.4,177.2C1324.0,178.4 1324.8,180.1 1325.7,180.9C1326.6,181.7 1327.8,182.2 1329.0,182.2C1330.2,182.2 1331.5,181.4 1332.9,180.9C1334.3,180.3 1335.7,179.6 1337.5,178.9C1339.2,178.2 1341.3,177.6 1343.3,176.9C1345.4,176.3 1347.6,175.6 1349.8,174.9C1352.1,174.3 1354.8,173.6 1357.0,173.0C1359.2,172.4 1361.3,171.9 1362.9,171.3C1364.5,170.7 1365.8,170.1 1366.8,169.3C1367.8,168.6 1368.3,167.6 1368.7,166.7C1369.2,165.8 1369.5,165.6 1369.4,164.0Z" fill="none" stroke="#3a3a3a" stroke-width="1.6"/></g>
<g transform="scale(.5)"><g clip-path="url(#k61)"><rect x="994" y="251" width="69" height="49" fill="#eaeaf4"/><path fill="#f8e8e9" stroke="#f8e8e9" stroke-width=".6" d="M992 249l0 0 6 7-6 4zM1003 272l1-5-5-3-3 1 0 4 6 3zM1023 249l-31 0 17 0 4 6 3 1zM1030 302l19 0 2 0-23 0-36 0 13 0 0 0 6-4 6-4 1 0zM1031 257l-2-1-2-1-4-6-31 0 0 0 36 0 37 0-24 0-10 8zM1034 285l2 1 1 8-8 0 0-1zM1046 281l-3 4-6 0 0-6 9 2zM1059 270l-2-7-4 4 2 4zM1065 272l0 5 0 25 0-26 0-27-5 9z"/><path fill="#e44c50" stroke="#e44c50" stroke-width=".6" d="M999 264l-3 1-4-5 6-4 3 2 1 0zM1014 278l-3 1-4-2-1-3 5-2zM1005 281l0 4 2 2 2 0 2-8-4-2zM1031 277l6 2 3-7-1-1-7 1-2 3 0 1zM1043 249l-2 0 24 0 0 0-10 0-6 7-2 0zM1046 281l3-1 3-2 0-3-6-5-5 2 5 9zM1059 270l-2-7 1-5 2 0 5 14-5-2z"/><path fill="#5d66b7" stroke="#5d66b7" stroke-width=".6" d="M996 269l0-4-4-5 0-11 0 27 0 26 0-25zM1019 264l-1-6-2-2-3-1-1 2-3 6z"/><path fill="#eaeaf4" stroke="#eaeaf4" stroke-width=".6" d="M1002 272l-6-3-4 8 3 2 2-2zM1009 249l-17 0 0 0 0 0 6 7 3 2zM1012 270l-4-6-4 3-1 5 3 2 5-2zM1010 287l7 7-6 4-6-7 2-4 2 0zM1017 269l3-4 2 0 4 2-1 4-1 2-6-3zM1024 283l-1-4-5-1-1 1-1 5 4 3zM1031 257l10-8 2 0-7 8-2 0zM1034 257l2 0 8 1-1 4-4 4zM1031 302l7-6 5-1 7 7 1 0-2 0-19 0zM1051 290l2 4-2 3-6-4 1-3zM1060 270l5 2 0 5 0 2-9 0 0 0zM1059 294l1 0 5 8-14 0-2 0 2 0z"/><path fill="#faf6f6" stroke="#faf6f6" stroke-width=".6" d="M999 284l-1 2-6 11 0 5 0 0 0-25 3 2zM999 293l6 9 0 0-1-10-5 1zM1004 292l1-1 6 7-6 4zM1018 278l5 1 1-1 0-5-6-3zM1031 257l-2-1-7 9 4 2 3 0 2-3zM1034 285l-5 8-3-1 1-7 4-1zM1046 281l-9-2 0 0 3-7 1 0zM1052 275l3-4-2-4-4-1-1 0-2 4zM1052 258l6 0-3-9-6 7zM1052 278l4 1 0 0 1 8-5 0-3-7zM1059 288l1 6 5 8 0 0 0-25 0 2z"/><path fill="#e33f43" stroke="#e33f43" stroke-width=".6" d="M999 293l-7 4 6-11 1 7zM1005 281l0 4-6-1-4-5 2-2zM1036 286l1-1 6 0 3 5-1 3-2 2-5 1-1-2zM1051 297l2-3 6 0-8 8-1 0zM1058 258l0 0 2 0 5-9 0 0-10 0z"/><path fill="#dedfef" stroke="#dedfef" stroke-width=".6" d="M999 293l-7 4 0 5 0 0 13 0z"/><path fill="#f5cecf" stroke="#f5cecf" stroke-width=".6" d="M1008 264l-4 3-5-3 3-6 0 0 7 6zM1030 276l-6 2 0-5 1-2 5 4zM1034 285l2 1 1-1 0-6 0 0-6-2 0 7zM1056 279l9 0-6 9-2-1z"/><path fill="#f3c1c3" stroke="#f3c1c3" stroke-width=".6" d="M1005 281l-8-4 5-5 1 0 3 2 1 3zM999 293l-1-7 1-2 6 1 2 2-2 4-1 1zM1002 258l10-1 1-2-4-6-8 9 1 0z"/><path fill="#a3a8d6" stroke="#a3a8d6" stroke-width=".6" d="M1009 264l-7-6 10-1-3 6zM1030 275l-5-4 1-4 3 0 3 5zM1052 287l5 0 2 1 1 6-1 0-6 0-2-4z"/><path fill="#bbbee0" stroke="#bbbee0" stroke-width=".6" d="M1017 269l3-4-1-1-10-1 0 1-1 0 4 6zM1017 279l-3-1-3-6 1-2 5-1 1 1 0 8zM1029 293l0 1 0 8-6-9 3-1zM1043 295l7 7 1-5-6-4z"/><path fill="#afb3db" stroke="#afb3db" stroke-width=".6" d="M1017 279l-1 5-6 3-1 0 2-8 3-1zM1027 255l-9 3-2-2 7-7z"/><path fill="#515bb2" stroke="#515bb2" stroke-width=".6" d="M1020 293l-2 1-1 0-7-7 6-3 4 3z"/><path fill="#f1b4b6" stroke="#f1b4b6" stroke-width=".6" d="M1022 265l-2 0-1-1-1-6 9-3 2 1zM1046 270l2-4-5-4-4 4 0 1 0 4 1 1 1 0zM1052 278l4 1 4-9-1 0-4 1-3 4z"/><path fill="#e6595d" stroke="#e6595d" stroke-width=".6" d="M1027 285l-3-2-4 4 0 6 3 0 3-1zM1039 267l0 4-7 1-3-5 2-3z"/><path fill="#f0a7a9" stroke="#f0a7a9" stroke-width=".6" d="M1023 293l-3 0-2 1 12 8 1 0-2 0zM1029 294l0 8 2 0 7-6-1-2z"/><path fill="#e86669" stroke="#e86669" stroke-width=".6" d="M1031 284l0-7-1-1-6 2-1 1 1 4 3 2zM1036 257l8 1 3-2-4-7z"/><path fill="#747cc1" stroke="#747cc1" stroke-width=".6" d="M1031 257l0 7 8 3 0-1-5-9-3 0z"/><path fill="#c7c9e5" stroke="#c7c9e5" stroke-width=".6" d="M1043 262l1-4 3-2 2 0 3 2-3 8-1 0z"/><path fill="#f6dbdc" stroke="#f6dbdc" stroke-width=".6" d="M1046 281l-3 4 3 5 5 0 1-3-3-7zM1053 267l-4-1 3-8 6 0 0 0-1 5z"/><rect x="994" y="251" width="69" height="49" fill="url(#r62)"/><path d="M996.0,279.7C996.0,278.6 996.0,277.9 996.3,276.5C996.6,275.1 997.0,273.0 997.8,271.4C998.6,269.8 1000.0,268.4 1001.0,267.1C1002.1,265.8 1003.1,264.7 1004.2,263.8C1005.3,262.8 1006.3,262.1 1007.5,261.2C1008.7,260.4 1009.8,259.5 1011.2,258.7C1012.6,257.9 1014.5,257.0 1016.1,256.4C1017.7,255.8 1019.0,255.3 1020.8,254.9C1022.6,254.4 1024.5,254.0 1026.8,253.7C1029.1,253.5 1031.8,253.1 1034.3,253.4C1036.8,253.7 1039.3,254.3 1041.8,255.3C1044.3,256.3 1047.0,257.8 1049.4,259.6C1051.7,261.4 1054.1,263.9 1055.7,266.0C1057.4,268.1 1058.7,270.7 1059.5,272.4C1060.3,274.2 1060.5,275.0 1060.6,276.5C1060.7,278.0 1060.7,279.5 1060.0,281.2C1059.4,282.9 1058.3,285.2 1056.8,286.5C1055.4,287.9 1053.4,288.4 1051.5,289.2C1049.5,290.0 1047.0,290.7 1045.1,291.4C1043.1,292.2 1041.6,292.8 1039.6,293.5C1037.7,294.2 1035.3,295.0 1033.6,295.6C1031.8,296.2 1030.7,296.8 1029.0,297.2C1027.3,297.6 1024.9,298.0 1023.3,298.0C1021.8,298.0 1020.6,297.8 1019.5,297.4C1018.4,297.0 1017.6,296.4 1017.0,295.6C1016.4,294.8 1016.2,293.4 1015.9,292.7C1015.5,292.0 1015.6,291.8 1014.7,291.5C1013.8,291.2 1012.1,291.3 1010.6,291.1C1009.0,291.0 1007.0,290.8 1005.5,290.5C1003.9,290.2 1002.5,289.9 1001.3,289.2C1000.1,288.5 998.9,287.4 998.1,286.4C997.3,285.3 996.9,284.0 996.5,282.9C996.2,281.7 996.0,280.7 996.0,279.7Z" fill="none" stroke="#000" stroke-opacity="0.18" stroke-width="2.40"/><path d="M1015.0,291.1C1015.8,290.4 1017.9,288.1 1019.5,286.7C1021.1,285.3 1022.9,283.9 1024.6,282.9C1026.3,281.8 1028.0,281.2 1029.7,280.3C1031.4,279.5 1033.4,278.6 1034.8,277.8C1036.3,276.9 1038.0,275.6 1038.7,275.2" fill="none" stroke="#000" stroke-opacity="0.45" stroke-width="0.80"/></g><path d="M996.0,279.7C996.0,278.6 996.0,277.9 996.3,276.5C996.6,275.1 997.0,273.0 997.8,271.4C998.6,269.8 1000.0,268.4 1001.0,267.1C1002.1,265.8 1003.1,264.7 1004.2,263.8C1005.3,262.8 1006.3,262.1 1007.5,261.2C1008.7,260.4 1009.8,259.5 1011.2,258.7C1012.6,257.9 1014.5,257.0 1016.1,256.4C1017.7,255.8 1019.0,255.3 1020.8,254.9C1022.6,254.4 1024.5,254.0 1026.8,253.7C1029.1,253.5 1031.8,253.1 1034.3,253.4C1036.8,253.7 1039.3,254.3 1041.8,255.3C1044.3,256.3 1047.0,257.8 1049.4,259.6C1051.7,261.4 1054.1,263.9 1055.7,266.0C1057.4,268.1 1058.7,270.7 1059.5,272.4C1060.3,274.2 1060.5,275.0 1060.6,276.5C1060.7,278.0 1060.7,279.5 1060.0,281.2C1059.4,282.9 1058.3,285.2 1056.8,286.5C1055.4,287.9 1053.4,288.4 1051.5,289.2C1049.5,290.0 1047.0,290.7 1045.1,291.4C1043.1,292.2 1041.6,292.8 1039.6,293.5C1037.7,294.2 1035.3,295.0 1033.6,295.6C1031.8,296.2 1030.7,296.8 1029.0,297.2C1027.3,297.6 1024.9,298.0 1023.3,298.0C1021.8,298.0 1020.6,297.8 1019.5,297.4C1018.4,297.0 1017.6,296.4 1017.0,295.6C1016.4,294.8 1016.2,293.4 1015.9,292.7C1015.5,292.0 1015.6,291.8 1014.7,291.5C1013.8,291.2 1012.1,291.3 1010.6,291.1C1009.0,291.0 1007.0,290.8 1005.5,290.5C1003.9,290.2 1002.5,289.9 1001.3,289.2C1000.1,288.5 998.9,287.4 998.1,286.4C997.3,285.3 996.9,284.0 996.5,282.9C996.2,281.7 996.0,280.7 996.0,279.7Z" fill="none" stroke="#3a3a3a" stroke-width="1.6"/></g>
<g transform="scale(.5)"><g clip-path="url(#k63)"><rect x="1066" y="251" width="69" height="49" fill="#f1b4b6"/><path fill="#faf6f6" stroke="#faf6f6" stroke-width=".6" d="M1067 258l-3-9 0 0 8 5zM1068 265l1-3-2-4-3-9 0 27 0 26 0-16 0-14zM1077 280l0-1-2-5 6-1 1 5zM1086 295l-4-7 8-1 1 2 0 2-2 4zM1092 249l4 9-8 0-1-2zM1091 282l6 1 1-3-4-7 0 0-3 0-2 6zM1110 285l1-2-8-5 0 6 3 2zM1111 272l0-9 6 0 2 2-2 7zM1118 279l0-5-1-2-6 0-2 1 3 8 4 0zM1119 265l-2-2 1-3 2-2 7 4-1 3-4 1zM1117 272l2-7 3 1 0 7-4 1zM1127 262l1-2 3-2 5 4-8 5-2-2z"/><path fill="#e6595d" stroke="#e6595d" stroke-width=".6" d="M1072 273l1-4-5-4-4 7 7 2zM1078 259l-2 4-7-1-2-4 5-4 0 0zM1131 258l-7-9 12 0 0 0 0 14 0-1zM1128 287l4-2 4 5 0 12-4-9z"/><path fill="#eaeaf4" stroke="#eaeaf4" stroke-width=".6" d="M1071 281l-7 3 0 2 0 0 0-14 7 2 0 7zM1119 249l8 0 9 0-36 0-36 0 8 5 0 0 9-4zM1077 279l-2-5-3-1-1 1 0 7zM1077 280l0-1-6 2 0 0 2 6 5 0zM1082 302l-6-6 2-1 5 2zM1091 282l-1 5-8 1-1-1 3-7 5-1zM1093 302l7-8-9-3-2 4zM1092 249l4 9 0 0 3-1 8-8 20 0-8 0zM1118 279l0-5 4-1 1 0 2 6-1 2zM1119 301l-4 1-9 0 30 0-8-4-3-1z"/><path fill="#515bb2" stroke="#515bb2" stroke-width=".6" d="M1071 281l-7 3 9 3 0 0zM1110 256l1 6-7 2-2-4 8-5z"/><path fill="#f8e8e9" stroke="#f8e8e9" stroke-width=".6" d="M1071 292l-7-6 0-2 9 3zM1077 266l-4 3-5-4 1-3 7 1zM1089 279l2-6-2-2-8 1 0 1 1 5 2 2zM1082 302l1-5 3-2 3 0 4 7-5 0zM1095 263l-6 3-1-1 0-7 8 0 0 0zM1098 266l-4 7-3 0-2-2 0-5 6-3zM1091 291l0-2 7-2 2 7 0 0zM1104 274l-10-1 4 7 5-3zM1088 302l1 0 16-6-2-2-3 0 0 0-7 8zM1119 288l-3-7-4 0-1 2-1 2 1 2 5 2zM1114 296l-4 0-1 0 2-9 5 2zM1123 289l-4-1-3-7 2-2 6 2 2 6-2 2zM1116 298l7-9 1 0 1 8-6 4z"/><path fill="#5d66b7" stroke="#5d66b7" stroke-width=".6" d="M1064 302l0 0 0-16 0 0 7 6 2 4z"/><path fill="#a3a8d6" stroke="#a3a8d6" stroke-width=".6" d="M1078 295l-2 1-3 0-2-4 2-5 0 0 5 0 2 1zM1127 278l-2 1-2-6 5-2 2 3zM1132 281l-5-3 3-4 5 1z"/><path fill="#e33f43" stroke="#e33f43" stroke-width=".6" d="M1082 302l-6-6-3 0-9 6 5 0 20 0-1 0zM1122 253l6 7 3-2-7-9-2 1z"/><path fill="#f1b4b6" stroke="#f1b4b6" stroke-width=".6" d="M1081 250l-9 4 6 5 4-2 1-1zM1077 266l-4 3-1 4 3 1 6-1 0-1-1-5zM1104 264l-1 2-5 0-3-3 1-5 3-1 3 3zM1103 266l2 7-1 1-10-1 0 0 4-7zM1120 258l7 4 1-2-6-7zM1124 281l1-2 2-1 5 3 0 4-4 2-2 0z"/><path fill="#e44c50" stroke="#e44c50" stroke-width=".6" d="M1084 265l-4 2-3-1-1-3 2-4 4-2zM1084 280l-2-2-5 2 1 7 2 1 1-1z"/><path fill="#f0a7a9" stroke="#f0a7a9" stroke-width=".6" d="M1083 297l-5-2 2-7 1-1 1 1 4 7zM1092 249l-5 7-4 0-2-6 38-1zM1111 262l0 1 0 9-2 1-4 0-2-7 1-2zM1089 302l16-6 4 0 1 0 5 6-9 0-6 0-31 0zM1116 298l-2-2 2-7 3-1 4 1zM1128 298l8 4 0 0-4-9z"/><path fill="#f3c1c3" stroke="#f3c1c3" stroke-width=".6" d="M1083 256l-1 1 2 8 4 0 0-7-1-2zM1088 265l1 1 0 5-8 1-1-5 4-2zM1097 283l1-3 5-3 0 1 0 6-5 1zM1103 278l0-1 1-3 1-1 4 0 3 8-1 2zM1116 298l-2-2-4 0 5 6 4-1z"/><path fill="#6971bc" stroke="#6971bc" stroke-width=".6" d="M1091 282l6 1 1 2 0 2-7 2-1-2z"/><path fill="#bbbee0" stroke="#bbbee0" stroke-width=".6" d="M1098 287l0-2 5-1 3 2-3 8-3 0zM1122 273l1 0 5-2 0-4-2-2-4 1zM1135 275l1-12 0-1-8 5 0 4 2 3zM1132 281l0 4 4 5 0-14 0-27 0 14-1 12z"/><path fill="#afb3db" stroke="#afb3db" stroke-width=".6" d="M1110 255l-3-6-8 8 3 3zM1109 296l2-9-1-2-4 1-3 8 2 2zM1110 256l6-1 2 5-1 3-6 0 0-1zM1125 297l3 1 4-5-4-6-2 0-2 2z"/><path fill="#f5cecf" stroke="#f5cecf" stroke-width=".6" d="M1110 256l6-1 6-5 2-1 12 0 0 0-9 0-20 0 3 6zM1118 260l-2-5 6-5 0 3-2 5z"/><rect x="1066" y="251" width="69" height="49" fill="url(#r64)"/><path d="M1132.2,279.7C1132.2,278.6 1132.2,277.9 1131.9,276.5C1131.6,275.1 1131.2,273.0 1130.4,271.4C1129.6,269.8 1128.2,268.4 1127.2,267.1C1126.1,265.8 1125.1,264.7 1124.0,263.8C1122.9,262.8 1121.9,262.1 1120.7,261.2C1119.5,260.4 1118.4,259.5 1117.0,258.7C1115.6,257.9 1113.7,257.0 1112.1,256.4C1110.5,255.8 1109.2,255.3 1107.4,254.9C1105.6,254.4 1103.7,254.0 1101.4,253.7C1099.1,253.5 1096.4,253.1 1093.9,253.4C1091.4,253.7 1088.9,254.3 1086.4,255.3C1083.9,256.3 1081.2,257.8 1078.8,259.6C1076.5,261.4 1074.1,263.9 1072.5,266.0C1070.8,268.1 1069.5,270.7 1068.7,272.4C1067.9,274.2 1067.7,275.0 1067.6,276.5C1067.5,278.0 1067.5,279.5 1068.2,281.2C1068.8,282.9 1069.9,285.2 1071.4,286.5C1072.8,287.9 1074.8,288.4 1076.7,289.2C1078.7,290.0 1081.2,290.7 1083.1,291.4C1085.1,292.2 1086.6,292.8 1088.6,293.5C1090.5,294.2 1092.9,295.0 1094.6,295.6C1096.4,296.2 1097.5,296.8 1099.2,297.2C1100.9,297.6 1103.3,298.0 1104.9,298.0C1106.4,298.0 1107.6,297.8 1108.7,297.4C1109.8,297.0 1110.6,296.4 1111.2,295.6C1111.8,294.8 1112.0,293.4 1112.3,292.7C1112.7,292.0 1112.6,291.8 1113.5,291.5C1114.4,291.2 1116.1,291.3 1117.6,291.1C1119.2,291.0 1121.2,290.8 1122.7,290.5C1124.3,290.2 1125.7,289.9 1126.9,289.2C1128.1,288.5 1129.3,287.4 1130.1,286.4C1130.9,285.3 1131.3,284.0 1131.7,282.9C1132.0,281.7 1132.2,280.7 1132.2,279.7Z" fill="none" stroke="#000" stroke-opacity="0.18" stroke-width="2.40"/><path d="M1113.2,291.1C1112.4,290.4 1110.3,288.1 1108.7,286.7C1107.1,285.3 1105.3,283.9 1103.6,282.9C1101.9,281.8 1100.2,281.2 1098.5,280.3C1096.8,279.5 1094.8,278.6 1093.4,277.8C1091.9,276.9 1090.2,275.6 1089.5,275.2" fill="none" stroke="#000" stroke-opacity="0.45" stroke-width="0.80"/></g><path d="M1132.2,279.7C1132.2,278.6 1132.2,277.9 1131.9,276.5C1131.6,275.1 1131.2,273.0 1130.4,271.4C1129.6,269.8 1128.2,268.4 1127.2,267.1C1126.1,265.8 1125.1,264.7 1124.0,263.8C1122.9,262.8 1121.9,262.1 1120.7,261.2C1119.5,260.4 1118.4,259.5 1117.0,258.7C1115.6,257.9 1113.7,257.0 1112.1,256.4C1110.5,255.8 1109.2,255.3 1107.4,254.9C1105.6,254.4 1103.7,254.0 1101.4,253.7C1099.1,253.5 1096.4,253.1 1093.9,253.4C1091.4,253.7 1088.9,254.3 1086.4,255.3C1083.9,256.3 1081.2,257.8 1078.8,259.6C1076.5,261.4 1074.1,263.9 1072.5,266.0C1070.8,268.1 1069.5,270.7 1068.7,272.4C1067.9,274.2 1067.7,275.0 1067.6,276.5C1067.5,278.0 1067.5,279.5 1068.2,281.2C1068.8,282.9 1069.9,285.2 1071.4,286.5C1072.8,287.9 1074.8,288.4 1076.7,289.2C1078.7,290.0 1081.2,290.7 1083.1,291.4C1085.1,292.2 1086.6,292.8 1088.6,293.5C1090.5,294.2 1092.9,295.0 1094.6,295.6C1096.4,296.2 1097.5,296.8 1099.2,297.2C1100.9,297.6 1103.3,298.0 1104.9,298.0C1106.4,298.0 1107.6,297.8 1108.7,297.4C1109.8,297.0 1110.6,296.4 1111.2,295.6C1111.8,294.8 1112.0,293.4 1112.3,292.7C1112.7,292.0 1112.6,291.8 1113.5,291.5C1114.4,291.2 1116.1,291.3 1117.6,291.1C1119.2,291.0 1121.2,290.8 1122.7,290.5C1124.3,290.2 1125.7,289.9 1126.9,289.2C1128.1,288.5 1129.3,287.4 1130.1,286.4C1130.9,285.3 1131.3,284.0 1131.7,282.9C1132.0,281.7 1132.2,280.7 1132.2,279.7Z" fill="none" stroke="#3a3a3a" stroke-width="1.6"/></g>
<g transform="scale(.5)"><g clip-path="url(#k65)"><rect x="994" y="298" width="69" height="51" fill="#bbbee0"/><path fill="#f1b4b6" stroke="#f1b4b6" stroke-width=".6" d="M992 308l9-3 1-4-10-5 0 0zM1015 309l0-2-6-4-4 7 10-1zM1027 336l-4 2-4-4 1-5 7 0zM1043 344l1 0 7-1 1-1-4-8-4 0zM1042 296l21 0 2 0-8 6-6 0z"/><path fill="#c7c9e5" stroke="#c7c9e5" stroke-width=".6" d="M992 308l7 6 5-4-3-5zM1027 336l-4 2-1 4 8 3 1 0-1-8zM1050 351l-2 0-12-6-5 0-1 0-3 6 3 0 35 0z"/><path fill="#f8e8e9" stroke="#f8e8e9" stroke-width=".6" d="M992 308l7 6 1 4-8 10 0 1 0-33 0 0zM1004 321l1 0 4-3-5-8 0 0-5 4 1 4zM998 340l3 11 2 0 3-8 0-1zM1014 337l5-3 1-5-1-1-6 0 0 8zM1019 310l6-6 4 3 0 4-8 2zM1021 313l1 6 7 2 1-1-1-9 0 0zM1043 344l1 0 4 7-12-6 1-1zM1042 329l9-4-1-5-4 1-5 5zM1050 351l-2 0-4-7 7-1zM1052 342l-4-8 3-2 7 1 0 1-2 7-1 1zM1056 320l5 7 4-9-6-1zM1065 351l0 0-9-10-1 1z"/><path fill="#f0a7a9" stroke="#f0a7a9" stroke-width=".6" d="M993 328l11-7-4-3-8 10zM1016 304l-1 3-6-4 0-3 6-4 2 0zM1044 311l6 0 0 1 0 8 0 0-4 1-4-4zM1060 327l1 0-5-7-6 0 0 0 1 5 0 0zM1050 351l1-8 1-1 3 0 10 9 0 0zM1060 327l1 0 4-9 0-3 0-5 0 13 0 28-7-17 0-1z"/><path fill="#eaeaf4" stroke="#eaeaf4" stroke-width=".6" d="M998 340l-6-11 0-1 1 0 7 2 3 3zM998 340l-6 11 0-28 0-27 0 33 6 11zM992 296l13 0 10 0-6 4-7 1zM1013 318l-4 0-5-8 1 0 10-1zM1019 310l-4-1 0-2 1-3 9-1 0 1zM1029 321l-7-2-3 1 0 8 1 1 7 0 1-1zM1022 342l8 3-3 6-7-7zM1039 296l-4 0 1 5 5 4 5-4zM1033 330l5 4 4-1 0-4-1-3-3-2zM1038 334l4-1 2 1-1 10-6 0 0-9z"/><path fill="#f3c1c3" stroke="#f3c1c3" stroke-width=".6" d="M998 340l3 11-9 0 0 0 6-11zM1006 342l0 1 9-2-1-4-1-1-6 0zM1059 317l-3-5 9-5 0 8 0 3z"/><path fill="#afb3db" stroke="#afb3db" stroke-width=".6" d="M1001 305l3 5 0 0 1 0 4-7 0-3-7 1zM1035 320l2-2 5-1 4 4-5 5-3-2z"/><path fill="#e44c50" stroke="#e44c50" stroke-width=".6" d="M1006 326l-1-5-1 0-11 7 7 2zM1025 303l-9 1 1-8 8 7zM1033 330l5 4-1 1-7 2-3-1 0-7 1-1zM1056 320l-6 0 0-8 4-1 2 1 3 5zM1057 302l0 0 8-6 0 14 0 5 0-8zM1054 311l3-9 8 5-9 5z"/><path fill="#faf6f6" stroke="#faf6f6" stroke-width=".6" d="M1003 333l-3-3 6-4 3 2-3 7zM1009 328l-3-2-1-5 4-3 4 0 0 0-1 10zM1030 320l-1-9 8 2 0 5-2 2zM1060 327l-9-2 0 7 7 1z"/><path fill="#e86669" stroke="#e86669" stroke-width=".6" d="M998 340l8 2 1-6-1-1-3-2-5 7 0 0zM1042 333l2 1 4 0 3-2 0-7 0 0-9 4z"/><path fill="#e33f43" stroke="#e33f43" stroke-width=".6" d="M1007 336l6 0 0-8-1 0-3 0-3 7zM1003 351l-2 0-9 0 36 0 2 0-3 0-7-7-3 0zM1037 335l0 9-1 1-5 0-1-8z"/><path fill="#bbbee0" stroke="#bbbee0" stroke-width=".6" d="M1006 343l9-2 2 3-14 7zM1037 313l0 5 5-1 2-6-2-2-4 2z"/><path fill="#5d66b7" stroke="#5d66b7" stroke-width=".6" d="M1019 310l-4-1 0 0-2 9 0 0 6 2 3-1-1-6zM1039 296l-4 0-10 7-8-7-2 0-10 0 23 0 35 0-21 0z"/><path fill="#e6595d" stroke="#e6595d" stroke-width=".6" d="M1013 328l6 0 0-8-6-2-1 10z"/><path fill="#f6dbdc" stroke="#f6dbdc" stroke-width=".6" d="M1015 341l-1-4 5-3 4 4-1 4-2 2-3 0z"/><path fill="#515bb2" stroke="#515bb2" stroke-width=".6" d="M1025 304l0-1 0 0 10-7 1 5-4 5-3 1z"/><path fill="#f5cecf" stroke="#f5cecf" stroke-width=".6" d="M1029 307l3-1 6 5-1 2-8-2 0 0z"/><path fill="#747cc1" stroke="#747cc1" stroke-width=".6" d="M1030 320l5 0 3 4-5 6-5-2 1-7zM1065 351l-9-10 2-7 7 17z"/><path fill="#a3a8d6" stroke="#a3a8d6" stroke-width=".6" d="M1032 306l4-5 5 4 1 4-4 2zM1039 296l7 5 4 2 1-1-9-6zM1050 303l0 8 0 1 4-1 3-9 0 0-6 0z"/><path fill="#6971bc" stroke="#6971bc" stroke-width=".6" d="M1046 301l-5 4 1 4 2 2 6 0 0-8z"/><rect x="994" y="298" width="69" height="51" fill="url(#r66)"/><path d="M996.0,328.4C996.1,326.9 996.3,324.2 997.0,321.8C997.6,319.5 998.6,316.8 999.9,314.6C1001.1,312.4 1002.7,310.4 1004.4,308.6C1006.2,306.9 1008.0,305.3 1010.3,304.0C1012.5,302.7 1015.3,301.4 1018.0,300.7C1020.7,300.0 1023.6,299.9 1026.5,299.8C1029.3,299.7 1032.2,300.0 1034.9,300.4C1037.6,300.8 1040.2,301.4 1042.7,302.4C1045.1,303.3 1047.7,304.6 1049.8,306.0C1051.8,307.4 1053.5,308.9 1055.0,310.6C1056.5,312.4 1057.9,314.6 1058.9,316.6C1059.8,318.5 1060.4,320.5 1060.6,322.5C1060.8,324.5 1060.7,326.6 1060.1,328.4C1059.6,330.3 1058.6,332.5 1057.6,333.7C1056.5,335.0 1055.3,335.4 1053.7,336.0C1052.0,336.6 1049.7,337.0 1047.8,337.4C1046.0,337.7 1043.7,337.6 1042.7,338.3C1041.6,339.1 1042.2,340.5 1041.7,341.6C1041.1,342.8 1040.3,344.5 1039.4,345.3C1038.5,346.1 1037.4,346.6 1036.2,346.6C1035.0,346.6 1033.7,345.8 1032.3,345.3C1030.9,344.7 1029.5,344.0 1027.7,343.3C1026.0,342.6 1024.0,342.0 1021.9,341.3C1019.9,340.7 1017.7,340.0 1015.4,339.3C1013.2,338.7 1010.5,338.0 1008.3,337.4C1006.2,336.8 1004.1,336.3 1002.5,335.7C1000.9,335.1 999.6,334.5 998.6,333.7C997.6,333.0 997.1,332.0 996.6,331.1C996.2,330.2 995.9,330.0 996.0,328.4Z" fill="none" stroke="#000" stroke-opacity="0.18" stroke-width="2.40"/></g><path d="M1016.3,324.8C1016.3,323.5 1016.6,322.3 1017.2,321.3C1017.8,320.2 1018.5,319.3 1019.8,318.6C1021.2,318.0 1023.0,317.7 1025.0,317.3C1027.1,316.9 1030.1,316.6 1032.0,316.4C1033.9,316.1 1034.9,315.8 1036.4,316.0C1037.8,316.1 1039.3,316.7 1040.7,317.3C1042.2,317.9 1043.6,318.5 1045.0,319.5C1046.5,320.4 1048.5,321.7 1049.5,323.0C1050.4,324.4 1051.2,326.2 1051.0,327.5C1050.9,328.7 1049.5,329.7 1048.5,330.6C1047.6,331.4 1046.1,331.7 1045.0,332.3C1044.0,332.9 1043.2,333.5 1042.5,334.1C1041.7,334.8 1041.1,335.4 1040.7,336.4C1040.4,337.3 1040.6,338.8 1040.3,339.9C1040.0,341.0 1039.6,342.3 1039.0,343.0C1038.3,343.6 1037.5,344.0 1036.4,343.9C1035.2,343.8 1033.5,343.2 1032.0,342.6C1030.6,342.0 1029.1,341.2 1027.7,340.3C1026.2,339.4 1024.6,338.3 1023.3,337.2C1022.0,336.1 1020.8,335.0 1019.8,333.7C1018.9,332.3 1018.2,330.7 1017.6,329.2C1017.1,327.8 1016.4,326.1 1016.3,324.8Z" fill="url(#g67)"/><path d="M1025.8,316.6C1026.5,316.4 1028.2,315.8 1029.7,315.6C1031.2,315.4 1033.3,315.2 1034.9,315.2C1036.5,315.3 1038.0,315.7 1039.4,316.0C1040.8,316.4 1042.1,317.0 1043.3,317.6C1044.5,318.1 1046.0,319.2 1046.5,319.5" fill="none" stroke="#111" stroke-opacity="0.85" stroke-width="0.81" stroke-linecap="round"/><path d="M1023.3,337.2C1024.2,337.6 1026.7,339.1 1028.4,339.7C1030.1,340.2 1032.0,340.6 1033.6,340.7C1035.2,340.7 1037.0,340.5 1038.1,340.0C1039.3,339.5 1040.0,338.1 1040.4,337.7" fill="none" stroke="#888" stroke-opacity="0.6" stroke-width="0.60"/><path d="M996.0,328.4C996.1,326.9 996.3,324.2 997.0,321.8C997.6,319.5 998.6,316.8 999.9,314.6C1001.1,312.4 1002.7,310.4 1004.4,308.6C1006.2,306.9 1008.0,305.3 1010.3,304.0C1012.5,302.7 1015.3,301.4 1018.0,300.7C1020.7,300.0 1023.6,299.9 1026.5,299.8C1029.3,299.7 1032.2,300.0 1034.9,300.4C1037.6,300.8 1040.2,301.4 1042.7,302.4C1045.1,303.3 1047.7,304.6 1049.8,306.0C1051.8,307.4 1053.5,308.9 1055.0,310.6C1056.5,312.4 1057.9,314.6 1058.9,316.6C1059.8,318.5 1060.4,320.5 1060.6,322.5C1060.8,324.5 1060.7,326.6 1060.1,328.4C1059.6,330.3 1058.6,332.5 1057.6,333.7C1056.5,335.0 1055.3,335.4 1053.7,336.0C1052.0,336.6 1049.7,337.0 1047.8,337.4C1046.0,337.7 1043.7,337.6 1042.7,338.3C1041.6,339.1 1042.2,340.5 1041.7,341.6C1041.1,342.8 1040.3,344.5 1039.4,345.3C1038.5,346.1 1037.4,346.6 1036.2,346.6C1035.0,346.6 1033.7,345.8 1032.3,345.3C1030.9,344.7 1029.5,344.0 1027.7,343.3C1026.0,342.6 1024.0,342.0 1021.9,341.3C1019.9,340.7 1017.7,340.0 1015.4,339.3C1013.2,338.7 1010.5,338.0 1008.3,337.4C1006.2,336.8 1004.1,336.3 1002.5,335.7C1000.9,335.1 999.6,334.5 998.6,333.7C997.6,333.0 997.1,332.0 996.6,331.1C996.2,330.2 995.9,330.0 996.0,328.4Z" fill="none" stroke="#3a3a3a" stroke-width="1.6"/></g>
<g transform="scale(.5)"><g clip-path="url(#k68)"><rect x="1066" y="298" width="69" height="51" fill="#e44c50"/><path fill="#dedfef" stroke="#dedfef" stroke-width=".6" d="M1064 314l8-12-8-6 0 10 0 12z"/><path fill="#f0a7a9" stroke="#f0a7a9" stroke-width=".6" d="M1064 315l0-1 8-12 1 1-7 9zM1085 334l1 1 0 6-2 2-8-4-1-1 4-4z"/><path fill="#e33f43" stroke="#e33f43" stroke-width=".6" d="M1070 321l-6-6 2-3 7 2 0 4zM1105 296l-5 10-1 2-6-8-3-4 9 0 6 0zM1100 322l-6-1-3 6 4 3 6-2 1-2zM1107 303l-7 3-1 2 0 2 1 1 7 0 1-6zM1105 296l2 7 1 2 8-2 0 0-11-7z"/><path fill="#e44c50" stroke="#e44c50" stroke-width=".6" d="M1064 330l0-12 0-4 0 1 6 6 2 7zM1086 303l4 3 3-6-3-4-4 0zM1090 342l9-1 1 4-6 6-5-8zM1123 334l2 1 3 0 5-7-2-3-9 2zM1130 319l0 3 1 3 2 3 3-8 0-5z"/><path fill="#f3c1c3" stroke="#f3c1c3" stroke-width=".6" d="M1072 337l0-9 0 0-8 2 6 7zM1086 327l-3-7-1 0-5 2-2 5 1 1zM1073 348l11-5-1 8-19 0 8-2zM1086 303l4 3 0 4-4 1-2-1-1-3zM1120 351l9-6 2-1 5 7 0 0 0 0-18 0z"/><path fill="#bbbee0" stroke="#bbbee0" stroke-width=".6" d="M1070 337l-2 6-4 8 0-28 0-17 0 12 0 12zM1073 348l11-5 0 0-8-4zM1087 328l-2 6-6 0-3-6 10-1zM1112 327l2-6-5-2-3 5 3 3zM1116 303l1 5 9-3-5-4-5 2z"/><path fill="#f8e8e9" stroke="#f8e8e9" stroke-width=".6" d="M1072 349l-8 2 0 0 0 0 4-8zM1072 337l3 1 4-4-3-6-1-1-3 1zM1083 307l1 3-5 3-4 0 1-9 2 0zM1094 312l-1 6-9 1 2-8 4-1zM1087 328l4-1 4 3 1 5-2 1-8-1-1-1zM1109 319l-7-1-2-7 7 0 2 1zM1114 351l-6-4-8-2-6 6-11 0-19 0 0 0 36 0 36 0-18 0zM1105 296l-6 0 10 0 27 0-2 0-13 5-5 2z"/><path fill="#f1b4b6" stroke="#f1b4b6" stroke-width=".6" d="M1086 296l4 0 9 0 10 0-9 0-36 0 8 6 1 1 3 1 2 0zM1105 296l-5 10 7-3zM1109 327l-4 7-4-6 1-2 4-2zM1112 327l2 3 7-5-1-3-4-1-2 0zM1115 333l-1 7 2 0 5 1 1-1 3-5-2-1zM1116 340l-2 11 4 0 2 0 1-10zM1126 305l2 1 6-10-13 5zM1122 315l4-2 4 6 0 3-10-1zM1125 335l3 0 2 1 1 8-2 1-7-5zM1128 306l1 1 7-11 0 0-2 0zM1131 344l5 7-6-15z"/><path fill="#eaeaf4" stroke="#eaeaf4" stroke-width=".6" d="M1066 312l7-9 3 1-1 9-2 1zM1077 322l5-2-3-7-4 0-2 1 0 4zM1114 332l-9 3 0 0 4 6 5-1 1-7zM1121 341l1-1 7 5-9 6zM1129 309l0-2 7-11 0 18 0 6 0-5z"/><path fill="#faf6f6" stroke="#faf6f6" stroke-width=".6" d="M1072 328l3-1 2-5-4-4-3 3 2 7zM1083 320l1-1 2-8-2-1-5 3 3 7zM1094 336l-4 6-1 1-3-2 0-6zM1099 310l-5 2-4-2 0-4 3-6 6 8zM1096 335l4 3 5-3 0 0 0-1-4-6-6 2zM1106 324l-4 2-2-4 2-4 7 1 0 0zM1116 340l-2 0-5 1-1 6 6 4zM1114 330l7-5 1 2 1 7-8-1-1-1zM1117 310l0-2 9-3 2 1 1 1 0 2-3 4-4 2z"/><path fill="#515bb2" stroke="#515bb2" stroke-width=".6" d="M1072 337l3 1 1 1-3 9-1 1-4-6 2-6zM1087 328l4-1 3-6-1-3-9 1-1 1 3 7zM1089 343l-3-2-2 2 0 0-1 8 11 0z"/><path fill="#a3a8d6" stroke="#a3a8d6" stroke-width=".6" d="M1086 303l-3 4-5-3 8-8zM1112 327l2 3 0 2-9 3 0-1 4-7z"/><path fill="#6971bc" stroke="#6971bc" stroke-width=".6" d="M1099 310l-5 2-1 6 1 3 6 1 2-4-2-7zM1126 313l4 6 6-4-7-6z"/><path fill="#e6595d" stroke="#e6595d" stroke-width=".6" d="M1096 335l4 3-1 3-9 1 4-6z"/><path fill="#c7c9e5" stroke="#c7c9e5" stroke-width=".6" d="M1109 341l-4-6-5 3-1 3 1 4 8 2zM1120 322l1 3 1 2 9-2-1-3-10-1z"/><path fill="#5d66b7" stroke="#5d66b7" stroke-width=".6" d="M1116 303l1 5 0 2-3 1-5 1-2-1 1-6zM1109 319l0 0 0-7 5-1 2 10-2 0z"/><path fill="#747cc1" stroke="#747cc1" stroke-width=".6" d="M1116 321l4 1 0-1 2-6-5-5-3 1z"/><path fill="#afb3db" stroke="#afb3db" stroke-width=".6" d="M1133 328l3-8 0-6 0 9 0 28 0 0-6-15-2-1z"/><rect x="1066" y="298" width="69" height="51" fill="url(#r69)"/><path d="M1132.2,328.4C1132.1,326.9 1131.9,324.2 1131.2,321.8C1130.6,319.5 1129.6,316.8 1128.3,314.6C1127.1,312.4 1125.5,310.4 1123.8,308.6C1122.0,306.9 1120.2,305.3 1117.9,304.0C1115.7,302.7 1112.9,301.4 1110.2,300.7C1107.5,300.0 1104.6,299.9 1101.7,299.8C1098.9,299.7 1096.0,300.0 1093.3,300.4C1090.6,300.8 1088.0,301.4 1085.5,302.4C1083.1,303.3 1080.5,304.6 1078.4,306.0C1076.4,307.4 1074.7,308.9 1073.2,310.6C1071.7,312.4 1070.3,314.6 1069.3,316.6C1068.4,318.5 1067.8,320.5 1067.6,322.5C1067.4,324.5 1067.5,326.6 1068.1,328.4C1068.6,330.3 1069.6,332.5 1070.6,333.7C1071.7,335.0 1072.9,335.4 1074.5,336.0C1076.2,336.6 1078.5,337.0 1080.4,337.4C1082.2,337.7 1084.5,337.6 1085.5,338.3C1086.6,339.1 1086.0,340.5 1086.5,341.6C1087.1,342.8 1087.9,344.5 1088.8,345.3C1089.7,346.1 1090.8,346.6 1092.0,346.6C1093.2,346.6 1094.5,345.8 1095.9,345.3C1097.3,344.7 1098.7,344.0 1100.5,343.3C1102.2,342.6 1104.2,342.0 1106.3,341.3C1108.3,340.7 1110.5,340.0 1112.8,339.3C1115.0,338.7 1117.7,338.0 1119.9,337.4C1122.0,336.8 1124.1,336.3 1125.7,335.7C1127.3,335.1 1128.6,334.5 1129.6,333.7C1130.6,333.0 1131.1,332.0 1131.6,331.1C1132.0,330.2 1132.3,330.0 1132.2,328.4Z" fill="none" stroke="#000" stroke-opacity="0.18" stroke-width="2.40"/></g><path d="M1111.9,324.8C1111.9,323.5 1111.6,322.3 1111.0,321.3C1110.4,320.2 1109.7,319.3 1108.4,318.6C1107.0,318.0 1105.2,317.7 1103.2,317.3C1101.1,316.9 1098.1,316.6 1096.2,316.4C1094.3,316.1 1093.3,315.8 1091.8,316.0C1090.4,316.1 1088.9,316.7 1087.5,317.3C1086.0,317.9 1084.6,318.5 1083.2,319.5C1081.7,320.4 1079.7,321.7 1078.7,323.0C1077.8,324.4 1077.0,326.2 1077.2,327.5C1077.3,328.7 1078.7,329.7 1079.7,330.6C1080.6,331.4 1082.1,331.7 1083.2,332.3C1084.2,332.9 1085.0,333.5 1085.7,334.1C1086.5,334.8 1087.1,335.4 1087.5,336.4C1087.8,337.3 1087.6,338.8 1087.9,339.9C1088.2,341.0 1088.6,342.3 1089.2,343.0C1089.9,343.6 1090.7,344.0 1091.8,343.9C1093.0,343.8 1094.7,343.2 1096.2,342.6C1097.6,342.0 1099.1,341.2 1100.5,340.3C1102.0,339.4 1103.6,338.3 1104.9,337.2C1106.2,336.1 1107.4,335.0 1108.4,333.7C1109.3,332.3 1110.0,330.7 1110.6,329.2C1111.1,327.8 1111.8,326.1 1111.9,324.8Z" fill="url(#g70)"/><path d="M1102.4,316.6C1101.7,316.4 1100.0,315.8 1098.5,315.6C1097.0,315.4 1094.9,315.2 1093.3,315.2C1091.7,315.3 1090.2,315.7 1088.8,316.0C1087.4,316.4 1086.1,317.0 1084.9,317.6C1083.7,318.1 1082.2,319.2 1081.7,319.5" fill="none" stroke="#111" stroke-opacity="0.85" stroke-width="0.81" stroke-linecap="round"/><path d="M1104.9,337.2C1104.0,337.6 1101.5,339.1 1099.8,339.7C1098.1,340.2 1096.2,340.6 1094.6,340.7C1093.0,340.7 1091.2,340.5 1090.1,340.0C1088.9,339.5 1088.2,338.1 1087.8,337.7" fill="none" stroke="#888" stroke-opacity="0.6" stroke-width="0.60"/><path d="M1132.2,328.4C1132.1,326.9 1131.9,324.2 1131.2,321.8C1130.6,319.5 1129.6,316.8 1128.3,314.6C1127.1,312.4 1125.5,310.4 1123.8,308.6C1122.0,306.9 1120.2,305.3 1117.9,304.0C1115.7,302.7 1112.9,301.4 1110.2,300.7C1107.5,300.0 1104.6,299.9 1101.7,299.8C1098.9,299.7 1096.0,300.0 1093.3,300.4C1090.6,300.8 1088.0,301.4 1085.5,302.4C1083.1,303.3 1080.5,304.6 1078.4,306.0C1076.4,307.4 1074.7,308.9 1073.2,310.6C1071.7,312.4 1070.3,314.6 1069.3,316.6C1068.4,318.5 1067.8,320.5 1067.6,322.5C1067.4,324.5 1067.5,326.6 1068.1,328.4C1068.6,330.3 1069.6,332.5 1070.6,333.7C1071.7,335.0 1072.9,335.4 1074.5,336.0C1076.2,336.6 1078.5,337.0 1080.4,337.4C1082.2,337.7 1084.5,337.6 1085.5,338.3C1086.6,339.1 1086.0,340.5 1086.5,341.6C1087.1,342.8 1087.9,344.5 1088.8,345.3C1089.7,346.1 1090.8,346.6 1092.0,346.6C1093.2,346.6 1094.5,345.8 1095.9,345.3C1097.3,344.7 1098.7,344.0 1100.5,343.3C1102.2,342.6 1104.2,342.0 1106.3,341.3C1108.3,340.7 1110.5,340.0 1112.8,339.3C1115.0,338.7 1117.7,338.0 1119.9,337.4C1122.0,336.8 1124.1,336.3 1125.7,335.7C1127.3,335.1 1128.6,334.5 1129.6,333.7C1130.6,333.0 1131.1,332.0 1131.6,331.1C1132.0,330.2 1132.3,330.0 1132.2,328.4Z" fill="none" stroke="#3a3a3a" stroke-width="1.6"/></g>
<g transform="scale(.5)"><g clip-path="url(#k71)"><rect x="1161" y="252" width="68" height="49" fill="#8c92cb"/><path fill="#515bb2" stroke="#515bb2" stroke-width=".6" d="M1162 256l-3-5 0-1 0 0 0 0 6 4zM1167 265l-8-14 0-1 5 23 1-2zM1174 265l-2-3-1 0-3 1-1 2-2 6 8 0 0 0zM1177 266l-3-1-2-3 7-4 1 1zM1180 272l0 0-4 8-3-2 0-7 0 0zM1169 288l7-8 1 1 3 5-2 2zM1177 266l3-7 3 2 1 0 0 2-5 4zM1184 261l7-2 0-1-3-8-5 11zM1205 274l-2-2-4 3-1 3 7 3 3-1 0-2zM1192 302l-15 0 18 0 36 0-14 0-7 0-1 0-9-5zM1210 292l-2 1 0 0-5-5 0-1 7 0zM1200 296l8-3 0 0 1 9-9-5zM1220 279l3 1 2-6-5-3-2 1-1 1 1 3zM1223 289l-6-2-3 5 3 4 6-1 0 0 0-6z"/><path fill="#4550ad" stroke="#4550ad" stroke-width=".6" d="M1168 263l-6-7-3-5 8 14zM1165 287l-1-5-5-32 0 0 5 38zM1173 278l-7 0-2-5 1-2 8 0zM1173 293l-2 9 10-6-6-3zM1191 302l-6-8-4 2-10 6-12 0 0 0 18 0 15 0zM1184 263l2 3 7-3-2-4-7 2zM1190 286l-6 6 1 2 7-2 1-3zM1213 273l-5 5-3-4 6-3zM1217 256l-7 2-2-1 9-7 1 6zM1220 279l-3 7-5-3-1-1 7-6zM1218 272l2-1 5-6-2-1-8 0z"/><path fill="#5d66b7" stroke="#5d66b7" stroke-width=".6" d="M1159 250l0 0 0 0 5 32 2-4-2-5zM1169 288l-4-1-1 1-1 4 3 4 6-3zM1176 280l0 0 1 1 6-2 3-7-6 0zM1214 263l-4-5 7-2zM1228 255l-10-5-1 0 1 6 3 2zM1225 265l-5 6 5 3 6-5 0-5zM1223 295l-6 7 14 0 0 0-8-7z"/><path fill="#8c92cb" stroke="#8c92cb" stroke-width=".6" d="M1164 288l-5-38 0 26 0 26 4-10zM1159 302l0 0 0 0 4-10 3 4zM1176 280l0 0-7 8 0 0-4-1-1-5 2-4 7 0zM1191 258l-3-8-3 0 1 0 11 7zM1215 264l8 0-2-6-3-2-1 0-3 7 0 1z"/><path fill="#f8e8e9" stroke="#f8e8e9" stroke-width=".6" d="M1165 254l-6-4 36 0 13 0-7 0-15 0-1 0-7 0-8 4zM1193 289l6-2 2 1-1 7-5 0-3-3zM1199 275l-5-5 9-5 2 0 0 0-2 7zM1217 286l0 1-3 5-4 0 0-5 2-4z"/><path fill="#f6dbdc" stroke="#f6dbdc" stroke-width=".6" d="M1168 263l-6-7 3-2 5 0 1 8zM1220 279l3 1 3 1-3 8-6-2 0-1z"/><path fill="#eaeaf4" stroke="#eaeaf4" stroke-width=".6" d="M1172 293l-6 3-7 6 12 0 2-9zM1184 292l-3-6-1 0-2 2-3 5 6 3 4-2 0 0zM1197 257l-11-7 15 0 7 0-4 4-6 3z"/><path fill="#8087c6" stroke="#8087c6" stroke-width=".6" d="M1179 258l-1-8-8 4 1 8 1 0zM1179 267l1 5 0 0 6 0 1 0 0-1-1-5-2-3zM1203 265l-4-3-1-5 6-3 2 3-1 8zM1208 266l-3-1 0 0 1-8 2 0 2 1 4 5 0 1z"/><path fill="#eb8083" stroke="#eb8083" stroke-width=".6" d="M1177 266l-3-1-1 6 7 1-1-5zM1223 295l-6 7-7 0 7-6z"/><path fill="#747cc1" stroke="#747cc1" stroke-width=".6" d="M1169 288l9 0-3 5-2 0-1 0-3-5zM1190 286l0-4 2-2 4 0 3 7-6 2zM1223 280l3 1 5-9 0-3-6 5zM1223 289l3-8 5-9 0 4-8 13zM1223 289l8-13 0 18 0 8-8-7z"/><path fill="#e44c50" stroke="#e44c50" stroke-width=".6" d="M1180 259l-1-1-1-8 7 0 3 0-5 11zM1211 271l-6 3-2-2 2-7 3 1zM1218 272l-3-8-1 0-6 2 3 5 2 2 4 0z"/><path fill="#989dd1" stroke="#989dd1" stroke-width=".6" d="M1187 283l-4-4-6 2 3 5 1 0zM1187 283l-4-4 3-7 1 0 5 8-2 2zM1199 275l-5-5-1-1-6 2 0 1 5 8 4 0 2-2z"/><path fill="#faf6f6" stroke="#faf6f6" stroke-width=".6" d="M1186 266l7-3 0 1 0 5-6 2zM1192 292l3 3-4 7-6-8 0 0zM1193 263l-2-4 0-1 6-1 1 0 1 5-6 2zM1198 278l-2 2 3 7 2 1 2 0 0-1 2-6zM1212 283l-2 4-7 0 2-6 3-1 3 2zM1217 296l-7 6-1 0-1-9 2-1 4 0zM1223 264l-2-6 7-3 3 9-6 1z"/><path fill="#3a45a8" stroke="#3a45a8" stroke-width=".6" d="M1190 286l0-4-3 1-6 3 3 6zM1193 269l1 1 9-5-4-3-6 2zM1200 296l8-3-5-5-2 0-1 7zM1218 276l-1-3-4 0-5 5 0 2 3 2z"/><path fill="#e33f43" stroke="#e33f43" stroke-width=".6" d="M1191 302l4-7 5 0 0 1 0 1-8 5z"/><path fill="#dedfef" stroke="#dedfef" stroke-width=".6" d="M1208 257l-2 0-2-3 4-4 10 0-1 0zM1231 264l0 5 0 3 0 4 0 18 0-18-23-26-7 0 7 0 10 0 10 5z"/><rect x="1161" y="252" width="68" height="49" fill="url(#r72)"/><path d="M1162.6,279.9C1162.6,278.8 1162.6,278.1 1162.9,276.7C1163.1,275.3 1163.6,273.2 1164.4,271.6C1165.2,270.0 1166.5,268.6 1167.6,267.3C1168.7,266.0 1169.6,264.9 1170.7,264.0C1171.8,263.0 1172.8,262.3 1174.0,261.4C1175.2,260.6 1176.3,259.7 1177.7,258.9C1179.1,258.1 1180.9,257.2 1182.5,256.6C1184.1,256.0 1185.4,255.5 1187.2,255.1C1188.9,254.6 1190.9,254.2 1193.1,253.9C1195.3,253.7 1198.1,253.3 1200.6,253.6C1203.1,253.9 1205.5,254.5 1208.0,255.5C1210.5,256.5 1213.2,258.0 1215.5,259.8C1217.8,261.6 1220.1,264.1 1221.8,266.2C1223.5,268.3 1224.7,270.9 1225.5,272.6C1226.3,274.4 1226.5,275.2 1226.6,276.7C1226.7,278.2 1226.7,279.7 1226.0,281.4C1225.4,283.1 1224.3,285.4 1222.9,286.7C1221.5,288.1 1219.5,288.6 1217.5,289.4C1215.6,290.2 1213.2,290.9 1211.2,291.6C1209.3,292.4 1207.7,293.0 1205.8,293.7C1203.9,294.4 1201.6,295.2 1199.8,295.8C1198.1,296.4 1197.0,297.0 1195.3,297.4C1193.6,297.8 1191.3,298.2 1189.7,298.2C1188.1,298.2 1187.0,298.0 1185.9,297.6C1184.8,297.2 1184.0,296.6 1183.4,295.8C1182.8,295.0 1182.7,293.6 1182.3,292.9C1181.9,292.2 1182.0,292.0 1181.1,291.7C1180.3,291.4 1178.6,291.5 1177.0,291.3C1175.5,291.2 1173.5,291.0 1172.0,290.7C1170.4,290.4 1169.1,290.1 1167.9,289.4C1166.6,288.7 1165.5,287.6 1164.7,286.6C1163.9,285.5 1163.5,284.2 1163.1,283.1C1162.8,281.9 1162.6,280.9 1162.6,279.9Z" fill="none" stroke="#000" stroke-opacity="0.18" stroke-width="2.40"/><path d="M1181.5,291.3C1182.2,290.6 1184.3,288.3 1185.9,286.9C1187.5,285.5 1189.3,284.1 1191.0,283.1C1192.6,282.0 1194.3,281.4 1196.0,280.5C1197.7,279.7 1199.6,278.8 1201.1,278.0C1202.6,277.1 1204.3,275.8 1204.9,275.4" fill="none" stroke="#000" stroke-opacity="0.45" stroke-width="0.80"/></g><path d="M1162.6,279.9C1162.6,278.8 1162.6,278.1 1162.9,276.7C1163.1,275.3 1163.6,273.2 1164.4,271.6C1165.2,270.0 1166.5,268.6 1167.6,267.3C1168.7,266.0 1169.6,264.9 1170.7,264.0C1171.8,263.0 1172.8,262.3 1174.0,261.4C1175.2,260.6 1176.3,259.7 1177.7,258.9C1179.1,258.1 1180.9,257.2 1182.5,256.6C1184.1,256.0 1185.4,255.5 1187.2,255.1C1188.9,254.6 1190.9,254.2 1193.1,253.9C1195.3,253.7 1198.1,253.3 1200.6,253.6C1203.1,253.9 1205.5,254.5 1208.0,255.5C1210.5,256.5 1213.2,258.0 1215.5,259.8C1217.8,261.6 1220.1,264.1 1221.8,266.2C1223.5,268.3 1224.7,270.9 1225.5,272.6C1226.3,274.4 1226.5,275.2 1226.6,276.7C1226.7,278.2 1226.7,279.7 1226.0,281.4C1225.4,283.1 1224.3,285.4 1222.9,286.7C1221.5,288.1 1219.5,288.6 1217.5,289.4C1215.6,290.2 1213.2,290.9 1211.2,291.6C1209.3,292.4 1207.7,293.0 1205.8,293.7C1203.9,294.4 1201.6,295.2 1199.8,295.8C1198.1,296.4 1197.0,297.0 1195.3,297.4C1193.6,297.8 1191.3,298.2 1189.7,298.2C1188.1,298.2 1187.0,298.0 1185.9,297.6C1184.8,297.2 1184.0,296.6 1183.4,295.8C1182.8,295.0 1182.7,293.6 1182.3,292.9C1181.9,292.2 1182.0,292.0 1181.1,291.7C1180.3,291.4 1178.6,291.5 1177.0,291.3C1175.5,291.2 1173.5,291.0 1172.0,290.7C1170.4,290.4 1169.1,290.1 1167.9,289.4C1166.6,288.7 1165.5,287.6 1164.7,286.6C1163.9,285.5 1163.5,284.2 1163.1,283.1C1162.8,281.9 1162.6,280.9 1162.6,279.9Z" fill="none" stroke="#3a3a3a" stroke-width="1.6"/></g>
<g transform="scale(.5)"><g clip-path="url(#k73)"><rect x="1232" y="252" width="68" height="49" fill="#989dd1"/><path fill="#8087c6" stroke="#8087c6" stroke-width=".6" d="M1230 261l0 12 0 6 0-3 0-26 4 6zM1243 290l-1 1-1 5 5 6 5-7zM1250 286l3 8 2 0 2-5-2-3zM1280 273l5-4-2-5-7 3-1 3zM1291 264l-8-1 0-4 3-3 2 0 2 0 2 8zM1281 278l5 0 5 4-2 4-7-2-1-5z"/><path fill="#4550ad" stroke="#4550ad" stroke-width=".6" d="M1237 257l-3-1-4 5 8 4 1 0zM1230 277l0-4 0-12 8 4-4 6-2 1zM1230 277l2-5 6 7-8 4zM1246 258l-1 5-4 3-2-1-2-8 1-1zM1245 271l-4 3-7-3 4-6 1 0 2 1zM1237 297l4-1 1-5-5-3-3 1 0 4zM1247 256l0-6-9 6 8 2 1-2zM1258 265l-2 5-4 2-3-1 2-7 1 0 2-1zM1248 284l2 2 5 0 0-6-7 2zM1257 295l6 7-18 0-15 0 16 0 5-7 2-1 2 0zM1262 276l0 0 0 2-7 1-3-7 4-2zM1277 258l6 1 0 4 0 1-7 3-1-4zM1275 270l0 0 5 3 1 5 0 1-5 1-5-2 1-1zM1271 295l2 0 7 1-2 6-7-6zM1286 256l2 0-29-6 1 0 13 0zM1292 264l-2-8 3-1 5 1-2 9-1 0zM1297 288l0 4 5 10 0 0-4-18z"/><path fill="#faf6f6" stroke="#faf6f6" stroke-width=".6" d="M1237 288l2-8 0-1-1 0-8 4 4 6zM1230 302l7-5-3-4-4 9zM1232 272l2-1 7 3-2 5-1 0zM1248 284l-4 4-1 2 8 5 2-1-3-8zM1288 256l-29-6-10 0 17 0 36 0-9 5-3 1zM1298 256l4-6 0 0-9 5zM1302 302l0 0-9-8 4-2z"/><path fill="#f8e8e9" stroke="#f8e8e9" stroke-width=".6" d="M1230 302l0-23 0-6 0 4 0 6 4 6 0 4zM1265 302l6-6 7 6 17 0 7 0-36 0-21 0 18 0z"/><path fill="#747cc1" stroke="#747cc1" stroke-width=".6" d="M1247 250l5 0 8 0-1 0-10 0-19 0 4 6 3 1 1-1zM1247 272l0 9-7-1-1 0 0-1 2-5 4-3zM1248 284l-4 4-4-8 7 1 1 1zM1268 261l-1-6-6 1 0 1 1 7 4 1 2-3zM1269 268l6 2-3 7-5-6zM1281 279l1 5-2 4-3 0-3-2 2-6z"/><path fill="#515bb2" stroke="#515bb2" stroke-width=".6" d="M1243 290l-1 1-5-3 2-8 1 0 4 8zM1230 302l0 0 16 0-5-6-4 1zM1254 259l-1-2 4-7 4 6 0 1zM1276 256l-8 5 0 1 7 1 2-5zM1269 268l-3-3 2-3 7 1 1 4-1 3 0 0zM1290 272l-4 6-5 0-1-5 5-4 2 1zM1280 296l3-2 5 1 0 0 7 7-17 0z"/><path fill="#8c92cb" stroke="#8c92cb" stroke-width=".6" d="M1252 264l-1 0-6-1 1-5 1-2zM1257 295l6 7 2 0-2-7zM1269 268l-3-3-4-1-1 1 1 11 0 0 5-5zM1262 286l1-7 5 1 3 7-1 1-7 0zM1263 295l2 7 6-6 0-1-1-1-5 0zM1291 264l-8-1 0 1 2 5 2 1zM1291 264l-4 6 3 2 2 0 3-7-3-1zM1297 288l0 4-4 2-5 1 0 0 1-9z"/><path fill="#eaeaf4" stroke="#eaeaf4" stroke-width=".6" d="M1249 271l2-7-6-1-4 3 4 5 2 1zM1247 256l0-6 5 0 5 0-4 7zM1248 282l-1-1 0-9 2-1 3 1 3 7 0 1zM1261 265l1 11-6-6 2-5zM1257 295l6 0 2-1-2-6-1-2-5 3-2 5z"/><path fill="#3a45a8" stroke="#3a45a8" stroke-width=".6" d="M1254 259l-1-2-6-1 0 0 5 8 2-1zM1294 274l8-4 0 0-7 10zM1295 280l0 0 3 4 4 18 0-26 0-26 0 20z"/><path fill="#ed8d90" stroke="#ed8d90" stroke-width=".6" d="M1261 265l-3 0-4-2 0-4 7-2 1 7zM1273 295l4-7 3 0 3 6-3 2z"/><path fill="#989dd1" stroke="#989dd1" stroke-width=".6" d="M1255 286l2 3 5-3 1-7-1-1-7 1 0 1zM1273 250l0 0-13 0-8 0 5 0 4 6 6-1zM1276 256l-3-6-6 5 1 6zM1289 286l0 0-1 9-5-1-3-6 2-4z"/><path fill="#5d66b7" stroke="#5d66b7" stroke-width=".6" d="M1267 271l-5 5 0 2 1 1 5 1 3-2 1-1zM1276 280l-2 6-3 1-3-7 3-2zM1271 287l3-1 3 2-4 7-2 0-1-1 0-6zM1276 256l-3-6 0 0 13 6-3 3-6-1zM1291 282l4-2 3 4-1 4-8-2 0 0zM1288 295l7 7 7 0 0 0-9-8zM1302 270l-6-5 2-9 4-6 0 0 0 20zM1295 265l1 0 6 5-8 4-2-2z"/><path fill="#e6595d" stroke="#e6595d" stroke-width=".6" d="M1265 294l5 0 0-6-7 0z"/><path fill="#eb8083" stroke="#eb8083" stroke-width=".6" d="M1290 272l-4 6 5 4 4-2 0 0-1-6-2-2z"/><rect x="1232" y="252" width="68" height="49" fill="url(#r74)"/><path d="M1297.6,279.9C1297.6,278.8 1297.6,278.1 1297.3,276.7C1297.1,275.3 1296.6,273.2 1295.8,271.6C1295.0,270.0 1293.7,268.6 1292.6,267.3C1291.5,266.0 1290.6,264.9 1289.5,264.0C1288.4,263.0 1287.4,262.3 1286.2,261.4C1285.0,260.6 1283.9,259.7 1282.5,258.9C1281.1,258.1 1279.3,257.2 1277.7,256.6C1276.1,256.0 1274.8,255.5 1273.0,255.1C1271.3,254.6 1269.3,254.2 1267.1,253.9C1264.9,253.7 1262.1,253.3 1259.6,253.6C1257.1,253.9 1254.7,254.5 1252.2,255.5C1249.7,256.5 1247.0,258.0 1244.7,259.8C1242.4,261.6 1240.1,264.1 1238.4,266.2C1236.7,268.3 1235.5,270.9 1234.7,272.6C1233.9,274.4 1233.7,275.2 1233.6,276.7C1233.5,278.2 1233.5,279.7 1234.2,281.4C1234.8,283.1 1235.9,285.4 1237.3,286.7C1238.7,288.1 1240.7,288.6 1242.7,289.4C1244.6,290.2 1247.0,290.9 1249.0,291.6C1250.9,292.4 1252.5,293.0 1254.4,293.7C1256.3,294.4 1258.6,295.2 1260.4,295.8C1262.1,296.4 1263.2,297.0 1264.9,297.4C1266.6,297.8 1268.9,298.2 1270.5,298.2C1272.1,298.2 1273.2,298.0 1274.3,297.6C1275.4,297.2 1276.2,296.6 1276.8,295.8C1277.4,295.0 1277.5,293.6 1277.9,292.9C1278.3,292.2 1278.2,292.0 1279.1,291.7C1279.9,291.4 1281.6,291.5 1283.2,291.3C1284.7,291.2 1286.7,291.0 1288.2,290.7C1289.8,290.4 1291.1,290.1 1292.3,289.4C1293.6,288.7 1294.7,287.6 1295.5,286.6C1296.3,285.5 1296.7,284.2 1297.1,283.1C1297.4,281.9 1297.6,280.9 1297.6,279.9Z" fill="none" stroke="#000" stroke-opacity="0.18" stroke-width="2.40"/><path d="M1278.7,291.3C1278.0,290.6 1275.9,288.3 1274.3,286.9C1272.7,285.5 1270.9,284.1 1269.2,283.1C1267.6,282.0 1265.9,281.4 1264.2,280.5C1262.5,279.7 1260.6,278.8 1259.1,278.0C1257.6,277.1 1255.9,275.8 1255.3,275.4" fill="none" stroke="#000" stroke-opacity="0.45" stroke-width="0.80"/></g><path d="M1297.6,279.9C1297.6,278.8 1297.6,278.1 1297.3,276.7C1297.1,275.3 1296.6,273.2 1295.8,271.6C1295.0,270.0 1293.7,268.6 1292.6,267.3C1291.5,266.0 1290.6,264.9 1289.5,264.0C1288.4,263.0 1287.4,262.3 1286.2,261.4C1285.0,260.6 1283.9,259.7 1282.5,258.9C1281.1,258.1 1279.3,257.2 1277.7,256.6C1276.1,256.0 1274.8,255.5 1273.0,255.1C1271.3,254.6 1269.3,254.2 1267.1,253.9C1264.9,253.7 1262.1,253.3 1259.6,253.6C1257.1,253.9 1254.7,254.5 1252.2,255.5C1249.7,256.5 1247.0,258.0 1244.7,259.8C1242.4,261.6 1240.1,264.1 1238.4,266.2C1236.7,268.3 1235.5,270.9 1234.7,272.6C1233.9,274.4 1233.7,275.2 1233.6,276.7C1233.5,278.2 1233.5,279.7 1234.2,281.4C1234.8,283.1 1235.9,285.4 1237.3,286.7C1238.7,288.1 1240.7,288.6 1242.7,289.4C1244.6,290.2 1247.0,290.9 1249.0,291.6C1250.9,292.4 1252.5,293.0 1254.4,293.7C1256.3,294.4 1258.6,295.2 1260.4,295.8C1262.1,296.4 1263.2,297.0 1264.9,297.4C1266.6,297.8 1268.9,298.2 1270.5,298.2C1272.1,298.2 1273.2,298.0 1274.3,297.6C1275.4,297.2 1276.2,296.6 1276.8,295.8C1277.4,295.0 1277.5,293.6 1277.9,292.9C1278.3,292.2 1278.2,292.0 1279.1,291.7C1279.9,291.4 1281.6,291.5 1283.2,291.3C1284.7,291.2 1286.7,291.0 1288.2,290.7C1289.8,290.4 1291.1,290.1 1292.3,289.4C1293.6,288.7 1294.7,287.6 1295.5,286.6C1296.3,285.5 1296.7,284.2 1297.1,283.1C1297.4,281.9 1297.6,280.9 1297.6,279.9Z" fill="none" stroke="#3a3a3a" stroke-width="1.6"/></g>
<g transform="scale(.5)"><g clip-path="url(#k75)"><rect x="1161" y="298" width="68" height="51" fill="#515bb2"/><path fill="#6971bc" stroke="#6971bc" stroke-width=".6" d="M1164 307l5-4-10-7 0 0 0 11zM1188 306l-9-4 7-6 2 9zM1192 343l3-5 6 0 1 3 0 1-6 4zM1202 341l6 1 3-8-1-1-9 4 0 1z"/><path fill="#bbbee0" stroke="#bbbee0" stroke-width=".6" d="M1164 307l4 7-2 2-7-9zM1173 308l7 4 0 4-4 2-6-5zM1203 302l-3 2 1 6 5-1 3-4-2-2zM1231 336l0 15 0-4-4-27-1 0-3 8 8 5z"/><path fill="#f1b4b6" stroke="#f1b4b6" stroke-width=".6" d="M1159 307l0-11 0 27 0 3 0 1 6-9 1-2zM1182 334l-2 3 0 2 6 5 0 0 1-1 1-6-2-3zM1193 331l-3-3 1-3 5-3 7 2 0 2-3 4zM1212 334l-1 0-1-1-1-2 8-5 4 2 0 1z"/><path fill="#eaeaf4" stroke="#eaeaf4" stroke-width=".6" d="M1159 327l0 4 3-3 4-8-1-2zM1159 351l9-6-2-5-7 11 0 0zM1209 343l-5 8-1 0 12-7zM1224 342l0-5-3-3-4 4 0 5 5 2z"/><path fill="#ee9a9c" stroke="#ee9a9c" stroke-width=".6" d="M1167 337l-1 1-7-7 3-3 5 3zM1200 313l4 5 5-2 1-4-4-3-5 1zM1224 342l7-6 0 15 0 0-9-6z"/><path fill="#5d66b7" stroke="#5d66b7" stroke-width=".6" d="M1159 326l0 25 7-11 0-2-7-7 0-4zM1164 307l5-4 4 1 0 4-3 5-2 1zM1196 313l-2 3-6 1-1-8 0-1 9 5zM1202 342l2 9 5-8-1-1-6-1z"/><path fill="#e6595d" stroke="#e6595d" stroke-width=".6" d="M1173 304l2-1 20-7 0 0-36 0 10 7zM1182 327l-7-1-1 0 0-1 2-7 4-2 4 2-2 9zM1194 316l2 6-5 3-4-8 1 0zM1210 296l-7 6 4 1 5-7zM1209 305l4-1 3 6-6 2-4-3zM1218 311l-2-1-6 2-1 4 5 5 1 0 3-3zM1217 326l-2-5 3-3 8 2-3 8-2 0z"/><path fill="#afb3db" stroke="#afb3db" stroke-width=".6" d="M1168 314l2-1 6 5-2 7-8-5-1-2 1-2zM1187 309l-4 1-6-7 2-1 9 4-1 2zM1195 338l-2-3 0-4 7-1 1 7 0 1zM1210 333l-9 4-1-7 3-4 2 0 4 5zM1231 347l0-24 0-27-6 16 2 8z"/><path fill="#e44c50" stroke="#e44c50" stroke-width=".6" d="M1166 320l-4 8 5 3 7-5 0-1zM1159 351l17-1 10-6 0 0 10 7 4 0 12 0-17 0-36 0zM1196 313l4 0 4 5-1 6-7-2-2-6zM1205 326l-2 0 0-2 1-6 5-2 5 5zM1222 345l9 6-19 0-12 0 3 0 12-7 2-1z"/><path fill="#f0a7a9" stroke="#f0a7a9" stroke-width=".6" d="M1175 326l-1 0-7 5 0 6 4 1 5-6zM1159 351l9-6 6-1 2 6zM1192 343l-5 0-1 1 10 7 0-5zM1196 313l4 0 1-3-1-6-3-2-3 2 2 9zM1212 296l3 4-2 4-4 1-2-2zM1209 331l-4-5 9-5 1 0 2 5zM1210 296l-5 0 16 0 10 0-9 6-7-2-3-4zM1223 309l1-2-2-5-7-2-2 4 3 6 2 1zM1224 342l7-6 0-3-7 4z"/><path fill="#f3c1c3" stroke="#f3c1c3" stroke-width=".6" d="M1167 337l-1 1 0 2 2 5 6-1 2-3-5-3zM1186 334l2 3 5-2 0-4-3-3-1 0z"/><path fill="#e33f43" stroke="#e33f43" stroke-width=".6" d="M1177 303l2-1 7-6 6 0 13 0 16 0-26 0-20 7zM1173 304l2-1 2 0 6 7-3 2-7-4zM1188 317l-1 0-3 1-4-2 0-4 3-2 4-1zM1221 334l0-5 0-1 2 0 8 5-7 4z"/><path fill="#c7c9e5" stroke="#c7c9e5" stroke-width=".6" d="M1182 334l-2 3-4-5-1-6 7 1z"/><path fill="#faf6f6" stroke="#faf6f6" stroke-width=".6" d="M1176 332l-5 6 5 3 4-2 0-2zM1189 328l1 0 1-3-4-8-3 1-2 9zM1221 334l0-5-9 5 5 4zM1224 307l7-11 0 0-9 6zM1223 309l1-2 7-11 0 0-6 16z"/><path fill="#515bb2" stroke="#515bb2" stroke-width=".6" d="M1186 344l-6-5-4 2-2 3 2 6zM1194 304l-6 1-2-9 6 0 5 6z"/><path fill="#f8e8e9" stroke="#f8e8e9" stroke-width=".6" d="M1182 334l0-7 0 0 7 1-3 6zM1196 313l-2-9-6 1 0 1-1 2zM1192 343l-5 0 1-6 5-2 2 3zM1210 296l-5 0-13 0 5 6 3 2 3-2z"/><path fill="#e86669" stroke="#e86669" stroke-width=".6" d="M1196 346l0 5 4 0 3 0 1 0-2-9z"/><path fill="#a3a8d6" stroke="#a3a8d6" stroke-width=".6" d="M1217 343l-2 1-6-1-1-1 3-8 1 0 5 4zM1226 320l-8-2 0-7 5-2 2 3 2 8z"/><rect x="1161" y="298" width="68" height="51" fill="url(#r76)"/><path d="M1162.6,328.6C1162.7,327.1 1162.9,324.4 1163.6,322.0C1164.2,319.7 1165.2,317.0 1166.5,314.8C1167.7,312.6 1169.2,310.6 1170.9,308.8C1172.7,307.1 1174.5,305.5 1176.7,304.2C1179.0,302.9 1181.8,301.6 1184.4,300.9C1187.1,300.2 1190.0,300.1 1192.8,300.0C1195.6,299.9 1198.4,300.2 1201.1,300.6C1203.8,301.0 1206.4,301.6 1208.8,302.6C1211.3,303.5 1213.8,304.8 1215.9,306.2C1217.9,307.6 1219.5,309.1 1221.0,310.8C1222.5,312.6 1223.9,314.8 1224.9,316.8C1225.8,318.7 1226.4,320.7 1226.6,322.7C1226.8,324.7 1226.7,326.8 1226.2,328.6C1225.6,330.5 1224.7,332.7 1223.6,333.9C1222.5,335.2 1221.3,335.6 1219.7,336.2C1218.1,336.8 1215.8,337.2 1214.0,337.6C1212.1,337.9 1209.8,337.8 1208.8,338.5C1207.8,339.3 1208.4,340.7 1207.9,341.8C1207.3,343.0 1206.5,344.7 1205.6,345.5C1204.7,346.3 1203.6,346.8 1202.4,346.8C1201.2,346.8 1199.9,346.0 1198.5,345.5C1197.2,344.9 1195.8,344.2 1194.1,343.5C1192.3,342.8 1190.3,342.2 1188.3,341.5C1186.2,340.9 1184.1,340.2 1181.9,339.5C1179.6,338.9 1176.9,338.2 1174.8,337.6C1172.7,337.0 1170.6,336.5 1169.0,335.9C1167.4,335.3 1166.1,334.7 1165.2,333.9C1164.2,333.2 1163.7,332.2 1163.2,331.3C1162.8,330.4 1162.5,330.2 1162.6,328.6Z" fill="none" stroke="#000" stroke-opacity="0.18" stroke-width="2.40"/></g><path d="M1182.8,325.0C1182.7,323.7 1183.0,322.5 1183.6,321.5C1184.2,320.4 1184.9,319.5 1186.2,318.8C1187.5,318.2 1189.3,317.9 1191.4,317.5C1193.4,317.1 1196.4,316.8 1198.3,316.6C1200.2,316.3 1201.2,316.0 1202.6,316.2C1204.0,316.3 1205.5,316.9 1206.9,317.5C1208.3,318.1 1209.7,318.7 1211.2,319.7C1212.6,320.6 1214.6,321.9 1215.6,323.2C1216.5,324.6 1217.2,326.4 1217.1,327.7C1216.9,328.9 1215.6,329.9 1214.7,330.8C1213.7,331.6 1212.2,331.9 1211.2,332.5C1210.2,333.1 1209.3,333.7 1208.6,334.3C1207.9,335.0 1207.2,335.6 1206.9,336.6C1206.5,337.5 1206.8,339.0 1206.5,340.1C1206.2,341.2 1205.8,342.5 1205.2,343.2C1204.5,343.8 1203.7,344.2 1202.6,344.1C1201.4,344.0 1199.7,343.4 1198.3,342.8C1196.9,342.2 1195.4,341.4 1194.0,340.5C1192.6,339.6 1191.0,338.5 1189.7,337.4C1188.4,336.3 1187.2,335.2 1186.2,333.9C1185.3,332.5 1184.6,330.9 1184.0,329.4C1183.5,328.0 1182.8,326.3 1182.8,325.0Z" fill="url(#g77)"/><path d="M1192.1,316.8C1192.8,316.6 1194.5,316.0 1196.0,315.8C1197.5,315.6 1199.5,315.4 1201.1,315.4C1202.7,315.5 1204.2,315.9 1205.6,316.2C1207.0,316.6 1208.3,317.2 1209.5,317.8C1210.6,318.3 1212.1,319.4 1212.7,319.7" fill="none" stroke="#111" stroke-opacity="0.85" stroke-width="0.80" stroke-linecap="round"/><path d="M1189.7,337.4C1190.5,337.8 1193.0,339.3 1194.7,339.9C1196.4,340.4 1198.2,340.8 1199.8,340.9C1201.4,340.9 1203.2,340.7 1204.3,340.2C1205.4,339.7 1206.2,338.3 1206.6,337.9" fill="none" stroke="#888" stroke-opacity="0.6" stroke-width="0.60"/><path d="M1162.6,328.6C1162.7,327.1 1162.9,324.4 1163.6,322.0C1164.2,319.7 1165.2,317.0 1166.5,314.8C1167.7,312.6 1169.2,310.6 1170.9,308.8C1172.7,307.1 1174.5,305.5 1176.7,304.2C1179.0,302.9 1181.8,301.6 1184.4,300.9C1187.1,300.2 1190.0,300.1 1192.8,300.0C1195.6,299.9 1198.4,300.2 1201.1,300.6C1203.8,301.0 1206.4,301.6 1208.8,302.6C1211.3,303.5 1213.8,304.8 1215.9,306.2C1217.9,307.6 1219.5,309.1 1221.0,310.8C1222.5,312.6 1223.9,314.8 1224.9,316.8C1225.8,318.7 1226.4,320.7 1226.6,322.7C1226.8,324.7 1226.7,326.8 1226.2,328.6C1225.6,330.5 1224.7,332.7 1223.6,333.9C1222.5,335.2 1221.3,335.6 1219.7,336.2C1218.1,336.8 1215.8,337.2 1214.0,337.6C1212.1,337.9 1209.8,337.8 1208.8,338.5C1207.8,339.3 1208.4,340.7 1207.9,341.8C1207.3,343.0 1206.5,344.7 1205.6,345.5C1204.7,346.3 1203.6,346.8 1202.4,346.8C1201.2,346.8 1199.9,346.0 1198.5,345.5C1197.2,344.9 1195.8,344.2 1194.1,343.5C1192.3,342.8 1190.3,342.2 1188.3,341.5C1186.2,340.9 1184.1,340.2 1181.9,339.5C1179.6,338.9 1176.9,338.2 1174.8,337.6C1172.7,337.0 1170.6,336.5 1169.0,335.9C1167.4,335.3 1166.1,334.7 1165.2,333.9C1164.2,333.2 1163.7,332.2 1163.2,331.3C1162.8,330.4 1162.5,330.2 1162.6,328.6Z" fill="none" stroke="#3a3a3a" stroke-width="1.6"/></g>
<g transform="scale(.5)"><g clip-path="url(#k78)"><rect x="1232" y="298" width="68" height="51" fill="#f6dbdc"/><path fill="#eaeaf4" stroke="#eaeaf4" stroke-width=".6" d="M1235 306l3-4-8-6 0 0 0 11zM1237 338l-1-1-3-10 4-2 7 4 0 3zM1271 343l-5-3 3-7 0 0 6 7zM1272 307l7-4-3-7-6 8zM1277 340l3 4-10 7-1 0 2-8 4-3 0 0zM1285 304l-4 0-4 9 2 2 6-4z"/><path fill="#a3a8d6" stroke="#a3a8d6" stroke-width=".6" d="M1239 311l-4-5-5 1 7 7zM1247 336l-3-4-7 6 1 4 9-2zM1263 305l5-1 2 0 2 3 0 2-5 2zM1292 311l-4 2-3-2 0-7 3-1 3 2z"/><path fill="#faf6f6" stroke="#faf6f6" stroke-width=".6" d="M1236 317l-6 5 0-6 0-20 0 11 7 7zM1244 304l-1-1 9-7-1 8zM1247 336l0 4 4 5 1 0-1-9zM1255 316l-1 0-4 2 2 7 5 0 1-3zM1279 303l2 1 4 0 3-1 14-7 0 0-36 0-27 0 17 0 20 0zM1281 336l5 0 1-3 0-2-8-2-2 1 1 0z"/><path fill="#6971bc" stroke="#6971bc" stroke-width=".6" d="M1238 319l-1 6-4 2-3-5 6-5zM1254 316l-2-6 0-1-7 3 1 6 4 0zM1277 330l2-1 3-8 0-1-2-2-8 4 1 3 4 4z"/><path fill="#f8e8e9" stroke="#f8e8e9" stroke-width=".6" d="M1233 327l3 10-6-18 0-3 0 6zM1237 344l17 7-5 0-11-7zM1245 312l7-3-1-4 0-1-7 0-1 6zM1255 316l6-2 3 2 1 2-7 4zM1292 325l4 9 1 0 5 0-8-11z"/><path fill="#5d66b7" stroke="#5d66b7" stroke-width=".6" d="M1237 344l-7 7 0-28 0-4 6 18 1 1 1 4 0 2zM1278 330l-1 0 0-1-8 4 6 7 0 0zM1288 342l3 0 6-8-1 0-9-1-1 3zM1292 311l-1-6 4-2 7 3-8 7zM1294 320l0 3 8 11 0 1 0-1 0-11 0-5-6 0z"/><path fill="#f3c1c3" stroke="#f3c1c3" stroke-width=".6" d="M1237 344l-7 7 36 0 8 0-20 0zM1288 342l3 0 6 2-5 7-5-8z"/><path fill="#ee9a9c" stroke="#ee9a9c" stroke-width=".6" d="M1255 296l1 0-17 0-9 0 8 6 5 1 9-7zM1250 318l-4 0-1 0 0 10 4 0 3-3zM1249 328l5 6-3 2-4 0-3-4 0-3 1-1zM1255 316l-1 0-2-6 8-1 1 5zM1252 325l-3 3 5 6 2 0 2-8-1-1zM1264 316l3-5-4-6-1 0-2 4 1 5z"/><path fill="#f6dbdc" stroke="#f6dbdc" stroke-width=".6" d="M1243 310l-4 1-4-5 3-4 5 1 1 1z"/><path fill="#e6595d" stroke="#e6595d" stroke-width=".6" d="M1245 312l1 6-1 0-7 1-2-2 1-3 2-3 4-1zM1260 303l2 2 1 0 5-1-12-8zM1265 330l4 3-3 7-4 1-2-1-1-4zM1292 311l-4 2 0 5 6 2 2-2-2-5zM1294 320l0 3-2 2-3 1-7-5 0-1 6-2z"/><path fill="#e33f43" stroke="#e33f43" stroke-width=".6" d="M1245 318l-7 1-1 6 7 4 1-1zM1256 296l12 8 2 0 6-8-20 0-1 0zM1265 329l8-4-1-3-5-3 0 0-3 9zM1281 336l5 0 2 6-1 1-7 1-3-4z"/><path fill="#dedfef" stroke="#dedfef" stroke-width=".6" d="M1247 340l-9 2 0 2 11 7 2-6z"/><path fill="#c7c9e5" stroke="#c7c9e5" stroke-width=".6" d="M1251 304l1-8 3 0 1 0 4 7-9 2zM1256 334l-2 0-3 2 1 9 1 0 7-5-1-4z"/><path fill="#afb3db" stroke="#afb3db" stroke-width=".6" d="M1260 309l2-4-2-2-9 2 1 4 0 1zM1265 330l-6 6-3-2 2-8 6 2 1 1zM1264 351l-2-10-2-1-7 5zM1264 316l3-5 5-2 2 4-7 6 0 0-2-1zM1265 330l4 3 0 0 8-4-4-4-8 4zM1271 343l-2 8-5 0-2-10 4-1zM1295 303l7-7-14 7 3 2zM1302 334l0 1-5 9-6-2 6-8z"/><path fill="#f1b4b6" stroke="#f1b4b6" stroke-width=".6" d="M1264 351l5 0 1 0 32 0-28 0-20 0-5 0 2-6 1 0 1 0zM1258 322l-1 3 1 1 6 2 3-9-2-1zM1272 309l2 4 3 0 4-9-2-1-7 4zM1292 325l-3 1-2 5 0 2 9 1z"/><path fill="#e44c50" stroke="#e44c50" stroke-width=".6" d="M1267 319l5 3 8-4-1-3-2-2-3 0zM1297 344l5-9 0-1 0 17-10 0z"/><path fill="#bbbee0" stroke="#bbbee0" stroke-width=".6" d="M1281 336l-4 4-2 0 3-10z"/><path fill="#e86669" stroke="#e86669" stroke-width=".6" d="M1288 318l-6 2-2-2-1-3 6-4 3 2z"/><path fill="#515bb2" stroke="#515bb2" stroke-width=".6" d="M1279 329l3-8 7 5-2 5zM1295 303l7-7 0 0 0 0 0 10z"/><path fill="#f0a7a9" stroke="#f0a7a9" stroke-width=".6" d="M1287 343l5 8 10 0 0 0-32 0 10-7zM1294 313l2 5 6 0 0-22 0 10z"/><rect x="1232" y="298" width="68" height="51" fill="url(#r79)"/><path d="M1297.6,328.6C1297.5,327.1 1297.3,324.4 1296.6,322.0C1296.0,319.7 1295.0,317.0 1293.7,314.8C1292.5,312.6 1291.0,310.6 1289.3,308.8C1287.5,307.1 1285.7,305.5 1283.5,304.2C1281.2,302.9 1278.4,301.6 1275.8,300.9C1273.1,300.2 1270.2,300.1 1267.4,300.0C1264.6,299.9 1261.8,300.2 1259.1,300.6C1256.4,301.0 1253.8,301.6 1251.4,302.6C1248.9,303.5 1246.4,304.8 1244.3,306.2C1242.3,307.6 1240.7,309.1 1239.2,310.8C1237.7,312.6 1236.3,314.8 1235.3,316.8C1234.4,318.7 1233.8,320.7 1233.6,322.7C1233.4,324.7 1233.5,326.8 1234.0,328.6C1234.6,330.5 1235.5,332.7 1236.6,333.9C1237.7,335.2 1238.9,335.6 1240.5,336.2C1242.1,336.8 1244.4,337.2 1246.2,337.6C1248.1,337.9 1250.4,337.8 1251.4,338.5C1252.4,339.3 1251.8,340.7 1252.3,341.8C1252.9,343.0 1253.7,344.7 1254.6,345.5C1255.5,346.3 1256.6,346.8 1257.8,346.8C1259.0,346.8 1260.3,346.0 1261.7,345.5C1263.0,344.9 1264.4,344.2 1266.1,343.5C1267.9,342.8 1269.9,342.2 1271.9,341.5C1274.0,340.9 1276.1,340.2 1278.3,339.5C1280.6,338.9 1283.3,338.2 1285.4,337.6C1287.5,337.0 1289.6,336.5 1291.2,335.9C1292.8,335.3 1294.1,334.7 1295.0,333.9C1296.0,333.2 1296.5,332.2 1297.0,331.3C1297.4,330.4 1297.7,330.2 1297.6,328.6Z" fill="none" stroke="#000" stroke-opacity="0.18" stroke-width="2.40"/></g><path d="M1277.4,325.0C1277.5,323.7 1277.2,322.5 1276.6,321.5C1276.0,320.4 1275.3,319.5 1274.0,318.8C1272.7,318.2 1270.9,317.9 1268.8,317.5C1266.8,317.1 1263.8,316.8 1261.9,316.6C1260.0,316.3 1259.0,316.0 1257.6,316.2C1256.2,316.3 1254.7,316.9 1253.3,317.5C1251.9,318.1 1250.5,318.7 1249.0,319.7C1247.6,320.6 1245.6,321.9 1244.6,323.2C1243.7,324.6 1243.0,326.4 1243.1,327.7C1243.3,328.9 1244.6,329.9 1245.5,330.8C1246.5,331.6 1248.0,331.9 1249.0,332.5C1250.0,333.1 1250.9,333.7 1251.6,334.3C1252.3,335.0 1253.0,335.6 1253.3,336.6C1253.7,337.5 1253.4,339.0 1253.7,340.1C1254.0,341.2 1254.4,342.5 1255.0,343.2C1255.7,343.8 1256.5,344.2 1257.6,344.1C1258.8,344.0 1260.5,343.4 1261.9,342.8C1263.3,342.2 1264.8,341.4 1266.2,340.5C1267.6,339.6 1269.2,338.5 1270.5,337.4C1271.8,336.3 1273.0,335.2 1274.0,333.9C1274.9,332.5 1275.6,330.9 1276.2,329.4C1276.7,328.0 1277.4,326.3 1277.4,325.0Z" fill="url(#g80)"/><path d="M1268.1,316.8C1267.4,316.6 1265.7,316.0 1264.2,315.8C1262.7,315.6 1260.7,315.4 1259.1,315.4C1257.5,315.5 1256.0,315.9 1254.6,316.2C1253.2,316.6 1251.9,317.2 1250.7,317.8C1249.6,318.3 1248.1,319.4 1247.5,319.7" fill="none" stroke="#111" stroke-opacity="0.85" stroke-width="0.80" stroke-linecap="round"/><path d="M1270.5,337.4C1269.7,337.8 1267.2,339.3 1265.5,339.9C1263.8,340.4 1262.0,340.8 1260.4,340.9C1258.8,340.9 1257.0,340.7 1255.9,340.2C1254.8,339.7 1254.0,338.3 1253.6,337.9" fill="none" stroke="#888" stroke-opacity="0.6" stroke-width="0.60"/><path d="M1297.6,328.6C1297.5,327.1 1297.3,324.4 1296.6,322.0C1296.0,319.7 1295.0,317.0 1293.7,314.8C1292.5,312.6 1291.0,310.6 1289.3,308.8C1287.5,307.1 1285.7,305.5 1283.5,304.2C1281.2,302.9 1278.4,301.6 1275.8,300.9C1273.1,300.2 1270.2,300.1 1267.4,300.0C1264.6,299.9 1261.8,300.2 1259.1,300.6C1256.4,301.0 1253.8,301.6 1251.4,302.6C1248.9,303.5 1246.4,304.8 1244.3,306.2C1242.3,307.6 1240.7,309.1 1239.2,310.8C1237.7,312.6 1236.3,314.8 1235.3,316.8C1234.4,318.7 1233.8,320.7 1233.6,322.7C1233.4,324.7 1233.5,326.8 1234.0,328.6C1234.6,330.5 1235.5,332.7 1236.6,333.9C1237.7,335.2 1238.9,335.6 1240.5,336.2C1242.1,336.8 1244.4,337.2 1246.2,337.6C1248.1,337.9 1250.4,337.8 1251.4,338.5C1252.4,339.3 1251.8,340.7 1252.3,341.8C1252.9,343.0 1253.7,344.7 1254.6,345.5C1255.5,346.3 1256.6,346.8 1257.8,346.8C1259.0,346.8 1260.3,346.0 1261.7,345.5C1263.0,344.9 1264.4,344.2 1266.1,343.5C1267.9,342.8 1269.9,342.2 1271.9,341.5C1274.0,340.9 1276.1,340.2 1278.3,339.5C1280.6,338.9 1283.3,338.2 1285.4,337.6C1287.5,337.0 1289.6,336.5 1291.2,335.9C1292.8,335.3 1294.1,334.7 1295.0,333.9C1296.0,333.2 1296.5,332.2 1297.0,331.3C1297.4,330.4 1297.7,330.2 1297.6,328.6Z" fill="none" stroke="#3a3a3a" stroke-width="1.6"/></g>
<line x1="614" y1="127" x2="505.0" y2="93.2" stroke="#4a90d9" stroke-width="2.8"/>
<polygon points="497.4,90.8 507.1,89.9 504.9,97.0" fill="#4a90d9"/>
<line x1="531.2" y1="127" x2="567.7" y2="96.6" stroke="#4a90d9" stroke-width="2.8"/>
<polygon points="573.8,91.5 569.3,100.1 564.5,94.4" fill="#4a90d9"/>
<rect x="479.2" y="149.2" width="2.2" height="2.2" rx="0.6" fill="#111"/>
<rect x="486.09999999999997" y="149.2" width="2.2" height="2.2" rx="0.6" fill="#111"/>
<rect x="493.09999999999997" y="149.2" width="2.2" height="2.2" rx="0.6" fill="#111"/>
<rect x="660.6" y="149.2" width="2.2" height="2.2" rx="0.6" fill="#111"/>
<rect x="667.9" y="149.2" width="2.2" height="2.2" rx="0.6" fill="#111"/>
<rect x="675.6" y="149.2" width="2.2" height="2.2" rx="0.6" fill="#111"/>
<text x="532.3" y="186.3" font-size="11.2" text-anchor="middle" fill="#1a1a1a" stroke="#1a1a1a" >ID <tspan font-style="italic">i</tspan></text>
<text x="613.8" y="186.3" font-size="11.2" text-anchor="middle" fill="#1a1a1a" stroke="#1a1a1a" >ID <tspan font-style="italic">i+1</tspan></text>
<text x="573.9" y="205.1" font-size="12.8" text-anchor="middle" fill="#1a1a1a" stroke="#1a1a1a" >HCP-D individual RBD maps</text>
<text x="118.6" y="257" font-size="21.5" text-anchor="start" fill="#1a1a1a" stroke="#1a1a1a" >D</text>
<rect x="278.9" y="247.9" width="32.6" height="9.5" fill="#cde0f1" stroke="#0072bd" stroke-width="1.1"/>
<text x="313.5" y="256.6" font-size="10" text-anchor="start" fill="#1a1a1a" stroke="#1a1a1a" >P1</text>
<rect x="331.9" y="247.9" width="32.6" height="9.5" fill="#f7dbcf" stroke="#d95319" stroke-width="1.1"/>
<text x="366.5" y="256.6" font-size="10" text-anchor="start" fill="#1a1a1a" stroke="#1a1a1a" >P2</text>
<rect x="385" y="247.9" width="32.6" height="9.5" fill="#fcefd3" stroke="#edb120" stroke-width="1.1"/>
<text x="419.6" y="256.6" font-size="10" text-anchor="start" fill="#1a1a1a" stroke="#1a1a1a" >P3</text>
<line x1="218.5" y1="274.4" x2="218.5" y2="416" stroke="#cccccc" stroke-width="0.9"/>
<line x1="273.5" y1="274.4" x2="273.5" y2="416" stroke="#cccccc" stroke-width="0.9"/>
<line x1="328.5" y1="274.4" x2="328.5" y2="416" stroke="#cccccc" stroke-width="0.9"/>
<line x1="383.5" y1="274.4" x2="383.5" y2="416" stroke="#cccccc" stroke-width="0.9"/>
<line x1="438.5" y1="274.4" x2="438.5" y2="416" stroke="#cccccc" stroke-width="0.9"/>
<line x1="493.5" y1="274.4" x2="493.5" y2="416" stroke="#cccccc" stroke-width="0.9"/>
<path d="M163.5,274.4 V416.5 H547.6" fill="none" stroke="#333" stroke-width="0.9"/>
<line x1="163.5" y1="416.0" x2="167.5" y2="416.0" stroke="#333" stroke-width="0.8"/>
<text x="159.5" y="420.2" font-size="10.4" text-anchor="end" fill="#262626" stroke="#262626" >40</text>
<line x1="163.5" y1="392.4" x2="167.5" y2="392.4" stroke="#333" stroke-width="0.8"/>
<text x="159.5" y="396.6" font-size="10.4" text-anchor="end" fill="#262626" stroke="#262626" >60</text>
<line x1="163.5" y1="368.8" x2="167.5" y2="368.8" stroke="#333" stroke-width="0.8"/>
<text x="159.5" y="373.0" font-size="10.4" text-anchor="end" fill="#262626" stroke="#262626" >80</text>
<line x1="163.5" y1="345.2" x2="167.5" y2="345.2" stroke="#333" stroke-width="0.8"/>
<text x="159.5" y="349.4" font-size="10.4" text-anchor="end" fill="#262626" stroke="#262626" >100</text>
<line x1="163.5" y1="321.6" x2="167.5" y2="321.6" stroke="#333" stroke-width="0.8"/>
<text x="159.5" y="325.8" font-size="10.4" text-anchor="end" fill="#262626" stroke="#262626" >120</text>
<line x1="163.5" y1="298.0" x2="167.5" y2="298.0" stroke="#333" stroke-width="0.8"/>
<text x="159.5" y="302.2" font-size="10.4" text-anchor="end" fill="#262626" stroke="#262626" >140</text>
<line x1="163.5" y1="274.4" x2="167.5" y2="274.4" stroke="#333" stroke-width="0.8"/>
<text x="159.5" y="278.6" font-size="10.4" text-anchor="end" fill="#262626" stroke="#262626" >160</text>
<text x="0" y="0" font-size="11.2" text-anchor="middle" fill="#262626" stroke="#262626" transform="translate(137.3,345.4) rotate(-90)">Score</text>
<line x1="191.2" y1="416" x2="191.2" y2="412.3" stroke="#333" stroke-width="0.8"/>
<text x="191.2" y="429.6" font-size="10.4" text-anchor="middle" fill="#262626" stroke="#262626" >CardSort</text>
<line x1="172.8" y1="298.0" x2="172.8" y2="388.9" stroke="#3d3d3d" stroke-width="1.3"/>
<line x1="170.8" y1="298.0" x2="174.8" y2="298.0" stroke="#3d3d3d" stroke-width="1.3"/>
<line x1="170.8" y1="388.9" x2="174.8" y2="388.9" stroke="#3d3d3d" stroke-width="1.3"/>
<rect x="168.1" y="332.2" width="9.4" height="26.0" rx="0.3" fill="#cde0f1" stroke="#0072bd" stroke-width="1.2"/>
<line x1="168.1" y1="345.2" x2="177.5" y2="345.2" stroke="#0072bd" stroke-width="1.2"/>
<circle cx="172.8" cy="290.9" r="3.0" fill="none" stroke="#0072bd" stroke-width="1.1"/>
<line x1="191.2" y1="290.9" x2="191.2" y2="384.1" stroke="#3d3d3d" stroke-width="1.3"/>
<line x1="189.2" y1="290.9" x2="193.2" y2="290.9" stroke="#3d3d3d" stroke-width="1.3"/>
<line x1="189.2" y1="384.1" x2="193.2" y2="384.1" stroke="#3d3d3d" stroke-width="1.3"/>
<rect x="186.5" y="325.1" width="9.4" height="28.3" rx="0.3" fill="#f7dbcf" stroke="#d95319" stroke-width="1.2"/>
<line x1="186.5" y1="339.3" x2="195.9" y2="339.3" stroke="#d95319" stroke-width="1.2"/>
<line x1="209.6" y1="290.9" x2="209.6" y2="385.3" stroke="#3d3d3d" stroke-width="1.3"/>
<line x1="207.6" y1="290.9" x2="211.6" y2="290.9" stroke="#3d3d3d" stroke-width="1.3"/>
<line x1="207.6" y1="385.3" x2="211.6" y2="385.3" stroke="#3d3d3d" stroke-width="1.3"/>
<rect x="204.9" y="326.3" width="9.4" height="26.0" rx="0.3" fill="#fcefd3" stroke="#edb120" stroke-width="1.2"/>
<line x1="204.9" y1="339.3" x2="214.3" y2="339.3" stroke="#edb120" stroke-width="1.2"/>
<circle cx="209.6" cy="392.4" r="3.0" fill="none" stroke="#edb120" stroke-width="1.1"/>
<line x1="246.0" y1="416" x2="246.0" y2="412.3" stroke="#333" stroke-width="0.8"/>
<text x="246.0" y="429.6" font-size="10.4" text-anchor="middle" fill="#262626" stroke="#262626" >Flanker</text>
<line x1="227.6" y1="322.8" x2="227.6" y2="388.9" stroke="#3d3d3d" stroke-width="1.3"/>
<line x1="225.6" y1="322.8" x2="229.6" y2="322.8" stroke="#3d3d3d" stroke-width="1.3"/>
<line x1="225.6" y1="388.9" x2="229.6" y2="388.9" stroke="#3d3d3d" stroke-width="1.3"/>
<rect x="222.9" y="347.6" width="9.4" height="17.7" rx="0.3" fill="#cde0f1" stroke="#0072bd" stroke-width="1.2"/>
<line x1="222.9" y1="357.0" x2="232.3" y2="357.0" stroke="#0072bd" stroke-width="1.2"/>
<circle cx="227.6" cy="304.5" r="3.0" fill="none" stroke="#0072bd" stroke-width="1.1"/>
<circle cx="227.6" cy="311.0" r="3.0" fill="none" stroke="#0072bd" stroke-width="1.1"/>
<circle cx="227.6" cy="313.3" r="3.0" fill="none" stroke="#0072bd" stroke-width="1.1"/>
<circle cx="227.6" cy="315.7" r="3.0" fill="none" stroke="#0072bd" stroke-width="1.1"/>
<line x1="246.0" y1="315.7" x2="246.0" y2="381.8" stroke="#3d3d3d" stroke-width="1.3"/>
<line x1="244.0" y1="315.7" x2="248.0" y2="315.7" stroke="#3d3d3d" stroke-width="1.3"/>
<line x1="244.0" y1="381.8" x2="248.0" y2="381.8" stroke="#3d3d3d" stroke-width="1.3"/>
<rect x="241.3" y="340.5" width="9.4" height="18.9" rx="0.3" fill="#f7dbcf" stroke="#d95319" stroke-width="1.2"/>
<line x1="241.3" y1="349.9" x2="250.7" y2="349.9" stroke="#d95319" stroke-width="1.2"/>
<line x1="264.4" y1="316.9" x2="264.4" y2="384.1" stroke="#3d3d3d" stroke-width="1.3"/>
<line x1="262.4" y1="316.9" x2="266.4" y2="316.9" stroke="#3d3d3d" stroke-width="1.3"/>
<line x1="262.4" y1="384.1" x2="266.4" y2="384.1" stroke="#3d3d3d" stroke-width="1.3"/>
<rect x="259.8" y="342.8" width="9.4" height="21.2" rx="0.3" fill="#fcefd3" stroke="#edb120" stroke-width="1.2"/>
<line x1="259.8" y1="354.6" x2="269.1" y2="354.6" stroke="#edb120" stroke-width="1.2"/>
<circle cx="264.4" cy="300.4" r="3.0" fill="none" stroke="#edb120" stroke-width="1.1"/>
<circle cx="264.4" cy="309.8" r="3.0" fill="none" stroke="#edb120" stroke-width="1.1"/>
<circle cx="264.4" cy="312.2" r="3.0" fill="none" stroke="#edb120" stroke-width="1.1"/>
<line x1="300.9" y1="416" x2="300.9" y2="412.3" stroke="#333" stroke-width="0.8"/>
<text x="300.9" y="429.6" font-size="10.4" text-anchor="middle" fill="#262626" stroke="#262626" >ListSort</text>
<line x1="282.5" y1="300.4" x2="282.5" y2="378.2" stroke="#3d3d3d" stroke-width="1.3"/>
<line x1="280.5" y1="300.4" x2="284.5" y2="300.4" stroke="#3d3d3d" stroke-width="1.3"/>
<line x1="280.5" y1="378.2" x2="284.5" y2="378.2" stroke="#3d3d3d" stroke-width="1.3"/>
<rect x="277.8" y="329.9" width="9.4" height="20.1" rx="0.3" fill="#cde0f1" stroke="#0072bd" stroke-width="1.2"/>
<line x1="277.8" y1="339.3" x2="287.2" y2="339.3" stroke="#0072bd" stroke-width="1.2"/>
<circle cx="282.5" cy="294.5" r="3.0" fill="none" stroke="#0072bd" stroke-width="1.1"/>
<line x1="300.9" y1="290.9" x2="300.9" y2="374.7" stroke="#3d3d3d" stroke-width="1.3"/>
<line x1="298.9" y1="290.9" x2="302.9" y2="290.9" stroke="#3d3d3d" stroke-width="1.3"/>
<line x1="298.9" y1="374.7" x2="302.9" y2="374.7" stroke="#3d3d3d" stroke-width="1.3"/>
<rect x="296.2" y="325.1" width="9.4" height="23.6" rx="0.3" fill="#f7dbcf" stroke="#d95319" stroke-width="1.2"/>
<line x1="296.2" y1="334.6" x2="305.6" y2="334.6" stroke="#d95319" stroke-width="1.2"/>
<line x1="319.3" y1="305.1" x2="319.3" y2="374.7" stroke="#3d3d3d" stroke-width="1.3"/>
<line x1="317.3" y1="305.1" x2="321.3" y2="305.1" stroke="#3d3d3d" stroke-width="1.3"/>
<line x1="317.3" y1="374.7" x2="321.3" y2="374.7" stroke="#3d3d3d" stroke-width="1.3"/>
<rect x="314.6" y="329.9" width="9.4" height="21.2" rx="0.3" fill="#fcefd3" stroke="#edb120" stroke-width="1.2"/>
<line x1="314.6" y1="342.8" x2="324.0" y2="342.8" stroke="#edb120" stroke-width="1.2"/>
<circle cx="319.3" cy="295.6" r="3.0" fill="none" stroke="#edb120" stroke-width="1.1"/>
<line x1="355.8" y1="416" x2="355.8" y2="412.3" stroke="#333" stroke-width="0.8"/>
<text x="355.8" y="429.6" font-size="10.4" text-anchor="middle" fill="#262626" stroke="#262626" >Reading</text>
<line x1="337.4" y1="290.9" x2="337.4" y2="378.2" stroke="#3d3d3d" stroke-width="1.3"/>
<line x1="335.4" y1="290.9" x2="339.4" y2="290.9" stroke="#3d3d3d" stroke-width="1.3"/>
<line x1="335.4" y1="378.2" x2="339.4" y2="378.2" stroke="#3d3d3d" stroke-width="1.3"/>
<rect x="332.7" y="319.8" width="9.4" height="27.7" rx="0.3" fill="#cde0f1" stroke="#0072bd" stroke-width="1.2"/>
<line x1="332.7" y1="333.4" x2="342.1" y2="333.4" stroke="#0072bd" stroke-width="1.2"/>
<line x1="355.8" y1="290.9" x2="355.8" y2="371.2" stroke="#3d3d3d" stroke-width="1.3"/>
<line x1="353.8" y1="290.9" x2="357.8" y2="290.9" stroke="#3d3d3d" stroke-width="1.3"/>
<line x1="353.8" y1="371.2" x2="357.8" y2="371.2" stroke="#3d3d3d" stroke-width="1.3"/>
<rect x="351.1" y="317.7" width="9.4" height="28.7" rx="0.3" fill="#f7dbcf" stroke="#d95319" stroke-width="1.2"/>
<line x1="351.1" y1="330.3" x2="360.4" y2="330.3" stroke="#d95319" stroke-width="1.2"/>
<line x1="374.1" y1="290.9" x2="374.1" y2="378.2" stroke="#3d3d3d" stroke-width="1.3"/>
<line x1="372.1" y1="290.9" x2="376.1" y2="290.9" stroke="#3d3d3d" stroke-width="1.3"/>
<line x1="372.1" y1="378.2" x2="376.1" y2="378.2" stroke="#3d3d3d" stroke-width="1.3"/>
<rect x="369.4" y="316.9" width="9.4" height="27.1" rx="0.3" fill="#fcefd3" stroke="#edb120" stroke-width="1.2"/>
<line x1="369.4" y1="330.3" x2="378.8" y2="330.3" stroke="#edb120" stroke-width="1.2"/>
<line x1="410.6" y1="416" x2="410.6" y2="412.3" stroke="#333" stroke-width="0.8"/>
<text x="410.6" y="429.6" font-size="10.4" text-anchor="middle" fill="#262626" stroke="#262626" >Pattern</text>
<line x1="392.2" y1="290.9" x2="392.2" y2="399.5" stroke="#3d3d3d" stroke-width="1.3"/>
<line x1="390.2" y1="290.9" x2="394.2" y2="290.9" stroke="#3d3d3d" stroke-width="1.3"/>
<line x1="390.2" y1="399.5" x2="394.2" y2="399.5" stroke="#3d3d3d" stroke-width="1.3"/>
<rect x="387.5" y="318.1" width="9.4" height="37.2" rx="0.3" fill="#cde0f1" stroke="#0072bd" stroke-width="1.2"/>
<line x1="387.5" y1="339.3" x2="396.9" y2="339.3" stroke="#0072bd" stroke-width="1.2"/>
<line x1="410.6" y1="290.9" x2="410.6" y2="399.5" stroke="#3d3d3d" stroke-width="1.3"/>
<line x1="408.6" y1="290.9" x2="412.6" y2="290.9" stroke="#3d3d3d" stroke-width="1.3"/>
<line x1="408.6" y1="399.5" x2="412.6" y2="399.5" stroke="#3d3d3d" stroke-width="1.3"/>
<rect x="405.9" y="317.5" width="9.4" height="33.6" rx="0.3" fill="#f7dbcf" stroke="#d95319" stroke-width="1.2"/>
<line x1="405.9" y1="336.9" x2="415.3" y2="336.9" stroke="#d95319" stroke-width="1.2"/>
<line x1="429.0" y1="290.9" x2="429.0" y2="399.5" stroke="#3d3d3d" stroke-width="1.3"/>
<line x1="427.0" y1="290.9" x2="431.0" y2="290.9" stroke="#3d3d3d" stroke-width="1.3"/>
<line x1="427.0" y1="399.5" x2="431.0" y2="399.5" stroke="#3d3d3d" stroke-width="1.3"/>
<rect x="424.3" y="316.9" width="9.4" height="34.7" rx="0.3" fill="#fcefd3" stroke="#edb120" stroke-width="1.2"/>
<line x1="424.3" y1="336.3" x2="433.7" y2="336.3" stroke="#edb120" stroke-width="1.2"/>
<line x1="465.4" y1="416" x2="465.4" y2="412.3" stroke="#333" stroke-width="0.8"/>
<text x="465.4" y="429.6" font-size="10.4" text-anchor="middle" fill="#262626" stroke="#262626" >PicSeq</text>
<line x1="447.1" y1="290.9" x2="447.1" y2="379.4" stroke="#3d3d3d" stroke-width="1.3"/>
<line x1="445.1" y1="290.9" x2="449.1" y2="290.9" stroke="#3d3d3d" stroke-width="1.3"/>
<line x1="445.1" y1="379.4" x2="449.1" y2="379.4" stroke="#3d3d3d" stroke-width="1.3"/>
<rect x="442.4" y="326.3" width="9.4" height="27.1" rx="0.3" fill="#cde0f1" stroke="#0072bd" stroke-width="1.2"/>
<line x1="442.4" y1="340.5" x2="451.8" y2="340.5" stroke="#0072bd" stroke-width="1.2"/>
<line x1="465.4" y1="290.9" x2="465.4" y2="375.9" stroke="#3d3d3d" stroke-width="1.3"/>
<line x1="463.4" y1="290.9" x2="467.4" y2="290.9" stroke="#3d3d3d" stroke-width="1.3"/>
<line x1="463.4" y1="375.9" x2="467.4" y2="375.9" stroke="#3d3d3d" stroke-width="1.3"/>
<rect x="460.8" y="320.4" width="9.4" height="30.7" rx="0.3" fill="#f7dbcf" stroke="#d95319" stroke-width="1.2"/>
<line x1="460.8" y1="335.8" x2="470.1" y2="335.8" stroke="#d95319" stroke-width="1.2"/>
<line x1="483.8" y1="290.9" x2="483.8" y2="378.2" stroke="#3d3d3d" stroke-width="1.3"/>
<line x1="481.8" y1="290.9" x2="485.8" y2="290.9" stroke="#3d3d3d" stroke-width="1.3"/>
<line x1="481.8" y1="378.2" x2="485.8" y2="378.2" stroke="#3d3d3d" stroke-width="1.3"/>
<rect x="479.1" y="324.0" width="9.4" height="30.0" rx="0.3" fill="#fcefd3" stroke="#edb120" stroke-width="1.2"/>
<line x1="479.1" y1="339.3" x2="488.5" y2="339.3" stroke="#edb120" stroke-width="1.2"/>
<line x1="520.3" y1="416" x2="520.3" y2="412.3" stroke="#333" stroke-width="0.8"/>
<text x="520.3" y="429.6" font-size="10.4" text-anchor="middle" fill="#262626" stroke="#262626" >PicVocab</text>
<line x1="501.9" y1="290.9" x2="501.9" y2="371.2" stroke="#3d3d3d" stroke-width="1.3"/>
<line x1="499.9" y1="290.9" x2="503.9" y2="290.9" stroke="#3d3d3d" stroke-width="1.3"/>
<line x1="499.9" y1="371.2" x2="503.9" y2="371.2" stroke="#3d3d3d" stroke-width="1.3"/>
<rect x="497.2" y="319.2" width="9.4" height="26.0" rx="0.3" fill="#cde0f1" stroke="#0072bd" stroke-width="1.2"/>
<line x1="497.2" y1="331.0" x2="506.6" y2="331.0" stroke="#0072bd" stroke-width="1.2"/>
<line x1="520.3" y1="290.9" x2="520.3" y2="378.2" stroke="#3d3d3d" stroke-width="1.3"/>
<line x1="518.3" y1="290.9" x2="522.3" y2="290.9" stroke="#3d3d3d" stroke-width="1.3"/>
<line x1="518.3" y1="378.2" x2="522.3" y2="378.2" stroke="#3d3d3d" stroke-width="1.3"/>
<rect x="515.6" y="311.0" width="9.4" height="29.5" rx="0.3" fill="#f7dbcf" stroke="#d95319" stroke-width="1.2"/>
<line x1="515.6" y1="326.3" x2="525.0" y2="326.3" stroke="#d95319" stroke-width="1.2"/>
<line x1="538.7" y1="290.9" x2="538.7" y2="377.1" stroke="#3d3d3d" stroke-width="1.3"/>
<line x1="536.7" y1="290.9" x2="540.7" y2="290.9" stroke="#3d3d3d" stroke-width="1.3"/>
<line x1="536.7" y1="377.1" x2="540.7" y2="377.1" stroke="#3d3d3d" stroke-width="1.3"/>
<rect x="534.0" y="314.5" width="9.4" height="28.3" rx="0.3" fill="#fcefd3" stroke="#edb120" stroke-width="1.2"/>
<line x1="534.0" y1="334.6" x2="543.4" y2="334.6" stroke="#edb120" stroke-width="1.2"/>
<line x1="172.6" y1="279.5" x2="210.1" y2="279.5" stroke="#222" stroke-width="0.9"/>
<polygon points="191.35,274.70 191.82,275.95 193.16,276.01 192.11,276.85 192.47,278.14 191.35,277.40 190.23,278.14 190.59,276.85 189.54,276.01 190.88,275.95" fill="#1a1a1a"/>
<line x1="227.2" y1="285.5" x2="246.6" y2="285.5" stroke="#222" stroke-width="0.9"/>
<polygon points="236.90,280.50 237.37,281.75 238.71,281.81 237.66,282.65 238.02,283.94 236.90,283.20 235.78,283.94 236.14,282.65 235.09,281.81 236.43,281.75" fill="#1a1a1a"/>
<line x1="282.2" y1="285.5" x2="301.6" y2="285.5" stroke="#222" stroke-width="0.9"/>
<polygon points="291.90,280.50 292.37,281.75 293.71,281.81 292.66,282.65 293.02,283.94 291.90,283.20 290.78,283.94 291.14,282.65 290.09,281.81 291.43,281.75" fill="#1a1a1a"/>
</svg></body></html>
